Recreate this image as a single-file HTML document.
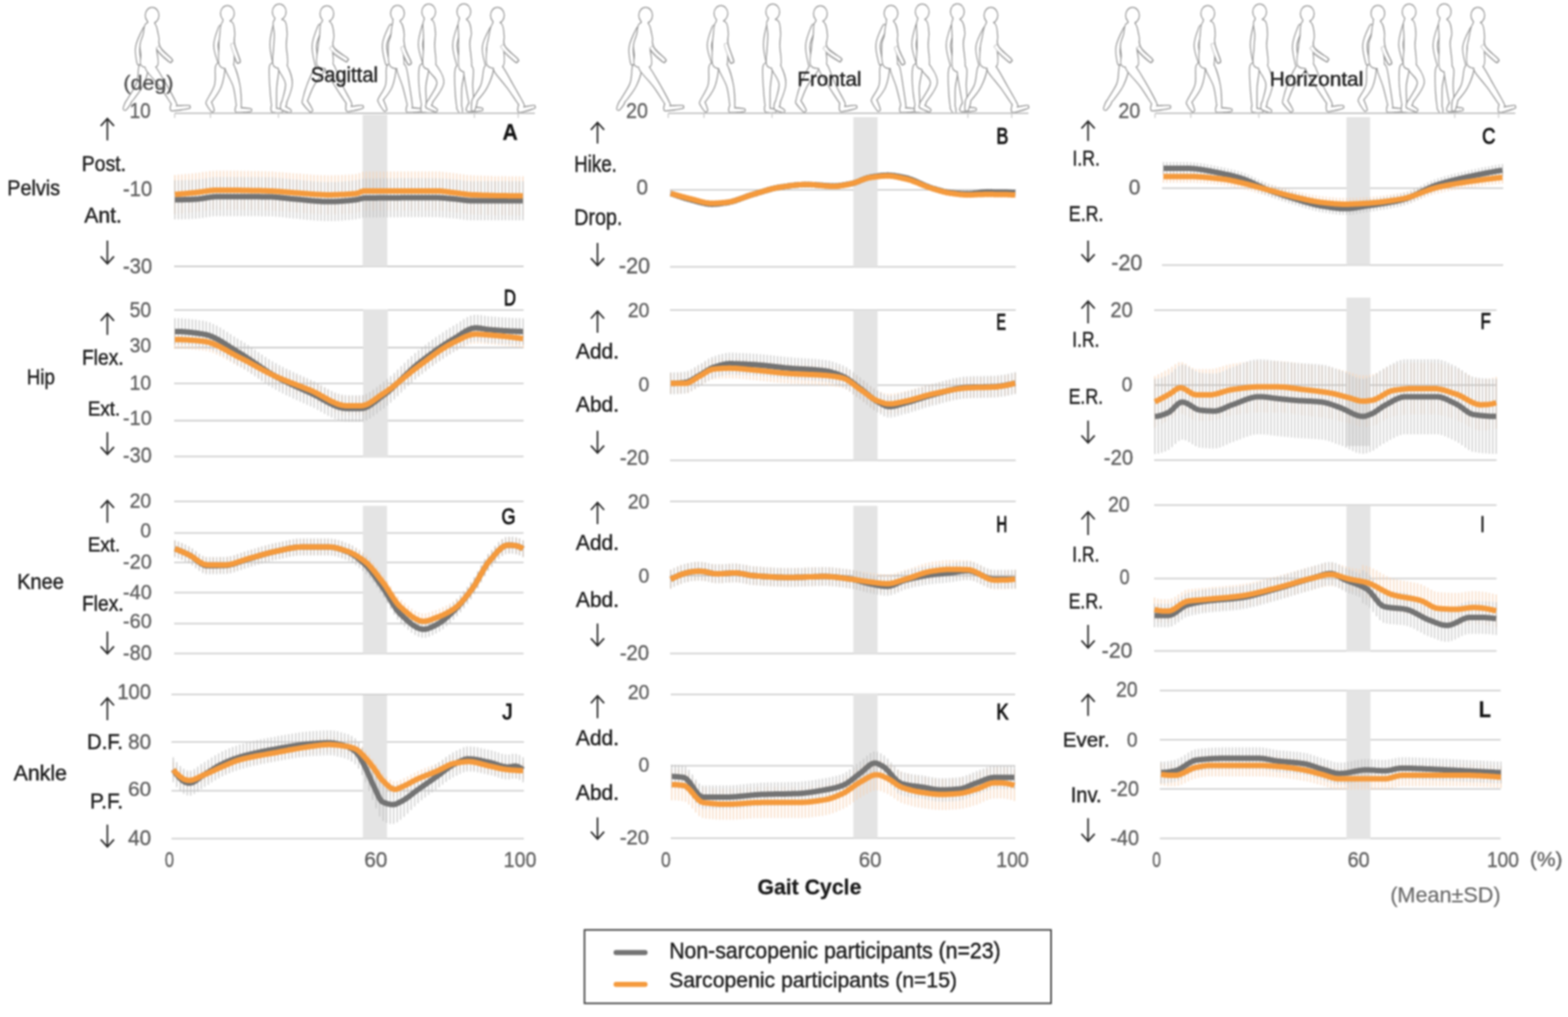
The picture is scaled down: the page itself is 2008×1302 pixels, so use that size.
<!DOCTYPE html><html><head><meta charset="utf-8"><title>Gait kinematics</title><style>html,body{margin:0;padding:0;background:#fff;}svg{display:block;filter:blur(0.8px);}</style></head><body><svg width="2008" height="1302" viewBox="0 0 2008 1302" font-family="'Liberation Sans', Arial, sans-serif"><g><rect x="0" y="0" width="2008" height="1302" fill="#fff"/>
<g transform="translate(-632,0)"><path d="M815.52 36.93 C813.42 40.91 807.60 52.43 806.33 59.64 C805.06 66.84 807.27 76.45 807.91 80.16 C808.54 83.87 809.44 81.94 810.14 81.88 C810.84 81.83 812.01 83.43 812.09 79.84 C812.18 76.26 809.27 67.16 810.67 60.36 C812.07 53.57 819.10 43.17 820.48 39.07 C821.86 34.97 819.79 36.13 818.96 35.77 C818.14 35.41 817.63 32.95 815.52 36.93Z" fill="#8c8c8c" stroke="#8c8c8c" stroke-width="2.5" stroke-linejoin="round"/><path d="M810.64 84.78 C809.04 89.01 810.10 99.22 807.49 106.54 C804.88 113.86 796.92 124.50 794.98 128.71 C793.03 132.93 795.17 131.39 795.84 131.82 C796.52 132.25 795.91 135.02 799.02 131.29 C802.14 127.56 810.78 116.81 814.51 109.46 C818.23 102.12 820.93 91.93 821.36 87.22 C821.79 82.50 818.88 81.58 817.10 81.17 C815.31 80.77 812.24 80.55 810.64 84.78Z" fill="#8c8c8c" stroke="#8c8c8c" stroke-width="2.5" stroke-linejoin="round"/><path d="M794.73 128.74 C793.25 129.88 791.01 136.18 790.43 138.13 C789.84 140.07 790.69 140.12 791.21 140.42 C791.74 140.71 792.23 141.40 793.57 139.87 C794.92 138.35 799.08 133.12 799.27 131.26 C799.47 129.41 796.20 127.59 794.73 128.74Z" fill="#8c8c8c" stroke="#8c8c8c" stroke-width="2.5" stroke-linejoin="round"/><path d="M815.52 36.93 C813.42 40.91 807.60 52.43 806.33 59.64 C805.06 66.84 807.27 76.45 807.91 80.16 C808.54 83.87 809.44 81.94 810.14 81.88 C810.84 81.83 812.01 83.43 812.09 79.84 C812.18 76.26 809.27 67.16 810.67 60.36 C812.07 53.57 819.10 43.17 820.48 39.07 C821.86 34.97 819.79 36.13 818.96 35.77 C818.14 35.41 817.63 32.95 815.52 36.93Z" fill="#fff"/><path d="M810.64 84.78 C809.04 89.01 810.10 99.22 807.49 106.54 C804.88 113.86 796.92 124.50 794.98 128.71 C793.03 132.93 795.17 131.39 795.84 131.82 C796.52 132.25 795.91 135.02 799.02 131.29 C802.14 127.56 810.78 116.81 814.51 109.46 C818.23 102.12 820.93 91.93 821.36 87.22 C821.79 82.50 818.88 81.58 817.10 81.17 C815.31 80.77 812.24 80.55 810.64 84.78Z" fill="#fff"/><path d="M794.73 128.74 C793.25 129.88 791.01 136.18 790.43 138.13 C789.84 140.07 790.69 140.12 791.21 140.42 C791.74 140.71 792.23 141.40 793.57 139.87 C794.92 138.35 799.08 133.12 799.27 131.26 C799.47 129.41 796.20 127.59 794.73 128.74Z" fill="#fff"/><path d="M819.00 31.00 C816.67 33.17 817.17 39.67 816.00 44.00 C814.83 48.33 812.50 52.67 812.00 57.00 C811.50 61.33 812.67 65.50 813.00 70.00 C813.33 74.50 810.67 81.67 814.00 84.00 C817.33 86.33 830.00 87.67 833.00 84.00 C836.00 80.33 831.67 67.33 832.00 62.00 C832.33 56.67 834.67 55.00 835.00 52.00 C835.33 49.00 834.83 47.50 834.00 44.00 C833.17 40.50 832.50 33.17 830.00 31.00 C827.50 28.83 821.33 28.83 819.00 31.00Z" fill="#8c8c8c" stroke="#8c8c8c" stroke-width="2.5" stroke-linejoin="round"/><path d="M819.55 89.23 C822.18 93.92 831.27 102.60 836.83 110.10 C842.40 117.60 849.73 130.11 852.94 134.23 C856.16 138.36 855.43 135.26 856.11 134.85 C856.80 134.44 859.22 136.59 857.06 131.77 C854.90 126.94 847.94 114.07 843.17 105.90 C838.40 97.74 832.13 86.75 828.45 82.77 C824.77 78.78 822.57 80.92 821.09 82.00 C819.61 83.08 816.93 84.55 819.55 89.23Z" fill="#8c8c8c" stroke="#8c8c8c" stroke-width="2.5" stroke-linejoin="round"/><path d="M852.53 132.18 C851.43 132.92 850.85 136.81 850.82 138.27 C850.79 139.74 851.62 140.72 852.35 140.96 C853.07 141.21 854.33 140.92 855.18 139.73 C856.04 138.54 857.91 135.08 857.47 133.82 C857.03 132.56 853.64 131.44 852.53 132.18Z" fill="#8c8c8c" stroke="#8c8c8c" stroke-width="2.5" stroke-linejoin="round"/><path d="M853.23 141.29 C856.93 141.19 869.63 139.33 873.16 138.59 C876.69 137.85 874.49 137.39 874.43 136.86 C874.38 136.33 876.45 135.43 872.84 135.41 C869.23 135.38 856.42 136.08 852.77 136.71 C849.12 137.34 850.86 138.44 850.94 139.21 C851.02 139.97 849.53 141.39 853.23 141.29Z" fill="#8c8c8c" stroke="#8c8c8c" stroke-width="2.5" stroke-linejoin="round"/><path d="M822.81 25.41 C821.64 26.68 820.81 31.98 821.81 33.38 C822.80 34.78 827.63 35.08 828.79 33.82 C829.96 32.55 829.79 27.19 828.79 25.79 C827.80 24.39 823.97 24.15 822.81 25.41Z" fill="#8c8c8c" stroke="#8c8c8c" stroke-width="2.5" stroke-linejoin="round"/><path d="M818.60 19.60 a8.2 9.5 0 1 0 16.4 0 a8.2 9.5 0 1 0 -16.4 0Z" fill="#8c8c8c" stroke="#8c8c8c" stroke-width="2.5" stroke-linejoin="round"/><path d="M827.37 40.60 C827.97 44.84 829.55 56.75 833.07 63.06 C836.60 69.38 845.47 75.94 848.52 78.48 C851.56 81.03 850.84 78.83 851.34 78.34 C851.83 77.84 853.89 78.42 851.48 75.52 C849.08 72.62 840.07 66.96 836.93 60.94 C833.78 54.92 833.88 43.29 832.63 39.40 C831.39 35.52 830.34 37.43 829.46 37.63 C828.58 37.83 826.77 36.36 827.37 40.60Z" fill="#8c8c8c" stroke="#8c8c8c" stroke-width="2.5" stroke-linejoin="round"/><path d="M819.00 31.00 C816.67 33.17 817.17 39.67 816.00 44.00 C814.83 48.33 812.50 52.67 812.00 57.00 C811.50 61.33 812.67 65.50 813.00 70.00 C813.33 74.50 810.67 81.67 814.00 84.00 C817.33 86.33 830.00 87.67 833.00 84.00 C836.00 80.33 831.67 67.33 832.00 62.00 C832.33 56.67 834.67 55.00 835.00 52.00 C835.33 49.00 834.83 47.50 834.00 44.00 C833.17 40.50 832.50 33.17 830.00 31.00 C827.50 28.83 821.33 28.83 819.00 31.00Z" fill="#fff"/><path d="M819.55 89.23 C822.18 93.92 831.27 102.60 836.83 110.10 C842.40 117.60 849.73 130.11 852.94 134.23 C856.16 138.36 855.43 135.26 856.11 134.85 C856.80 134.44 859.22 136.59 857.06 131.77 C854.90 126.94 847.94 114.07 843.17 105.90 C838.40 97.74 832.13 86.75 828.45 82.77 C824.77 78.78 822.57 80.92 821.09 82.00 C819.61 83.08 816.93 84.55 819.55 89.23Z" fill="#fff"/><path d="M852.53 132.18 C851.43 132.92 850.85 136.81 850.82 138.27 C850.79 139.74 851.62 140.72 852.35 140.96 C853.07 141.21 854.33 140.92 855.18 139.73 C856.04 138.54 857.91 135.08 857.47 133.82 C857.03 132.56 853.64 131.44 852.53 132.18Z" fill="#fff"/><path d="M853.23 141.29 C856.93 141.19 869.63 139.33 873.16 138.59 C876.69 137.85 874.49 137.39 874.43 136.86 C874.38 136.33 876.45 135.43 872.84 135.41 C869.23 135.38 856.42 136.08 852.77 136.71 C849.12 137.34 850.86 138.44 850.94 139.21 C851.02 139.97 849.53 141.39 853.23 141.29Z" fill="#fff"/><path d="M822.81 25.41 C821.64 26.68 820.81 31.98 821.81 33.38 C822.80 34.78 827.63 35.08 828.79 33.82 C829.96 32.55 829.79 27.19 828.79 25.79 C827.80 24.39 823.97 24.15 822.81 25.41Z" fill="#fff"/><path d="M818.60 19.60 a8.2 9.5 0 1 0 16.4 0 a8.2 9.5 0 1 0 -16.4 0Z" fill="#fff"/><path d="M827.37 40.60 C827.97 44.84 829.55 56.75 833.07 63.06 C836.60 69.38 845.47 75.94 848.52 78.48 C851.56 81.03 850.84 78.83 851.34 78.34 C851.83 77.84 853.89 78.42 851.48 75.52 C849.08 72.62 840.07 66.96 836.93 60.94 C833.78 54.92 833.88 43.29 832.63 39.40 C831.39 35.52 830.34 37.43 829.46 37.63 C828.58 37.83 826.77 36.36 827.37 40.60Z" fill="#fff"/><path d="M833.30 63.70 C835.80 66.70 845.47 76.08 848.48 78.52 C851.49 80.97 850.86 78.88 851.37 78.37 C851.88 77.86 853.97 78.49 851.52 75.48 C849.08 72.47 839.70 62.80 836.70 60.30 C833.69 57.80 834.04 59.91 833.47 60.47 C832.91 61.04 830.80 60.69 833.30 63.70Z" fill="none" stroke="#8c8c8c" stroke-width="1.0" stroke-opacity="0.6"/><path d="M912.41 35.23 C910.85 39.28 906.38 50.41 906.30 57.95 C906.23 65.50 910.60 76.53 911.96 80.51 C913.32 84.49 913.78 82.00 914.46 81.83 C915.14 81.66 916.66 83.46 916.04 79.49 C915.41 75.53 910.44 65.17 910.70 58.05 C910.96 50.93 916.76 40.83 917.59 36.77 C918.42 32.70 916.55 33.92 915.69 33.67 C914.83 33.41 913.98 31.19 912.41 35.23Z" fill="#8c8c8c" stroke="#8c8c8c" stroke-width="2.5" stroke-linejoin="round"/><path d="M908.54 85.32 C907.34 89.94 909.33 101.38 907.40 108.80 C905.46 116.21 898.49 125.80 896.92 129.81 C895.34 133.82 897.23 132.48 897.93 132.88 C898.62 133.27 898.30 135.80 901.08 132.19 C903.86 128.58 911.54 118.79 914.60 111.20 C917.67 103.62 919.46 91.70 919.46 86.68 C919.46 81.66 916.43 81.32 914.61 81.09 C912.79 80.86 909.75 80.70 908.54 85.32Z" fill="#8c8c8c" stroke="#8c8c8c" stroke-width="2.5" stroke-linejoin="round"/><path d="M896.67 132.16 C896.85 134.16 901.05 140.09 902.39 141.80 C903.73 143.52 904.19 142.72 904.72 142.45 C905.26 142.18 906.18 142.30 905.61 140.20 C905.04 138.09 902.81 131.18 901.33 129.84 C899.84 128.50 896.50 130.17 896.67 132.16Z" fill="#8c8c8c" stroke="#8c8c8c" stroke-width="2.5" stroke-linejoin="round"/><path d="M912.41 35.23 C910.85 39.28 906.38 50.41 906.30 57.95 C906.23 65.50 910.60 76.53 911.96 80.51 C913.32 84.49 913.78 82.00 914.46 81.83 C915.14 81.66 916.66 83.46 916.04 79.49 C915.41 75.53 910.44 65.17 910.70 58.05 C910.96 50.93 916.76 40.83 917.59 36.77 C918.42 32.70 916.55 33.92 915.69 33.67 C914.83 33.41 913.98 31.19 912.41 35.23Z" fill="#fff"/><path d="M908.54 85.32 C907.34 89.94 909.33 101.38 907.40 108.80 C905.46 116.21 898.49 125.80 896.92 129.81 C895.34 133.82 897.23 132.48 897.93 132.88 C898.62 133.27 898.30 135.80 901.08 132.19 C903.86 128.58 911.54 118.79 914.60 111.20 C917.67 103.62 919.46 91.70 919.46 86.68 C919.46 81.66 916.43 81.32 914.61 81.09 C912.79 80.86 909.75 80.70 908.54 85.32Z" fill="#fff"/><path d="M896.67 132.16 C896.85 134.16 901.05 140.09 902.39 141.80 C903.73 143.52 904.19 142.72 904.72 142.45 C905.26 142.18 906.18 142.30 905.61 140.20 C905.04 138.09 902.81 131.18 901.33 129.84 C899.84 128.50 896.50 130.17 896.67 132.16Z" fill="#fff"/><path d="M917.00 29.00 C914.50 31.83 914.67 40.83 914.00 46.00 C913.33 51.17 913.00 53.67 913.00 60.00 C913.00 66.33 911.17 80.00 914.00 84.00 C916.83 88.00 927.17 88.83 930.00 84.00 C932.83 79.17 930.67 62.00 931.00 55.00 C931.33 48.00 932.33 46.33 932.00 42.00 C931.67 37.67 931.50 31.17 929.00 29.00 C926.50 26.83 919.50 26.17 917.00 29.00Z" fill="#8c8c8c" stroke="#8c8c8c" stroke-width="2.5" stroke-linejoin="round"/><path d="M920.85 87.93 C922.02 92.85 928.85 102.83 931.31 110.89 C933.77 118.95 934.46 131.73 935.62 136.28 C936.77 140.82 937.45 138.24 938.25 138.15 C939.04 138.05 940.31 140.56 940.38 135.72 C940.46 130.89 940.23 117.72 938.69 109.11 C937.15 100.50 933.56 88.69 931.15 84.07 C928.74 79.44 925.98 80.72 924.26 81.37 C922.55 82.01 919.68 83.01 920.85 87.93Z" fill="#8c8c8c" stroke="#8c8c8c" stroke-width="2.5" stroke-linejoin="round"/><path d="M935.59 135.03 C934.49 135.56 933.92 138.83 933.86 140.15 C933.81 141.46 934.52 142.64 935.23 142.92 C935.94 143.21 937.27 142.85 938.14 141.85 C939.00 140.86 940.84 138.10 940.41 136.97 C939.99 135.83 936.68 134.50 935.59 135.03Z" fill="#8c8c8c" stroke="#8c8c8c" stroke-width="2.5" stroke-linejoin="round"/><path d="M936.00 143.30 C939.01 143.57 949.09 142.98 952.00 142.60 C954.91 142.22 953.44 141.53 953.44 141.00 C953.44 140.47 954.91 139.78 952.00 139.40 C949.09 139.02 939.01 138.43 936.00 138.70 C932.99 138.97 933.93 140.23 933.93 141.00 C933.93 141.77 932.99 143.03 936.00 143.30Z" fill="#8c8c8c" stroke="#8c8c8c" stroke-width="2.5" stroke-linejoin="round"/><path d="M919.21 23.11 C918.04 24.38 917.21 29.68 918.21 31.08 C919.20 32.48 924.03 32.78 925.19 31.52 C926.36 30.25 926.19 24.89 925.19 23.49 C924.20 22.09 920.37 21.85 919.21 23.11Z" fill="#8c8c8c" stroke="#8c8c8c" stroke-width="2.5" stroke-linejoin="round"/><path d="M915.00 17.30 a8.2 9.5 0 1 0 16.4 0 a8.2 9.5 0 1 0 -16.4 0Z" fill="#8c8c8c" stroke="#8c8c8c" stroke-width="2.5" stroke-linejoin="round"/><path d="M924.32 36.36 C924.52 40.52 926.08 51.46 927.86 58.51 C929.64 65.57 933.39 75.15 935.02 78.69 C936.65 82.24 936.96 80.02 937.62 79.78 C938.29 79.55 939.90 81.02 938.98 77.31 C938.07 73.59 933.69 64.43 932.14 57.49 C930.59 50.54 930.59 39.62 929.68 35.64 C928.76 31.65 927.56 33.47 926.67 33.59 C925.78 33.71 924.13 32.21 924.32 36.36Z" fill="#8c8c8c" stroke="#8c8c8c" stroke-width="2.5" stroke-linejoin="round"/><path d="M917.00 29.00 C914.50 31.83 914.67 40.83 914.00 46.00 C913.33 51.17 913.00 53.67 913.00 60.00 C913.00 66.33 911.17 80.00 914.00 84.00 C916.83 88.00 927.17 88.83 930.00 84.00 C932.83 79.17 930.67 62.00 931.00 55.00 C931.33 48.00 932.33 46.33 932.00 42.00 C931.67 37.67 931.50 31.17 929.00 29.00 C926.50 26.83 919.50 26.17 917.00 29.00Z" fill="#fff"/><path d="M920.85 87.93 C922.02 92.85 928.85 102.83 931.31 110.89 C933.77 118.95 934.46 131.73 935.62 136.28 C936.77 140.82 937.45 138.24 938.25 138.15 C939.04 138.05 940.31 140.56 940.38 135.72 C940.46 130.89 940.23 117.72 938.69 109.11 C937.15 100.50 933.56 88.69 931.15 84.07 C928.74 79.44 925.98 80.72 924.26 81.37 C922.55 82.01 919.68 83.01 920.85 87.93Z" fill="#fff"/><path d="M935.59 135.03 C934.49 135.56 933.92 138.83 933.86 140.15 C933.81 141.46 934.52 142.64 935.23 142.92 C935.94 143.21 937.27 142.85 938.14 141.85 C939.00 140.86 940.84 138.10 940.41 136.97 C939.99 135.83 936.68 134.50 935.59 135.03Z" fill="#fff"/><path d="M936.00 143.30 C939.01 143.57 949.09 142.98 952.00 142.60 C954.91 142.22 953.44 141.53 953.44 141.00 C953.44 140.47 954.91 139.78 952.00 139.40 C949.09 139.02 939.01 138.43 936.00 138.70 C932.99 138.97 933.93 140.23 933.93 141.00 C933.93 141.77 932.99 143.03 936.00 143.30Z" fill="#fff"/><path d="M919.21 23.11 C918.04 24.38 917.21 29.68 918.21 31.08 C919.20 32.48 924.03 32.78 925.19 31.52 C926.36 30.25 926.19 24.89 925.19 23.49 C924.20 22.09 920.37 21.85 919.21 23.11Z" fill="#fff"/><path d="M915.00 17.30 a8.2 9.5 0 1 0 16.4 0 a8.2 9.5 0 1 0 -16.4 0Z" fill="#fff"/><path d="M924.32 36.36 C924.52 40.52 926.08 51.46 927.86 58.51 C929.64 65.57 933.39 75.15 935.02 78.69 C936.65 82.24 936.96 80.02 937.62 79.78 C938.29 79.55 939.90 81.02 938.98 77.31 C938.07 73.59 933.69 64.43 932.14 57.49 C930.59 50.54 930.59 39.62 929.68 35.64 C928.76 31.65 927.56 33.47 926.67 33.59 C925.78 33.71 924.13 32.21 924.32 36.36Z" fill="#fff"/><path d="M927.73 58.79 C928.68 62.58 933.32 75.20 934.97 78.71 C936.62 82.22 936.96 80.06 937.64 79.83 C938.32 79.59 939.92 81.06 939.03 77.29 C938.13 73.52 933.89 60.76 932.27 57.21 C930.64 53.65 930.04 55.70 929.29 55.96 C928.53 56.23 926.79 55.00 927.73 58.79Z" fill="none" stroke="#8c8c8c" stroke-width="1.0" stroke-opacity="0.6"/><path d="M982.35 32.50 C981.15 36.89 978.37 48.99 978.30 56.96 C978.23 64.93 980.93 76.16 981.92 80.32 C982.92 84.47 983.59 81.97 984.28 81.87 C984.98 81.76 986.34 83.82 986.08 79.68 C985.81 75.55 982.44 64.74 982.70 57.04 C982.96 49.34 987.20 37.90 987.65 33.50 C988.11 29.09 986.33 30.78 985.45 30.61 C984.56 30.45 983.54 28.11 982.35 32.50Z" fill="#8c8c8c" stroke="#8c8c8c" stroke-width="2.5" stroke-linejoin="round"/><path d="M977.50 85.79 C976.67 90.95 977.68 103.62 978.20 112.01 C978.72 120.39 979.79 131.74 980.60 136.10 C981.42 140.46 982.29 138.19 983.09 138.16 C983.89 138.12 984.95 140.26 985.40 135.90 C985.85 131.54 985.28 120.28 985.80 111.99 C986.32 103.71 988.93 91.37 988.50 86.21 C988.06 81.05 985.02 81.12 983.19 81.05 C981.36 80.98 978.34 80.63 977.50 85.79Z" fill="#8c8c8c" stroke="#8c8c8c" stroke-width="2.5" stroke-linejoin="round"/><path d="M980.45 135.49 C979.48 136.16 979.55 139.29 979.74 140.55 C979.94 141.81 980.84 142.88 981.59 143.03 C982.35 143.18 983.60 142.54 984.26 141.45 C984.91 140.36 986.18 137.50 985.55 136.51 C984.92 135.52 981.42 134.82 980.45 135.49Z" fill="#8c8c8c" stroke="#8c8c8c" stroke-width="2.5" stroke-linejoin="round"/><path d="M981.77 143.29 C983.75 143.75 989.90 143.78 991.84 143.59 C993.78 143.40 993.38 142.67 993.43 142.14 C993.49 141.61 994.03 140.98 992.16 140.41 C990.29 139.84 984.27 138.65 982.23 138.71 C980.19 138.78 980.02 140.03 979.94 140.79 C979.86 141.56 979.79 142.82 981.77 143.29Z" fill="#8c8c8c" stroke="#8c8c8c" stroke-width="2.5" stroke-linejoin="round"/><path d="M982.35 32.50 C981.15 36.89 978.37 48.99 978.30 56.96 C978.23 64.93 980.93 76.16 981.92 80.32 C982.92 84.47 983.59 81.97 984.28 81.87 C984.98 81.76 986.34 83.82 986.08 79.68 C985.81 75.55 982.44 64.74 982.70 57.04 C982.96 49.34 987.20 37.90 987.65 33.50 C988.11 29.09 986.33 30.78 985.45 30.61 C984.56 30.45 983.54 28.11 982.35 32.50Z" fill="#fff"/><path d="M977.50 85.79 C976.67 90.95 977.68 103.62 978.20 112.01 C978.72 120.39 979.79 131.74 980.60 136.10 C981.42 140.46 982.29 138.19 983.09 138.16 C983.89 138.12 984.95 140.26 985.40 135.90 C985.85 131.54 985.28 120.28 985.80 111.99 C986.32 103.71 988.93 91.37 988.50 86.21 C988.06 81.05 985.02 81.12 983.19 81.05 C981.36 80.98 978.34 80.63 977.50 85.79Z" fill="#fff"/><path d="M980.45 135.49 C979.48 136.16 979.55 139.29 979.74 140.55 C979.94 141.81 980.84 142.88 981.59 143.03 C982.35 143.18 983.60 142.54 984.26 141.45 C984.91 140.36 986.18 137.50 985.55 136.51 C984.92 135.52 981.42 134.82 980.45 135.49Z" fill="#fff"/><path d="M981.77 143.29 C983.75 143.75 989.90 143.78 991.84 143.59 C993.78 143.40 993.38 142.67 993.43 142.14 C993.49 141.61 994.03 140.98 992.16 140.41 C990.29 139.84 984.27 138.65 982.23 138.71 C980.19 138.78 980.02 140.03 979.94 140.79 C979.86 141.56 979.79 142.82 981.77 143.29Z" fill="#fff"/><path d="M983.00 27.00 C981.00 30.00 984.00 39.17 984.00 45.00 C984.00 50.83 983.17 55.50 983.00 62.00 C982.83 68.50 980.33 80.33 983.00 84.00 C985.67 87.67 996.50 88.33 999.00 84.00 C1001.50 79.67 998.00 65.00 998.00 58.00 C998.00 51.00 999.33 47.17 999.00 42.00 C998.67 36.83 998.67 29.50 996.00 27.00 C993.33 24.50 985.00 24.00 983.00 27.00Z" fill="#8c8c8c" stroke="#8c8c8c" stroke-width="2.5" stroke-linejoin="round"/><path d="M988.86 87.96 C989.86 92.27 997.40 100.15 998.21 107.23 C999.01 114.30 994.13 126.11 993.67 130.42 C993.22 134.73 994.70 132.90 995.48 133.10 C996.25 133.29 996.61 135.97 998.33 131.58 C1000.05 127.20 1005.66 114.70 1005.79 106.77 C1005.93 98.85 1001.40 88.28 999.14 84.04 C996.88 79.81 993.95 80.72 992.24 81.37 C990.52 82.03 987.87 83.65 988.86 87.96Z" fill="#8c8c8c" stroke="#8c8c8c" stroke-width="2.5" stroke-linejoin="round"/><path d="M993.50 130.29 C992.38 131.23 991.80 135.75 991.79 137.37 C991.78 138.99 992.69 139.78 993.43 139.99 C994.17 140.20 995.37 140.01 996.21 138.63 C997.06 137.25 998.95 133.11 998.50 131.71 C998.05 130.32 994.62 129.34 993.50 130.29Z" fill="#8c8c8c" stroke="#8c8c8c" stroke-width="2.5" stroke-linejoin="round"/><path d="M993.07 140.10 C994.77 141.15 1000.48 143.05 1002.35 143.46 C1004.23 143.88 1004.10 143.07 1004.32 142.58 C1004.53 142.10 1005.21 141.65 1003.65 140.54 C1002.09 139.42 996.86 136.46 994.93 135.90 C993.01 135.34 992.42 136.46 992.11 137.16 C991.80 137.86 991.36 139.05 993.07 140.10Z" fill="#8c8c8c" stroke="#8c8c8c" stroke-width="2.5" stroke-linejoin="round"/><path d="M985.61 21.11 C984.44 22.38 983.61 27.68 984.61 29.08 C985.60 30.48 990.43 30.78 991.59 29.52 C992.76 28.25 992.59 22.89 991.59 21.49 C990.60 20.09 986.77 19.85 985.61 21.11Z" fill="#8c8c8c" stroke="#8c8c8c" stroke-width="2.5" stroke-linejoin="round"/><path d="M981.40 15.30 a8.2 9.5 0 1 0 16.4 0 a8.2 9.5 0 1 0 -16.4 0Z" fill="#8c8c8c" stroke="#8c8c8c" stroke-width="2.5" stroke-linejoin="round"/><path d="M990.30 33.00 C989.93 37.41 990.53 49.20 990.80 57.05 C991.07 64.90 991.36 75.95 991.90 80.09 C992.45 84.23 993.38 81.92 994.08 81.89 C994.78 81.86 995.91 84.06 996.10 79.91 C996.28 75.75 995.27 64.77 995.20 56.95 C995.13 49.13 996.07 37.40 995.70 33.00 C995.33 28.60 993.90 30.57 993.00 30.57 C992.10 30.57 990.67 28.59 990.30 33.00Z" fill="#8c8c8c" stroke="#8c8c8c" stroke-width="2.5" stroke-linejoin="round"/><path d="M983.00 27.00 C981.00 30.00 984.00 39.17 984.00 45.00 C984.00 50.83 983.17 55.50 983.00 62.00 C982.83 68.50 980.33 80.33 983.00 84.00 C985.67 87.67 996.50 88.33 999.00 84.00 C1001.50 79.67 998.00 65.00 998.00 58.00 C998.00 51.00 999.33 47.17 999.00 42.00 C998.67 36.83 998.67 29.50 996.00 27.00 C993.33 24.50 985.00 24.00 983.00 27.00Z" fill="#fff"/><path d="M988.86 87.96 C989.86 92.27 997.40 100.15 998.21 107.23 C999.01 114.30 994.13 126.11 993.67 130.42 C993.22 134.73 994.70 132.90 995.48 133.10 C996.25 133.29 996.61 135.97 998.33 131.58 C1000.05 127.20 1005.66 114.70 1005.79 106.77 C1005.93 98.85 1001.40 88.28 999.14 84.04 C996.88 79.81 993.95 80.72 992.24 81.37 C990.52 82.03 987.87 83.65 988.86 87.96Z" fill="#fff"/><path d="M993.50 130.29 C992.38 131.23 991.80 135.75 991.79 137.37 C991.78 138.99 992.69 139.78 993.43 139.99 C994.17 140.20 995.37 140.01 996.21 138.63 C997.06 137.25 998.95 133.11 998.50 131.71 C998.05 130.32 994.62 129.34 993.50 130.29Z" fill="#fff"/><path d="M993.07 140.10 C994.77 141.15 1000.48 143.05 1002.35 143.46 C1004.23 143.88 1004.10 143.07 1004.32 142.58 C1004.53 142.10 1005.21 141.65 1003.65 140.54 C1002.09 139.42 996.86 136.46 994.93 135.90 C993.01 135.34 992.42 136.46 992.11 137.16 C991.80 137.86 991.36 139.05 993.07 140.10Z" fill="#fff"/><path d="M985.61 21.11 C984.44 22.38 983.61 27.68 984.61 29.08 C985.60 30.48 990.43 30.78 991.59 29.52 C992.76 28.25 992.59 22.89 991.59 21.49 C990.60 20.09 986.77 19.85 985.61 21.11Z" fill="#fff"/><path d="M981.40 15.30 a8.2 9.5 0 1 0 16.4 0 a8.2 9.5 0 1 0 -16.4 0Z" fill="#fff"/><path d="M990.30 33.00 C989.93 37.41 990.53 49.20 990.80 57.05 C991.07 64.90 991.36 75.95 991.90 80.09 C992.45 84.23 993.38 81.92 994.08 81.89 C994.78 81.86 995.91 84.06 996.10 79.91 C996.28 75.75 995.27 64.77 995.20 56.95 C995.13 49.13 996.07 37.40 995.70 33.00 C995.33 28.60 993.90 30.57 993.00 30.57 C992.10 30.57 990.67 28.59 990.30 33.00Z" fill="#fff"/><path d="M1039.43 34.16 C1037.69 38.35 1032.89 49.79 1032.31 57.81 C1031.72 65.84 1034.93 77.96 1035.92 82.30 C1036.92 86.65 1037.58 83.97 1038.27 83.87 C1038.97 83.77 1040.34 85.98 1040.08 81.70 C1039.81 77.42 1035.94 65.83 1036.69 58.19 C1037.44 50.54 1043.56 40.09 1044.57 35.84 C1045.58 31.59 1043.61 32.97 1042.75 32.69 C1041.90 32.41 1041.17 29.98 1039.43 34.16Z" fill="#8c8c8c" stroke="#8c8c8c" stroke-width="2.5" stroke-linejoin="round"/><path d="M1038.26 83.20 C1035.11 87.31 1029.65 98.71 1026.56 106.38 C1023.48 114.04 1020.63 124.90 1019.74 129.18 C1018.86 133.46 1020.51 131.76 1021.26 132.03 C1022.01 132.30 1022.23 134.55 1024.26 130.82 C1026.28 127.09 1029.52 116.63 1033.44 109.62 C1037.35 102.62 1045.72 93.45 1047.74 88.80 C1049.75 84.15 1047.10 82.67 1045.52 81.74 C1043.94 80.81 1041.42 79.10 1038.26 83.20Z" fill="#8c8c8c" stroke="#8c8c8c" stroke-width="2.5" stroke-linejoin="round"/><path d="M1019.90 131.53 C1020.64 133.79 1026.70 140.26 1028.54 142.06 C1030.39 143.86 1030.47 142.66 1030.95 142.31 C1031.44 141.96 1032.60 142.25 1031.46 139.94 C1030.31 137.63 1026.03 129.87 1024.10 128.47 C1022.18 127.07 1019.16 129.26 1019.90 131.53Z" fill="#8c8c8c" stroke="#8c8c8c" stroke-width="2.5" stroke-linejoin="round"/><path d="M1039.43 34.16 C1037.69 38.35 1032.89 49.79 1032.31 57.81 C1031.72 65.84 1034.93 77.96 1035.92 82.30 C1036.92 86.65 1037.58 83.97 1038.27 83.87 C1038.97 83.77 1040.34 85.98 1040.08 81.70 C1039.81 77.42 1035.94 65.83 1036.69 58.19 C1037.44 50.54 1043.56 40.09 1044.57 35.84 C1045.58 31.59 1043.61 32.97 1042.75 32.69 C1041.90 32.41 1041.17 29.98 1039.43 34.16Z" fill="#fff"/><path d="M1038.26 83.20 C1035.11 87.31 1029.65 98.71 1026.56 106.38 C1023.48 114.04 1020.63 124.90 1019.74 129.18 C1018.86 133.46 1020.51 131.76 1021.26 132.03 C1022.01 132.30 1022.23 134.55 1024.26 130.82 C1026.28 127.09 1029.52 116.63 1033.44 109.62 C1037.35 102.62 1045.72 93.45 1047.74 88.80 C1049.75 84.15 1047.10 82.67 1045.52 81.74 C1043.94 80.81 1041.42 79.10 1038.26 83.20Z" fill="#fff"/><path d="M1019.90 131.53 C1020.64 133.79 1026.70 140.26 1028.54 142.06 C1030.39 143.86 1030.47 142.66 1030.95 142.31 C1031.44 141.96 1032.60 142.25 1031.46 139.94 C1030.31 137.63 1026.03 129.87 1024.10 128.47 C1022.18 127.07 1019.16 129.26 1019.90 131.53Z" fill="#fff"/><path d="M1044.00 29.00 C1041.83 31.83 1042.67 40.83 1042.00 46.00 C1041.33 51.17 1040.50 53.67 1040.00 60.00 C1039.50 66.33 1036.17 80.00 1039.00 84.00 C1041.83 88.00 1054.00 88.00 1057.00 84.00 C1060.00 80.00 1056.67 66.50 1057.00 60.00 C1057.33 53.50 1059.33 50.17 1059.00 45.00 C1058.67 39.83 1057.50 31.67 1055.00 29.00 C1052.50 26.33 1046.17 26.17 1044.00 29.00Z" fill="#8c8c8c" stroke="#8c8c8c" stroke-width="2.5" stroke-linejoin="round"/><path d="M1049.08 88.46 C1050.89 93.50 1058.02 104.36 1062.66 111.82 C1067.30 119.28 1074.03 129.55 1076.93 133.22 C1079.84 136.89 1079.41 134.27 1080.10 133.86 C1080.79 133.45 1082.86 135.06 1081.07 130.78 C1079.27 126.50 1073.03 116.06 1069.34 108.18 C1065.65 100.31 1061.84 87.98 1058.92 83.54 C1055.99 79.11 1053.43 80.75 1051.79 81.57 C1050.15 82.39 1047.27 83.42 1049.08 88.46Z" fill="#8c8c8c" stroke="#8c8c8c" stroke-width="2.5" stroke-linejoin="round"/><path d="M1076.42 131.68 C1075.44 132.91 1075.50 137.99 1075.72 139.71 C1075.94 141.44 1076.98 141.96 1077.74 142.05 C1078.50 142.15 1079.64 141.91 1080.28 140.29 C1080.92 138.66 1082.22 133.76 1081.58 132.32 C1080.94 130.89 1077.40 130.45 1076.42 131.68Z" fill="#8c8c8c" stroke="#8c8c8c" stroke-width="2.5" stroke-linejoin="round"/><path d="M1078.40 142.27 C1081.62 141.97 1092.27 139.49 1095.28 138.58 C1098.28 137.66 1096.51 137.27 1096.42 136.75 C1096.33 136.22 1097.86 135.26 1094.72 135.42 C1091.59 135.59 1080.73 136.91 1077.60 137.73 C1074.47 138.56 1075.83 139.60 1075.96 140.36 C1076.09 141.11 1075.18 142.56 1078.40 142.27Z" fill="#8c8c8c" stroke="#8c8c8c" stroke-width="2.5" stroke-linejoin="round"/><path d="M1046.61 23.31 C1045.44 24.58 1044.61 29.88 1045.61 31.28 C1046.60 32.68 1051.43 32.98 1052.59 31.72 C1053.76 30.45 1053.59 25.09 1052.59 23.69 C1051.60 22.29 1047.77 22.05 1046.61 23.31Z" fill="#8c8c8c" stroke="#8c8c8c" stroke-width="2.5" stroke-linejoin="round"/><path d="M1042.40 17.50 a8.2 9.5 0 1 0 16.4 0 a8.2 9.5 0 1 0 -16.4 0Z" fill="#8c8c8c" stroke="#8c8c8c" stroke-width="2.5" stroke-linejoin="round"/><path d="M1051.32 36.31 C1051.54 41.22 1051.35 56.19 1055.08 63.08 C1058.81 69.97 1070.14 75.31 1073.71 77.66 C1077.28 80.00 1076.06 77.71 1076.49 77.16 C1076.92 76.61 1079.22 77.05 1076.29 74.34 C1073.36 71.64 1062.19 67.36 1058.92 60.92 C1055.65 54.48 1057.55 40.25 1056.68 35.69 C1055.82 31.13 1054.62 33.48 1053.72 33.59 C1052.83 33.69 1051.09 31.39 1051.32 36.31Z" fill="#8c8c8c" stroke="#8c8c8c" stroke-width="2.5" stroke-linejoin="round"/><path d="M1044.00 29.00 C1041.83 31.83 1042.67 40.83 1042.00 46.00 C1041.33 51.17 1040.50 53.67 1040.00 60.00 C1039.50 66.33 1036.17 80.00 1039.00 84.00 C1041.83 88.00 1054.00 88.00 1057.00 84.00 C1060.00 80.00 1056.67 66.50 1057.00 60.00 C1057.33 53.50 1059.33 50.17 1059.00 45.00 C1058.67 39.83 1057.50 31.67 1055.00 29.00 C1052.50 26.33 1046.17 26.17 1044.00 29.00Z" fill="#fff"/><path d="M1049.08 88.46 C1050.89 93.50 1058.02 104.36 1062.66 111.82 C1067.30 119.28 1074.03 129.55 1076.93 133.22 C1079.84 136.89 1079.41 134.27 1080.10 133.86 C1080.79 133.45 1082.86 135.06 1081.07 130.78 C1079.27 126.50 1073.03 116.06 1069.34 108.18 C1065.65 100.31 1061.84 87.98 1058.92 83.54 C1055.99 79.11 1053.43 80.75 1051.79 81.57 C1050.15 82.39 1047.27 83.42 1049.08 88.46Z" fill="#fff"/><path d="M1076.42 131.68 C1075.44 132.91 1075.50 137.99 1075.72 139.71 C1075.94 141.44 1076.98 141.96 1077.74 142.05 C1078.50 142.15 1079.64 141.91 1080.28 140.29 C1080.92 138.66 1082.22 133.76 1081.58 132.32 C1080.94 130.89 1077.40 130.45 1076.42 131.68Z" fill="#fff"/><path d="M1078.40 142.27 C1081.62 141.97 1092.27 139.49 1095.28 138.58 C1098.28 137.66 1096.51 137.27 1096.42 136.75 C1096.33 136.22 1097.86 135.26 1094.72 135.42 C1091.59 135.59 1080.73 136.91 1077.60 137.73 C1074.47 138.56 1075.83 139.60 1075.96 140.36 C1076.09 141.11 1075.18 142.56 1078.40 142.27Z" fill="#fff"/><path d="M1046.61 23.31 C1045.44 24.58 1044.61 29.88 1045.61 31.28 C1046.60 32.68 1051.43 32.98 1052.59 31.72 C1053.76 30.45 1053.59 25.09 1052.59 23.69 C1051.60 22.29 1047.77 22.05 1046.61 23.31Z" fill="#fff"/><path d="M1042.40 17.50 a8.2 9.5 0 1 0 16.4 0 a8.2 9.5 0 1 0 -16.4 0Z" fill="#fff"/><path d="M1051.32 36.31 C1051.54 41.22 1051.35 56.19 1055.08 63.08 C1058.81 69.97 1070.14 75.31 1073.71 77.66 C1077.28 80.00 1076.06 77.71 1076.49 77.16 C1076.92 76.61 1079.22 77.05 1076.29 74.34 C1073.36 71.64 1062.19 67.36 1058.92 60.92 C1055.65 54.48 1057.55 40.25 1056.68 35.69 C1055.82 31.13 1054.62 33.48 1053.72 33.59 C1052.83 33.69 1051.09 31.39 1051.32 36.31Z" fill="#fff"/><path d="M1055.53 63.89 C1058.59 66.73 1070.18 75.48 1073.68 77.70 C1077.18 79.91 1076.09 77.75 1076.53 77.19 C1076.97 76.62 1079.33 77.15 1076.32 74.30 C1073.31 71.46 1061.98 62.38 1058.47 60.11 C1054.97 57.83 1055.79 60.04 1055.29 60.67 C1054.80 61.31 1052.46 61.06 1055.53 63.89Z" fill="none" stroke="#8c8c8c" stroke-width="1.0" stroke-opacity="0.6"/><path d="M1130.48 34.03 C1128.55 38.03 1123.07 49.05 1122.31 56.76 C1121.55 64.48 1124.93 76.13 1125.92 80.32 C1126.92 84.50 1127.59 81.97 1128.28 81.87 C1128.98 81.76 1130.34 83.79 1130.08 79.68 C1129.81 75.58 1125.78 64.52 1126.69 57.24 C1127.59 49.95 1134.32 40.06 1135.52 35.97 C1136.72 31.89 1134.72 33.06 1133.88 32.73 C1133.04 32.41 1132.41 30.02 1130.48 34.03Z" fill="#8c8c8c" stroke="#8c8c8c" stroke-width="2.5" stroke-linejoin="round"/><path d="M1127.55 86.29 C1126.34 90.73 1128.18 101.99 1126.42 108.74 C1124.65 115.48 1118.38 123.23 1116.95 126.75 C1115.53 130.27 1117.19 129.43 1117.87 129.84 C1118.56 130.26 1118.43 132.35 1121.05 129.25 C1123.67 126.15 1130.68 118.19 1133.58 111.26 C1136.48 104.34 1138.44 92.57 1138.45 87.71 C1138.46 82.85 1135.46 82.33 1133.64 82.09 C1131.82 81.85 1128.75 81.85 1127.55 86.29Z" fill="#8c8c8c" stroke="#8c8c8c" stroke-width="2.5" stroke-linejoin="round"/><path d="M1116.67 129.16 C1117.02 131.49 1121.88 138.76 1123.39 140.80 C1124.90 142.85 1125.19 141.72 1125.72 141.45 C1126.26 141.18 1127.34 141.63 1126.61 139.20 C1125.88 136.76 1122.98 128.51 1121.33 126.84 C1119.67 125.17 1116.33 126.83 1116.67 129.16Z" fill="#8c8c8c" stroke="#8c8c8c" stroke-width="2.5" stroke-linejoin="round"/><path d="M1130.48 34.03 C1128.55 38.03 1123.07 49.05 1122.31 56.76 C1121.55 64.48 1124.93 76.13 1125.92 80.32 C1126.92 84.50 1127.59 81.97 1128.28 81.87 C1128.98 81.76 1130.34 83.79 1130.08 79.68 C1129.81 75.58 1125.78 64.52 1126.69 57.24 C1127.59 49.95 1134.32 40.06 1135.52 35.97 C1136.72 31.89 1134.72 33.06 1133.88 32.73 C1133.04 32.41 1132.41 30.02 1130.48 34.03Z" fill="#fff"/><path d="M1127.55 86.29 C1126.34 90.73 1128.18 101.99 1126.42 108.74 C1124.65 115.48 1118.38 123.23 1116.95 126.75 C1115.53 130.27 1117.19 129.43 1117.87 129.84 C1118.56 130.26 1118.43 132.35 1121.05 129.25 C1123.67 126.15 1130.68 118.19 1133.58 111.26 C1136.48 104.34 1138.44 92.57 1138.45 87.71 C1138.46 82.85 1135.46 82.33 1133.64 82.09 C1131.82 81.85 1128.75 81.85 1127.55 86.29Z" fill="#fff"/><path d="M1116.67 129.16 C1117.02 131.49 1121.88 138.76 1123.39 140.80 C1124.90 142.85 1125.19 141.72 1125.72 141.45 C1126.26 141.18 1127.34 141.63 1126.61 139.20 C1125.88 136.76 1122.98 128.51 1121.33 126.84 C1119.67 125.17 1116.33 126.83 1116.67 129.16Z" fill="#fff"/><path d="M1136.00 29.00 C1134.00 31.83 1134.00 41.17 1133.00 46.00 C1132.00 50.83 1130.17 51.67 1130.00 58.00 C1129.83 64.33 1129.00 79.67 1132.00 84.00 C1135.00 88.33 1145.50 88.00 1148.00 84.00 C1150.50 80.00 1146.83 66.67 1147.00 60.00 C1147.17 53.33 1149.33 49.17 1149.00 44.00 C1148.67 38.83 1147.17 31.50 1145.00 29.00 C1142.83 26.50 1138.00 26.17 1136.00 29.00Z" fill="#8c8c8c" stroke="#8c8c8c" stroke-width="2.5" stroke-linejoin="round"/><path d="M1140.68 88.39 C1141.27 93.16 1145.97 103.01 1148.30 110.85 C1150.62 118.70 1153.13 131.09 1154.65 135.47 C1156.17 139.85 1156.64 137.27 1157.42 137.12 C1158.21 136.96 1159.64 139.19 1159.35 134.53 C1159.07 129.87 1157.04 117.30 1155.70 109.15 C1154.36 100.99 1153.15 90.10 1151.32 85.61 C1149.50 81.12 1146.52 81.75 1144.75 82.21 C1142.98 82.67 1140.09 83.61 1140.68 88.39Z" fill="#8c8c8c" stroke="#8c8c8c" stroke-width="2.5" stroke-linejoin="round"/><path d="M1154.53 134.18 C1153.43 134.92 1152.85 138.81 1152.82 140.27 C1152.79 141.74 1153.62 142.72 1154.35 142.96 C1155.07 143.21 1156.33 142.92 1157.18 141.73 C1158.04 140.54 1159.91 137.08 1159.47 135.82 C1159.03 134.56 1155.64 133.44 1154.53 134.18Z" fill="#8c8c8c" stroke="#8c8c8c" stroke-width="2.5" stroke-linejoin="round"/><path d="M1155.00 143.30 C1157.85 143.57 1167.26 142.98 1170.00 142.60 C1172.74 142.22 1171.44 141.53 1171.44 141.00 C1171.44 140.47 1172.74 139.78 1170.00 139.40 C1167.26 139.02 1157.85 138.43 1155.00 138.70 C1152.15 138.97 1152.93 140.23 1152.93 141.00 C1152.93 141.77 1152.15 143.03 1155.00 143.30Z" fill="#8c8c8c" stroke="#8c8c8c" stroke-width="2.5" stroke-linejoin="round"/><path d="M1137.01 22.81 C1135.84 24.08 1135.01 29.38 1136.01 30.78 C1137.00 32.18 1141.83 32.48 1142.99 31.22 C1144.16 29.95 1143.99 24.59 1142.99 23.19 C1142.00 21.79 1138.17 21.55 1137.01 22.81Z" fill="#8c8c8c" stroke="#8c8c8c" stroke-width="2.5" stroke-linejoin="round"/><path d="M1132.80 17.00 a8.2 9.5 0 1 0 16.4 0 a8.2 9.5 0 1 0 -16.4 0Z" fill="#8c8c8c" stroke="#8c8c8c" stroke-width="2.5" stroke-linejoin="round"/><path d="M1141.33 35.40 C1141.70 40.40 1143.76 55.04 1145.89 62.61 C1148.01 70.19 1152.27 77.67 1154.08 80.85 C1155.89 84.04 1156.13 82.01 1156.77 81.73 C1157.41 81.44 1159.03 82.54 1157.92 79.15 C1156.81 75.76 1151.99 68.81 1150.11 61.39 C1148.24 53.96 1147.75 39.40 1146.67 34.60 C1145.59 29.81 1144.53 32.46 1143.64 32.60 C1142.75 32.73 1140.96 30.39 1141.33 35.40Z" fill="#8c8c8c" stroke="#8c8c8c" stroke-width="2.5" stroke-linejoin="round"/><path d="M1136.00 29.00 C1134.00 31.83 1134.00 41.17 1133.00 46.00 C1132.00 50.83 1130.17 51.67 1130.00 58.00 C1129.83 64.33 1129.00 79.67 1132.00 84.00 C1135.00 88.33 1145.50 88.00 1148.00 84.00 C1150.50 80.00 1146.83 66.67 1147.00 60.00 C1147.17 53.33 1149.33 49.17 1149.00 44.00 C1148.67 38.83 1147.17 31.50 1145.00 29.00 C1142.83 26.50 1138.00 26.17 1136.00 29.00Z" fill="#fff"/><path d="M1140.68 88.39 C1141.27 93.16 1145.97 103.01 1148.30 110.85 C1150.62 118.70 1153.13 131.09 1154.65 135.47 C1156.17 139.85 1156.64 137.27 1157.42 137.12 C1158.21 136.96 1159.64 139.19 1159.35 134.53 C1159.07 129.87 1157.04 117.30 1155.70 109.15 C1154.36 100.99 1153.15 90.10 1151.32 85.61 C1149.50 81.12 1146.52 81.75 1144.75 82.21 C1142.98 82.67 1140.09 83.61 1140.68 88.39Z" fill="#fff"/><path d="M1154.53 134.18 C1153.43 134.92 1152.85 138.81 1152.82 140.27 C1152.79 141.74 1153.62 142.72 1154.35 142.96 C1155.07 143.21 1156.33 142.92 1157.18 141.73 C1158.04 140.54 1159.91 137.08 1159.47 135.82 C1159.03 134.56 1155.64 133.44 1154.53 134.18Z" fill="#fff"/><path d="M1155.00 143.30 C1157.85 143.57 1167.26 142.98 1170.00 142.60 C1172.74 142.22 1171.44 141.53 1171.44 141.00 C1171.44 140.47 1172.74 139.78 1170.00 139.40 C1167.26 139.02 1157.85 138.43 1155.00 138.70 C1152.15 138.97 1152.93 140.23 1152.93 141.00 C1152.93 141.77 1152.15 143.03 1155.00 143.30Z" fill="#fff"/><path d="M1137.01 22.81 C1135.84 24.08 1135.01 29.38 1136.01 30.78 C1137.00 32.18 1141.83 32.48 1142.99 31.22 C1144.16 29.95 1143.99 24.59 1142.99 23.19 C1142.00 21.79 1138.17 21.55 1137.01 22.81Z" fill="#fff"/><path d="M1132.80 17.00 a8.2 9.5 0 1 0 16.4 0 a8.2 9.5 0 1 0 -16.4 0Z" fill="#fff"/><path d="M1141.33 35.40 C1141.70 40.40 1143.76 55.04 1145.89 62.61 C1148.01 70.19 1152.27 77.67 1154.08 80.85 C1155.89 84.04 1156.13 82.01 1156.77 81.73 C1157.41 81.44 1159.03 82.54 1157.92 79.15 C1156.81 75.76 1151.99 68.81 1150.11 61.39 C1148.24 53.96 1147.75 39.40 1146.67 34.60 C1145.59 29.81 1144.53 32.46 1143.64 32.60 C1142.75 32.73 1140.96 30.39 1141.33 35.40Z" fill="#fff"/><path d="M1145.81 62.97 C1146.96 66.45 1152.21 77.74 1154.04 80.87 C1155.87 84.01 1156.13 82.06 1156.79 81.77 C1157.44 81.48 1159.06 82.58 1157.96 79.13 C1156.87 75.67 1152.00 64.21 1150.19 61.03 C1148.39 57.84 1147.85 59.70 1147.12 60.03 C1146.39 60.35 1144.65 59.50 1145.81 62.97Z" fill="none" stroke="#8c8c8c" stroke-width="1.0" stroke-opacity="0.6"/><path d="M1173.37 32.40 C1171.99 36.79 1168.20 49.00 1168.30 57.01 C1168.40 65.03 1172.60 76.35 1173.96 80.49 C1175.31 84.63 1175.76 82.00 1176.44 81.84 C1177.12 81.68 1178.67 83.65 1178.04 79.51 C1177.42 75.37 1172.60 64.64 1172.70 56.99 C1172.80 49.34 1177.99 38.00 1178.63 33.60 C1179.27 29.21 1177.42 30.83 1176.54 30.63 C1175.67 30.43 1174.74 28.00 1173.37 32.40Z" fill="#8c8c8c" stroke="#8c8c8c" stroke-width="2.5" stroke-linejoin="round"/><path d="M1169.52 86.52 C1168.48 91.18 1168.69 101.88 1169.20 109.99 C1169.71 118.10 1171.61 130.66 1172.61 135.19 C1173.60 139.72 1174.37 137.22 1175.17 137.15 C1175.97 137.09 1177.12 139.33 1177.39 134.81 C1177.66 130.29 1176.29 117.90 1176.80 110.01 C1177.31 102.12 1180.71 92.13 1180.48 87.48 C1180.25 82.82 1177.26 82.23 1175.43 82.07 C1173.60 81.91 1170.56 81.87 1169.52 86.52Z" fill="#8c8c8c" stroke="#8c8c8c" stroke-width="2.5" stroke-linejoin="round"/><path d="M1172.44 134.57 C1171.46 135.44 1171.53 139.21 1171.73 140.62 C1171.94 142.03 1172.90 142.92 1173.66 143.04 C1174.42 143.17 1175.62 142.65 1176.27 141.38 C1176.92 140.11 1178.20 136.56 1177.56 135.43 C1176.93 134.29 1173.41 133.71 1172.44 134.57Z" fill="#8c8c8c" stroke="#8c8c8c" stroke-width="2.5" stroke-linejoin="round"/><path d="M1173.84 143.29 C1176.49 143.75 1185.29 143.79 1187.89 143.60 C1190.49 143.40 1189.40 142.63 1189.44 142.10 C1189.47 141.57 1190.66 140.97 1188.11 140.40 C1185.57 139.84 1176.86 138.63 1174.16 138.71 C1171.47 138.78 1171.99 140.09 1171.94 140.85 C1171.88 141.62 1171.18 142.84 1173.84 143.29Z" fill="#8c8c8c" stroke="#8c8c8c" stroke-width="2.5" stroke-linejoin="round"/><path d="M1173.37 32.40 C1171.99 36.79 1168.20 49.00 1168.30 57.01 C1168.40 65.03 1172.60 76.35 1173.96 80.49 C1175.31 84.63 1175.76 82.00 1176.44 81.84 C1177.12 81.68 1178.67 83.65 1178.04 79.51 C1177.42 75.37 1172.60 64.64 1172.70 56.99 C1172.80 49.34 1177.99 38.00 1178.63 33.60 C1179.27 29.21 1177.42 30.83 1176.54 30.63 C1175.67 30.43 1174.74 28.00 1173.37 32.40Z" fill="#fff"/><path d="M1169.52 86.52 C1168.48 91.18 1168.69 101.88 1169.20 109.99 C1169.71 118.10 1171.61 130.66 1172.61 135.19 C1173.60 139.72 1174.37 137.22 1175.17 137.15 C1175.97 137.09 1177.12 139.33 1177.39 134.81 C1177.66 130.29 1176.29 117.90 1176.80 110.01 C1177.31 102.12 1180.71 92.13 1180.48 87.48 C1180.25 82.82 1177.26 82.23 1175.43 82.07 C1173.60 81.91 1170.56 81.87 1169.52 86.52Z" fill="#fff"/><path d="M1172.44 134.57 C1171.46 135.44 1171.53 139.21 1171.73 140.62 C1171.94 142.03 1172.90 142.92 1173.66 143.04 C1174.42 143.17 1175.62 142.65 1176.27 141.38 C1176.92 140.11 1178.20 136.56 1177.56 135.43 C1176.93 134.29 1173.41 133.71 1172.44 134.57Z" fill="#fff"/><path d="M1173.84 143.29 C1176.49 143.75 1185.29 143.79 1187.89 143.60 C1190.49 143.40 1189.40 142.63 1189.44 142.10 C1189.47 141.57 1190.66 140.97 1188.11 140.40 C1185.57 139.84 1176.86 138.63 1174.16 138.71 C1171.47 138.78 1171.99 140.09 1171.94 140.85 C1171.88 141.62 1171.18 142.84 1173.84 143.29Z" fill="#fff"/><path d="M1175.00 27.00 C1173.17 30.17 1175.00 40.17 1175.00 46.00 C1175.00 51.83 1175.00 55.50 1175.00 62.00 C1175.00 68.50 1172.67 81.17 1175.00 85.00 C1177.33 88.83 1186.83 89.50 1189.00 85.00 C1191.17 80.50 1188.00 65.17 1188.00 58.00 C1188.00 50.83 1189.33 47.17 1189.00 42.00 C1188.67 36.83 1188.33 29.50 1186.00 27.00 C1183.67 24.50 1176.83 23.83 1175.00 27.00Z" fill="#8c8c8c" stroke="#8c8c8c" stroke-width="2.5" stroke-linejoin="round"/><path d="M1181.13 89.56 C1182.55 93.45 1192.24 99.43 1192.20 105.98 C1192.16 112.53 1182.59 124.54 1180.89 128.86 C1179.18 133.18 1181.27 131.52 1181.97 131.90 C1182.67 132.28 1182.14 135.46 1185.11 131.14 C1188.08 126.83 1198.84 113.81 1199.80 106.02 C1200.76 98.24 1193.55 88.34 1190.87 84.44 C1188.18 80.54 1185.32 81.77 1183.69 82.62 C1182.07 83.47 1179.72 85.67 1181.13 89.56Z" fill="#8c8c8c" stroke="#8c8c8c" stroke-width="2.5" stroke-linejoin="round"/><path d="M1180.67 128.84 C1179.44 129.47 1178.21 133.47 1177.94 134.97 C1177.68 136.47 1178.39 137.51 1179.07 137.85 C1179.76 138.19 1181.02 138.14 1182.06 137.03 C1183.10 135.91 1185.56 132.53 1185.33 131.16 C1185.10 129.80 1181.90 128.20 1180.67 128.84Z" fill="#8c8c8c" stroke="#8c8c8c" stroke-width="2.5" stroke-linejoin="round"/><path d="M1178.97 138.06 C1180.83 139.28 1187.23 141.83 1189.28 142.43 C1191.34 143.03 1191.05 142.12 1191.29 141.64 C1191.53 141.17 1192.43 140.85 1190.72 139.57 C1189.01 138.29 1183.12 134.69 1181.03 133.94 C1178.93 133.19 1178.49 134.39 1178.15 135.07 C1177.81 135.76 1177.12 136.83 1178.97 138.06Z" fill="#8c8c8c" stroke="#8c8c8c" stroke-width="2.5" stroke-linejoin="round"/><path d="M1177.01 21.11 C1175.84 22.38 1175.01 27.68 1176.01 29.08 C1177.00 30.48 1181.83 30.78 1182.99 29.52 C1184.16 28.25 1183.99 22.89 1182.99 21.49 C1182.00 20.09 1178.17 19.85 1177.01 21.11Z" fill="#8c8c8c" stroke="#8c8c8c" stroke-width="2.5" stroke-linejoin="round"/><path d="M1172.80 15.30 a8.2 9.5 0 1 0 16.4 0 a8.2 9.5 0 1 0 -16.4 0Z" fill="#8c8c8c" stroke="#8c8c8c" stroke-width="2.5" stroke-linejoin="round"/><path d="M1181.30 32.89 C1180.75 37.47 1180.53 49.83 1180.80 58.05 C1181.07 66.26 1182.18 77.87 1182.91 82.17 C1183.63 86.48 1184.46 83.94 1185.16 83.88 C1185.85 83.83 1187.09 86.15 1187.09 81.83 C1187.10 77.50 1185.27 66.07 1185.20 57.95 C1185.13 49.83 1186.88 37.67 1186.70 33.11 C1186.51 28.54 1185.00 30.61 1184.10 30.57 C1183.20 30.54 1181.85 28.31 1181.30 32.89Z" fill="#8c8c8c" stroke="#8c8c8c" stroke-width="2.5" stroke-linejoin="round"/><path d="M1175.00 27.00 C1173.17 30.17 1175.00 40.17 1175.00 46.00 C1175.00 51.83 1175.00 55.50 1175.00 62.00 C1175.00 68.50 1172.67 81.17 1175.00 85.00 C1177.33 88.83 1186.83 89.50 1189.00 85.00 C1191.17 80.50 1188.00 65.17 1188.00 58.00 C1188.00 50.83 1189.33 47.17 1189.00 42.00 C1188.67 36.83 1188.33 29.50 1186.00 27.00 C1183.67 24.50 1176.83 23.83 1175.00 27.00Z" fill="#fff"/><path d="M1181.13 89.56 C1182.55 93.45 1192.24 99.43 1192.20 105.98 C1192.16 112.53 1182.59 124.54 1180.89 128.86 C1179.18 133.18 1181.27 131.52 1181.97 131.90 C1182.67 132.28 1182.14 135.46 1185.11 131.14 C1188.08 126.83 1198.84 113.81 1199.80 106.02 C1200.76 98.24 1193.55 88.34 1190.87 84.44 C1188.18 80.54 1185.32 81.77 1183.69 82.62 C1182.07 83.47 1179.72 85.67 1181.13 89.56Z" fill="#fff"/><path d="M1180.67 128.84 C1179.44 129.47 1178.21 133.47 1177.94 134.97 C1177.68 136.47 1178.39 137.51 1179.07 137.85 C1179.76 138.19 1181.02 138.14 1182.06 137.03 C1183.10 135.91 1185.56 132.53 1185.33 131.16 C1185.10 129.80 1181.90 128.20 1180.67 128.84Z" fill="#fff"/><path d="M1178.97 138.06 C1180.83 139.28 1187.23 141.83 1189.28 142.43 C1191.34 143.03 1191.05 142.12 1191.29 141.64 C1191.53 141.17 1192.43 140.85 1190.72 139.57 C1189.01 138.29 1183.12 134.69 1181.03 133.94 C1178.93 133.19 1178.49 134.39 1178.15 135.07 C1177.81 135.76 1177.12 136.83 1178.97 138.06Z" fill="#fff"/><path d="M1177.01 21.11 C1175.84 22.38 1175.01 27.68 1176.01 29.08 C1177.00 30.48 1181.83 30.78 1182.99 29.52 C1184.16 28.25 1183.99 22.89 1182.99 21.49 C1182.00 20.09 1178.17 19.85 1177.01 21.11Z" fill="#fff"/><path d="M1172.80 15.30 a8.2 9.5 0 1 0 16.4 0 a8.2 9.5 0 1 0 -16.4 0Z" fill="#fff"/><path d="M1181.30 32.89 C1180.75 37.47 1180.53 49.83 1180.80 58.05 C1181.07 66.26 1182.18 77.87 1182.91 82.17 C1183.63 86.48 1184.46 83.94 1185.16 83.88 C1185.85 83.83 1187.09 86.15 1187.09 81.83 C1187.10 77.50 1185.27 66.07 1185.20 57.95 C1185.13 49.83 1186.88 37.67 1186.70 33.11 C1186.51 28.54 1185.00 30.61 1184.10 30.57 C1183.20 30.54 1181.85 28.31 1181.30 32.89Z" fill="#fff"/><path d="M1218.39 33.29 C1216.84 37.67 1212.38 49.41 1212.30 57.94 C1212.23 66.46 1216.60 79.78 1217.95 84.43 C1219.29 89.09 1219.71 85.99 1220.39 85.85 C1221.08 85.70 1222.67 88.20 1222.05 83.57 C1221.44 78.93 1216.44 66.20 1216.70 58.06 C1216.96 49.92 1222.78 39.11 1223.61 34.71 C1224.43 30.30 1222.50 31.89 1221.64 31.65 C1220.77 31.42 1219.95 28.91 1218.39 33.29Z" fill="#8c8c8c" stroke="#8c8c8c" stroke-width="2.5" stroke-linejoin="round"/><path d="M1215.52 88.52 C1214.48 93.16 1214.85 103.82 1215.20 111.91 C1215.55 120.01 1216.79 132.55 1217.60 137.10 C1218.42 141.64 1219.29 139.19 1220.09 139.16 C1220.89 139.13 1221.95 141.42 1222.40 136.90 C1222.85 132.39 1222.12 119.99 1222.80 112.09 C1223.48 104.18 1226.71 94.15 1226.48 89.48 C1226.25 84.81 1223.26 84.23 1221.43 84.07 C1219.60 83.91 1216.56 83.88 1215.52 88.52Z" fill="#8c8c8c" stroke="#8c8c8c" stroke-width="2.5" stroke-linejoin="round"/><path d="M1217.53 137.82 C1217.17 139.05 1219.46 142.45 1220.29 143.57 C1221.12 144.69 1221.94 144.73 1222.51 144.54 C1223.08 144.35 1223.72 143.82 1223.71 142.43 C1223.70 141.04 1223.50 136.95 1222.47 136.18 C1221.44 135.41 1217.90 136.59 1217.53 137.82Z" fill="#8c8c8c" stroke="#8c8c8c" stroke-width="2.5" stroke-linejoin="round"/><path d="M1218.39 33.29 C1216.84 37.67 1212.38 49.41 1212.30 57.94 C1212.23 66.46 1216.60 79.78 1217.95 84.43 C1219.29 89.09 1219.71 85.99 1220.39 85.85 C1221.08 85.70 1222.67 88.20 1222.05 83.57 C1221.44 78.93 1216.44 66.20 1216.70 58.06 C1216.96 49.92 1222.78 39.11 1223.61 34.71 C1224.43 30.30 1222.50 31.89 1221.64 31.65 C1220.77 31.42 1219.95 28.91 1218.39 33.29Z" fill="#fff"/><path d="M1215.52 88.52 C1214.48 93.16 1214.85 103.82 1215.20 111.91 C1215.55 120.01 1216.79 132.55 1217.60 137.10 C1218.42 141.64 1219.29 139.19 1220.09 139.16 C1220.89 139.13 1221.95 141.42 1222.40 136.90 C1222.85 132.39 1222.12 119.99 1222.80 112.09 C1223.48 104.18 1226.71 94.15 1226.48 89.48 C1226.25 84.81 1223.26 84.23 1221.43 84.07 C1219.60 83.91 1216.56 83.88 1215.52 88.52Z" fill="#fff"/><path d="M1217.53 137.82 C1217.17 139.05 1219.46 142.45 1220.29 143.57 C1221.12 144.69 1221.94 144.73 1222.51 144.54 C1223.08 144.35 1223.72 143.82 1223.71 142.43 C1223.70 141.04 1223.50 136.95 1222.47 136.18 C1221.44 135.41 1217.90 136.59 1217.53 137.82Z" fill="#fff"/><path d="M1220.00 27.00 C1218.17 30.17 1220.00 40.17 1220.00 46.00 C1220.00 51.83 1219.83 55.00 1220.00 62.00 C1220.17 69.00 1218.50 83.67 1221.00 88.00 C1223.50 92.33 1233.00 93.33 1235.00 88.00 C1237.00 82.67 1233.00 63.67 1233.00 56.00 C1233.00 48.33 1235.33 46.83 1235.00 42.00 C1234.67 37.17 1233.50 29.50 1231.00 27.00 C1228.50 24.50 1221.83 23.83 1220.00 27.00Z" fill="#8c8c8c" stroke="#8c8c8c" stroke-width="2.5" stroke-linejoin="round"/><path d="M1226.51 89.26 C1226.08 93.64 1228.03 102.99 1229.21 110.34 C1230.40 117.68 1232.44 129.18 1233.62 133.31 C1234.80 137.44 1235.49 135.25 1236.28 135.14 C1237.07 135.04 1238.30 136.94 1238.38 132.69 C1238.46 128.44 1236.93 116.99 1236.79 109.66 C1236.64 102.34 1238.33 93.01 1237.49 88.74 C1236.66 84.47 1233.60 83.97 1231.76 84.06 C1229.93 84.14 1226.93 84.88 1226.51 89.26Z" fill="#8c8c8c" stroke="#8c8c8c" stroke-width="2.5" stroke-linejoin="round"/><path d="M1233.74 131.71 C1232.37 132.47 1230.46 137.18 1230.00 138.86 C1229.54 140.54 1230.31 141.42 1230.97 141.80 C1231.64 142.18 1232.78 142.39 1234.00 141.14 C1235.21 139.89 1238.30 135.86 1238.26 134.29 C1238.22 132.72 1235.12 130.95 1233.74 131.71Z" fill="#8c8c8c" stroke="#8c8c8c" stroke-width="2.5" stroke-linejoin="round"/><path d="M1232.00 142.30 C1235.01 142.57 1245.09 141.98 1248.00 141.60 C1250.91 141.22 1249.44 140.53 1249.44 140.00 C1249.44 139.47 1250.91 138.78 1248.00 138.40 C1245.09 138.02 1235.01 137.43 1232.00 137.70 C1228.99 137.97 1229.93 139.23 1229.93 140.00 C1229.93 140.77 1228.99 142.03 1232.00 142.30Z" fill="#8c8c8c" stroke="#8c8c8c" stroke-width="2.5" stroke-linejoin="round"/><path d="M1222.01 20.81 C1220.84 22.08 1220.01 27.38 1221.01 28.78 C1222.00 30.18 1226.83 30.48 1227.99 29.22 C1229.16 27.95 1228.99 22.59 1227.99 21.19 C1227.00 19.79 1223.17 19.55 1222.01 20.81Z" fill="#8c8c8c" stroke="#8c8c8c" stroke-width="2.5" stroke-linejoin="round"/><path d="M1217.80 15.00 a8.2 9.5 0 1 0 16.4 0 a8.2 9.5 0 1 0 -16.4 0Z" fill="#8c8c8c" stroke="#8c8c8c" stroke-width="2.5" stroke-linejoin="round"/><path d="M1227.30 33.89 C1226.75 38.25 1227.71 49.46 1226.81 57.75 C1225.92 66.03 1222.47 78.92 1221.94 83.60 C1221.41 88.29 1222.96 85.72 1223.64 85.86 C1224.33 85.99 1224.81 89.00 1226.06 84.40 C1227.32 79.80 1230.08 66.63 1231.19 58.25 C1232.29 49.87 1232.88 38.56 1232.70 34.11 C1232.52 29.67 1231.00 31.61 1230.10 31.57 C1229.20 31.53 1227.85 29.53 1227.30 33.89Z" fill="#8c8c8c" stroke="#8c8c8c" stroke-width="2.5" stroke-linejoin="round"/><path d="M1220.00 27.00 C1218.17 30.17 1220.00 40.17 1220.00 46.00 C1220.00 51.83 1219.83 55.00 1220.00 62.00 C1220.17 69.00 1218.50 83.67 1221.00 88.00 C1223.50 92.33 1233.00 93.33 1235.00 88.00 C1237.00 82.67 1233.00 63.67 1233.00 56.00 C1233.00 48.33 1235.33 46.83 1235.00 42.00 C1234.67 37.17 1233.50 29.50 1231.00 27.00 C1228.50 24.50 1221.83 23.83 1220.00 27.00Z" fill="#fff"/><path d="M1226.51 89.26 C1226.08 93.64 1228.03 102.99 1229.21 110.34 C1230.40 117.68 1232.44 129.18 1233.62 133.31 C1234.80 137.44 1235.49 135.25 1236.28 135.14 C1237.07 135.04 1238.30 136.94 1238.38 132.69 C1238.46 128.44 1236.93 116.99 1236.79 109.66 C1236.64 102.34 1238.33 93.01 1237.49 88.74 C1236.66 84.47 1233.60 83.97 1231.76 84.06 C1229.93 84.14 1226.93 84.88 1226.51 89.26Z" fill="#fff"/><path d="M1233.74 131.71 C1232.37 132.47 1230.46 137.18 1230.00 138.86 C1229.54 140.54 1230.31 141.42 1230.97 141.80 C1231.64 142.18 1232.78 142.39 1234.00 141.14 C1235.21 139.89 1238.30 135.86 1238.26 134.29 C1238.22 132.72 1235.12 130.95 1233.74 131.71Z" fill="#fff"/><path d="M1232.00 142.30 C1235.01 142.57 1245.09 141.98 1248.00 141.60 C1250.91 141.22 1249.44 140.53 1249.44 140.00 C1249.44 139.47 1250.91 138.78 1248.00 138.40 C1245.09 138.02 1235.01 137.43 1232.00 137.70 C1228.99 137.97 1229.93 139.23 1229.93 140.00 C1229.93 140.77 1228.99 142.03 1232.00 142.30Z" fill="#fff"/><path d="M1222.01 20.81 C1220.84 22.08 1220.01 27.38 1221.01 28.78 C1222.00 30.18 1226.83 30.48 1227.99 29.22 C1229.16 27.95 1228.99 22.59 1227.99 21.19 C1227.00 19.79 1223.17 19.55 1222.01 20.81Z" fill="#fff"/><path d="M1217.80 15.00 a8.2 9.5 0 1 0 16.4 0 a8.2 9.5 0 1 0 -16.4 0Z" fill="#fff"/><path d="M1227.30 33.89 C1226.75 38.25 1227.71 49.46 1226.81 57.75 C1225.92 66.03 1222.47 78.92 1221.94 83.60 C1221.41 88.29 1222.96 85.72 1223.64 85.86 C1224.33 85.99 1224.81 89.00 1226.06 84.40 C1227.32 79.80 1230.08 66.63 1231.19 58.25 C1232.29 49.87 1232.88 38.56 1232.70 34.11 C1232.52 29.67 1231.00 31.61 1230.10 31.57 C1229.20 31.53 1227.85 29.53 1227.30 33.89Z" fill="#fff"/><path d="M1259.52 36.93 C1257.41 40.92 1251.25 52.16 1250.32 59.73 C1249.38 67.29 1252.93 78.31 1253.93 82.33 C1254.92 86.35 1255.61 83.98 1256.30 83.87 C1256.99 83.76 1258.34 85.60 1258.07 81.67 C1257.80 77.74 1253.62 67.37 1254.68 60.27 C1255.75 53.17 1263.10 43.15 1264.48 39.07 C1265.86 34.99 1263.79 36.13 1262.96 35.77 C1262.14 35.41 1261.63 32.94 1259.52 36.93Z" fill="#8c8c8c" stroke="#8c8c8c" stroke-width="2.5" stroke-linejoin="round"/><path d="M1252.69 86.55 C1250.90 90.75 1250.99 101.74 1248.54 108.43 C1246.09 115.11 1239.63 123.11 1238.00 126.67 C1236.38 130.23 1238.14 129.35 1238.80 129.80 C1239.47 130.24 1239.22 132.37 1242.00 129.33 C1244.77 126.29 1251.91 118.22 1255.46 111.57 C1259.01 104.93 1262.67 94.17 1263.31 89.45 C1263.95 84.72 1261.07 83.71 1259.30 83.22 C1257.53 82.74 1254.49 82.35 1252.69 86.55Z" fill="#8c8c8c" stroke="#8c8c8c" stroke-width="2.5" stroke-linejoin="round"/><path d="M1237.44 127.57 C1236.38 129.45 1236.17 137.37 1236.22 139.70 C1236.27 142.04 1237.14 141.50 1237.73 141.60 C1238.33 141.70 1238.97 142.49 1239.78 140.30 C1240.58 138.10 1242.95 130.55 1242.56 128.43 C1242.17 126.31 1238.49 125.69 1237.44 127.57Z" fill="#8c8c8c" stroke="#8c8c8c" stroke-width="2.5" stroke-linejoin="round"/><path d="M1259.52 36.93 C1257.41 40.92 1251.25 52.16 1250.32 59.73 C1249.38 67.29 1252.93 78.31 1253.93 82.33 C1254.92 86.35 1255.61 83.98 1256.30 83.87 C1256.99 83.76 1258.34 85.60 1258.07 81.67 C1257.80 77.74 1253.62 67.37 1254.68 60.27 C1255.75 53.17 1263.10 43.15 1264.48 39.07 C1265.86 34.99 1263.79 36.13 1262.96 35.77 C1262.14 35.41 1261.63 32.94 1259.52 36.93Z" fill="#fff"/><path d="M1252.69 86.55 C1250.90 90.75 1250.99 101.74 1248.54 108.43 C1246.09 115.11 1239.63 123.11 1238.00 126.67 C1236.38 130.23 1238.14 129.35 1238.80 129.80 C1239.47 130.24 1239.22 132.37 1242.00 129.33 C1244.77 126.29 1251.91 118.22 1255.46 111.57 C1259.01 104.93 1262.67 94.17 1263.31 89.45 C1263.95 84.72 1261.07 83.71 1259.30 83.22 C1257.53 82.74 1254.49 82.35 1252.69 86.55Z" fill="#fff"/><path d="M1237.44 127.57 C1236.38 129.45 1236.17 137.37 1236.22 139.70 C1236.27 142.04 1237.14 141.50 1237.73 141.60 C1238.33 141.70 1238.97 142.49 1239.78 140.30 C1240.58 138.10 1242.95 130.55 1242.56 128.43 C1242.17 126.31 1238.49 125.69 1237.44 127.57Z" fill="#fff"/><path d="M1263.00 31.00 C1260.33 34.17 1259.17 44.83 1258.00 50.00 C1256.83 55.17 1256.17 56.33 1256.00 62.00 C1255.83 67.67 1253.67 80.33 1257.00 84.00 C1260.33 87.67 1272.83 88.33 1276.00 84.00 C1279.17 79.67 1275.83 64.33 1276.00 58.00 C1276.17 51.67 1277.33 50.50 1277.00 46.00 C1276.67 41.50 1276.33 33.50 1274.00 31.00 C1271.67 28.50 1265.67 27.83 1263.00 31.00Z" fill="#8c8c8c" stroke="#8c8c8c" stroke-width="2.5" stroke-linejoin="round"/><path d="M1265.46 91.10 C1267.89 95.79 1276.40 104.72 1281.82 112.08 C1287.24 119.44 1294.74 131.31 1297.96 135.27 C1301.19 139.23 1300.47 136.26 1301.14 135.83 C1301.82 135.41 1304.20 137.38 1302.04 132.73 C1299.87 128.08 1292.76 115.89 1288.18 107.92 C1283.60 99.95 1278.04 88.90 1274.54 84.90 C1271.05 80.90 1268.73 82.88 1267.21 83.91 C1265.70 84.94 1263.02 86.40 1265.46 91.10Z" fill="#8c8c8c" stroke="#8c8c8c" stroke-width="2.5" stroke-linejoin="round"/><path d="M1297.50 133.29 C1296.38 134.23 1295.80 138.75 1295.79 140.37 C1295.78 141.99 1296.69 142.78 1297.43 142.99 C1298.17 143.20 1299.37 143.01 1300.21 141.63 C1301.06 140.25 1302.95 136.11 1302.50 134.71 C1302.05 133.32 1298.62 132.34 1297.50 133.29Z" fill="#8c8c8c" stroke="#8c8c8c" stroke-width="2.5" stroke-linejoin="round"/><path d="M1298.53 143.24 C1301.76 142.75 1312.39 139.65 1315.37 138.56 C1318.35 137.46 1316.52 137.19 1316.40 136.67 C1316.28 136.15 1317.79 135.09 1314.63 135.44 C1311.48 135.79 1300.58 137.76 1297.47 138.76 C1294.37 139.77 1295.81 140.73 1295.99 141.47 C1296.16 142.22 1295.30 143.72 1298.53 143.24Z" fill="#8c8c8c" stroke="#8c8c8c" stroke-width="2.5" stroke-linejoin="round"/><path d="M1265.01 25.41 C1263.84 26.68 1263.01 31.98 1264.01 33.38 C1265.00 34.78 1269.83 35.08 1270.99 33.82 C1272.16 32.55 1271.99 27.19 1270.99 25.79 C1270.00 24.39 1266.17 24.15 1265.01 25.41Z" fill="#8c8c8c" stroke="#8c8c8c" stroke-width="2.5" stroke-linejoin="round"/><path d="M1260.80 19.60 a8.2 9.5 0 1 0 16.4 0 a8.2 9.5 0 1 0 -16.4 0Z" fill="#8c8c8c" stroke="#8c8c8c" stroke-width="2.5" stroke-linejoin="round"/><path d="M1270.32 38.36 C1270.55 42.60 1270.50 54.29 1274.03 60.98 C1277.56 67.66 1288.13 75.59 1291.52 78.48 C1294.90 81.38 1293.84 78.83 1294.34 78.34 C1294.83 77.84 1297.21 78.73 1294.48 75.52 C1291.76 72.30 1281.11 65.34 1277.97 59.02 C1274.84 52.71 1276.56 41.54 1275.68 37.64 C1274.79 33.73 1273.56 35.47 1272.67 35.59 C1271.78 35.71 1270.10 34.13 1270.32 38.36Z" fill="#8c8c8c" stroke="#8c8c8c" stroke-width="2.5" stroke-linejoin="round"/><path d="M1263.00 31.00 C1260.33 34.17 1259.17 44.83 1258.00 50.00 C1256.83 55.17 1256.17 56.33 1256.00 62.00 C1255.83 67.67 1253.67 80.33 1257.00 84.00 C1260.33 87.67 1272.83 88.33 1276.00 84.00 C1279.17 79.67 1275.83 64.33 1276.00 58.00 C1276.17 51.67 1277.33 50.50 1277.00 46.00 C1276.67 41.50 1276.33 33.50 1274.00 31.00 C1271.67 28.50 1265.67 27.83 1263.00 31.00Z" fill="#fff"/><path d="M1265.46 91.10 C1267.89 95.79 1276.40 104.72 1281.82 112.08 C1287.24 119.44 1294.74 131.31 1297.96 135.27 C1301.19 139.23 1300.47 136.26 1301.14 135.83 C1301.82 135.41 1304.20 137.38 1302.04 132.73 C1299.87 128.08 1292.76 115.89 1288.18 107.92 C1283.60 99.95 1278.04 88.90 1274.54 84.90 C1271.05 80.90 1268.73 82.88 1267.21 83.91 C1265.70 84.94 1263.02 86.40 1265.46 91.10Z" fill="#fff"/><path d="M1297.50 133.29 C1296.38 134.23 1295.80 138.75 1295.79 140.37 C1295.78 141.99 1296.69 142.78 1297.43 142.99 C1298.17 143.20 1299.37 143.01 1300.21 141.63 C1301.06 140.25 1302.95 136.11 1302.50 134.71 C1302.05 133.32 1298.62 132.34 1297.50 133.29Z" fill="#fff"/><path d="M1298.53 143.24 C1301.76 142.75 1312.39 139.65 1315.37 138.56 C1318.35 137.46 1316.52 137.19 1316.40 136.67 C1316.28 136.15 1317.79 135.09 1314.63 135.44 C1311.48 135.79 1300.58 137.76 1297.47 138.76 C1294.37 139.77 1295.81 140.73 1295.99 141.47 C1296.16 142.22 1295.30 143.72 1298.53 143.24Z" fill="#fff"/><path d="M1265.01 25.41 C1263.84 26.68 1263.01 31.98 1264.01 33.38 C1265.00 34.78 1269.83 35.08 1270.99 33.82 C1272.16 32.55 1271.99 27.19 1270.99 25.79 C1270.00 24.39 1266.17 24.15 1265.01 25.41Z" fill="#fff"/><path d="M1260.80 19.60 a8.2 9.5 0 1 0 16.4 0 a8.2 9.5 0 1 0 -16.4 0Z" fill="#fff"/><path d="M1270.32 38.36 C1270.55 42.60 1270.50 54.29 1274.03 60.98 C1277.56 67.66 1288.13 75.59 1291.52 78.48 C1294.90 81.38 1293.84 78.83 1294.34 78.34 C1294.83 77.84 1297.21 78.73 1294.48 75.52 C1291.76 72.30 1281.11 65.34 1277.97 59.02 C1274.84 52.71 1276.56 41.54 1275.68 37.64 C1274.79 33.73 1273.56 35.47 1272.67 35.59 C1271.78 35.71 1270.10 34.13 1270.32 38.36Z" fill="#fff"/><path d="M1274.30 61.70 C1277.14 65.04 1288.14 75.74 1291.48 78.52 C1294.82 81.30 1293.86 78.88 1294.37 78.37 C1294.88 77.86 1297.30 78.82 1294.52 75.48 C1291.74 72.14 1281.04 61.14 1277.70 58.30 C1274.36 55.47 1275.04 57.91 1274.47 58.47 C1273.91 59.04 1271.47 58.36 1274.30 61.70Z" fill="none" stroke="#8c8c8c" stroke-width="1.0" stroke-opacity="0.6"/></g>
<line x1="224" y1="145" x2="685" y2="145" stroke="#c4c4c4" stroke-width="1.8"/>
<line x1="223.70000000000005" y1="145" x2="223.70000000000005" y2="151" stroke="#c4c4c4" stroke-width="1.3"/>
<line x1="269.5" y1="145" x2="269.5" y2="151" stroke="#c4c4c4" stroke-width="1.3"/>
<line x1="356.6" y1="145" x2="356.6" y2="151" stroke="#c4c4c4" stroke-width="1.3"/>
<line x1="607.5" y1="145" x2="607.5" y2="151" stroke="#c4c4c4" stroke-width="1.3"/>
<line x1="663.5999999999999" y1="145" x2="663.5999999999999" y2="151" stroke="#c4c4c4" stroke-width="1.3"/>
<g transform="translate(0,0)"><path d="M815.52 36.93 C813.42 40.91 807.60 52.43 806.33 59.64 C805.06 66.84 807.27 76.45 807.91 80.16 C808.54 83.87 809.44 81.94 810.14 81.88 C810.84 81.83 812.01 83.43 812.09 79.84 C812.18 76.26 809.27 67.16 810.67 60.36 C812.07 53.57 819.10 43.17 820.48 39.07 C821.86 34.97 819.79 36.13 818.96 35.77 C818.14 35.41 817.63 32.95 815.52 36.93Z" fill="#8c8c8c" stroke="#8c8c8c" stroke-width="2.5" stroke-linejoin="round"/><path d="M810.64 84.78 C809.04 89.01 810.10 99.22 807.49 106.54 C804.88 113.86 796.92 124.50 794.98 128.71 C793.03 132.93 795.17 131.39 795.84 131.82 C796.52 132.25 795.91 135.02 799.02 131.29 C802.14 127.56 810.78 116.81 814.51 109.46 C818.23 102.12 820.93 91.93 821.36 87.22 C821.79 82.50 818.88 81.58 817.10 81.17 C815.31 80.77 812.24 80.55 810.64 84.78Z" fill="#8c8c8c" stroke="#8c8c8c" stroke-width="2.5" stroke-linejoin="round"/><path d="M794.73 128.74 C793.25 129.88 791.01 136.18 790.43 138.13 C789.84 140.07 790.69 140.12 791.21 140.42 C791.74 140.71 792.23 141.40 793.57 139.87 C794.92 138.35 799.08 133.12 799.27 131.26 C799.47 129.41 796.20 127.59 794.73 128.74Z" fill="#8c8c8c" stroke="#8c8c8c" stroke-width="2.5" stroke-linejoin="round"/><path d="M815.52 36.93 C813.42 40.91 807.60 52.43 806.33 59.64 C805.06 66.84 807.27 76.45 807.91 80.16 C808.54 83.87 809.44 81.94 810.14 81.88 C810.84 81.83 812.01 83.43 812.09 79.84 C812.18 76.26 809.27 67.16 810.67 60.36 C812.07 53.57 819.10 43.17 820.48 39.07 C821.86 34.97 819.79 36.13 818.96 35.77 C818.14 35.41 817.63 32.95 815.52 36.93Z" fill="#fff"/><path d="M810.64 84.78 C809.04 89.01 810.10 99.22 807.49 106.54 C804.88 113.86 796.92 124.50 794.98 128.71 C793.03 132.93 795.17 131.39 795.84 131.82 C796.52 132.25 795.91 135.02 799.02 131.29 C802.14 127.56 810.78 116.81 814.51 109.46 C818.23 102.12 820.93 91.93 821.36 87.22 C821.79 82.50 818.88 81.58 817.10 81.17 C815.31 80.77 812.24 80.55 810.64 84.78Z" fill="#fff"/><path d="M794.73 128.74 C793.25 129.88 791.01 136.18 790.43 138.13 C789.84 140.07 790.69 140.12 791.21 140.42 C791.74 140.71 792.23 141.40 793.57 139.87 C794.92 138.35 799.08 133.12 799.27 131.26 C799.47 129.41 796.20 127.59 794.73 128.74Z" fill="#fff"/><path d="M819.00 31.00 C816.67 33.17 817.17 39.67 816.00 44.00 C814.83 48.33 812.50 52.67 812.00 57.00 C811.50 61.33 812.67 65.50 813.00 70.00 C813.33 74.50 810.67 81.67 814.00 84.00 C817.33 86.33 830.00 87.67 833.00 84.00 C836.00 80.33 831.67 67.33 832.00 62.00 C832.33 56.67 834.67 55.00 835.00 52.00 C835.33 49.00 834.83 47.50 834.00 44.00 C833.17 40.50 832.50 33.17 830.00 31.00 C827.50 28.83 821.33 28.83 819.00 31.00Z" fill="#8c8c8c" stroke="#8c8c8c" stroke-width="2.5" stroke-linejoin="round"/><path d="M819.55 89.23 C822.18 93.92 831.27 102.60 836.83 110.10 C842.40 117.60 849.73 130.11 852.94 134.23 C856.16 138.36 855.43 135.26 856.11 134.85 C856.80 134.44 859.22 136.59 857.06 131.77 C854.90 126.94 847.94 114.07 843.17 105.90 C838.40 97.74 832.13 86.75 828.45 82.77 C824.77 78.78 822.57 80.92 821.09 82.00 C819.61 83.08 816.93 84.55 819.55 89.23Z" fill="#8c8c8c" stroke="#8c8c8c" stroke-width="2.5" stroke-linejoin="round"/><path d="M852.53 132.18 C851.43 132.92 850.85 136.81 850.82 138.27 C850.79 139.74 851.62 140.72 852.35 140.96 C853.07 141.21 854.33 140.92 855.18 139.73 C856.04 138.54 857.91 135.08 857.47 133.82 C857.03 132.56 853.64 131.44 852.53 132.18Z" fill="#8c8c8c" stroke="#8c8c8c" stroke-width="2.5" stroke-linejoin="round"/><path d="M853.23 141.29 C856.93 141.19 869.63 139.33 873.16 138.59 C876.69 137.85 874.49 137.39 874.43 136.86 C874.38 136.33 876.45 135.43 872.84 135.41 C869.23 135.38 856.42 136.08 852.77 136.71 C849.12 137.34 850.86 138.44 850.94 139.21 C851.02 139.97 849.53 141.39 853.23 141.29Z" fill="#8c8c8c" stroke="#8c8c8c" stroke-width="2.5" stroke-linejoin="round"/><path d="M822.81 25.41 C821.64 26.68 820.81 31.98 821.81 33.38 C822.80 34.78 827.63 35.08 828.79 33.82 C829.96 32.55 829.79 27.19 828.79 25.79 C827.80 24.39 823.97 24.15 822.81 25.41Z" fill="#8c8c8c" stroke="#8c8c8c" stroke-width="2.5" stroke-linejoin="round"/><path d="M818.60 19.60 a8.2 9.5 0 1 0 16.4 0 a8.2 9.5 0 1 0 -16.4 0Z" fill="#8c8c8c" stroke="#8c8c8c" stroke-width="2.5" stroke-linejoin="round"/><path d="M827.37 40.60 C827.97 44.84 829.55 56.75 833.07 63.06 C836.60 69.38 845.47 75.94 848.52 78.48 C851.56 81.03 850.84 78.83 851.34 78.34 C851.83 77.84 853.89 78.42 851.48 75.52 C849.08 72.62 840.07 66.96 836.93 60.94 C833.78 54.92 833.88 43.29 832.63 39.40 C831.39 35.52 830.34 37.43 829.46 37.63 C828.58 37.83 826.77 36.36 827.37 40.60Z" fill="#8c8c8c" stroke="#8c8c8c" stroke-width="2.5" stroke-linejoin="round"/><path d="M819.00 31.00 C816.67 33.17 817.17 39.67 816.00 44.00 C814.83 48.33 812.50 52.67 812.00 57.00 C811.50 61.33 812.67 65.50 813.00 70.00 C813.33 74.50 810.67 81.67 814.00 84.00 C817.33 86.33 830.00 87.67 833.00 84.00 C836.00 80.33 831.67 67.33 832.00 62.00 C832.33 56.67 834.67 55.00 835.00 52.00 C835.33 49.00 834.83 47.50 834.00 44.00 C833.17 40.50 832.50 33.17 830.00 31.00 C827.50 28.83 821.33 28.83 819.00 31.00Z" fill="#fff"/><path d="M819.55 89.23 C822.18 93.92 831.27 102.60 836.83 110.10 C842.40 117.60 849.73 130.11 852.94 134.23 C856.16 138.36 855.43 135.26 856.11 134.85 C856.80 134.44 859.22 136.59 857.06 131.77 C854.90 126.94 847.94 114.07 843.17 105.90 C838.40 97.74 832.13 86.75 828.45 82.77 C824.77 78.78 822.57 80.92 821.09 82.00 C819.61 83.08 816.93 84.55 819.55 89.23Z" fill="#fff"/><path d="M852.53 132.18 C851.43 132.92 850.85 136.81 850.82 138.27 C850.79 139.74 851.62 140.72 852.35 140.96 C853.07 141.21 854.33 140.92 855.18 139.73 C856.04 138.54 857.91 135.08 857.47 133.82 C857.03 132.56 853.64 131.44 852.53 132.18Z" fill="#fff"/><path d="M853.23 141.29 C856.93 141.19 869.63 139.33 873.16 138.59 C876.69 137.85 874.49 137.39 874.43 136.86 C874.38 136.33 876.45 135.43 872.84 135.41 C869.23 135.38 856.42 136.08 852.77 136.71 C849.12 137.34 850.86 138.44 850.94 139.21 C851.02 139.97 849.53 141.39 853.23 141.29Z" fill="#fff"/><path d="M822.81 25.41 C821.64 26.68 820.81 31.98 821.81 33.38 C822.80 34.78 827.63 35.08 828.79 33.82 C829.96 32.55 829.79 27.19 828.79 25.79 C827.80 24.39 823.97 24.15 822.81 25.41Z" fill="#fff"/><path d="M818.60 19.60 a8.2 9.5 0 1 0 16.4 0 a8.2 9.5 0 1 0 -16.4 0Z" fill="#fff"/><path d="M827.37 40.60 C827.97 44.84 829.55 56.75 833.07 63.06 C836.60 69.38 845.47 75.94 848.52 78.48 C851.56 81.03 850.84 78.83 851.34 78.34 C851.83 77.84 853.89 78.42 851.48 75.52 C849.08 72.62 840.07 66.96 836.93 60.94 C833.78 54.92 833.88 43.29 832.63 39.40 C831.39 35.52 830.34 37.43 829.46 37.63 C828.58 37.83 826.77 36.36 827.37 40.60Z" fill="#fff"/><path d="M833.30 63.70 C835.80 66.70 845.47 76.08 848.48 78.52 C851.49 80.97 850.86 78.88 851.37 78.37 C851.88 77.86 853.97 78.49 851.52 75.48 C849.08 72.47 839.70 62.80 836.70 60.30 C833.69 57.80 834.04 59.91 833.47 60.47 C832.91 61.04 830.80 60.69 833.30 63.70Z" fill="none" stroke="#8c8c8c" stroke-width="1.0" stroke-opacity="0.6"/><path d="M912.41 35.23 C910.85 39.28 906.38 50.41 906.30 57.95 C906.23 65.50 910.60 76.53 911.96 80.51 C913.32 84.49 913.78 82.00 914.46 81.83 C915.14 81.66 916.66 83.46 916.04 79.49 C915.41 75.53 910.44 65.17 910.70 58.05 C910.96 50.93 916.76 40.83 917.59 36.77 C918.42 32.70 916.55 33.92 915.69 33.67 C914.83 33.41 913.98 31.19 912.41 35.23Z" fill="#8c8c8c" stroke="#8c8c8c" stroke-width="2.5" stroke-linejoin="round"/><path d="M908.54 85.32 C907.34 89.94 909.33 101.38 907.40 108.80 C905.46 116.21 898.49 125.80 896.92 129.81 C895.34 133.82 897.23 132.48 897.93 132.88 C898.62 133.27 898.30 135.80 901.08 132.19 C903.86 128.58 911.54 118.79 914.60 111.20 C917.67 103.62 919.46 91.70 919.46 86.68 C919.46 81.66 916.43 81.32 914.61 81.09 C912.79 80.86 909.75 80.70 908.54 85.32Z" fill="#8c8c8c" stroke="#8c8c8c" stroke-width="2.5" stroke-linejoin="round"/><path d="M896.67 132.16 C896.85 134.16 901.05 140.09 902.39 141.80 C903.73 143.52 904.19 142.72 904.72 142.45 C905.26 142.18 906.18 142.30 905.61 140.20 C905.04 138.09 902.81 131.18 901.33 129.84 C899.84 128.50 896.50 130.17 896.67 132.16Z" fill="#8c8c8c" stroke="#8c8c8c" stroke-width="2.5" stroke-linejoin="round"/><path d="M912.41 35.23 C910.85 39.28 906.38 50.41 906.30 57.95 C906.23 65.50 910.60 76.53 911.96 80.51 C913.32 84.49 913.78 82.00 914.46 81.83 C915.14 81.66 916.66 83.46 916.04 79.49 C915.41 75.53 910.44 65.17 910.70 58.05 C910.96 50.93 916.76 40.83 917.59 36.77 C918.42 32.70 916.55 33.92 915.69 33.67 C914.83 33.41 913.98 31.19 912.41 35.23Z" fill="#fff"/><path d="M908.54 85.32 C907.34 89.94 909.33 101.38 907.40 108.80 C905.46 116.21 898.49 125.80 896.92 129.81 C895.34 133.82 897.23 132.48 897.93 132.88 C898.62 133.27 898.30 135.80 901.08 132.19 C903.86 128.58 911.54 118.79 914.60 111.20 C917.67 103.62 919.46 91.70 919.46 86.68 C919.46 81.66 916.43 81.32 914.61 81.09 C912.79 80.86 909.75 80.70 908.54 85.32Z" fill="#fff"/><path d="M896.67 132.16 C896.85 134.16 901.05 140.09 902.39 141.80 C903.73 143.52 904.19 142.72 904.72 142.45 C905.26 142.18 906.18 142.30 905.61 140.20 C905.04 138.09 902.81 131.18 901.33 129.84 C899.84 128.50 896.50 130.17 896.67 132.16Z" fill="#fff"/><path d="M917.00 29.00 C914.50 31.83 914.67 40.83 914.00 46.00 C913.33 51.17 913.00 53.67 913.00 60.00 C913.00 66.33 911.17 80.00 914.00 84.00 C916.83 88.00 927.17 88.83 930.00 84.00 C932.83 79.17 930.67 62.00 931.00 55.00 C931.33 48.00 932.33 46.33 932.00 42.00 C931.67 37.67 931.50 31.17 929.00 29.00 C926.50 26.83 919.50 26.17 917.00 29.00Z" fill="#8c8c8c" stroke="#8c8c8c" stroke-width="2.5" stroke-linejoin="round"/><path d="M920.85 87.93 C922.02 92.85 928.85 102.83 931.31 110.89 C933.77 118.95 934.46 131.73 935.62 136.28 C936.77 140.82 937.45 138.24 938.25 138.15 C939.04 138.05 940.31 140.56 940.38 135.72 C940.46 130.89 940.23 117.72 938.69 109.11 C937.15 100.50 933.56 88.69 931.15 84.07 C928.74 79.44 925.98 80.72 924.26 81.37 C922.55 82.01 919.68 83.01 920.85 87.93Z" fill="#8c8c8c" stroke="#8c8c8c" stroke-width="2.5" stroke-linejoin="round"/><path d="M935.59 135.03 C934.49 135.56 933.92 138.83 933.86 140.15 C933.81 141.46 934.52 142.64 935.23 142.92 C935.94 143.21 937.27 142.85 938.14 141.85 C939.00 140.86 940.84 138.10 940.41 136.97 C939.99 135.83 936.68 134.50 935.59 135.03Z" fill="#8c8c8c" stroke="#8c8c8c" stroke-width="2.5" stroke-linejoin="round"/><path d="M936.00 143.30 C939.01 143.57 949.09 142.98 952.00 142.60 C954.91 142.22 953.44 141.53 953.44 141.00 C953.44 140.47 954.91 139.78 952.00 139.40 C949.09 139.02 939.01 138.43 936.00 138.70 C932.99 138.97 933.93 140.23 933.93 141.00 C933.93 141.77 932.99 143.03 936.00 143.30Z" fill="#8c8c8c" stroke="#8c8c8c" stroke-width="2.5" stroke-linejoin="round"/><path d="M919.21 23.11 C918.04 24.38 917.21 29.68 918.21 31.08 C919.20 32.48 924.03 32.78 925.19 31.52 C926.36 30.25 926.19 24.89 925.19 23.49 C924.20 22.09 920.37 21.85 919.21 23.11Z" fill="#8c8c8c" stroke="#8c8c8c" stroke-width="2.5" stroke-linejoin="round"/><path d="M915.00 17.30 a8.2 9.5 0 1 0 16.4 0 a8.2 9.5 0 1 0 -16.4 0Z" fill="#8c8c8c" stroke="#8c8c8c" stroke-width="2.5" stroke-linejoin="round"/><path d="M924.32 36.36 C924.52 40.52 926.08 51.46 927.86 58.51 C929.64 65.57 933.39 75.15 935.02 78.69 C936.65 82.24 936.96 80.02 937.62 79.78 C938.29 79.55 939.90 81.02 938.98 77.31 C938.07 73.59 933.69 64.43 932.14 57.49 C930.59 50.54 930.59 39.62 929.68 35.64 C928.76 31.65 927.56 33.47 926.67 33.59 C925.78 33.71 924.13 32.21 924.32 36.36Z" fill="#8c8c8c" stroke="#8c8c8c" stroke-width="2.5" stroke-linejoin="round"/><path d="M917.00 29.00 C914.50 31.83 914.67 40.83 914.00 46.00 C913.33 51.17 913.00 53.67 913.00 60.00 C913.00 66.33 911.17 80.00 914.00 84.00 C916.83 88.00 927.17 88.83 930.00 84.00 C932.83 79.17 930.67 62.00 931.00 55.00 C931.33 48.00 932.33 46.33 932.00 42.00 C931.67 37.67 931.50 31.17 929.00 29.00 C926.50 26.83 919.50 26.17 917.00 29.00Z" fill="#fff"/><path d="M920.85 87.93 C922.02 92.85 928.85 102.83 931.31 110.89 C933.77 118.95 934.46 131.73 935.62 136.28 C936.77 140.82 937.45 138.24 938.25 138.15 C939.04 138.05 940.31 140.56 940.38 135.72 C940.46 130.89 940.23 117.72 938.69 109.11 C937.15 100.50 933.56 88.69 931.15 84.07 C928.74 79.44 925.98 80.72 924.26 81.37 C922.55 82.01 919.68 83.01 920.85 87.93Z" fill="#fff"/><path d="M935.59 135.03 C934.49 135.56 933.92 138.83 933.86 140.15 C933.81 141.46 934.52 142.64 935.23 142.92 C935.94 143.21 937.27 142.85 938.14 141.85 C939.00 140.86 940.84 138.10 940.41 136.97 C939.99 135.83 936.68 134.50 935.59 135.03Z" fill="#fff"/><path d="M936.00 143.30 C939.01 143.57 949.09 142.98 952.00 142.60 C954.91 142.22 953.44 141.53 953.44 141.00 C953.44 140.47 954.91 139.78 952.00 139.40 C949.09 139.02 939.01 138.43 936.00 138.70 C932.99 138.97 933.93 140.23 933.93 141.00 C933.93 141.77 932.99 143.03 936.00 143.30Z" fill="#fff"/><path d="M919.21 23.11 C918.04 24.38 917.21 29.68 918.21 31.08 C919.20 32.48 924.03 32.78 925.19 31.52 C926.36 30.25 926.19 24.89 925.19 23.49 C924.20 22.09 920.37 21.85 919.21 23.11Z" fill="#fff"/><path d="M915.00 17.30 a8.2 9.5 0 1 0 16.4 0 a8.2 9.5 0 1 0 -16.4 0Z" fill="#fff"/><path d="M924.32 36.36 C924.52 40.52 926.08 51.46 927.86 58.51 C929.64 65.57 933.39 75.15 935.02 78.69 C936.65 82.24 936.96 80.02 937.62 79.78 C938.29 79.55 939.90 81.02 938.98 77.31 C938.07 73.59 933.69 64.43 932.14 57.49 C930.59 50.54 930.59 39.62 929.68 35.64 C928.76 31.65 927.56 33.47 926.67 33.59 C925.78 33.71 924.13 32.21 924.32 36.36Z" fill="#fff"/><path d="M927.73 58.79 C928.68 62.58 933.32 75.20 934.97 78.71 C936.62 82.22 936.96 80.06 937.64 79.83 C938.32 79.59 939.92 81.06 939.03 77.29 C938.13 73.52 933.89 60.76 932.27 57.21 C930.64 53.65 930.04 55.70 929.29 55.96 C928.53 56.23 926.79 55.00 927.73 58.79Z" fill="none" stroke="#8c8c8c" stroke-width="1.0" stroke-opacity="0.6"/><path d="M982.35 32.50 C981.15 36.89 978.37 48.99 978.30 56.96 C978.23 64.93 980.93 76.16 981.92 80.32 C982.92 84.47 983.59 81.97 984.28 81.87 C984.98 81.76 986.34 83.82 986.08 79.68 C985.81 75.55 982.44 64.74 982.70 57.04 C982.96 49.34 987.20 37.90 987.65 33.50 C988.11 29.09 986.33 30.78 985.45 30.61 C984.56 30.45 983.54 28.11 982.35 32.50Z" fill="#8c8c8c" stroke="#8c8c8c" stroke-width="2.5" stroke-linejoin="round"/><path d="M977.50 85.79 C976.67 90.95 977.68 103.62 978.20 112.01 C978.72 120.39 979.79 131.74 980.60 136.10 C981.42 140.46 982.29 138.19 983.09 138.16 C983.89 138.12 984.95 140.26 985.40 135.90 C985.85 131.54 985.28 120.28 985.80 111.99 C986.32 103.71 988.93 91.37 988.50 86.21 C988.06 81.05 985.02 81.12 983.19 81.05 C981.36 80.98 978.34 80.63 977.50 85.79Z" fill="#8c8c8c" stroke="#8c8c8c" stroke-width="2.5" stroke-linejoin="round"/><path d="M980.45 135.49 C979.48 136.16 979.55 139.29 979.74 140.55 C979.94 141.81 980.84 142.88 981.59 143.03 C982.35 143.18 983.60 142.54 984.26 141.45 C984.91 140.36 986.18 137.50 985.55 136.51 C984.92 135.52 981.42 134.82 980.45 135.49Z" fill="#8c8c8c" stroke="#8c8c8c" stroke-width="2.5" stroke-linejoin="round"/><path d="M981.77 143.29 C983.75 143.75 989.90 143.78 991.84 143.59 C993.78 143.40 993.38 142.67 993.43 142.14 C993.49 141.61 994.03 140.98 992.16 140.41 C990.29 139.84 984.27 138.65 982.23 138.71 C980.19 138.78 980.02 140.03 979.94 140.79 C979.86 141.56 979.79 142.82 981.77 143.29Z" fill="#8c8c8c" stroke="#8c8c8c" stroke-width="2.5" stroke-linejoin="round"/><path d="M982.35 32.50 C981.15 36.89 978.37 48.99 978.30 56.96 C978.23 64.93 980.93 76.16 981.92 80.32 C982.92 84.47 983.59 81.97 984.28 81.87 C984.98 81.76 986.34 83.82 986.08 79.68 C985.81 75.55 982.44 64.74 982.70 57.04 C982.96 49.34 987.20 37.90 987.65 33.50 C988.11 29.09 986.33 30.78 985.45 30.61 C984.56 30.45 983.54 28.11 982.35 32.50Z" fill="#fff"/><path d="M977.50 85.79 C976.67 90.95 977.68 103.62 978.20 112.01 C978.72 120.39 979.79 131.74 980.60 136.10 C981.42 140.46 982.29 138.19 983.09 138.16 C983.89 138.12 984.95 140.26 985.40 135.90 C985.85 131.54 985.28 120.28 985.80 111.99 C986.32 103.71 988.93 91.37 988.50 86.21 C988.06 81.05 985.02 81.12 983.19 81.05 C981.36 80.98 978.34 80.63 977.50 85.79Z" fill="#fff"/><path d="M980.45 135.49 C979.48 136.16 979.55 139.29 979.74 140.55 C979.94 141.81 980.84 142.88 981.59 143.03 C982.35 143.18 983.60 142.54 984.26 141.45 C984.91 140.36 986.18 137.50 985.55 136.51 C984.92 135.52 981.42 134.82 980.45 135.49Z" fill="#fff"/><path d="M981.77 143.29 C983.75 143.75 989.90 143.78 991.84 143.59 C993.78 143.40 993.38 142.67 993.43 142.14 C993.49 141.61 994.03 140.98 992.16 140.41 C990.29 139.84 984.27 138.65 982.23 138.71 C980.19 138.78 980.02 140.03 979.94 140.79 C979.86 141.56 979.79 142.82 981.77 143.29Z" fill="#fff"/><path d="M983.00 27.00 C981.00 30.00 984.00 39.17 984.00 45.00 C984.00 50.83 983.17 55.50 983.00 62.00 C982.83 68.50 980.33 80.33 983.00 84.00 C985.67 87.67 996.50 88.33 999.00 84.00 C1001.50 79.67 998.00 65.00 998.00 58.00 C998.00 51.00 999.33 47.17 999.00 42.00 C998.67 36.83 998.67 29.50 996.00 27.00 C993.33 24.50 985.00 24.00 983.00 27.00Z" fill="#8c8c8c" stroke="#8c8c8c" stroke-width="2.5" stroke-linejoin="round"/><path d="M988.86 87.96 C989.86 92.27 997.40 100.15 998.21 107.23 C999.01 114.30 994.13 126.11 993.67 130.42 C993.22 134.73 994.70 132.90 995.48 133.10 C996.25 133.29 996.61 135.97 998.33 131.58 C1000.05 127.20 1005.66 114.70 1005.79 106.77 C1005.93 98.85 1001.40 88.28 999.14 84.04 C996.88 79.81 993.95 80.72 992.24 81.37 C990.52 82.03 987.87 83.65 988.86 87.96Z" fill="#8c8c8c" stroke="#8c8c8c" stroke-width="2.5" stroke-linejoin="round"/><path d="M993.50 130.29 C992.38 131.23 991.80 135.75 991.79 137.37 C991.78 138.99 992.69 139.78 993.43 139.99 C994.17 140.20 995.37 140.01 996.21 138.63 C997.06 137.25 998.95 133.11 998.50 131.71 C998.05 130.32 994.62 129.34 993.50 130.29Z" fill="#8c8c8c" stroke="#8c8c8c" stroke-width="2.5" stroke-linejoin="round"/><path d="M993.07 140.10 C994.77 141.15 1000.48 143.05 1002.35 143.46 C1004.23 143.88 1004.10 143.07 1004.32 142.58 C1004.53 142.10 1005.21 141.65 1003.65 140.54 C1002.09 139.42 996.86 136.46 994.93 135.90 C993.01 135.34 992.42 136.46 992.11 137.16 C991.80 137.86 991.36 139.05 993.07 140.10Z" fill="#8c8c8c" stroke="#8c8c8c" stroke-width="2.5" stroke-linejoin="round"/><path d="M985.61 21.11 C984.44 22.38 983.61 27.68 984.61 29.08 C985.60 30.48 990.43 30.78 991.59 29.52 C992.76 28.25 992.59 22.89 991.59 21.49 C990.60 20.09 986.77 19.85 985.61 21.11Z" fill="#8c8c8c" stroke="#8c8c8c" stroke-width="2.5" stroke-linejoin="round"/><path d="M981.40 15.30 a8.2 9.5 0 1 0 16.4 0 a8.2 9.5 0 1 0 -16.4 0Z" fill="#8c8c8c" stroke="#8c8c8c" stroke-width="2.5" stroke-linejoin="round"/><path d="M990.30 33.00 C989.93 37.41 990.53 49.20 990.80 57.05 C991.07 64.90 991.36 75.95 991.90 80.09 C992.45 84.23 993.38 81.92 994.08 81.89 C994.78 81.86 995.91 84.06 996.10 79.91 C996.28 75.75 995.27 64.77 995.20 56.95 C995.13 49.13 996.07 37.40 995.70 33.00 C995.33 28.60 993.90 30.57 993.00 30.57 C992.10 30.57 990.67 28.59 990.30 33.00Z" fill="#8c8c8c" stroke="#8c8c8c" stroke-width="2.5" stroke-linejoin="round"/><path d="M983.00 27.00 C981.00 30.00 984.00 39.17 984.00 45.00 C984.00 50.83 983.17 55.50 983.00 62.00 C982.83 68.50 980.33 80.33 983.00 84.00 C985.67 87.67 996.50 88.33 999.00 84.00 C1001.50 79.67 998.00 65.00 998.00 58.00 C998.00 51.00 999.33 47.17 999.00 42.00 C998.67 36.83 998.67 29.50 996.00 27.00 C993.33 24.50 985.00 24.00 983.00 27.00Z" fill="#fff"/><path d="M988.86 87.96 C989.86 92.27 997.40 100.15 998.21 107.23 C999.01 114.30 994.13 126.11 993.67 130.42 C993.22 134.73 994.70 132.90 995.48 133.10 C996.25 133.29 996.61 135.97 998.33 131.58 C1000.05 127.20 1005.66 114.70 1005.79 106.77 C1005.93 98.85 1001.40 88.28 999.14 84.04 C996.88 79.81 993.95 80.72 992.24 81.37 C990.52 82.03 987.87 83.65 988.86 87.96Z" fill="#fff"/><path d="M993.50 130.29 C992.38 131.23 991.80 135.75 991.79 137.37 C991.78 138.99 992.69 139.78 993.43 139.99 C994.17 140.20 995.37 140.01 996.21 138.63 C997.06 137.25 998.95 133.11 998.50 131.71 C998.05 130.32 994.62 129.34 993.50 130.29Z" fill="#fff"/><path d="M993.07 140.10 C994.77 141.15 1000.48 143.05 1002.35 143.46 C1004.23 143.88 1004.10 143.07 1004.32 142.58 C1004.53 142.10 1005.21 141.65 1003.65 140.54 C1002.09 139.42 996.86 136.46 994.93 135.90 C993.01 135.34 992.42 136.46 992.11 137.16 C991.80 137.86 991.36 139.05 993.07 140.10Z" fill="#fff"/><path d="M985.61 21.11 C984.44 22.38 983.61 27.68 984.61 29.08 C985.60 30.48 990.43 30.78 991.59 29.52 C992.76 28.25 992.59 22.89 991.59 21.49 C990.60 20.09 986.77 19.85 985.61 21.11Z" fill="#fff"/><path d="M981.40 15.30 a8.2 9.5 0 1 0 16.4 0 a8.2 9.5 0 1 0 -16.4 0Z" fill="#fff"/><path d="M990.30 33.00 C989.93 37.41 990.53 49.20 990.80 57.05 C991.07 64.90 991.36 75.95 991.90 80.09 C992.45 84.23 993.38 81.92 994.08 81.89 C994.78 81.86 995.91 84.06 996.10 79.91 C996.28 75.75 995.27 64.77 995.20 56.95 C995.13 49.13 996.07 37.40 995.70 33.00 C995.33 28.60 993.90 30.57 993.00 30.57 C992.10 30.57 990.67 28.59 990.30 33.00Z" fill="#fff"/><path d="M1039.43 34.16 C1037.69 38.35 1032.89 49.79 1032.31 57.81 C1031.72 65.84 1034.93 77.96 1035.92 82.30 C1036.92 86.65 1037.58 83.97 1038.27 83.87 C1038.97 83.77 1040.34 85.98 1040.08 81.70 C1039.81 77.42 1035.94 65.83 1036.69 58.19 C1037.44 50.54 1043.56 40.09 1044.57 35.84 C1045.58 31.59 1043.61 32.97 1042.75 32.69 C1041.90 32.41 1041.17 29.98 1039.43 34.16Z" fill="#8c8c8c" stroke="#8c8c8c" stroke-width="2.5" stroke-linejoin="round"/><path d="M1038.26 83.20 C1035.11 87.31 1029.65 98.71 1026.56 106.38 C1023.48 114.04 1020.63 124.90 1019.74 129.18 C1018.86 133.46 1020.51 131.76 1021.26 132.03 C1022.01 132.30 1022.23 134.55 1024.26 130.82 C1026.28 127.09 1029.52 116.63 1033.44 109.62 C1037.35 102.62 1045.72 93.45 1047.74 88.80 C1049.75 84.15 1047.10 82.67 1045.52 81.74 C1043.94 80.81 1041.42 79.10 1038.26 83.20Z" fill="#8c8c8c" stroke="#8c8c8c" stroke-width="2.5" stroke-linejoin="round"/><path d="M1019.90 131.53 C1020.64 133.79 1026.70 140.26 1028.54 142.06 C1030.39 143.86 1030.47 142.66 1030.95 142.31 C1031.44 141.96 1032.60 142.25 1031.46 139.94 C1030.31 137.63 1026.03 129.87 1024.10 128.47 C1022.18 127.07 1019.16 129.26 1019.90 131.53Z" fill="#8c8c8c" stroke="#8c8c8c" stroke-width="2.5" stroke-linejoin="round"/><path d="M1039.43 34.16 C1037.69 38.35 1032.89 49.79 1032.31 57.81 C1031.72 65.84 1034.93 77.96 1035.92 82.30 C1036.92 86.65 1037.58 83.97 1038.27 83.87 C1038.97 83.77 1040.34 85.98 1040.08 81.70 C1039.81 77.42 1035.94 65.83 1036.69 58.19 C1037.44 50.54 1043.56 40.09 1044.57 35.84 C1045.58 31.59 1043.61 32.97 1042.75 32.69 C1041.90 32.41 1041.17 29.98 1039.43 34.16Z" fill="#fff"/><path d="M1038.26 83.20 C1035.11 87.31 1029.65 98.71 1026.56 106.38 C1023.48 114.04 1020.63 124.90 1019.74 129.18 C1018.86 133.46 1020.51 131.76 1021.26 132.03 C1022.01 132.30 1022.23 134.55 1024.26 130.82 C1026.28 127.09 1029.52 116.63 1033.44 109.62 C1037.35 102.62 1045.72 93.45 1047.74 88.80 C1049.75 84.15 1047.10 82.67 1045.52 81.74 C1043.94 80.81 1041.42 79.10 1038.26 83.20Z" fill="#fff"/><path d="M1019.90 131.53 C1020.64 133.79 1026.70 140.26 1028.54 142.06 C1030.39 143.86 1030.47 142.66 1030.95 142.31 C1031.44 141.96 1032.60 142.25 1031.46 139.94 C1030.31 137.63 1026.03 129.87 1024.10 128.47 C1022.18 127.07 1019.16 129.26 1019.90 131.53Z" fill="#fff"/><path d="M1044.00 29.00 C1041.83 31.83 1042.67 40.83 1042.00 46.00 C1041.33 51.17 1040.50 53.67 1040.00 60.00 C1039.50 66.33 1036.17 80.00 1039.00 84.00 C1041.83 88.00 1054.00 88.00 1057.00 84.00 C1060.00 80.00 1056.67 66.50 1057.00 60.00 C1057.33 53.50 1059.33 50.17 1059.00 45.00 C1058.67 39.83 1057.50 31.67 1055.00 29.00 C1052.50 26.33 1046.17 26.17 1044.00 29.00Z" fill="#8c8c8c" stroke="#8c8c8c" stroke-width="2.5" stroke-linejoin="round"/><path d="M1049.08 88.46 C1050.89 93.50 1058.02 104.36 1062.66 111.82 C1067.30 119.28 1074.03 129.55 1076.93 133.22 C1079.84 136.89 1079.41 134.27 1080.10 133.86 C1080.79 133.45 1082.86 135.06 1081.07 130.78 C1079.27 126.50 1073.03 116.06 1069.34 108.18 C1065.65 100.31 1061.84 87.98 1058.92 83.54 C1055.99 79.11 1053.43 80.75 1051.79 81.57 C1050.15 82.39 1047.27 83.42 1049.08 88.46Z" fill="#8c8c8c" stroke="#8c8c8c" stroke-width="2.5" stroke-linejoin="round"/><path d="M1076.42 131.68 C1075.44 132.91 1075.50 137.99 1075.72 139.71 C1075.94 141.44 1076.98 141.96 1077.74 142.05 C1078.50 142.15 1079.64 141.91 1080.28 140.29 C1080.92 138.66 1082.22 133.76 1081.58 132.32 C1080.94 130.89 1077.40 130.45 1076.42 131.68Z" fill="#8c8c8c" stroke="#8c8c8c" stroke-width="2.5" stroke-linejoin="round"/><path d="M1078.40 142.27 C1081.62 141.97 1092.27 139.49 1095.28 138.58 C1098.28 137.66 1096.51 137.27 1096.42 136.75 C1096.33 136.22 1097.86 135.26 1094.72 135.42 C1091.59 135.59 1080.73 136.91 1077.60 137.73 C1074.47 138.56 1075.83 139.60 1075.96 140.36 C1076.09 141.11 1075.18 142.56 1078.40 142.27Z" fill="#8c8c8c" stroke="#8c8c8c" stroke-width="2.5" stroke-linejoin="round"/><path d="M1046.61 23.31 C1045.44 24.58 1044.61 29.88 1045.61 31.28 C1046.60 32.68 1051.43 32.98 1052.59 31.72 C1053.76 30.45 1053.59 25.09 1052.59 23.69 C1051.60 22.29 1047.77 22.05 1046.61 23.31Z" fill="#8c8c8c" stroke="#8c8c8c" stroke-width="2.5" stroke-linejoin="round"/><path d="M1042.40 17.50 a8.2 9.5 0 1 0 16.4 0 a8.2 9.5 0 1 0 -16.4 0Z" fill="#8c8c8c" stroke="#8c8c8c" stroke-width="2.5" stroke-linejoin="round"/><path d="M1051.32 36.31 C1051.54 41.22 1051.35 56.19 1055.08 63.08 C1058.81 69.97 1070.14 75.31 1073.71 77.66 C1077.28 80.00 1076.06 77.71 1076.49 77.16 C1076.92 76.61 1079.22 77.05 1076.29 74.34 C1073.36 71.64 1062.19 67.36 1058.92 60.92 C1055.65 54.48 1057.55 40.25 1056.68 35.69 C1055.82 31.13 1054.62 33.48 1053.72 33.59 C1052.83 33.69 1051.09 31.39 1051.32 36.31Z" fill="#8c8c8c" stroke="#8c8c8c" stroke-width="2.5" stroke-linejoin="round"/><path d="M1044.00 29.00 C1041.83 31.83 1042.67 40.83 1042.00 46.00 C1041.33 51.17 1040.50 53.67 1040.00 60.00 C1039.50 66.33 1036.17 80.00 1039.00 84.00 C1041.83 88.00 1054.00 88.00 1057.00 84.00 C1060.00 80.00 1056.67 66.50 1057.00 60.00 C1057.33 53.50 1059.33 50.17 1059.00 45.00 C1058.67 39.83 1057.50 31.67 1055.00 29.00 C1052.50 26.33 1046.17 26.17 1044.00 29.00Z" fill="#fff"/><path d="M1049.08 88.46 C1050.89 93.50 1058.02 104.36 1062.66 111.82 C1067.30 119.28 1074.03 129.55 1076.93 133.22 C1079.84 136.89 1079.41 134.27 1080.10 133.86 C1080.79 133.45 1082.86 135.06 1081.07 130.78 C1079.27 126.50 1073.03 116.06 1069.34 108.18 C1065.65 100.31 1061.84 87.98 1058.92 83.54 C1055.99 79.11 1053.43 80.75 1051.79 81.57 C1050.15 82.39 1047.27 83.42 1049.08 88.46Z" fill="#fff"/><path d="M1076.42 131.68 C1075.44 132.91 1075.50 137.99 1075.72 139.71 C1075.94 141.44 1076.98 141.96 1077.74 142.05 C1078.50 142.15 1079.64 141.91 1080.28 140.29 C1080.92 138.66 1082.22 133.76 1081.58 132.32 C1080.94 130.89 1077.40 130.45 1076.42 131.68Z" fill="#fff"/><path d="M1078.40 142.27 C1081.62 141.97 1092.27 139.49 1095.28 138.58 C1098.28 137.66 1096.51 137.27 1096.42 136.75 C1096.33 136.22 1097.86 135.26 1094.72 135.42 C1091.59 135.59 1080.73 136.91 1077.60 137.73 C1074.47 138.56 1075.83 139.60 1075.96 140.36 C1076.09 141.11 1075.18 142.56 1078.40 142.27Z" fill="#fff"/><path d="M1046.61 23.31 C1045.44 24.58 1044.61 29.88 1045.61 31.28 C1046.60 32.68 1051.43 32.98 1052.59 31.72 C1053.76 30.45 1053.59 25.09 1052.59 23.69 C1051.60 22.29 1047.77 22.05 1046.61 23.31Z" fill="#fff"/><path d="M1042.40 17.50 a8.2 9.5 0 1 0 16.4 0 a8.2 9.5 0 1 0 -16.4 0Z" fill="#fff"/><path d="M1051.32 36.31 C1051.54 41.22 1051.35 56.19 1055.08 63.08 C1058.81 69.97 1070.14 75.31 1073.71 77.66 C1077.28 80.00 1076.06 77.71 1076.49 77.16 C1076.92 76.61 1079.22 77.05 1076.29 74.34 C1073.36 71.64 1062.19 67.36 1058.92 60.92 C1055.65 54.48 1057.55 40.25 1056.68 35.69 C1055.82 31.13 1054.62 33.48 1053.72 33.59 C1052.83 33.69 1051.09 31.39 1051.32 36.31Z" fill="#fff"/><path d="M1055.53 63.89 C1058.59 66.73 1070.18 75.48 1073.68 77.70 C1077.18 79.91 1076.09 77.75 1076.53 77.19 C1076.97 76.62 1079.33 77.15 1076.32 74.30 C1073.31 71.46 1061.98 62.38 1058.47 60.11 C1054.97 57.83 1055.79 60.04 1055.29 60.67 C1054.80 61.31 1052.46 61.06 1055.53 63.89Z" fill="none" stroke="#8c8c8c" stroke-width="1.0" stroke-opacity="0.6"/><path d="M1130.48 34.03 C1128.55 38.03 1123.07 49.05 1122.31 56.76 C1121.55 64.48 1124.93 76.13 1125.92 80.32 C1126.92 84.50 1127.59 81.97 1128.28 81.87 C1128.98 81.76 1130.34 83.79 1130.08 79.68 C1129.81 75.58 1125.78 64.52 1126.69 57.24 C1127.59 49.95 1134.32 40.06 1135.52 35.97 C1136.72 31.89 1134.72 33.06 1133.88 32.73 C1133.04 32.41 1132.41 30.02 1130.48 34.03Z" fill="#8c8c8c" stroke="#8c8c8c" stroke-width="2.5" stroke-linejoin="round"/><path d="M1127.55 86.29 C1126.34 90.73 1128.18 101.99 1126.42 108.74 C1124.65 115.48 1118.38 123.23 1116.95 126.75 C1115.53 130.27 1117.19 129.43 1117.87 129.84 C1118.56 130.26 1118.43 132.35 1121.05 129.25 C1123.67 126.15 1130.68 118.19 1133.58 111.26 C1136.48 104.34 1138.44 92.57 1138.45 87.71 C1138.46 82.85 1135.46 82.33 1133.64 82.09 C1131.82 81.85 1128.75 81.85 1127.55 86.29Z" fill="#8c8c8c" stroke="#8c8c8c" stroke-width="2.5" stroke-linejoin="round"/><path d="M1116.67 129.16 C1117.02 131.49 1121.88 138.76 1123.39 140.80 C1124.90 142.85 1125.19 141.72 1125.72 141.45 C1126.26 141.18 1127.34 141.63 1126.61 139.20 C1125.88 136.76 1122.98 128.51 1121.33 126.84 C1119.67 125.17 1116.33 126.83 1116.67 129.16Z" fill="#8c8c8c" stroke="#8c8c8c" stroke-width="2.5" stroke-linejoin="round"/><path d="M1130.48 34.03 C1128.55 38.03 1123.07 49.05 1122.31 56.76 C1121.55 64.48 1124.93 76.13 1125.92 80.32 C1126.92 84.50 1127.59 81.97 1128.28 81.87 C1128.98 81.76 1130.34 83.79 1130.08 79.68 C1129.81 75.58 1125.78 64.52 1126.69 57.24 C1127.59 49.95 1134.32 40.06 1135.52 35.97 C1136.72 31.89 1134.72 33.06 1133.88 32.73 C1133.04 32.41 1132.41 30.02 1130.48 34.03Z" fill="#fff"/><path d="M1127.55 86.29 C1126.34 90.73 1128.18 101.99 1126.42 108.74 C1124.65 115.48 1118.38 123.23 1116.95 126.75 C1115.53 130.27 1117.19 129.43 1117.87 129.84 C1118.56 130.26 1118.43 132.35 1121.05 129.25 C1123.67 126.15 1130.68 118.19 1133.58 111.26 C1136.48 104.34 1138.44 92.57 1138.45 87.71 C1138.46 82.85 1135.46 82.33 1133.64 82.09 C1131.82 81.85 1128.75 81.85 1127.55 86.29Z" fill="#fff"/><path d="M1116.67 129.16 C1117.02 131.49 1121.88 138.76 1123.39 140.80 C1124.90 142.85 1125.19 141.72 1125.72 141.45 C1126.26 141.18 1127.34 141.63 1126.61 139.20 C1125.88 136.76 1122.98 128.51 1121.33 126.84 C1119.67 125.17 1116.33 126.83 1116.67 129.16Z" fill="#fff"/><path d="M1136.00 29.00 C1134.00 31.83 1134.00 41.17 1133.00 46.00 C1132.00 50.83 1130.17 51.67 1130.00 58.00 C1129.83 64.33 1129.00 79.67 1132.00 84.00 C1135.00 88.33 1145.50 88.00 1148.00 84.00 C1150.50 80.00 1146.83 66.67 1147.00 60.00 C1147.17 53.33 1149.33 49.17 1149.00 44.00 C1148.67 38.83 1147.17 31.50 1145.00 29.00 C1142.83 26.50 1138.00 26.17 1136.00 29.00Z" fill="#8c8c8c" stroke="#8c8c8c" stroke-width="2.5" stroke-linejoin="round"/><path d="M1140.68 88.39 C1141.27 93.16 1145.97 103.01 1148.30 110.85 C1150.62 118.70 1153.13 131.09 1154.65 135.47 C1156.17 139.85 1156.64 137.27 1157.42 137.12 C1158.21 136.96 1159.64 139.19 1159.35 134.53 C1159.07 129.87 1157.04 117.30 1155.70 109.15 C1154.36 100.99 1153.15 90.10 1151.32 85.61 C1149.50 81.12 1146.52 81.75 1144.75 82.21 C1142.98 82.67 1140.09 83.61 1140.68 88.39Z" fill="#8c8c8c" stroke="#8c8c8c" stroke-width="2.5" stroke-linejoin="round"/><path d="M1154.53 134.18 C1153.43 134.92 1152.85 138.81 1152.82 140.27 C1152.79 141.74 1153.62 142.72 1154.35 142.96 C1155.07 143.21 1156.33 142.92 1157.18 141.73 C1158.04 140.54 1159.91 137.08 1159.47 135.82 C1159.03 134.56 1155.64 133.44 1154.53 134.18Z" fill="#8c8c8c" stroke="#8c8c8c" stroke-width="2.5" stroke-linejoin="round"/><path d="M1155.00 143.30 C1157.85 143.57 1167.26 142.98 1170.00 142.60 C1172.74 142.22 1171.44 141.53 1171.44 141.00 C1171.44 140.47 1172.74 139.78 1170.00 139.40 C1167.26 139.02 1157.85 138.43 1155.00 138.70 C1152.15 138.97 1152.93 140.23 1152.93 141.00 C1152.93 141.77 1152.15 143.03 1155.00 143.30Z" fill="#8c8c8c" stroke="#8c8c8c" stroke-width="2.5" stroke-linejoin="round"/><path d="M1137.01 22.81 C1135.84 24.08 1135.01 29.38 1136.01 30.78 C1137.00 32.18 1141.83 32.48 1142.99 31.22 C1144.16 29.95 1143.99 24.59 1142.99 23.19 C1142.00 21.79 1138.17 21.55 1137.01 22.81Z" fill="#8c8c8c" stroke="#8c8c8c" stroke-width="2.5" stroke-linejoin="round"/><path d="M1132.80 17.00 a8.2 9.5 0 1 0 16.4 0 a8.2 9.5 0 1 0 -16.4 0Z" fill="#8c8c8c" stroke="#8c8c8c" stroke-width="2.5" stroke-linejoin="round"/><path d="M1141.33 35.40 C1141.70 40.40 1143.76 55.04 1145.89 62.61 C1148.01 70.19 1152.27 77.67 1154.08 80.85 C1155.89 84.04 1156.13 82.01 1156.77 81.73 C1157.41 81.44 1159.03 82.54 1157.92 79.15 C1156.81 75.76 1151.99 68.81 1150.11 61.39 C1148.24 53.96 1147.75 39.40 1146.67 34.60 C1145.59 29.81 1144.53 32.46 1143.64 32.60 C1142.75 32.73 1140.96 30.39 1141.33 35.40Z" fill="#8c8c8c" stroke="#8c8c8c" stroke-width="2.5" stroke-linejoin="round"/><path d="M1136.00 29.00 C1134.00 31.83 1134.00 41.17 1133.00 46.00 C1132.00 50.83 1130.17 51.67 1130.00 58.00 C1129.83 64.33 1129.00 79.67 1132.00 84.00 C1135.00 88.33 1145.50 88.00 1148.00 84.00 C1150.50 80.00 1146.83 66.67 1147.00 60.00 C1147.17 53.33 1149.33 49.17 1149.00 44.00 C1148.67 38.83 1147.17 31.50 1145.00 29.00 C1142.83 26.50 1138.00 26.17 1136.00 29.00Z" fill="#fff"/><path d="M1140.68 88.39 C1141.27 93.16 1145.97 103.01 1148.30 110.85 C1150.62 118.70 1153.13 131.09 1154.65 135.47 C1156.17 139.85 1156.64 137.27 1157.42 137.12 C1158.21 136.96 1159.64 139.19 1159.35 134.53 C1159.07 129.87 1157.04 117.30 1155.70 109.15 C1154.36 100.99 1153.15 90.10 1151.32 85.61 C1149.50 81.12 1146.52 81.75 1144.75 82.21 C1142.98 82.67 1140.09 83.61 1140.68 88.39Z" fill="#fff"/><path d="M1154.53 134.18 C1153.43 134.92 1152.85 138.81 1152.82 140.27 C1152.79 141.74 1153.62 142.72 1154.35 142.96 C1155.07 143.21 1156.33 142.92 1157.18 141.73 C1158.04 140.54 1159.91 137.08 1159.47 135.82 C1159.03 134.56 1155.64 133.44 1154.53 134.18Z" fill="#fff"/><path d="M1155.00 143.30 C1157.85 143.57 1167.26 142.98 1170.00 142.60 C1172.74 142.22 1171.44 141.53 1171.44 141.00 C1171.44 140.47 1172.74 139.78 1170.00 139.40 C1167.26 139.02 1157.85 138.43 1155.00 138.70 C1152.15 138.97 1152.93 140.23 1152.93 141.00 C1152.93 141.77 1152.15 143.03 1155.00 143.30Z" fill="#fff"/><path d="M1137.01 22.81 C1135.84 24.08 1135.01 29.38 1136.01 30.78 C1137.00 32.18 1141.83 32.48 1142.99 31.22 C1144.16 29.95 1143.99 24.59 1142.99 23.19 C1142.00 21.79 1138.17 21.55 1137.01 22.81Z" fill="#fff"/><path d="M1132.80 17.00 a8.2 9.5 0 1 0 16.4 0 a8.2 9.5 0 1 0 -16.4 0Z" fill="#fff"/><path d="M1141.33 35.40 C1141.70 40.40 1143.76 55.04 1145.89 62.61 C1148.01 70.19 1152.27 77.67 1154.08 80.85 C1155.89 84.04 1156.13 82.01 1156.77 81.73 C1157.41 81.44 1159.03 82.54 1157.92 79.15 C1156.81 75.76 1151.99 68.81 1150.11 61.39 C1148.24 53.96 1147.75 39.40 1146.67 34.60 C1145.59 29.81 1144.53 32.46 1143.64 32.60 C1142.75 32.73 1140.96 30.39 1141.33 35.40Z" fill="#fff"/><path d="M1145.81 62.97 C1146.96 66.45 1152.21 77.74 1154.04 80.87 C1155.87 84.01 1156.13 82.06 1156.79 81.77 C1157.44 81.48 1159.06 82.58 1157.96 79.13 C1156.87 75.67 1152.00 64.21 1150.19 61.03 C1148.39 57.84 1147.85 59.70 1147.12 60.03 C1146.39 60.35 1144.65 59.50 1145.81 62.97Z" fill="none" stroke="#8c8c8c" stroke-width="1.0" stroke-opacity="0.6"/><path d="M1173.37 32.40 C1171.99 36.79 1168.20 49.00 1168.30 57.01 C1168.40 65.03 1172.60 76.35 1173.96 80.49 C1175.31 84.63 1175.76 82.00 1176.44 81.84 C1177.12 81.68 1178.67 83.65 1178.04 79.51 C1177.42 75.37 1172.60 64.64 1172.70 56.99 C1172.80 49.34 1177.99 38.00 1178.63 33.60 C1179.27 29.21 1177.42 30.83 1176.54 30.63 C1175.67 30.43 1174.74 28.00 1173.37 32.40Z" fill="#8c8c8c" stroke="#8c8c8c" stroke-width="2.5" stroke-linejoin="round"/><path d="M1169.52 86.52 C1168.48 91.18 1168.69 101.88 1169.20 109.99 C1169.71 118.10 1171.61 130.66 1172.61 135.19 C1173.60 139.72 1174.37 137.22 1175.17 137.15 C1175.97 137.09 1177.12 139.33 1177.39 134.81 C1177.66 130.29 1176.29 117.90 1176.80 110.01 C1177.31 102.12 1180.71 92.13 1180.48 87.48 C1180.25 82.82 1177.26 82.23 1175.43 82.07 C1173.60 81.91 1170.56 81.87 1169.52 86.52Z" fill="#8c8c8c" stroke="#8c8c8c" stroke-width="2.5" stroke-linejoin="round"/><path d="M1172.44 134.57 C1171.46 135.44 1171.53 139.21 1171.73 140.62 C1171.94 142.03 1172.90 142.92 1173.66 143.04 C1174.42 143.17 1175.62 142.65 1176.27 141.38 C1176.92 140.11 1178.20 136.56 1177.56 135.43 C1176.93 134.29 1173.41 133.71 1172.44 134.57Z" fill="#8c8c8c" stroke="#8c8c8c" stroke-width="2.5" stroke-linejoin="round"/><path d="M1173.84 143.29 C1176.49 143.75 1185.29 143.79 1187.89 143.60 C1190.49 143.40 1189.40 142.63 1189.44 142.10 C1189.47 141.57 1190.66 140.97 1188.11 140.40 C1185.57 139.84 1176.86 138.63 1174.16 138.71 C1171.47 138.78 1171.99 140.09 1171.94 140.85 C1171.88 141.62 1171.18 142.84 1173.84 143.29Z" fill="#8c8c8c" stroke="#8c8c8c" stroke-width="2.5" stroke-linejoin="round"/><path d="M1173.37 32.40 C1171.99 36.79 1168.20 49.00 1168.30 57.01 C1168.40 65.03 1172.60 76.35 1173.96 80.49 C1175.31 84.63 1175.76 82.00 1176.44 81.84 C1177.12 81.68 1178.67 83.65 1178.04 79.51 C1177.42 75.37 1172.60 64.64 1172.70 56.99 C1172.80 49.34 1177.99 38.00 1178.63 33.60 C1179.27 29.21 1177.42 30.83 1176.54 30.63 C1175.67 30.43 1174.74 28.00 1173.37 32.40Z" fill="#fff"/><path d="M1169.52 86.52 C1168.48 91.18 1168.69 101.88 1169.20 109.99 C1169.71 118.10 1171.61 130.66 1172.61 135.19 C1173.60 139.72 1174.37 137.22 1175.17 137.15 C1175.97 137.09 1177.12 139.33 1177.39 134.81 C1177.66 130.29 1176.29 117.90 1176.80 110.01 C1177.31 102.12 1180.71 92.13 1180.48 87.48 C1180.25 82.82 1177.26 82.23 1175.43 82.07 C1173.60 81.91 1170.56 81.87 1169.52 86.52Z" fill="#fff"/><path d="M1172.44 134.57 C1171.46 135.44 1171.53 139.21 1171.73 140.62 C1171.94 142.03 1172.90 142.92 1173.66 143.04 C1174.42 143.17 1175.62 142.65 1176.27 141.38 C1176.92 140.11 1178.20 136.56 1177.56 135.43 C1176.93 134.29 1173.41 133.71 1172.44 134.57Z" fill="#fff"/><path d="M1173.84 143.29 C1176.49 143.75 1185.29 143.79 1187.89 143.60 C1190.49 143.40 1189.40 142.63 1189.44 142.10 C1189.47 141.57 1190.66 140.97 1188.11 140.40 C1185.57 139.84 1176.86 138.63 1174.16 138.71 C1171.47 138.78 1171.99 140.09 1171.94 140.85 C1171.88 141.62 1171.18 142.84 1173.84 143.29Z" fill="#fff"/><path d="M1175.00 27.00 C1173.17 30.17 1175.00 40.17 1175.00 46.00 C1175.00 51.83 1175.00 55.50 1175.00 62.00 C1175.00 68.50 1172.67 81.17 1175.00 85.00 C1177.33 88.83 1186.83 89.50 1189.00 85.00 C1191.17 80.50 1188.00 65.17 1188.00 58.00 C1188.00 50.83 1189.33 47.17 1189.00 42.00 C1188.67 36.83 1188.33 29.50 1186.00 27.00 C1183.67 24.50 1176.83 23.83 1175.00 27.00Z" fill="#8c8c8c" stroke="#8c8c8c" stroke-width="2.5" stroke-linejoin="round"/><path d="M1181.13 89.56 C1182.55 93.45 1192.24 99.43 1192.20 105.98 C1192.16 112.53 1182.59 124.54 1180.89 128.86 C1179.18 133.18 1181.27 131.52 1181.97 131.90 C1182.67 132.28 1182.14 135.46 1185.11 131.14 C1188.08 126.83 1198.84 113.81 1199.80 106.02 C1200.76 98.24 1193.55 88.34 1190.87 84.44 C1188.18 80.54 1185.32 81.77 1183.69 82.62 C1182.07 83.47 1179.72 85.67 1181.13 89.56Z" fill="#8c8c8c" stroke="#8c8c8c" stroke-width="2.5" stroke-linejoin="round"/><path d="M1180.67 128.84 C1179.44 129.47 1178.21 133.47 1177.94 134.97 C1177.68 136.47 1178.39 137.51 1179.07 137.85 C1179.76 138.19 1181.02 138.14 1182.06 137.03 C1183.10 135.91 1185.56 132.53 1185.33 131.16 C1185.10 129.80 1181.90 128.20 1180.67 128.84Z" fill="#8c8c8c" stroke="#8c8c8c" stroke-width="2.5" stroke-linejoin="round"/><path d="M1178.97 138.06 C1180.83 139.28 1187.23 141.83 1189.28 142.43 C1191.34 143.03 1191.05 142.12 1191.29 141.64 C1191.53 141.17 1192.43 140.85 1190.72 139.57 C1189.01 138.29 1183.12 134.69 1181.03 133.94 C1178.93 133.19 1178.49 134.39 1178.15 135.07 C1177.81 135.76 1177.12 136.83 1178.97 138.06Z" fill="#8c8c8c" stroke="#8c8c8c" stroke-width="2.5" stroke-linejoin="round"/><path d="M1177.01 21.11 C1175.84 22.38 1175.01 27.68 1176.01 29.08 C1177.00 30.48 1181.83 30.78 1182.99 29.52 C1184.16 28.25 1183.99 22.89 1182.99 21.49 C1182.00 20.09 1178.17 19.85 1177.01 21.11Z" fill="#8c8c8c" stroke="#8c8c8c" stroke-width="2.5" stroke-linejoin="round"/><path d="M1172.80 15.30 a8.2 9.5 0 1 0 16.4 0 a8.2 9.5 0 1 0 -16.4 0Z" fill="#8c8c8c" stroke="#8c8c8c" stroke-width="2.5" stroke-linejoin="round"/><path d="M1181.30 32.89 C1180.75 37.47 1180.53 49.83 1180.80 58.05 C1181.07 66.26 1182.18 77.87 1182.91 82.17 C1183.63 86.48 1184.46 83.94 1185.16 83.88 C1185.85 83.83 1187.09 86.15 1187.09 81.83 C1187.10 77.50 1185.27 66.07 1185.20 57.95 C1185.13 49.83 1186.88 37.67 1186.70 33.11 C1186.51 28.54 1185.00 30.61 1184.10 30.57 C1183.20 30.54 1181.85 28.31 1181.30 32.89Z" fill="#8c8c8c" stroke="#8c8c8c" stroke-width="2.5" stroke-linejoin="round"/><path d="M1175.00 27.00 C1173.17 30.17 1175.00 40.17 1175.00 46.00 C1175.00 51.83 1175.00 55.50 1175.00 62.00 C1175.00 68.50 1172.67 81.17 1175.00 85.00 C1177.33 88.83 1186.83 89.50 1189.00 85.00 C1191.17 80.50 1188.00 65.17 1188.00 58.00 C1188.00 50.83 1189.33 47.17 1189.00 42.00 C1188.67 36.83 1188.33 29.50 1186.00 27.00 C1183.67 24.50 1176.83 23.83 1175.00 27.00Z" fill="#fff"/><path d="M1181.13 89.56 C1182.55 93.45 1192.24 99.43 1192.20 105.98 C1192.16 112.53 1182.59 124.54 1180.89 128.86 C1179.18 133.18 1181.27 131.52 1181.97 131.90 C1182.67 132.28 1182.14 135.46 1185.11 131.14 C1188.08 126.83 1198.84 113.81 1199.80 106.02 C1200.76 98.24 1193.55 88.34 1190.87 84.44 C1188.18 80.54 1185.32 81.77 1183.69 82.62 C1182.07 83.47 1179.72 85.67 1181.13 89.56Z" fill="#fff"/><path d="M1180.67 128.84 C1179.44 129.47 1178.21 133.47 1177.94 134.97 C1177.68 136.47 1178.39 137.51 1179.07 137.85 C1179.76 138.19 1181.02 138.14 1182.06 137.03 C1183.10 135.91 1185.56 132.53 1185.33 131.16 C1185.10 129.80 1181.90 128.20 1180.67 128.84Z" fill="#fff"/><path d="M1178.97 138.06 C1180.83 139.28 1187.23 141.83 1189.28 142.43 C1191.34 143.03 1191.05 142.12 1191.29 141.64 C1191.53 141.17 1192.43 140.85 1190.72 139.57 C1189.01 138.29 1183.12 134.69 1181.03 133.94 C1178.93 133.19 1178.49 134.39 1178.15 135.07 C1177.81 135.76 1177.12 136.83 1178.97 138.06Z" fill="#fff"/><path d="M1177.01 21.11 C1175.84 22.38 1175.01 27.68 1176.01 29.08 C1177.00 30.48 1181.83 30.78 1182.99 29.52 C1184.16 28.25 1183.99 22.89 1182.99 21.49 C1182.00 20.09 1178.17 19.85 1177.01 21.11Z" fill="#fff"/><path d="M1172.80 15.30 a8.2 9.5 0 1 0 16.4 0 a8.2 9.5 0 1 0 -16.4 0Z" fill="#fff"/><path d="M1181.30 32.89 C1180.75 37.47 1180.53 49.83 1180.80 58.05 C1181.07 66.26 1182.18 77.87 1182.91 82.17 C1183.63 86.48 1184.46 83.94 1185.16 83.88 C1185.85 83.83 1187.09 86.15 1187.09 81.83 C1187.10 77.50 1185.27 66.07 1185.20 57.95 C1185.13 49.83 1186.88 37.67 1186.70 33.11 C1186.51 28.54 1185.00 30.61 1184.10 30.57 C1183.20 30.54 1181.85 28.31 1181.30 32.89Z" fill="#fff"/><path d="M1218.39 33.29 C1216.84 37.67 1212.38 49.41 1212.30 57.94 C1212.23 66.46 1216.60 79.78 1217.95 84.43 C1219.29 89.09 1219.71 85.99 1220.39 85.85 C1221.08 85.70 1222.67 88.20 1222.05 83.57 C1221.44 78.93 1216.44 66.20 1216.70 58.06 C1216.96 49.92 1222.78 39.11 1223.61 34.71 C1224.43 30.30 1222.50 31.89 1221.64 31.65 C1220.77 31.42 1219.95 28.91 1218.39 33.29Z" fill="#8c8c8c" stroke="#8c8c8c" stroke-width="2.5" stroke-linejoin="round"/><path d="M1215.52 88.52 C1214.48 93.16 1214.85 103.82 1215.20 111.91 C1215.55 120.01 1216.79 132.55 1217.60 137.10 C1218.42 141.64 1219.29 139.19 1220.09 139.16 C1220.89 139.13 1221.95 141.42 1222.40 136.90 C1222.85 132.39 1222.12 119.99 1222.80 112.09 C1223.48 104.18 1226.71 94.15 1226.48 89.48 C1226.25 84.81 1223.26 84.23 1221.43 84.07 C1219.60 83.91 1216.56 83.88 1215.52 88.52Z" fill="#8c8c8c" stroke="#8c8c8c" stroke-width="2.5" stroke-linejoin="round"/><path d="M1217.53 137.82 C1217.17 139.05 1219.46 142.45 1220.29 143.57 C1221.12 144.69 1221.94 144.73 1222.51 144.54 C1223.08 144.35 1223.72 143.82 1223.71 142.43 C1223.70 141.04 1223.50 136.95 1222.47 136.18 C1221.44 135.41 1217.90 136.59 1217.53 137.82Z" fill="#8c8c8c" stroke="#8c8c8c" stroke-width="2.5" stroke-linejoin="round"/><path d="M1218.39 33.29 C1216.84 37.67 1212.38 49.41 1212.30 57.94 C1212.23 66.46 1216.60 79.78 1217.95 84.43 C1219.29 89.09 1219.71 85.99 1220.39 85.85 C1221.08 85.70 1222.67 88.20 1222.05 83.57 C1221.44 78.93 1216.44 66.20 1216.70 58.06 C1216.96 49.92 1222.78 39.11 1223.61 34.71 C1224.43 30.30 1222.50 31.89 1221.64 31.65 C1220.77 31.42 1219.95 28.91 1218.39 33.29Z" fill="#fff"/><path d="M1215.52 88.52 C1214.48 93.16 1214.85 103.82 1215.20 111.91 C1215.55 120.01 1216.79 132.55 1217.60 137.10 C1218.42 141.64 1219.29 139.19 1220.09 139.16 C1220.89 139.13 1221.95 141.42 1222.40 136.90 C1222.85 132.39 1222.12 119.99 1222.80 112.09 C1223.48 104.18 1226.71 94.15 1226.48 89.48 C1226.25 84.81 1223.26 84.23 1221.43 84.07 C1219.60 83.91 1216.56 83.88 1215.52 88.52Z" fill="#fff"/><path d="M1217.53 137.82 C1217.17 139.05 1219.46 142.45 1220.29 143.57 C1221.12 144.69 1221.94 144.73 1222.51 144.54 C1223.08 144.35 1223.72 143.82 1223.71 142.43 C1223.70 141.04 1223.50 136.95 1222.47 136.18 C1221.44 135.41 1217.90 136.59 1217.53 137.82Z" fill="#fff"/><path d="M1220.00 27.00 C1218.17 30.17 1220.00 40.17 1220.00 46.00 C1220.00 51.83 1219.83 55.00 1220.00 62.00 C1220.17 69.00 1218.50 83.67 1221.00 88.00 C1223.50 92.33 1233.00 93.33 1235.00 88.00 C1237.00 82.67 1233.00 63.67 1233.00 56.00 C1233.00 48.33 1235.33 46.83 1235.00 42.00 C1234.67 37.17 1233.50 29.50 1231.00 27.00 C1228.50 24.50 1221.83 23.83 1220.00 27.00Z" fill="#8c8c8c" stroke="#8c8c8c" stroke-width="2.5" stroke-linejoin="round"/><path d="M1226.51 89.26 C1226.08 93.64 1228.03 102.99 1229.21 110.34 C1230.40 117.68 1232.44 129.18 1233.62 133.31 C1234.80 137.44 1235.49 135.25 1236.28 135.14 C1237.07 135.04 1238.30 136.94 1238.38 132.69 C1238.46 128.44 1236.93 116.99 1236.79 109.66 C1236.64 102.34 1238.33 93.01 1237.49 88.74 C1236.66 84.47 1233.60 83.97 1231.76 84.06 C1229.93 84.14 1226.93 84.88 1226.51 89.26Z" fill="#8c8c8c" stroke="#8c8c8c" stroke-width="2.5" stroke-linejoin="round"/><path d="M1233.74 131.71 C1232.37 132.47 1230.46 137.18 1230.00 138.86 C1229.54 140.54 1230.31 141.42 1230.97 141.80 C1231.64 142.18 1232.78 142.39 1234.00 141.14 C1235.21 139.89 1238.30 135.86 1238.26 134.29 C1238.22 132.72 1235.12 130.95 1233.74 131.71Z" fill="#8c8c8c" stroke="#8c8c8c" stroke-width="2.5" stroke-linejoin="round"/><path d="M1232.00 142.30 C1235.01 142.57 1245.09 141.98 1248.00 141.60 C1250.91 141.22 1249.44 140.53 1249.44 140.00 C1249.44 139.47 1250.91 138.78 1248.00 138.40 C1245.09 138.02 1235.01 137.43 1232.00 137.70 C1228.99 137.97 1229.93 139.23 1229.93 140.00 C1229.93 140.77 1228.99 142.03 1232.00 142.30Z" fill="#8c8c8c" stroke="#8c8c8c" stroke-width="2.5" stroke-linejoin="round"/><path d="M1222.01 20.81 C1220.84 22.08 1220.01 27.38 1221.01 28.78 C1222.00 30.18 1226.83 30.48 1227.99 29.22 C1229.16 27.95 1228.99 22.59 1227.99 21.19 C1227.00 19.79 1223.17 19.55 1222.01 20.81Z" fill="#8c8c8c" stroke="#8c8c8c" stroke-width="2.5" stroke-linejoin="round"/><path d="M1217.80 15.00 a8.2 9.5 0 1 0 16.4 0 a8.2 9.5 0 1 0 -16.4 0Z" fill="#8c8c8c" stroke="#8c8c8c" stroke-width="2.5" stroke-linejoin="round"/><path d="M1227.30 33.89 C1226.75 38.25 1227.71 49.46 1226.81 57.75 C1225.92 66.03 1222.47 78.92 1221.94 83.60 C1221.41 88.29 1222.96 85.72 1223.64 85.86 C1224.33 85.99 1224.81 89.00 1226.06 84.40 C1227.32 79.80 1230.08 66.63 1231.19 58.25 C1232.29 49.87 1232.88 38.56 1232.70 34.11 C1232.52 29.67 1231.00 31.61 1230.10 31.57 C1229.20 31.53 1227.85 29.53 1227.30 33.89Z" fill="#8c8c8c" stroke="#8c8c8c" stroke-width="2.5" stroke-linejoin="round"/><path d="M1220.00 27.00 C1218.17 30.17 1220.00 40.17 1220.00 46.00 C1220.00 51.83 1219.83 55.00 1220.00 62.00 C1220.17 69.00 1218.50 83.67 1221.00 88.00 C1223.50 92.33 1233.00 93.33 1235.00 88.00 C1237.00 82.67 1233.00 63.67 1233.00 56.00 C1233.00 48.33 1235.33 46.83 1235.00 42.00 C1234.67 37.17 1233.50 29.50 1231.00 27.00 C1228.50 24.50 1221.83 23.83 1220.00 27.00Z" fill="#fff"/><path d="M1226.51 89.26 C1226.08 93.64 1228.03 102.99 1229.21 110.34 C1230.40 117.68 1232.44 129.18 1233.62 133.31 C1234.80 137.44 1235.49 135.25 1236.28 135.14 C1237.07 135.04 1238.30 136.94 1238.38 132.69 C1238.46 128.44 1236.93 116.99 1236.79 109.66 C1236.64 102.34 1238.33 93.01 1237.49 88.74 C1236.66 84.47 1233.60 83.97 1231.76 84.06 C1229.93 84.14 1226.93 84.88 1226.51 89.26Z" fill="#fff"/><path d="M1233.74 131.71 C1232.37 132.47 1230.46 137.18 1230.00 138.86 C1229.54 140.54 1230.31 141.42 1230.97 141.80 C1231.64 142.18 1232.78 142.39 1234.00 141.14 C1235.21 139.89 1238.30 135.86 1238.26 134.29 C1238.22 132.72 1235.12 130.95 1233.74 131.71Z" fill="#fff"/><path d="M1232.00 142.30 C1235.01 142.57 1245.09 141.98 1248.00 141.60 C1250.91 141.22 1249.44 140.53 1249.44 140.00 C1249.44 139.47 1250.91 138.78 1248.00 138.40 C1245.09 138.02 1235.01 137.43 1232.00 137.70 C1228.99 137.97 1229.93 139.23 1229.93 140.00 C1229.93 140.77 1228.99 142.03 1232.00 142.30Z" fill="#fff"/><path d="M1222.01 20.81 C1220.84 22.08 1220.01 27.38 1221.01 28.78 C1222.00 30.18 1226.83 30.48 1227.99 29.22 C1229.16 27.95 1228.99 22.59 1227.99 21.19 C1227.00 19.79 1223.17 19.55 1222.01 20.81Z" fill="#fff"/><path d="M1217.80 15.00 a8.2 9.5 0 1 0 16.4 0 a8.2 9.5 0 1 0 -16.4 0Z" fill="#fff"/><path d="M1227.30 33.89 C1226.75 38.25 1227.71 49.46 1226.81 57.75 C1225.92 66.03 1222.47 78.92 1221.94 83.60 C1221.41 88.29 1222.96 85.72 1223.64 85.86 C1224.33 85.99 1224.81 89.00 1226.06 84.40 C1227.32 79.80 1230.08 66.63 1231.19 58.25 C1232.29 49.87 1232.88 38.56 1232.70 34.11 C1232.52 29.67 1231.00 31.61 1230.10 31.57 C1229.20 31.53 1227.85 29.53 1227.30 33.89Z" fill="#fff"/><path d="M1259.52 36.93 C1257.41 40.92 1251.25 52.16 1250.32 59.73 C1249.38 67.29 1252.93 78.31 1253.93 82.33 C1254.92 86.35 1255.61 83.98 1256.30 83.87 C1256.99 83.76 1258.34 85.60 1258.07 81.67 C1257.80 77.74 1253.62 67.37 1254.68 60.27 C1255.75 53.17 1263.10 43.15 1264.48 39.07 C1265.86 34.99 1263.79 36.13 1262.96 35.77 C1262.14 35.41 1261.63 32.94 1259.52 36.93Z" fill="#8c8c8c" stroke="#8c8c8c" stroke-width="2.5" stroke-linejoin="round"/><path d="M1252.69 86.55 C1250.90 90.75 1250.99 101.74 1248.54 108.43 C1246.09 115.11 1239.63 123.11 1238.00 126.67 C1236.38 130.23 1238.14 129.35 1238.80 129.80 C1239.47 130.24 1239.22 132.37 1242.00 129.33 C1244.77 126.29 1251.91 118.22 1255.46 111.57 C1259.01 104.93 1262.67 94.17 1263.31 89.45 C1263.95 84.72 1261.07 83.71 1259.30 83.22 C1257.53 82.74 1254.49 82.35 1252.69 86.55Z" fill="#8c8c8c" stroke="#8c8c8c" stroke-width="2.5" stroke-linejoin="round"/><path d="M1237.44 127.57 C1236.38 129.45 1236.17 137.37 1236.22 139.70 C1236.27 142.04 1237.14 141.50 1237.73 141.60 C1238.33 141.70 1238.97 142.49 1239.78 140.30 C1240.58 138.10 1242.95 130.55 1242.56 128.43 C1242.17 126.31 1238.49 125.69 1237.44 127.57Z" fill="#8c8c8c" stroke="#8c8c8c" stroke-width="2.5" stroke-linejoin="round"/><path d="M1259.52 36.93 C1257.41 40.92 1251.25 52.16 1250.32 59.73 C1249.38 67.29 1252.93 78.31 1253.93 82.33 C1254.92 86.35 1255.61 83.98 1256.30 83.87 C1256.99 83.76 1258.34 85.60 1258.07 81.67 C1257.80 77.74 1253.62 67.37 1254.68 60.27 C1255.75 53.17 1263.10 43.15 1264.48 39.07 C1265.86 34.99 1263.79 36.13 1262.96 35.77 C1262.14 35.41 1261.63 32.94 1259.52 36.93Z" fill="#fff"/><path d="M1252.69 86.55 C1250.90 90.75 1250.99 101.74 1248.54 108.43 C1246.09 115.11 1239.63 123.11 1238.00 126.67 C1236.38 130.23 1238.14 129.35 1238.80 129.80 C1239.47 130.24 1239.22 132.37 1242.00 129.33 C1244.77 126.29 1251.91 118.22 1255.46 111.57 C1259.01 104.93 1262.67 94.17 1263.31 89.45 C1263.95 84.72 1261.07 83.71 1259.30 83.22 C1257.53 82.74 1254.49 82.35 1252.69 86.55Z" fill="#fff"/><path d="M1237.44 127.57 C1236.38 129.45 1236.17 137.37 1236.22 139.70 C1236.27 142.04 1237.14 141.50 1237.73 141.60 C1238.33 141.70 1238.97 142.49 1239.78 140.30 C1240.58 138.10 1242.95 130.55 1242.56 128.43 C1242.17 126.31 1238.49 125.69 1237.44 127.57Z" fill="#fff"/><path d="M1263.00 31.00 C1260.33 34.17 1259.17 44.83 1258.00 50.00 C1256.83 55.17 1256.17 56.33 1256.00 62.00 C1255.83 67.67 1253.67 80.33 1257.00 84.00 C1260.33 87.67 1272.83 88.33 1276.00 84.00 C1279.17 79.67 1275.83 64.33 1276.00 58.00 C1276.17 51.67 1277.33 50.50 1277.00 46.00 C1276.67 41.50 1276.33 33.50 1274.00 31.00 C1271.67 28.50 1265.67 27.83 1263.00 31.00Z" fill="#8c8c8c" stroke="#8c8c8c" stroke-width="2.5" stroke-linejoin="round"/><path d="M1265.46 91.10 C1267.89 95.79 1276.40 104.72 1281.82 112.08 C1287.24 119.44 1294.74 131.31 1297.96 135.27 C1301.19 139.23 1300.47 136.26 1301.14 135.83 C1301.82 135.41 1304.20 137.38 1302.04 132.73 C1299.87 128.08 1292.76 115.89 1288.18 107.92 C1283.60 99.95 1278.04 88.90 1274.54 84.90 C1271.05 80.90 1268.73 82.88 1267.21 83.91 C1265.70 84.94 1263.02 86.40 1265.46 91.10Z" fill="#8c8c8c" stroke="#8c8c8c" stroke-width="2.5" stroke-linejoin="round"/><path d="M1297.50 133.29 C1296.38 134.23 1295.80 138.75 1295.79 140.37 C1295.78 141.99 1296.69 142.78 1297.43 142.99 C1298.17 143.20 1299.37 143.01 1300.21 141.63 C1301.06 140.25 1302.95 136.11 1302.50 134.71 C1302.05 133.32 1298.62 132.34 1297.50 133.29Z" fill="#8c8c8c" stroke="#8c8c8c" stroke-width="2.5" stroke-linejoin="round"/><path d="M1298.53 143.24 C1301.76 142.75 1312.39 139.65 1315.37 138.56 C1318.35 137.46 1316.52 137.19 1316.40 136.67 C1316.28 136.15 1317.79 135.09 1314.63 135.44 C1311.48 135.79 1300.58 137.76 1297.47 138.76 C1294.37 139.77 1295.81 140.73 1295.99 141.47 C1296.16 142.22 1295.30 143.72 1298.53 143.24Z" fill="#8c8c8c" stroke="#8c8c8c" stroke-width="2.5" stroke-linejoin="round"/><path d="M1265.01 25.41 C1263.84 26.68 1263.01 31.98 1264.01 33.38 C1265.00 34.78 1269.83 35.08 1270.99 33.82 C1272.16 32.55 1271.99 27.19 1270.99 25.79 C1270.00 24.39 1266.17 24.15 1265.01 25.41Z" fill="#8c8c8c" stroke="#8c8c8c" stroke-width="2.5" stroke-linejoin="round"/><path d="M1260.80 19.60 a8.2 9.5 0 1 0 16.4 0 a8.2 9.5 0 1 0 -16.4 0Z" fill="#8c8c8c" stroke="#8c8c8c" stroke-width="2.5" stroke-linejoin="round"/><path d="M1270.32 38.36 C1270.55 42.60 1270.50 54.29 1274.03 60.98 C1277.56 67.66 1288.13 75.59 1291.52 78.48 C1294.90 81.38 1293.84 78.83 1294.34 78.34 C1294.83 77.84 1297.21 78.73 1294.48 75.52 C1291.76 72.30 1281.11 65.34 1277.97 59.02 C1274.84 52.71 1276.56 41.54 1275.68 37.64 C1274.79 33.73 1273.56 35.47 1272.67 35.59 C1271.78 35.71 1270.10 34.13 1270.32 38.36Z" fill="#8c8c8c" stroke="#8c8c8c" stroke-width="2.5" stroke-linejoin="round"/><path d="M1263.00 31.00 C1260.33 34.17 1259.17 44.83 1258.00 50.00 C1256.83 55.17 1256.17 56.33 1256.00 62.00 C1255.83 67.67 1253.67 80.33 1257.00 84.00 C1260.33 87.67 1272.83 88.33 1276.00 84.00 C1279.17 79.67 1275.83 64.33 1276.00 58.00 C1276.17 51.67 1277.33 50.50 1277.00 46.00 C1276.67 41.50 1276.33 33.50 1274.00 31.00 C1271.67 28.50 1265.67 27.83 1263.00 31.00Z" fill="#fff"/><path d="M1265.46 91.10 C1267.89 95.79 1276.40 104.72 1281.82 112.08 C1287.24 119.44 1294.74 131.31 1297.96 135.27 C1301.19 139.23 1300.47 136.26 1301.14 135.83 C1301.82 135.41 1304.20 137.38 1302.04 132.73 C1299.87 128.08 1292.76 115.89 1288.18 107.92 C1283.60 99.95 1278.04 88.90 1274.54 84.90 C1271.05 80.90 1268.73 82.88 1267.21 83.91 C1265.70 84.94 1263.02 86.40 1265.46 91.10Z" fill="#fff"/><path d="M1297.50 133.29 C1296.38 134.23 1295.80 138.75 1295.79 140.37 C1295.78 141.99 1296.69 142.78 1297.43 142.99 C1298.17 143.20 1299.37 143.01 1300.21 141.63 C1301.06 140.25 1302.95 136.11 1302.50 134.71 C1302.05 133.32 1298.62 132.34 1297.50 133.29Z" fill="#fff"/><path d="M1298.53 143.24 C1301.76 142.75 1312.39 139.65 1315.37 138.56 C1318.35 137.46 1316.52 137.19 1316.40 136.67 C1316.28 136.15 1317.79 135.09 1314.63 135.44 C1311.48 135.79 1300.58 137.76 1297.47 138.76 C1294.37 139.77 1295.81 140.73 1295.99 141.47 C1296.16 142.22 1295.30 143.72 1298.53 143.24Z" fill="#fff"/><path d="M1265.01 25.41 C1263.84 26.68 1263.01 31.98 1264.01 33.38 C1265.00 34.78 1269.83 35.08 1270.99 33.82 C1272.16 32.55 1271.99 27.19 1270.99 25.79 C1270.00 24.39 1266.17 24.15 1265.01 25.41Z" fill="#fff"/><path d="M1260.80 19.60 a8.2 9.5 0 1 0 16.4 0 a8.2 9.5 0 1 0 -16.4 0Z" fill="#fff"/><path d="M1270.32 38.36 C1270.55 42.60 1270.50 54.29 1274.03 60.98 C1277.56 67.66 1288.13 75.59 1291.52 78.48 C1294.90 81.38 1293.84 78.83 1294.34 78.34 C1294.83 77.84 1297.21 78.73 1294.48 75.52 C1291.76 72.30 1281.11 65.34 1277.97 59.02 C1274.84 52.71 1276.56 41.54 1275.68 37.64 C1274.79 33.73 1273.56 35.47 1272.67 35.59 C1271.78 35.71 1270.10 34.13 1270.32 38.36Z" fill="#fff"/><path d="M1274.30 61.70 C1277.14 65.04 1288.14 75.74 1291.48 78.52 C1294.82 81.30 1293.86 78.88 1294.37 78.37 C1294.88 77.86 1297.30 78.82 1294.52 75.48 C1291.74 72.14 1281.04 61.14 1277.70 58.30 C1274.36 55.47 1275.04 57.91 1274.47 58.47 C1273.91 59.04 1271.47 58.36 1274.30 61.70Z" fill="none" stroke="#8c8c8c" stroke-width="1.0" stroke-opacity="0.6"/></g>
<line x1="856" y1="145" x2="1317" y2="145" stroke="#c4c4c4" stroke-width="1.8"/>
<line x1="855.7" y1="145" x2="855.7" y2="151" stroke="#c4c4c4" stroke-width="1.3"/>
<line x1="901.5" y1="145" x2="901.5" y2="151" stroke="#c4c4c4" stroke-width="1.3"/>
<line x1="988.6" y1="145" x2="988.6" y2="151" stroke="#c4c4c4" stroke-width="1.3"/>
<line x1="1239.5" y1="145" x2="1239.5" y2="151" stroke="#c4c4c4" stroke-width="1.3"/>
<line x1="1295.6" y1="145" x2="1295.6" y2="151" stroke="#c4c4c4" stroke-width="1.3"/>
<g transform="translate(623.5,0)"><path d="M815.52 36.93 C813.42 40.91 807.60 52.43 806.33 59.64 C805.06 66.84 807.27 76.45 807.91 80.16 C808.54 83.87 809.44 81.94 810.14 81.88 C810.84 81.83 812.01 83.43 812.09 79.84 C812.18 76.26 809.27 67.16 810.67 60.36 C812.07 53.57 819.10 43.17 820.48 39.07 C821.86 34.97 819.79 36.13 818.96 35.77 C818.14 35.41 817.63 32.95 815.52 36.93Z" fill="#8c8c8c" stroke="#8c8c8c" stroke-width="2.5" stroke-linejoin="round"/><path d="M810.64 84.78 C809.04 89.01 810.10 99.22 807.49 106.54 C804.88 113.86 796.92 124.50 794.98 128.71 C793.03 132.93 795.17 131.39 795.84 131.82 C796.52 132.25 795.91 135.02 799.02 131.29 C802.14 127.56 810.78 116.81 814.51 109.46 C818.23 102.12 820.93 91.93 821.36 87.22 C821.79 82.50 818.88 81.58 817.10 81.17 C815.31 80.77 812.24 80.55 810.64 84.78Z" fill="#8c8c8c" stroke="#8c8c8c" stroke-width="2.5" stroke-linejoin="round"/><path d="M794.73 128.74 C793.25 129.88 791.01 136.18 790.43 138.13 C789.84 140.07 790.69 140.12 791.21 140.42 C791.74 140.71 792.23 141.40 793.57 139.87 C794.92 138.35 799.08 133.12 799.27 131.26 C799.47 129.41 796.20 127.59 794.73 128.74Z" fill="#8c8c8c" stroke="#8c8c8c" stroke-width="2.5" stroke-linejoin="round"/><path d="M815.52 36.93 C813.42 40.91 807.60 52.43 806.33 59.64 C805.06 66.84 807.27 76.45 807.91 80.16 C808.54 83.87 809.44 81.94 810.14 81.88 C810.84 81.83 812.01 83.43 812.09 79.84 C812.18 76.26 809.27 67.16 810.67 60.36 C812.07 53.57 819.10 43.17 820.48 39.07 C821.86 34.97 819.79 36.13 818.96 35.77 C818.14 35.41 817.63 32.95 815.52 36.93Z" fill="#fff"/><path d="M810.64 84.78 C809.04 89.01 810.10 99.22 807.49 106.54 C804.88 113.86 796.92 124.50 794.98 128.71 C793.03 132.93 795.17 131.39 795.84 131.82 C796.52 132.25 795.91 135.02 799.02 131.29 C802.14 127.56 810.78 116.81 814.51 109.46 C818.23 102.12 820.93 91.93 821.36 87.22 C821.79 82.50 818.88 81.58 817.10 81.17 C815.31 80.77 812.24 80.55 810.64 84.78Z" fill="#fff"/><path d="M794.73 128.74 C793.25 129.88 791.01 136.18 790.43 138.13 C789.84 140.07 790.69 140.12 791.21 140.42 C791.74 140.71 792.23 141.40 793.57 139.87 C794.92 138.35 799.08 133.12 799.27 131.26 C799.47 129.41 796.20 127.59 794.73 128.74Z" fill="#fff"/><path d="M819.00 31.00 C816.67 33.17 817.17 39.67 816.00 44.00 C814.83 48.33 812.50 52.67 812.00 57.00 C811.50 61.33 812.67 65.50 813.00 70.00 C813.33 74.50 810.67 81.67 814.00 84.00 C817.33 86.33 830.00 87.67 833.00 84.00 C836.00 80.33 831.67 67.33 832.00 62.00 C832.33 56.67 834.67 55.00 835.00 52.00 C835.33 49.00 834.83 47.50 834.00 44.00 C833.17 40.50 832.50 33.17 830.00 31.00 C827.50 28.83 821.33 28.83 819.00 31.00Z" fill="#8c8c8c" stroke="#8c8c8c" stroke-width="2.5" stroke-linejoin="round"/><path d="M819.55 89.23 C822.18 93.92 831.27 102.60 836.83 110.10 C842.40 117.60 849.73 130.11 852.94 134.23 C856.16 138.36 855.43 135.26 856.11 134.85 C856.80 134.44 859.22 136.59 857.06 131.77 C854.90 126.94 847.94 114.07 843.17 105.90 C838.40 97.74 832.13 86.75 828.45 82.77 C824.77 78.78 822.57 80.92 821.09 82.00 C819.61 83.08 816.93 84.55 819.55 89.23Z" fill="#8c8c8c" stroke="#8c8c8c" stroke-width="2.5" stroke-linejoin="round"/><path d="M852.53 132.18 C851.43 132.92 850.85 136.81 850.82 138.27 C850.79 139.74 851.62 140.72 852.35 140.96 C853.07 141.21 854.33 140.92 855.18 139.73 C856.04 138.54 857.91 135.08 857.47 133.82 C857.03 132.56 853.64 131.44 852.53 132.18Z" fill="#8c8c8c" stroke="#8c8c8c" stroke-width="2.5" stroke-linejoin="round"/><path d="M853.23 141.29 C856.93 141.19 869.63 139.33 873.16 138.59 C876.69 137.85 874.49 137.39 874.43 136.86 C874.38 136.33 876.45 135.43 872.84 135.41 C869.23 135.38 856.42 136.08 852.77 136.71 C849.12 137.34 850.86 138.44 850.94 139.21 C851.02 139.97 849.53 141.39 853.23 141.29Z" fill="#8c8c8c" stroke="#8c8c8c" stroke-width="2.5" stroke-linejoin="round"/><path d="M822.81 25.41 C821.64 26.68 820.81 31.98 821.81 33.38 C822.80 34.78 827.63 35.08 828.79 33.82 C829.96 32.55 829.79 27.19 828.79 25.79 C827.80 24.39 823.97 24.15 822.81 25.41Z" fill="#8c8c8c" stroke="#8c8c8c" stroke-width="2.5" stroke-linejoin="round"/><path d="M818.60 19.60 a8.2 9.5 0 1 0 16.4 0 a8.2 9.5 0 1 0 -16.4 0Z" fill="#8c8c8c" stroke="#8c8c8c" stroke-width="2.5" stroke-linejoin="round"/><path d="M827.37 40.60 C827.97 44.84 829.55 56.75 833.07 63.06 C836.60 69.38 845.47 75.94 848.52 78.48 C851.56 81.03 850.84 78.83 851.34 78.34 C851.83 77.84 853.89 78.42 851.48 75.52 C849.08 72.62 840.07 66.96 836.93 60.94 C833.78 54.92 833.88 43.29 832.63 39.40 C831.39 35.52 830.34 37.43 829.46 37.63 C828.58 37.83 826.77 36.36 827.37 40.60Z" fill="#8c8c8c" stroke="#8c8c8c" stroke-width="2.5" stroke-linejoin="round"/><path d="M819.00 31.00 C816.67 33.17 817.17 39.67 816.00 44.00 C814.83 48.33 812.50 52.67 812.00 57.00 C811.50 61.33 812.67 65.50 813.00 70.00 C813.33 74.50 810.67 81.67 814.00 84.00 C817.33 86.33 830.00 87.67 833.00 84.00 C836.00 80.33 831.67 67.33 832.00 62.00 C832.33 56.67 834.67 55.00 835.00 52.00 C835.33 49.00 834.83 47.50 834.00 44.00 C833.17 40.50 832.50 33.17 830.00 31.00 C827.50 28.83 821.33 28.83 819.00 31.00Z" fill="#fff"/><path d="M819.55 89.23 C822.18 93.92 831.27 102.60 836.83 110.10 C842.40 117.60 849.73 130.11 852.94 134.23 C856.16 138.36 855.43 135.26 856.11 134.85 C856.80 134.44 859.22 136.59 857.06 131.77 C854.90 126.94 847.94 114.07 843.17 105.90 C838.40 97.74 832.13 86.75 828.45 82.77 C824.77 78.78 822.57 80.92 821.09 82.00 C819.61 83.08 816.93 84.55 819.55 89.23Z" fill="#fff"/><path d="M852.53 132.18 C851.43 132.92 850.85 136.81 850.82 138.27 C850.79 139.74 851.62 140.72 852.35 140.96 C853.07 141.21 854.33 140.92 855.18 139.73 C856.04 138.54 857.91 135.08 857.47 133.82 C857.03 132.56 853.64 131.44 852.53 132.18Z" fill="#fff"/><path d="M853.23 141.29 C856.93 141.19 869.63 139.33 873.16 138.59 C876.69 137.85 874.49 137.39 874.43 136.86 C874.38 136.33 876.45 135.43 872.84 135.41 C869.23 135.38 856.42 136.08 852.77 136.71 C849.12 137.34 850.86 138.44 850.94 139.21 C851.02 139.97 849.53 141.39 853.23 141.29Z" fill="#fff"/><path d="M822.81 25.41 C821.64 26.68 820.81 31.98 821.81 33.38 C822.80 34.78 827.63 35.08 828.79 33.82 C829.96 32.55 829.79 27.19 828.79 25.79 C827.80 24.39 823.97 24.15 822.81 25.41Z" fill="#fff"/><path d="M818.60 19.60 a8.2 9.5 0 1 0 16.4 0 a8.2 9.5 0 1 0 -16.4 0Z" fill="#fff"/><path d="M827.37 40.60 C827.97 44.84 829.55 56.75 833.07 63.06 C836.60 69.38 845.47 75.94 848.52 78.48 C851.56 81.03 850.84 78.83 851.34 78.34 C851.83 77.84 853.89 78.42 851.48 75.52 C849.08 72.62 840.07 66.96 836.93 60.94 C833.78 54.92 833.88 43.29 832.63 39.40 C831.39 35.52 830.34 37.43 829.46 37.63 C828.58 37.83 826.77 36.36 827.37 40.60Z" fill="#fff"/><path d="M833.30 63.70 C835.80 66.70 845.47 76.08 848.48 78.52 C851.49 80.97 850.86 78.88 851.37 78.37 C851.88 77.86 853.97 78.49 851.52 75.48 C849.08 72.47 839.70 62.80 836.70 60.30 C833.69 57.80 834.04 59.91 833.47 60.47 C832.91 61.04 830.80 60.69 833.30 63.70Z" fill="none" stroke="#8c8c8c" stroke-width="1.0" stroke-opacity="0.6"/><path d="M912.41 35.23 C910.85 39.28 906.38 50.41 906.30 57.95 C906.23 65.50 910.60 76.53 911.96 80.51 C913.32 84.49 913.78 82.00 914.46 81.83 C915.14 81.66 916.66 83.46 916.04 79.49 C915.41 75.53 910.44 65.17 910.70 58.05 C910.96 50.93 916.76 40.83 917.59 36.77 C918.42 32.70 916.55 33.92 915.69 33.67 C914.83 33.41 913.98 31.19 912.41 35.23Z" fill="#8c8c8c" stroke="#8c8c8c" stroke-width="2.5" stroke-linejoin="round"/><path d="M908.54 85.32 C907.34 89.94 909.33 101.38 907.40 108.80 C905.46 116.21 898.49 125.80 896.92 129.81 C895.34 133.82 897.23 132.48 897.93 132.88 C898.62 133.27 898.30 135.80 901.08 132.19 C903.86 128.58 911.54 118.79 914.60 111.20 C917.67 103.62 919.46 91.70 919.46 86.68 C919.46 81.66 916.43 81.32 914.61 81.09 C912.79 80.86 909.75 80.70 908.54 85.32Z" fill="#8c8c8c" stroke="#8c8c8c" stroke-width="2.5" stroke-linejoin="round"/><path d="M896.67 132.16 C896.85 134.16 901.05 140.09 902.39 141.80 C903.73 143.52 904.19 142.72 904.72 142.45 C905.26 142.18 906.18 142.30 905.61 140.20 C905.04 138.09 902.81 131.18 901.33 129.84 C899.84 128.50 896.50 130.17 896.67 132.16Z" fill="#8c8c8c" stroke="#8c8c8c" stroke-width="2.5" stroke-linejoin="round"/><path d="M912.41 35.23 C910.85 39.28 906.38 50.41 906.30 57.95 C906.23 65.50 910.60 76.53 911.96 80.51 C913.32 84.49 913.78 82.00 914.46 81.83 C915.14 81.66 916.66 83.46 916.04 79.49 C915.41 75.53 910.44 65.17 910.70 58.05 C910.96 50.93 916.76 40.83 917.59 36.77 C918.42 32.70 916.55 33.92 915.69 33.67 C914.83 33.41 913.98 31.19 912.41 35.23Z" fill="#fff"/><path d="M908.54 85.32 C907.34 89.94 909.33 101.38 907.40 108.80 C905.46 116.21 898.49 125.80 896.92 129.81 C895.34 133.82 897.23 132.48 897.93 132.88 C898.62 133.27 898.30 135.80 901.08 132.19 C903.86 128.58 911.54 118.79 914.60 111.20 C917.67 103.62 919.46 91.70 919.46 86.68 C919.46 81.66 916.43 81.32 914.61 81.09 C912.79 80.86 909.75 80.70 908.54 85.32Z" fill="#fff"/><path d="M896.67 132.16 C896.85 134.16 901.05 140.09 902.39 141.80 C903.73 143.52 904.19 142.72 904.72 142.45 C905.26 142.18 906.18 142.30 905.61 140.20 C905.04 138.09 902.81 131.18 901.33 129.84 C899.84 128.50 896.50 130.17 896.67 132.16Z" fill="#fff"/><path d="M917.00 29.00 C914.50 31.83 914.67 40.83 914.00 46.00 C913.33 51.17 913.00 53.67 913.00 60.00 C913.00 66.33 911.17 80.00 914.00 84.00 C916.83 88.00 927.17 88.83 930.00 84.00 C932.83 79.17 930.67 62.00 931.00 55.00 C931.33 48.00 932.33 46.33 932.00 42.00 C931.67 37.67 931.50 31.17 929.00 29.00 C926.50 26.83 919.50 26.17 917.00 29.00Z" fill="#8c8c8c" stroke="#8c8c8c" stroke-width="2.5" stroke-linejoin="round"/><path d="M920.85 87.93 C922.02 92.85 928.85 102.83 931.31 110.89 C933.77 118.95 934.46 131.73 935.62 136.28 C936.77 140.82 937.45 138.24 938.25 138.15 C939.04 138.05 940.31 140.56 940.38 135.72 C940.46 130.89 940.23 117.72 938.69 109.11 C937.15 100.50 933.56 88.69 931.15 84.07 C928.74 79.44 925.98 80.72 924.26 81.37 C922.55 82.01 919.68 83.01 920.85 87.93Z" fill="#8c8c8c" stroke="#8c8c8c" stroke-width="2.5" stroke-linejoin="round"/><path d="M935.59 135.03 C934.49 135.56 933.92 138.83 933.86 140.15 C933.81 141.46 934.52 142.64 935.23 142.92 C935.94 143.21 937.27 142.85 938.14 141.85 C939.00 140.86 940.84 138.10 940.41 136.97 C939.99 135.83 936.68 134.50 935.59 135.03Z" fill="#8c8c8c" stroke="#8c8c8c" stroke-width="2.5" stroke-linejoin="round"/><path d="M936.00 143.30 C939.01 143.57 949.09 142.98 952.00 142.60 C954.91 142.22 953.44 141.53 953.44 141.00 C953.44 140.47 954.91 139.78 952.00 139.40 C949.09 139.02 939.01 138.43 936.00 138.70 C932.99 138.97 933.93 140.23 933.93 141.00 C933.93 141.77 932.99 143.03 936.00 143.30Z" fill="#8c8c8c" stroke="#8c8c8c" stroke-width="2.5" stroke-linejoin="round"/><path d="M919.21 23.11 C918.04 24.38 917.21 29.68 918.21 31.08 C919.20 32.48 924.03 32.78 925.19 31.52 C926.36 30.25 926.19 24.89 925.19 23.49 C924.20 22.09 920.37 21.85 919.21 23.11Z" fill="#8c8c8c" stroke="#8c8c8c" stroke-width="2.5" stroke-linejoin="round"/><path d="M915.00 17.30 a8.2 9.5 0 1 0 16.4 0 a8.2 9.5 0 1 0 -16.4 0Z" fill="#8c8c8c" stroke="#8c8c8c" stroke-width="2.5" stroke-linejoin="round"/><path d="M924.32 36.36 C924.52 40.52 926.08 51.46 927.86 58.51 C929.64 65.57 933.39 75.15 935.02 78.69 C936.65 82.24 936.96 80.02 937.62 79.78 C938.29 79.55 939.90 81.02 938.98 77.31 C938.07 73.59 933.69 64.43 932.14 57.49 C930.59 50.54 930.59 39.62 929.68 35.64 C928.76 31.65 927.56 33.47 926.67 33.59 C925.78 33.71 924.13 32.21 924.32 36.36Z" fill="#8c8c8c" stroke="#8c8c8c" stroke-width="2.5" stroke-linejoin="round"/><path d="M917.00 29.00 C914.50 31.83 914.67 40.83 914.00 46.00 C913.33 51.17 913.00 53.67 913.00 60.00 C913.00 66.33 911.17 80.00 914.00 84.00 C916.83 88.00 927.17 88.83 930.00 84.00 C932.83 79.17 930.67 62.00 931.00 55.00 C931.33 48.00 932.33 46.33 932.00 42.00 C931.67 37.67 931.50 31.17 929.00 29.00 C926.50 26.83 919.50 26.17 917.00 29.00Z" fill="#fff"/><path d="M920.85 87.93 C922.02 92.85 928.85 102.83 931.31 110.89 C933.77 118.95 934.46 131.73 935.62 136.28 C936.77 140.82 937.45 138.24 938.25 138.15 C939.04 138.05 940.31 140.56 940.38 135.72 C940.46 130.89 940.23 117.72 938.69 109.11 C937.15 100.50 933.56 88.69 931.15 84.07 C928.74 79.44 925.98 80.72 924.26 81.37 C922.55 82.01 919.68 83.01 920.85 87.93Z" fill="#fff"/><path d="M935.59 135.03 C934.49 135.56 933.92 138.83 933.86 140.15 C933.81 141.46 934.52 142.64 935.23 142.92 C935.94 143.21 937.27 142.85 938.14 141.85 C939.00 140.86 940.84 138.10 940.41 136.97 C939.99 135.83 936.68 134.50 935.59 135.03Z" fill="#fff"/><path d="M936.00 143.30 C939.01 143.57 949.09 142.98 952.00 142.60 C954.91 142.22 953.44 141.53 953.44 141.00 C953.44 140.47 954.91 139.78 952.00 139.40 C949.09 139.02 939.01 138.43 936.00 138.70 C932.99 138.97 933.93 140.23 933.93 141.00 C933.93 141.77 932.99 143.03 936.00 143.30Z" fill="#fff"/><path d="M919.21 23.11 C918.04 24.38 917.21 29.68 918.21 31.08 C919.20 32.48 924.03 32.78 925.19 31.52 C926.36 30.25 926.19 24.89 925.19 23.49 C924.20 22.09 920.37 21.85 919.21 23.11Z" fill="#fff"/><path d="M915.00 17.30 a8.2 9.5 0 1 0 16.4 0 a8.2 9.5 0 1 0 -16.4 0Z" fill="#fff"/><path d="M924.32 36.36 C924.52 40.52 926.08 51.46 927.86 58.51 C929.64 65.57 933.39 75.15 935.02 78.69 C936.65 82.24 936.96 80.02 937.62 79.78 C938.29 79.55 939.90 81.02 938.98 77.31 C938.07 73.59 933.69 64.43 932.14 57.49 C930.59 50.54 930.59 39.62 929.68 35.64 C928.76 31.65 927.56 33.47 926.67 33.59 C925.78 33.71 924.13 32.21 924.32 36.36Z" fill="#fff"/><path d="M927.73 58.79 C928.68 62.58 933.32 75.20 934.97 78.71 C936.62 82.22 936.96 80.06 937.64 79.83 C938.32 79.59 939.92 81.06 939.03 77.29 C938.13 73.52 933.89 60.76 932.27 57.21 C930.64 53.65 930.04 55.70 929.29 55.96 C928.53 56.23 926.79 55.00 927.73 58.79Z" fill="none" stroke="#8c8c8c" stroke-width="1.0" stroke-opacity="0.6"/><path d="M982.35 32.50 C981.15 36.89 978.37 48.99 978.30 56.96 C978.23 64.93 980.93 76.16 981.92 80.32 C982.92 84.47 983.59 81.97 984.28 81.87 C984.98 81.76 986.34 83.82 986.08 79.68 C985.81 75.55 982.44 64.74 982.70 57.04 C982.96 49.34 987.20 37.90 987.65 33.50 C988.11 29.09 986.33 30.78 985.45 30.61 C984.56 30.45 983.54 28.11 982.35 32.50Z" fill="#8c8c8c" stroke="#8c8c8c" stroke-width="2.5" stroke-linejoin="round"/><path d="M977.50 85.79 C976.67 90.95 977.68 103.62 978.20 112.01 C978.72 120.39 979.79 131.74 980.60 136.10 C981.42 140.46 982.29 138.19 983.09 138.16 C983.89 138.12 984.95 140.26 985.40 135.90 C985.85 131.54 985.28 120.28 985.80 111.99 C986.32 103.71 988.93 91.37 988.50 86.21 C988.06 81.05 985.02 81.12 983.19 81.05 C981.36 80.98 978.34 80.63 977.50 85.79Z" fill="#8c8c8c" stroke="#8c8c8c" stroke-width="2.5" stroke-linejoin="round"/><path d="M980.45 135.49 C979.48 136.16 979.55 139.29 979.74 140.55 C979.94 141.81 980.84 142.88 981.59 143.03 C982.35 143.18 983.60 142.54 984.26 141.45 C984.91 140.36 986.18 137.50 985.55 136.51 C984.92 135.52 981.42 134.82 980.45 135.49Z" fill="#8c8c8c" stroke="#8c8c8c" stroke-width="2.5" stroke-linejoin="round"/><path d="M981.77 143.29 C983.75 143.75 989.90 143.78 991.84 143.59 C993.78 143.40 993.38 142.67 993.43 142.14 C993.49 141.61 994.03 140.98 992.16 140.41 C990.29 139.84 984.27 138.65 982.23 138.71 C980.19 138.78 980.02 140.03 979.94 140.79 C979.86 141.56 979.79 142.82 981.77 143.29Z" fill="#8c8c8c" stroke="#8c8c8c" stroke-width="2.5" stroke-linejoin="round"/><path d="M982.35 32.50 C981.15 36.89 978.37 48.99 978.30 56.96 C978.23 64.93 980.93 76.16 981.92 80.32 C982.92 84.47 983.59 81.97 984.28 81.87 C984.98 81.76 986.34 83.82 986.08 79.68 C985.81 75.55 982.44 64.74 982.70 57.04 C982.96 49.34 987.20 37.90 987.65 33.50 C988.11 29.09 986.33 30.78 985.45 30.61 C984.56 30.45 983.54 28.11 982.35 32.50Z" fill="#fff"/><path d="M977.50 85.79 C976.67 90.95 977.68 103.62 978.20 112.01 C978.72 120.39 979.79 131.74 980.60 136.10 C981.42 140.46 982.29 138.19 983.09 138.16 C983.89 138.12 984.95 140.26 985.40 135.90 C985.85 131.54 985.28 120.28 985.80 111.99 C986.32 103.71 988.93 91.37 988.50 86.21 C988.06 81.05 985.02 81.12 983.19 81.05 C981.36 80.98 978.34 80.63 977.50 85.79Z" fill="#fff"/><path d="M980.45 135.49 C979.48 136.16 979.55 139.29 979.74 140.55 C979.94 141.81 980.84 142.88 981.59 143.03 C982.35 143.18 983.60 142.54 984.26 141.45 C984.91 140.36 986.18 137.50 985.55 136.51 C984.92 135.52 981.42 134.82 980.45 135.49Z" fill="#fff"/><path d="M981.77 143.29 C983.75 143.75 989.90 143.78 991.84 143.59 C993.78 143.40 993.38 142.67 993.43 142.14 C993.49 141.61 994.03 140.98 992.16 140.41 C990.29 139.84 984.27 138.65 982.23 138.71 C980.19 138.78 980.02 140.03 979.94 140.79 C979.86 141.56 979.79 142.82 981.77 143.29Z" fill="#fff"/><path d="M983.00 27.00 C981.00 30.00 984.00 39.17 984.00 45.00 C984.00 50.83 983.17 55.50 983.00 62.00 C982.83 68.50 980.33 80.33 983.00 84.00 C985.67 87.67 996.50 88.33 999.00 84.00 C1001.50 79.67 998.00 65.00 998.00 58.00 C998.00 51.00 999.33 47.17 999.00 42.00 C998.67 36.83 998.67 29.50 996.00 27.00 C993.33 24.50 985.00 24.00 983.00 27.00Z" fill="#8c8c8c" stroke="#8c8c8c" stroke-width="2.5" stroke-linejoin="round"/><path d="M988.86 87.96 C989.86 92.27 997.40 100.15 998.21 107.23 C999.01 114.30 994.13 126.11 993.67 130.42 C993.22 134.73 994.70 132.90 995.48 133.10 C996.25 133.29 996.61 135.97 998.33 131.58 C1000.05 127.20 1005.66 114.70 1005.79 106.77 C1005.93 98.85 1001.40 88.28 999.14 84.04 C996.88 79.81 993.95 80.72 992.24 81.37 C990.52 82.03 987.87 83.65 988.86 87.96Z" fill="#8c8c8c" stroke="#8c8c8c" stroke-width="2.5" stroke-linejoin="round"/><path d="M993.50 130.29 C992.38 131.23 991.80 135.75 991.79 137.37 C991.78 138.99 992.69 139.78 993.43 139.99 C994.17 140.20 995.37 140.01 996.21 138.63 C997.06 137.25 998.95 133.11 998.50 131.71 C998.05 130.32 994.62 129.34 993.50 130.29Z" fill="#8c8c8c" stroke="#8c8c8c" stroke-width="2.5" stroke-linejoin="round"/><path d="M993.07 140.10 C994.77 141.15 1000.48 143.05 1002.35 143.46 C1004.23 143.88 1004.10 143.07 1004.32 142.58 C1004.53 142.10 1005.21 141.65 1003.65 140.54 C1002.09 139.42 996.86 136.46 994.93 135.90 C993.01 135.34 992.42 136.46 992.11 137.16 C991.80 137.86 991.36 139.05 993.07 140.10Z" fill="#8c8c8c" stroke="#8c8c8c" stroke-width="2.5" stroke-linejoin="round"/><path d="M985.61 21.11 C984.44 22.38 983.61 27.68 984.61 29.08 C985.60 30.48 990.43 30.78 991.59 29.52 C992.76 28.25 992.59 22.89 991.59 21.49 C990.60 20.09 986.77 19.85 985.61 21.11Z" fill="#8c8c8c" stroke="#8c8c8c" stroke-width="2.5" stroke-linejoin="round"/><path d="M981.40 15.30 a8.2 9.5 0 1 0 16.4 0 a8.2 9.5 0 1 0 -16.4 0Z" fill="#8c8c8c" stroke="#8c8c8c" stroke-width="2.5" stroke-linejoin="round"/><path d="M990.30 33.00 C989.93 37.41 990.53 49.20 990.80 57.05 C991.07 64.90 991.36 75.95 991.90 80.09 C992.45 84.23 993.38 81.92 994.08 81.89 C994.78 81.86 995.91 84.06 996.10 79.91 C996.28 75.75 995.27 64.77 995.20 56.95 C995.13 49.13 996.07 37.40 995.70 33.00 C995.33 28.60 993.90 30.57 993.00 30.57 C992.10 30.57 990.67 28.59 990.30 33.00Z" fill="#8c8c8c" stroke="#8c8c8c" stroke-width="2.5" stroke-linejoin="round"/><path d="M983.00 27.00 C981.00 30.00 984.00 39.17 984.00 45.00 C984.00 50.83 983.17 55.50 983.00 62.00 C982.83 68.50 980.33 80.33 983.00 84.00 C985.67 87.67 996.50 88.33 999.00 84.00 C1001.50 79.67 998.00 65.00 998.00 58.00 C998.00 51.00 999.33 47.17 999.00 42.00 C998.67 36.83 998.67 29.50 996.00 27.00 C993.33 24.50 985.00 24.00 983.00 27.00Z" fill="#fff"/><path d="M988.86 87.96 C989.86 92.27 997.40 100.15 998.21 107.23 C999.01 114.30 994.13 126.11 993.67 130.42 C993.22 134.73 994.70 132.90 995.48 133.10 C996.25 133.29 996.61 135.97 998.33 131.58 C1000.05 127.20 1005.66 114.70 1005.79 106.77 C1005.93 98.85 1001.40 88.28 999.14 84.04 C996.88 79.81 993.95 80.72 992.24 81.37 C990.52 82.03 987.87 83.65 988.86 87.96Z" fill="#fff"/><path d="M993.50 130.29 C992.38 131.23 991.80 135.75 991.79 137.37 C991.78 138.99 992.69 139.78 993.43 139.99 C994.17 140.20 995.37 140.01 996.21 138.63 C997.06 137.25 998.95 133.11 998.50 131.71 C998.05 130.32 994.62 129.34 993.50 130.29Z" fill="#fff"/><path d="M993.07 140.10 C994.77 141.15 1000.48 143.05 1002.35 143.46 C1004.23 143.88 1004.10 143.07 1004.32 142.58 C1004.53 142.10 1005.21 141.65 1003.65 140.54 C1002.09 139.42 996.86 136.46 994.93 135.90 C993.01 135.34 992.42 136.46 992.11 137.16 C991.80 137.86 991.36 139.05 993.07 140.10Z" fill="#fff"/><path d="M985.61 21.11 C984.44 22.38 983.61 27.68 984.61 29.08 C985.60 30.48 990.43 30.78 991.59 29.52 C992.76 28.25 992.59 22.89 991.59 21.49 C990.60 20.09 986.77 19.85 985.61 21.11Z" fill="#fff"/><path d="M981.40 15.30 a8.2 9.5 0 1 0 16.4 0 a8.2 9.5 0 1 0 -16.4 0Z" fill="#fff"/><path d="M990.30 33.00 C989.93 37.41 990.53 49.20 990.80 57.05 C991.07 64.90 991.36 75.95 991.90 80.09 C992.45 84.23 993.38 81.92 994.08 81.89 C994.78 81.86 995.91 84.06 996.10 79.91 C996.28 75.75 995.27 64.77 995.20 56.95 C995.13 49.13 996.07 37.40 995.70 33.00 C995.33 28.60 993.90 30.57 993.00 30.57 C992.10 30.57 990.67 28.59 990.30 33.00Z" fill="#fff"/><path d="M1039.43 34.16 C1037.69 38.35 1032.89 49.79 1032.31 57.81 C1031.72 65.84 1034.93 77.96 1035.92 82.30 C1036.92 86.65 1037.58 83.97 1038.27 83.87 C1038.97 83.77 1040.34 85.98 1040.08 81.70 C1039.81 77.42 1035.94 65.83 1036.69 58.19 C1037.44 50.54 1043.56 40.09 1044.57 35.84 C1045.58 31.59 1043.61 32.97 1042.75 32.69 C1041.90 32.41 1041.17 29.98 1039.43 34.16Z" fill="#8c8c8c" stroke="#8c8c8c" stroke-width="2.5" stroke-linejoin="round"/><path d="M1038.26 83.20 C1035.11 87.31 1029.65 98.71 1026.56 106.38 C1023.48 114.04 1020.63 124.90 1019.74 129.18 C1018.86 133.46 1020.51 131.76 1021.26 132.03 C1022.01 132.30 1022.23 134.55 1024.26 130.82 C1026.28 127.09 1029.52 116.63 1033.44 109.62 C1037.35 102.62 1045.72 93.45 1047.74 88.80 C1049.75 84.15 1047.10 82.67 1045.52 81.74 C1043.94 80.81 1041.42 79.10 1038.26 83.20Z" fill="#8c8c8c" stroke="#8c8c8c" stroke-width="2.5" stroke-linejoin="round"/><path d="M1019.90 131.53 C1020.64 133.79 1026.70 140.26 1028.54 142.06 C1030.39 143.86 1030.47 142.66 1030.95 142.31 C1031.44 141.96 1032.60 142.25 1031.46 139.94 C1030.31 137.63 1026.03 129.87 1024.10 128.47 C1022.18 127.07 1019.16 129.26 1019.90 131.53Z" fill="#8c8c8c" stroke="#8c8c8c" stroke-width="2.5" stroke-linejoin="round"/><path d="M1039.43 34.16 C1037.69 38.35 1032.89 49.79 1032.31 57.81 C1031.72 65.84 1034.93 77.96 1035.92 82.30 C1036.92 86.65 1037.58 83.97 1038.27 83.87 C1038.97 83.77 1040.34 85.98 1040.08 81.70 C1039.81 77.42 1035.94 65.83 1036.69 58.19 C1037.44 50.54 1043.56 40.09 1044.57 35.84 C1045.58 31.59 1043.61 32.97 1042.75 32.69 C1041.90 32.41 1041.17 29.98 1039.43 34.16Z" fill="#fff"/><path d="M1038.26 83.20 C1035.11 87.31 1029.65 98.71 1026.56 106.38 C1023.48 114.04 1020.63 124.90 1019.74 129.18 C1018.86 133.46 1020.51 131.76 1021.26 132.03 C1022.01 132.30 1022.23 134.55 1024.26 130.82 C1026.28 127.09 1029.52 116.63 1033.44 109.62 C1037.35 102.62 1045.72 93.45 1047.74 88.80 C1049.75 84.15 1047.10 82.67 1045.52 81.74 C1043.94 80.81 1041.42 79.10 1038.26 83.20Z" fill="#fff"/><path d="M1019.90 131.53 C1020.64 133.79 1026.70 140.26 1028.54 142.06 C1030.39 143.86 1030.47 142.66 1030.95 142.31 C1031.44 141.96 1032.60 142.25 1031.46 139.94 C1030.31 137.63 1026.03 129.87 1024.10 128.47 C1022.18 127.07 1019.16 129.26 1019.90 131.53Z" fill="#fff"/><path d="M1044.00 29.00 C1041.83 31.83 1042.67 40.83 1042.00 46.00 C1041.33 51.17 1040.50 53.67 1040.00 60.00 C1039.50 66.33 1036.17 80.00 1039.00 84.00 C1041.83 88.00 1054.00 88.00 1057.00 84.00 C1060.00 80.00 1056.67 66.50 1057.00 60.00 C1057.33 53.50 1059.33 50.17 1059.00 45.00 C1058.67 39.83 1057.50 31.67 1055.00 29.00 C1052.50 26.33 1046.17 26.17 1044.00 29.00Z" fill="#8c8c8c" stroke="#8c8c8c" stroke-width="2.5" stroke-linejoin="round"/><path d="M1049.08 88.46 C1050.89 93.50 1058.02 104.36 1062.66 111.82 C1067.30 119.28 1074.03 129.55 1076.93 133.22 C1079.84 136.89 1079.41 134.27 1080.10 133.86 C1080.79 133.45 1082.86 135.06 1081.07 130.78 C1079.27 126.50 1073.03 116.06 1069.34 108.18 C1065.65 100.31 1061.84 87.98 1058.92 83.54 C1055.99 79.11 1053.43 80.75 1051.79 81.57 C1050.15 82.39 1047.27 83.42 1049.08 88.46Z" fill="#8c8c8c" stroke="#8c8c8c" stroke-width="2.5" stroke-linejoin="round"/><path d="M1076.42 131.68 C1075.44 132.91 1075.50 137.99 1075.72 139.71 C1075.94 141.44 1076.98 141.96 1077.74 142.05 C1078.50 142.15 1079.64 141.91 1080.28 140.29 C1080.92 138.66 1082.22 133.76 1081.58 132.32 C1080.94 130.89 1077.40 130.45 1076.42 131.68Z" fill="#8c8c8c" stroke="#8c8c8c" stroke-width="2.5" stroke-linejoin="round"/><path d="M1078.40 142.27 C1081.62 141.97 1092.27 139.49 1095.28 138.58 C1098.28 137.66 1096.51 137.27 1096.42 136.75 C1096.33 136.22 1097.86 135.26 1094.72 135.42 C1091.59 135.59 1080.73 136.91 1077.60 137.73 C1074.47 138.56 1075.83 139.60 1075.96 140.36 C1076.09 141.11 1075.18 142.56 1078.40 142.27Z" fill="#8c8c8c" stroke="#8c8c8c" stroke-width="2.5" stroke-linejoin="round"/><path d="M1046.61 23.31 C1045.44 24.58 1044.61 29.88 1045.61 31.28 C1046.60 32.68 1051.43 32.98 1052.59 31.72 C1053.76 30.45 1053.59 25.09 1052.59 23.69 C1051.60 22.29 1047.77 22.05 1046.61 23.31Z" fill="#8c8c8c" stroke="#8c8c8c" stroke-width="2.5" stroke-linejoin="round"/><path d="M1042.40 17.50 a8.2 9.5 0 1 0 16.4 0 a8.2 9.5 0 1 0 -16.4 0Z" fill="#8c8c8c" stroke="#8c8c8c" stroke-width="2.5" stroke-linejoin="round"/><path d="M1051.32 36.31 C1051.54 41.22 1051.35 56.19 1055.08 63.08 C1058.81 69.97 1070.14 75.31 1073.71 77.66 C1077.28 80.00 1076.06 77.71 1076.49 77.16 C1076.92 76.61 1079.22 77.05 1076.29 74.34 C1073.36 71.64 1062.19 67.36 1058.92 60.92 C1055.65 54.48 1057.55 40.25 1056.68 35.69 C1055.82 31.13 1054.62 33.48 1053.72 33.59 C1052.83 33.69 1051.09 31.39 1051.32 36.31Z" fill="#8c8c8c" stroke="#8c8c8c" stroke-width="2.5" stroke-linejoin="round"/><path d="M1044.00 29.00 C1041.83 31.83 1042.67 40.83 1042.00 46.00 C1041.33 51.17 1040.50 53.67 1040.00 60.00 C1039.50 66.33 1036.17 80.00 1039.00 84.00 C1041.83 88.00 1054.00 88.00 1057.00 84.00 C1060.00 80.00 1056.67 66.50 1057.00 60.00 C1057.33 53.50 1059.33 50.17 1059.00 45.00 C1058.67 39.83 1057.50 31.67 1055.00 29.00 C1052.50 26.33 1046.17 26.17 1044.00 29.00Z" fill="#fff"/><path d="M1049.08 88.46 C1050.89 93.50 1058.02 104.36 1062.66 111.82 C1067.30 119.28 1074.03 129.55 1076.93 133.22 C1079.84 136.89 1079.41 134.27 1080.10 133.86 C1080.79 133.45 1082.86 135.06 1081.07 130.78 C1079.27 126.50 1073.03 116.06 1069.34 108.18 C1065.65 100.31 1061.84 87.98 1058.92 83.54 C1055.99 79.11 1053.43 80.75 1051.79 81.57 C1050.15 82.39 1047.27 83.42 1049.08 88.46Z" fill="#fff"/><path d="M1076.42 131.68 C1075.44 132.91 1075.50 137.99 1075.72 139.71 C1075.94 141.44 1076.98 141.96 1077.74 142.05 C1078.50 142.15 1079.64 141.91 1080.28 140.29 C1080.92 138.66 1082.22 133.76 1081.58 132.32 C1080.94 130.89 1077.40 130.45 1076.42 131.68Z" fill="#fff"/><path d="M1078.40 142.27 C1081.62 141.97 1092.27 139.49 1095.28 138.58 C1098.28 137.66 1096.51 137.27 1096.42 136.75 C1096.33 136.22 1097.86 135.26 1094.72 135.42 C1091.59 135.59 1080.73 136.91 1077.60 137.73 C1074.47 138.56 1075.83 139.60 1075.96 140.36 C1076.09 141.11 1075.18 142.56 1078.40 142.27Z" fill="#fff"/><path d="M1046.61 23.31 C1045.44 24.58 1044.61 29.88 1045.61 31.28 C1046.60 32.68 1051.43 32.98 1052.59 31.72 C1053.76 30.45 1053.59 25.09 1052.59 23.69 C1051.60 22.29 1047.77 22.05 1046.61 23.31Z" fill="#fff"/><path d="M1042.40 17.50 a8.2 9.5 0 1 0 16.4 0 a8.2 9.5 0 1 0 -16.4 0Z" fill="#fff"/><path d="M1051.32 36.31 C1051.54 41.22 1051.35 56.19 1055.08 63.08 C1058.81 69.97 1070.14 75.31 1073.71 77.66 C1077.28 80.00 1076.06 77.71 1076.49 77.16 C1076.92 76.61 1079.22 77.05 1076.29 74.34 C1073.36 71.64 1062.19 67.36 1058.92 60.92 C1055.65 54.48 1057.55 40.25 1056.68 35.69 C1055.82 31.13 1054.62 33.48 1053.72 33.59 C1052.83 33.69 1051.09 31.39 1051.32 36.31Z" fill="#fff"/><path d="M1055.53 63.89 C1058.59 66.73 1070.18 75.48 1073.68 77.70 C1077.18 79.91 1076.09 77.75 1076.53 77.19 C1076.97 76.62 1079.33 77.15 1076.32 74.30 C1073.31 71.46 1061.98 62.38 1058.47 60.11 C1054.97 57.83 1055.79 60.04 1055.29 60.67 C1054.80 61.31 1052.46 61.06 1055.53 63.89Z" fill="none" stroke="#8c8c8c" stroke-width="1.0" stroke-opacity="0.6"/><path d="M1130.48 34.03 C1128.55 38.03 1123.07 49.05 1122.31 56.76 C1121.55 64.48 1124.93 76.13 1125.92 80.32 C1126.92 84.50 1127.59 81.97 1128.28 81.87 C1128.98 81.76 1130.34 83.79 1130.08 79.68 C1129.81 75.58 1125.78 64.52 1126.69 57.24 C1127.59 49.95 1134.32 40.06 1135.52 35.97 C1136.72 31.89 1134.72 33.06 1133.88 32.73 C1133.04 32.41 1132.41 30.02 1130.48 34.03Z" fill="#8c8c8c" stroke="#8c8c8c" stroke-width="2.5" stroke-linejoin="round"/><path d="M1127.55 86.29 C1126.34 90.73 1128.18 101.99 1126.42 108.74 C1124.65 115.48 1118.38 123.23 1116.95 126.75 C1115.53 130.27 1117.19 129.43 1117.87 129.84 C1118.56 130.26 1118.43 132.35 1121.05 129.25 C1123.67 126.15 1130.68 118.19 1133.58 111.26 C1136.48 104.34 1138.44 92.57 1138.45 87.71 C1138.46 82.85 1135.46 82.33 1133.64 82.09 C1131.82 81.85 1128.75 81.85 1127.55 86.29Z" fill="#8c8c8c" stroke="#8c8c8c" stroke-width="2.5" stroke-linejoin="round"/><path d="M1116.67 129.16 C1117.02 131.49 1121.88 138.76 1123.39 140.80 C1124.90 142.85 1125.19 141.72 1125.72 141.45 C1126.26 141.18 1127.34 141.63 1126.61 139.20 C1125.88 136.76 1122.98 128.51 1121.33 126.84 C1119.67 125.17 1116.33 126.83 1116.67 129.16Z" fill="#8c8c8c" stroke="#8c8c8c" stroke-width="2.5" stroke-linejoin="round"/><path d="M1130.48 34.03 C1128.55 38.03 1123.07 49.05 1122.31 56.76 C1121.55 64.48 1124.93 76.13 1125.92 80.32 C1126.92 84.50 1127.59 81.97 1128.28 81.87 C1128.98 81.76 1130.34 83.79 1130.08 79.68 C1129.81 75.58 1125.78 64.52 1126.69 57.24 C1127.59 49.95 1134.32 40.06 1135.52 35.97 C1136.72 31.89 1134.72 33.06 1133.88 32.73 C1133.04 32.41 1132.41 30.02 1130.48 34.03Z" fill="#fff"/><path d="M1127.55 86.29 C1126.34 90.73 1128.18 101.99 1126.42 108.74 C1124.65 115.48 1118.38 123.23 1116.95 126.75 C1115.53 130.27 1117.19 129.43 1117.87 129.84 C1118.56 130.26 1118.43 132.35 1121.05 129.25 C1123.67 126.15 1130.68 118.19 1133.58 111.26 C1136.48 104.34 1138.44 92.57 1138.45 87.71 C1138.46 82.85 1135.46 82.33 1133.64 82.09 C1131.82 81.85 1128.75 81.85 1127.55 86.29Z" fill="#fff"/><path d="M1116.67 129.16 C1117.02 131.49 1121.88 138.76 1123.39 140.80 C1124.90 142.85 1125.19 141.72 1125.72 141.45 C1126.26 141.18 1127.34 141.63 1126.61 139.20 C1125.88 136.76 1122.98 128.51 1121.33 126.84 C1119.67 125.17 1116.33 126.83 1116.67 129.16Z" fill="#fff"/><path d="M1136.00 29.00 C1134.00 31.83 1134.00 41.17 1133.00 46.00 C1132.00 50.83 1130.17 51.67 1130.00 58.00 C1129.83 64.33 1129.00 79.67 1132.00 84.00 C1135.00 88.33 1145.50 88.00 1148.00 84.00 C1150.50 80.00 1146.83 66.67 1147.00 60.00 C1147.17 53.33 1149.33 49.17 1149.00 44.00 C1148.67 38.83 1147.17 31.50 1145.00 29.00 C1142.83 26.50 1138.00 26.17 1136.00 29.00Z" fill="#8c8c8c" stroke="#8c8c8c" stroke-width="2.5" stroke-linejoin="round"/><path d="M1140.68 88.39 C1141.27 93.16 1145.97 103.01 1148.30 110.85 C1150.62 118.70 1153.13 131.09 1154.65 135.47 C1156.17 139.85 1156.64 137.27 1157.42 137.12 C1158.21 136.96 1159.64 139.19 1159.35 134.53 C1159.07 129.87 1157.04 117.30 1155.70 109.15 C1154.36 100.99 1153.15 90.10 1151.32 85.61 C1149.50 81.12 1146.52 81.75 1144.75 82.21 C1142.98 82.67 1140.09 83.61 1140.68 88.39Z" fill="#8c8c8c" stroke="#8c8c8c" stroke-width="2.5" stroke-linejoin="round"/><path d="M1154.53 134.18 C1153.43 134.92 1152.85 138.81 1152.82 140.27 C1152.79 141.74 1153.62 142.72 1154.35 142.96 C1155.07 143.21 1156.33 142.92 1157.18 141.73 C1158.04 140.54 1159.91 137.08 1159.47 135.82 C1159.03 134.56 1155.64 133.44 1154.53 134.18Z" fill="#8c8c8c" stroke="#8c8c8c" stroke-width="2.5" stroke-linejoin="round"/><path d="M1155.00 143.30 C1157.85 143.57 1167.26 142.98 1170.00 142.60 C1172.74 142.22 1171.44 141.53 1171.44 141.00 C1171.44 140.47 1172.74 139.78 1170.00 139.40 C1167.26 139.02 1157.85 138.43 1155.00 138.70 C1152.15 138.97 1152.93 140.23 1152.93 141.00 C1152.93 141.77 1152.15 143.03 1155.00 143.30Z" fill="#8c8c8c" stroke="#8c8c8c" stroke-width="2.5" stroke-linejoin="round"/><path d="M1137.01 22.81 C1135.84 24.08 1135.01 29.38 1136.01 30.78 C1137.00 32.18 1141.83 32.48 1142.99 31.22 C1144.16 29.95 1143.99 24.59 1142.99 23.19 C1142.00 21.79 1138.17 21.55 1137.01 22.81Z" fill="#8c8c8c" stroke="#8c8c8c" stroke-width="2.5" stroke-linejoin="round"/><path d="M1132.80 17.00 a8.2 9.5 0 1 0 16.4 0 a8.2 9.5 0 1 0 -16.4 0Z" fill="#8c8c8c" stroke="#8c8c8c" stroke-width="2.5" stroke-linejoin="round"/><path d="M1141.33 35.40 C1141.70 40.40 1143.76 55.04 1145.89 62.61 C1148.01 70.19 1152.27 77.67 1154.08 80.85 C1155.89 84.04 1156.13 82.01 1156.77 81.73 C1157.41 81.44 1159.03 82.54 1157.92 79.15 C1156.81 75.76 1151.99 68.81 1150.11 61.39 C1148.24 53.96 1147.75 39.40 1146.67 34.60 C1145.59 29.81 1144.53 32.46 1143.64 32.60 C1142.75 32.73 1140.96 30.39 1141.33 35.40Z" fill="#8c8c8c" stroke="#8c8c8c" stroke-width="2.5" stroke-linejoin="round"/><path d="M1136.00 29.00 C1134.00 31.83 1134.00 41.17 1133.00 46.00 C1132.00 50.83 1130.17 51.67 1130.00 58.00 C1129.83 64.33 1129.00 79.67 1132.00 84.00 C1135.00 88.33 1145.50 88.00 1148.00 84.00 C1150.50 80.00 1146.83 66.67 1147.00 60.00 C1147.17 53.33 1149.33 49.17 1149.00 44.00 C1148.67 38.83 1147.17 31.50 1145.00 29.00 C1142.83 26.50 1138.00 26.17 1136.00 29.00Z" fill="#fff"/><path d="M1140.68 88.39 C1141.27 93.16 1145.97 103.01 1148.30 110.85 C1150.62 118.70 1153.13 131.09 1154.65 135.47 C1156.17 139.85 1156.64 137.27 1157.42 137.12 C1158.21 136.96 1159.64 139.19 1159.35 134.53 C1159.07 129.87 1157.04 117.30 1155.70 109.15 C1154.36 100.99 1153.15 90.10 1151.32 85.61 C1149.50 81.12 1146.52 81.75 1144.75 82.21 C1142.98 82.67 1140.09 83.61 1140.68 88.39Z" fill="#fff"/><path d="M1154.53 134.18 C1153.43 134.92 1152.85 138.81 1152.82 140.27 C1152.79 141.74 1153.62 142.72 1154.35 142.96 C1155.07 143.21 1156.33 142.92 1157.18 141.73 C1158.04 140.54 1159.91 137.08 1159.47 135.82 C1159.03 134.56 1155.64 133.44 1154.53 134.18Z" fill="#fff"/><path d="M1155.00 143.30 C1157.85 143.57 1167.26 142.98 1170.00 142.60 C1172.74 142.22 1171.44 141.53 1171.44 141.00 C1171.44 140.47 1172.74 139.78 1170.00 139.40 C1167.26 139.02 1157.85 138.43 1155.00 138.70 C1152.15 138.97 1152.93 140.23 1152.93 141.00 C1152.93 141.77 1152.15 143.03 1155.00 143.30Z" fill="#fff"/><path d="M1137.01 22.81 C1135.84 24.08 1135.01 29.38 1136.01 30.78 C1137.00 32.18 1141.83 32.48 1142.99 31.22 C1144.16 29.95 1143.99 24.59 1142.99 23.19 C1142.00 21.79 1138.17 21.55 1137.01 22.81Z" fill="#fff"/><path d="M1132.80 17.00 a8.2 9.5 0 1 0 16.4 0 a8.2 9.5 0 1 0 -16.4 0Z" fill="#fff"/><path d="M1141.33 35.40 C1141.70 40.40 1143.76 55.04 1145.89 62.61 C1148.01 70.19 1152.27 77.67 1154.08 80.85 C1155.89 84.04 1156.13 82.01 1156.77 81.73 C1157.41 81.44 1159.03 82.54 1157.92 79.15 C1156.81 75.76 1151.99 68.81 1150.11 61.39 C1148.24 53.96 1147.75 39.40 1146.67 34.60 C1145.59 29.81 1144.53 32.46 1143.64 32.60 C1142.75 32.73 1140.96 30.39 1141.33 35.40Z" fill="#fff"/><path d="M1145.81 62.97 C1146.96 66.45 1152.21 77.74 1154.04 80.87 C1155.87 84.01 1156.13 82.06 1156.79 81.77 C1157.44 81.48 1159.06 82.58 1157.96 79.13 C1156.87 75.67 1152.00 64.21 1150.19 61.03 C1148.39 57.84 1147.85 59.70 1147.12 60.03 C1146.39 60.35 1144.65 59.50 1145.81 62.97Z" fill="none" stroke="#8c8c8c" stroke-width="1.0" stroke-opacity="0.6"/><path d="M1173.37 32.40 C1171.99 36.79 1168.20 49.00 1168.30 57.01 C1168.40 65.03 1172.60 76.35 1173.96 80.49 C1175.31 84.63 1175.76 82.00 1176.44 81.84 C1177.12 81.68 1178.67 83.65 1178.04 79.51 C1177.42 75.37 1172.60 64.64 1172.70 56.99 C1172.80 49.34 1177.99 38.00 1178.63 33.60 C1179.27 29.21 1177.42 30.83 1176.54 30.63 C1175.67 30.43 1174.74 28.00 1173.37 32.40Z" fill="#8c8c8c" stroke="#8c8c8c" stroke-width="2.5" stroke-linejoin="round"/><path d="M1169.52 86.52 C1168.48 91.18 1168.69 101.88 1169.20 109.99 C1169.71 118.10 1171.61 130.66 1172.61 135.19 C1173.60 139.72 1174.37 137.22 1175.17 137.15 C1175.97 137.09 1177.12 139.33 1177.39 134.81 C1177.66 130.29 1176.29 117.90 1176.80 110.01 C1177.31 102.12 1180.71 92.13 1180.48 87.48 C1180.25 82.82 1177.26 82.23 1175.43 82.07 C1173.60 81.91 1170.56 81.87 1169.52 86.52Z" fill="#8c8c8c" stroke="#8c8c8c" stroke-width="2.5" stroke-linejoin="round"/><path d="M1172.44 134.57 C1171.46 135.44 1171.53 139.21 1171.73 140.62 C1171.94 142.03 1172.90 142.92 1173.66 143.04 C1174.42 143.17 1175.62 142.65 1176.27 141.38 C1176.92 140.11 1178.20 136.56 1177.56 135.43 C1176.93 134.29 1173.41 133.71 1172.44 134.57Z" fill="#8c8c8c" stroke="#8c8c8c" stroke-width="2.5" stroke-linejoin="round"/><path d="M1173.84 143.29 C1176.49 143.75 1185.29 143.79 1187.89 143.60 C1190.49 143.40 1189.40 142.63 1189.44 142.10 C1189.47 141.57 1190.66 140.97 1188.11 140.40 C1185.57 139.84 1176.86 138.63 1174.16 138.71 C1171.47 138.78 1171.99 140.09 1171.94 140.85 C1171.88 141.62 1171.18 142.84 1173.84 143.29Z" fill="#8c8c8c" stroke="#8c8c8c" stroke-width="2.5" stroke-linejoin="round"/><path d="M1173.37 32.40 C1171.99 36.79 1168.20 49.00 1168.30 57.01 C1168.40 65.03 1172.60 76.35 1173.96 80.49 C1175.31 84.63 1175.76 82.00 1176.44 81.84 C1177.12 81.68 1178.67 83.65 1178.04 79.51 C1177.42 75.37 1172.60 64.64 1172.70 56.99 C1172.80 49.34 1177.99 38.00 1178.63 33.60 C1179.27 29.21 1177.42 30.83 1176.54 30.63 C1175.67 30.43 1174.74 28.00 1173.37 32.40Z" fill="#fff"/><path d="M1169.52 86.52 C1168.48 91.18 1168.69 101.88 1169.20 109.99 C1169.71 118.10 1171.61 130.66 1172.61 135.19 C1173.60 139.72 1174.37 137.22 1175.17 137.15 C1175.97 137.09 1177.12 139.33 1177.39 134.81 C1177.66 130.29 1176.29 117.90 1176.80 110.01 C1177.31 102.12 1180.71 92.13 1180.48 87.48 C1180.25 82.82 1177.26 82.23 1175.43 82.07 C1173.60 81.91 1170.56 81.87 1169.52 86.52Z" fill="#fff"/><path d="M1172.44 134.57 C1171.46 135.44 1171.53 139.21 1171.73 140.62 C1171.94 142.03 1172.90 142.92 1173.66 143.04 C1174.42 143.17 1175.62 142.65 1176.27 141.38 C1176.92 140.11 1178.20 136.56 1177.56 135.43 C1176.93 134.29 1173.41 133.71 1172.44 134.57Z" fill="#fff"/><path d="M1173.84 143.29 C1176.49 143.75 1185.29 143.79 1187.89 143.60 C1190.49 143.40 1189.40 142.63 1189.44 142.10 C1189.47 141.57 1190.66 140.97 1188.11 140.40 C1185.57 139.84 1176.86 138.63 1174.16 138.71 C1171.47 138.78 1171.99 140.09 1171.94 140.85 C1171.88 141.62 1171.18 142.84 1173.84 143.29Z" fill="#fff"/><path d="M1175.00 27.00 C1173.17 30.17 1175.00 40.17 1175.00 46.00 C1175.00 51.83 1175.00 55.50 1175.00 62.00 C1175.00 68.50 1172.67 81.17 1175.00 85.00 C1177.33 88.83 1186.83 89.50 1189.00 85.00 C1191.17 80.50 1188.00 65.17 1188.00 58.00 C1188.00 50.83 1189.33 47.17 1189.00 42.00 C1188.67 36.83 1188.33 29.50 1186.00 27.00 C1183.67 24.50 1176.83 23.83 1175.00 27.00Z" fill="#8c8c8c" stroke="#8c8c8c" stroke-width="2.5" stroke-linejoin="round"/><path d="M1181.13 89.56 C1182.55 93.45 1192.24 99.43 1192.20 105.98 C1192.16 112.53 1182.59 124.54 1180.89 128.86 C1179.18 133.18 1181.27 131.52 1181.97 131.90 C1182.67 132.28 1182.14 135.46 1185.11 131.14 C1188.08 126.83 1198.84 113.81 1199.80 106.02 C1200.76 98.24 1193.55 88.34 1190.87 84.44 C1188.18 80.54 1185.32 81.77 1183.69 82.62 C1182.07 83.47 1179.72 85.67 1181.13 89.56Z" fill="#8c8c8c" stroke="#8c8c8c" stroke-width="2.5" stroke-linejoin="round"/><path d="M1180.67 128.84 C1179.44 129.47 1178.21 133.47 1177.94 134.97 C1177.68 136.47 1178.39 137.51 1179.07 137.85 C1179.76 138.19 1181.02 138.14 1182.06 137.03 C1183.10 135.91 1185.56 132.53 1185.33 131.16 C1185.10 129.80 1181.90 128.20 1180.67 128.84Z" fill="#8c8c8c" stroke="#8c8c8c" stroke-width="2.5" stroke-linejoin="round"/><path d="M1178.97 138.06 C1180.83 139.28 1187.23 141.83 1189.28 142.43 C1191.34 143.03 1191.05 142.12 1191.29 141.64 C1191.53 141.17 1192.43 140.85 1190.72 139.57 C1189.01 138.29 1183.12 134.69 1181.03 133.94 C1178.93 133.19 1178.49 134.39 1178.15 135.07 C1177.81 135.76 1177.12 136.83 1178.97 138.06Z" fill="#8c8c8c" stroke="#8c8c8c" stroke-width="2.5" stroke-linejoin="round"/><path d="M1177.01 21.11 C1175.84 22.38 1175.01 27.68 1176.01 29.08 C1177.00 30.48 1181.83 30.78 1182.99 29.52 C1184.16 28.25 1183.99 22.89 1182.99 21.49 C1182.00 20.09 1178.17 19.85 1177.01 21.11Z" fill="#8c8c8c" stroke="#8c8c8c" stroke-width="2.5" stroke-linejoin="round"/><path d="M1172.80 15.30 a8.2 9.5 0 1 0 16.4 0 a8.2 9.5 0 1 0 -16.4 0Z" fill="#8c8c8c" stroke="#8c8c8c" stroke-width="2.5" stroke-linejoin="round"/><path d="M1181.30 32.89 C1180.75 37.47 1180.53 49.83 1180.80 58.05 C1181.07 66.26 1182.18 77.87 1182.91 82.17 C1183.63 86.48 1184.46 83.94 1185.16 83.88 C1185.85 83.83 1187.09 86.15 1187.09 81.83 C1187.10 77.50 1185.27 66.07 1185.20 57.95 C1185.13 49.83 1186.88 37.67 1186.70 33.11 C1186.51 28.54 1185.00 30.61 1184.10 30.57 C1183.20 30.54 1181.85 28.31 1181.30 32.89Z" fill="#8c8c8c" stroke="#8c8c8c" stroke-width="2.5" stroke-linejoin="round"/><path d="M1175.00 27.00 C1173.17 30.17 1175.00 40.17 1175.00 46.00 C1175.00 51.83 1175.00 55.50 1175.00 62.00 C1175.00 68.50 1172.67 81.17 1175.00 85.00 C1177.33 88.83 1186.83 89.50 1189.00 85.00 C1191.17 80.50 1188.00 65.17 1188.00 58.00 C1188.00 50.83 1189.33 47.17 1189.00 42.00 C1188.67 36.83 1188.33 29.50 1186.00 27.00 C1183.67 24.50 1176.83 23.83 1175.00 27.00Z" fill="#fff"/><path d="M1181.13 89.56 C1182.55 93.45 1192.24 99.43 1192.20 105.98 C1192.16 112.53 1182.59 124.54 1180.89 128.86 C1179.18 133.18 1181.27 131.52 1181.97 131.90 C1182.67 132.28 1182.14 135.46 1185.11 131.14 C1188.08 126.83 1198.84 113.81 1199.80 106.02 C1200.76 98.24 1193.55 88.34 1190.87 84.44 C1188.18 80.54 1185.32 81.77 1183.69 82.62 C1182.07 83.47 1179.72 85.67 1181.13 89.56Z" fill="#fff"/><path d="M1180.67 128.84 C1179.44 129.47 1178.21 133.47 1177.94 134.97 C1177.68 136.47 1178.39 137.51 1179.07 137.85 C1179.76 138.19 1181.02 138.14 1182.06 137.03 C1183.10 135.91 1185.56 132.53 1185.33 131.16 C1185.10 129.80 1181.90 128.20 1180.67 128.84Z" fill="#fff"/><path d="M1178.97 138.06 C1180.83 139.28 1187.23 141.83 1189.28 142.43 C1191.34 143.03 1191.05 142.12 1191.29 141.64 C1191.53 141.17 1192.43 140.85 1190.72 139.57 C1189.01 138.29 1183.12 134.69 1181.03 133.94 C1178.93 133.19 1178.49 134.39 1178.15 135.07 C1177.81 135.76 1177.12 136.83 1178.97 138.06Z" fill="#fff"/><path d="M1177.01 21.11 C1175.84 22.38 1175.01 27.68 1176.01 29.08 C1177.00 30.48 1181.83 30.78 1182.99 29.52 C1184.16 28.25 1183.99 22.89 1182.99 21.49 C1182.00 20.09 1178.17 19.85 1177.01 21.11Z" fill="#fff"/><path d="M1172.80 15.30 a8.2 9.5 0 1 0 16.4 0 a8.2 9.5 0 1 0 -16.4 0Z" fill="#fff"/><path d="M1181.30 32.89 C1180.75 37.47 1180.53 49.83 1180.80 58.05 C1181.07 66.26 1182.18 77.87 1182.91 82.17 C1183.63 86.48 1184.46 83.94 1185.16 83.88 C1185.85 83.83 1187.09 86.15 1187.09 81.83 C1187.10 77.50 1185.27 66.07 1185.20 57.95 C1185.13 49.83 1186.88 37.67 1186.70 33.11 C1186.51 28.54 1185.00 30.61 1184.10 30.57 C1183.20 30.54 1181.85 28.31 1181.30 32.89Z" fill="#fff"/><path d="M1218.39 33.29 C1216.84 37.67 1212.38 49.41 1212.30 57.94 C1212.23 66.46 1216.60 79.78 1217.95 84.43 C1219.29 89.09 1219.71 85.99 1220.39 85.85 C1221.08 85.70 1222.67 88.20 1222.05 83.57 C1221.44 78.93 1216.44 66.20 1216.70 58.06 C1216.96 49.92 1222.78 39.11 1223.61 34.71 C1224.43 30.30 1222.50 31.89 1221.64 31.65 C1220.77 31.42 1219.95 28.91 1218.39 33.29Z" fill="#8c8c8c" stroke="#8c8c8c" stroke-width="2.5" stroke-linejoin="round"/><path d="M1215.52 88.52 C1214.48 93.16 1214.85 103.82 1215.20 111.91 C1215.55 120.01 1216.79 132.55 1217.60 137.10 C1218.42 141.64 1219.29 139.19 1220.09 139.16 C1220.89 139.13 1221.95 141.42 1222.40 136.90 C1222.85 132.39 1222.12 119.99 1222.80 112.09 C1223.48 104.18 1226.71 94.15 1226.48 89.48 C1226.25 84.81 1223.26 84.23 1221.43 84.07 C1219.60 83.91 1216.56 83.88 1215.52 88.52Z" fill="#8c8c8c" stroke="#8c8c8c" stroke-width="2.5" stroke-linejoin="round"/><path d="M1217.53 137.82 C1217.17 139.05 1219.46 142.45 1220.29 143.57 C1221.12 144.69 1221.94 144.73 1222.51 144.54 C1223.08 144.35 1223.72 143.82 1223.71 142.43 C1223.70 141.04 1223.50 136.95 1222.47 136.18 C1221.44 135.41 1217.90 136.59 1217.53 137.82Z" fill="#8c8c8c" stroke="#8c8c8c" stroke-width="2.5" stroke-linejoin="round"/><path d="M1218.39 33.29 C1216.84 37.67 1212.38 49.41 1212.30 57.94 C1212.23 66.46 1216.60 79.78 1217.95 84.43 C1219.29 89.09 1219.71 85.99 1220.39 85.85 C1221.08 85.70 1222.67 88.20 1222.05 83.57 C1221.44 78.93 1216.44 66.20 1216.70 58.06 C1216.96 49.92 1222.78 39.11 1223.61 34.71 C1224.43 30.30 1222.50 31.89 1221.64 31.65 C1220.77 31.42 1219.95 28.91 1218.39 33.29Z" fill="#fff"/><path d="M1215.52 88.52 C1214.48 93.16 1214.85 103.82 1215.20 111.91 C1215.55 120.01 1216.79 132.55 1217.60 137.10 C1218.42 141.64 1219.29 139.19 1220.09 139.16 C1220.89 139.13 1221.95 141.42 1222.40 136.90 C1222.85 132.39 1222.12 119.99 1222.80 112.09 C1223.48 104.18 1226.71 94.15 1226.48 89.48 C1226.25 84.81 1223.26 84.23 1221.43 84.07 C1219.60 83.91 1216.56 83.88 1215.52 88.52Z" fill="#fff"/><path d="M1217.53 137.82 C1217.17 139.05 1219.46 142.45 1220.29 143.57 C1221.12 144.69 1221.94 144.73 1222.51 144.54 C1223.08 144.35 1223.72 143.82 1223.71 142.43 C1223.70 141.04 1223.50 136.95 1222.47 136.18 C1221.44 135.41 1217.90 136.59 1217.53 137.82Z" fill="#fff"/><path d="M1220.00 27.00 C1218.17 30.17 1220.00 40.17 1220.00 46.00 C1220.00 51.83 1219.83 55.00 1220.00 62.00 C1220.17 69.00 1218.50 83.67 1221.00 88.00 C1223.50 92.33 1233.00 93.33 1235.00 88.00 C1237.00 82.67 1233.00 63.67 1233.00 56.00 C1233.00 48.33 1235.33 46.83 1235.00 42.00 C1234.67 37.17 1233.50 29.50 1231.00 27.00 C1228.50 24.50 1221.83 23.83 1220.00 27.00Z" fill="#8c8c8c" stroke="#8c8c8c" stroke-width="2.5" stroke-linejoin="round"/><path d="M1226.51 89.26 C1226.08 93.64 1228.03 102.99 1229.21 110.34 C1230.40 117.68 1232.44 129.18 1233.62 133.31 C1234.80 137.44 1235.49 135.25 1236.28 135.14 C1237.07 135.04 1238.30 136.94 1238.38 132.69 C1238.46 128.44 1236.93 116.99 1236.79 109.66 C1236.64 102.34 1238.33 93.01 1237.49 88.74 C1236.66 84.47 1233.60 83.97 1231.76 84.06 C1229.93 84.14 1226.93 84.88 1226.51 89.26Z" fill="#8c8c8c" stroke="#8c8c8c" stroke-width="2.5" stroke-linejoin="round"/><path d="M1233.74 131.71 C1232.37 132.47 1230.46 137.18 1230.00 138.86 C1229.54 140.54 1230.31 141.42 1230.97 141.80 C1231.64 142.18 1232.78 142.39 1234.00 141.14 C1235.21 139.89 1238.30 135.86 1238.26 134.29 C1238.22 132.72 1235.12 130.95 1233.74 131.71Z" fill="#8c8c8c" stroke="#8c8c8c" stroke-width="2.5" stroke-linejoin="round"/><path d="M1232.00 142.30 C1235.01 142.57 1245.09 141.98 1248.00 141.60 C1250.91 141.22 1249.44 140.53 1249.44 140.00 C1249.44 139.47 1250.91 138.78 1248.00 138.40 C1245.09 138.02 1235.01 137.43 1232.00 137.70 C1228.99 137.97 1229.93 139.23 1229.93 140.00 C1229.93 140.77 1228.99 142.03 1232.00 142.30Z" fill="#8c8c8c" stroke="#8c8c8c" stroke-width="2.5" stroke-linejoin="round"/><path d="M1222.01 20.81 C1220.84 22.08 1220.01 27.38 1221.01 28.78 C1222.00 30.18 1226.83 30.48 1227.99 29.22 C1229.16 27.95 1228.99 22.59 1227.99 21.19 C1227.00 19.79 1223.17 19.55 1222.01 20.81Z" fill="#8c8c8c" stroke="#8c8c8c" stroke-width="2.5" stroke-linejoin="round"/><path d="M1217.80 15.00 a8.2 9.5 0 1 0 16.4 0 a8.2 9.5 0 1 0 -16.4 0Z" fill="#8c8c8c" stroke="#8c8c8c" stroke-width="2.5" stroke-linejoin="round"/><path d="M1227.30 33.89 C1226.75 38.25 1227.71 49.46 1226.81 57.75 C1225.92 66.03 1222.47 78.92 1221.94 83.60 C1221.41 88.29 1222.96 85.72 1223.64 85.86 C1224.33 85.99 1224.81 89.00 1226.06 84.40 C1227.32 79.80 1230.08 66.63 1231.19 58.25 C1232.29 49.87 1232.88 38.56 1232.70 34.11 C1232.52 29.67 1231.00 31.61 1230.10 31.57 C1229.20 31.53 1227.85 29.53 1227.30 33.89Z" fill="#8c8c8c" stroke="#8c8c8c" stroke-width="2.5" stroke-linejoin="round"/><path d="M1220.00 27.00 C1218.17 30.17 1220.00 40.17 1220.00 46.00 C1220.00 51.83 1219.83 55.00 1220.00 62.00 C1220.17 69.00 1218.50 83.67 1221.00 88.00 C1223.50 92.33 1233.00 93.33 1235.00 88.00 C1237.00 82.67 1233.00 63.67 1233.00 56.00 C1233.00 48.33 1235.33 46.83 1235.00 42.00 C1234.67 37.17 1233.50 29.50 1231.00 27.00 C1228.50 24.50 1221.83 23.83 1220.00 27.00Z" fill="#fff"/><path d="M1226.51 89.26 C1226.08 93.64 1228.03 102.99 1229.21 110.34 C1230.40 117.68 1232.44 129.18 1233.62 133.31 C1234.80 137.44 1235.49 135.25 1236.28 135.14 C1237.07 135.04 1238.30 136.94 1238.38 132.69 C1238.46 128.44 1236.93 116.99 1236.79 109.66 C1236.64 102.34 1238.33 93.01 1237.49 88.74 C1236.66 84.47 1233.60 83.97 1231.76 84.06 C1229.93 84.14 1226.93 84.88 1226.51 89.26Z" fill="#fff"/><path d="M1233.74 131.71 C1232.37 132.47 1230.46 137.18 1230.00 138.86 C1229.54 140.54 1230.31 141.42 1230.97 141.80 C1231.64 142.18 1232.78 142.39 1234.00 141.14 C1235.21 139.89 1238.30 135.86 1238.26 134.29 C1238.22 132.72 1235.12 130.95 1233.74 131.71Z" fill="#fff"/><path d="M1232.00 142.30 C1235.01 142.57 1245.09 141.98 1248.00 141.60 C1250.91 141.22 1249.44 140.53 1249.44 140.00 C1249.44 139.47 1250.91 138.78 1248.00 138.40 C1245.09 138.02 1235.01 137.43 1232.00 137.70 C1228.99 137.97 1229.93 139.23 1229.93 140.00 C1229.93 140.77 1228.99 142.03 1232.00 142.30Z" fill="#fff"/><path d="M1222.01 20.81 C1220.84 22.08 1220.01 27.38 1221.01 28.78 C1222.00 30.18 1226.83 30.48 1227.99 29.22 C1229.16 27.95 1228.99 22.59 1227.99 21.19 C1227.00 19.79 1223.17 19.55 1222.01 20.81Z" fill="#fff"/><path d="M1217.80 15.00 a8.2 9.5 0 1 0 16.4 0 a8.2 9.5 0 1 0 -16.4 0Z" fill="#fff"/><path d="M1227.30 33.89 C1226.75 38.25 1227.71 49.46 1226.81 57.75 C1225.92 66.03 1222.47 78.92 1221.94 83.60 C1221.41 88.29 1222.96 85.72 1223.64 85.86 C1224.33 85.99 1224.81 89.00 1226.06 84.40 C1227.32 79.80 1230.08 66.63 1231.19 58.25 C1232.29 49.87 1232.88 38.56 1232.70 34.11 C1232.52 29.67 1231.00 31.61 1230.10 31.57 C1229.20 31.53 1227.85 29.53 1227.30 33.89Z" fill="#fff"/><path d="M1259.52 36.93 C1257.41 40.92 1251.25 52.16 1250.32 59.73 C1249.38 67.29 1252.93 78.31 1253.93 82.33 C1254.92 86.35 1255.61 83.98 1256.30 83.87 C1256.99 83.76 1258.34 85.60 1258.07 81.67 C1257.80 77.74 1253.62 67.37 1254.68 60.27 C1255.75 53.17 1263.10 43.15 1264.48 39.07 C1265.86 34.99 1263.79 36.13 1262.96 35.77 C1262.14 35.41 1261.63 32.94 1259.52 36.93Z" fill="#8c8c8c" stroke="#8c8c8c" stroke-width="2.5" stroke-linejoin="round"/><path d="M1252.69 86.55 C1250.90 90.75 1250.99 101.74 1248.54 108.43 C1246.09 115.11 1239.63 123.11 1238.00 126.67 C1236.38 130.23 1238.14 129.35 1238.80 129.80 C1239.47 130.24 1239.22 132.37 1242.00 129.33 C1244.77 126.29 1251.91 118.22 1255.46 111.57 C1259.01 104.93 1262.67 94.17 1263.31 89.45 C1263.95 84.72 1261.07 83.71 1259.30 83.22 C1257.53 82.74 1254.49 82.35 1252.69 86.55Z" fill="#8c8c8c" stroke="#8c8c8c" stroke-width="2.5" stroke-linejoin="round"/><path d="M1237.44 127.57 C1236.38 129.45 1236.17 137.37 1236.22 139.70 C1236.27 142.04 1237.14 141.50 1237.73 141.60 C1238.33 141.70 1238.97 142.49 1239.78 140.30 C1240.58 138.10 1242.95 130.55 1242.56 128.43 C1242.17 126.31 1238.49 125.69 1237.44 127.57Z" fill="#8c8c8c" stroke="#8c8c8c" stroke-width="2.5" stroke-linejoin="round"/><path d="M1259.52 36.93 C1257.41 40.92 1251.25 52.16 1250.32 59.73 C1249.38 67.29 1252.93 78.31 1253.93 82.33 C1254.92 86.35 1255.61 83.98 1256.30 83.87 C1256.99 83.76 1258.34 85.60 1258.07 81.67 C1257.80 77.74 1253.62 67.37 1254.68 60.27 C1255.75 53.17 1263.10 43.15 1264.48 39.07 C1265.86 34.99 1263.79 36.13 1262.96 35.77 C1262.14 35.41 1261.63 32.94 1259.52 36.93Z" fill="#fff"/><path d="M1252.69 86.55 C1250.90 90.75 1250.99 101.74 1248.54 108.43 C1246.09 115.11 1239.63 123.11 1238.00 126.67 C1236.38 130.23 1238.14 129.35 1238.80 129.80 C1239.47 130.24 1239.22 132.37 1242.00 129.33 C1244.77 126.29 1251.91 118.22 1255.46 111.57 C1259.01 104.93 1262.67 94.17 1263.31 89.45 C1263.95 84.72 1261.07 83.71 1259.30 83.22 C1257.53 82.74 1254.49 82.35 1252.69 86.55Z" fill="#fff"/><path d="M1237.44 127.57 C1236.38 129.45 1236.17 137.37 1236.22 139.70 C1236.27 142.04 1237.14 141.50 1237.73 141.60 C1238.33 141.70 1238.97 142.49 1239.78 140.30 C1240.58 138.10 1242.95 130.55 1242.56 128.43 C1242.17 126.31 1238.49 125.69 1237.44 127.57Z" fill="#fff"/><path d="M1263.00 31.00 C1260.33 34.17 1259.17 44.83 1258.00 50.00 C1256.83 55.17 1256.17 56.33 1256.00 62.00 C1255.83 67.67 1253.67 80.33 1257.00 84.00 C1260.33 87.67 1272.83 88.33 1276.00 84.00 C1279.17 79.67 1275.83 64.33 1276.00 58.00 C1276.17 51.67 1277.33 50.50 1277.00 46.00 C1276.67 41.50 1276.33 33.50 1274.00 31.00 C1271.67 28.50 1265.67 27.83 1263.00 31.00Z" fill="#8c8c8c" stroke="#8c8c8c" stroke-width="2.5" stroke-linejoin="round"/><path d="M1265.46 91.10 C1267.89 95.79 1276.40 104.72 1281.82 112.08 C1287.24 119.44 1294.74 131.31 1297.96 135.27 C1301.19 139.23 1300.47 136.26 1301.14 135.83 C1301.82 135.41 1304.20 137.38 1302.04 132.73 C1299.87 128.08 1292.76 115.89 1288.18 107.92 C1283.60 99.95 1278.04 88.90 1274.54 84.90 C1271.05 80.90 1268.73 82.88 1267.21 83.91 C1265.70 84.94 1263.02 86.40 1265.46 91.10Z" fill="#8c8c8c" stroke="#8c8c8c" stroke-width="2.5" stroke-linejoin="round"/><path d="M1297.50 133.29 C1296.38 134.23 1295.80 138.75 1295.79 140.37 C1295.78 141.99 1296.69 142.78 1297.43 142.99 C1298.17 143.20 1299.37 143.01 1300.21 141.63 C1301.06 140.25 1302.95 136.11 1302.50 134.71 C1302.05 133.32 1298.62 132.34 1297.50 133.29Z" fill="#8c8c8c" stroke="#8c8c8c" stroke-width="2.5" stroke-linejoin="round"/><path d="M1298.53 143.24 C1301.76 142.75 1312.39 139.65 1315.37 138.56 C1318.35 137.46 1316.52 137.19 1316.40 136.67 C1316.28 136.15 1317.79 135.09 1314.63 135.44 C1311.48 135.79 1300.58 137.76 1297.47 138.76 C1294.37 139.77 1295.81 140.73 1295.99 141.47 C1296.16 142.22 1295.30 143.72 1298.53 143.24Z" fill="#8c8c8c" stroke="#8c8c8c" stroke-width="2.5" stroke-linejoin="round"/><path d="M1265.01 25.41 C1263.84 26.68 1263.01 31.98 1264.01 33.38 C1265.00 34.78 1269.83 35.08 1270.99 33.82 C1272.16 32.55 1271.99 27.19 1270.99 25.79 C1270.00 24.39 1266.17 24.15 1265.01 25.41Z" fill="#8c8c8c" stroke="#8c8c8c" stroke-width="2.5" stroke-linejoin="round"/><path d="M1260.80 19.60 a8.2 9.5 0 1 0 16.4 0 a8.2 9.5 0 1 0 -16.4 0Z" fill="#8c8c8c" stroke="#8c8c8c" stroke-width="2.5" stroke-linejoin="round"/><path d="M1270.32 38.36 C1270.55 42.60 1270.50 54.29 1274.03 60.98 C1277.56 67.66 1288.13 75.59 1291.52 78.48 C1294.90 81.38 1293.84 78.83 1294.34 78.34 C1294.83 77.84 1297.21 78.73 1294.48 75.52 C1291.76 72.30 1281.11 65.34 1277.97 59.02 C1274.84 52.71 1276.56 41.54 1275.68 37.64 C1274.79 33.73 1273.56 35.47 1272.67 35.59 C1271.78 35.71 1270.10 34.13 1270.32 38.36Z" fill="#8c8c8c" stroke="#8c8c8c" stroke-width="2.5" stroke-linejoin="round"/><path d="M1263.00 31.00 C1260.33 34.17 1259.17 44.83 1258.00 50.00 C1256.83 55.17 1256.17 56.33 1256.00 62.00 C1255.83 67.67 1253.67 80.33 1257.00 84.00 C1260.33 87.67 1272.83 88.33 1276.00 84.00 C1279.17 79.67 1275.83 64.33 1276.00 58.00 C1276.17 51.67 1277.33 50.50 1277.00 46.00 C1276.67 41.50 1276.33 33.50 1274.00 31.00 C1271.67 28.50 1265.67 27.83 1263.00 31.00Z" fill="#fff"/><path d="M1265.46 91.10 C1267.89 95.79 1276.40 104.72 1281.82 112.08 C1287.24 119.44 1294.74 131.31 1297.96 135.27 C1301.19 139.23 1300.47 136.26 1301.14 135.83 C1301.82 135.41 1304.20 137.38 1302.04 132.73 C1299.87 128.08 1292.76 115.89 1288.18 107.92 C1283.60 99.95 1278.04 88.90 1274.54 84.90 C1271.05 80.90 1268.73 82.88 1267.21 83.91 C1265.70 84.94 1263.02 86.40 1265.46 91.10Z" fill="#fff"/><path d="M1297.50 133.29 C1296.38 134.23 1295.80 138.75 1295.79 140.37 C1295.78 141.99 1296.69 142.78 1297.43 142.99 C1298.17 143.20 1299.37 143.01 1300.21 141.63 C1301.06 140.25 1302.95 136.11 1302.50 134.71 C1302.05 133.32 1298.62 132.34 1297.50 133.29Z" fill="#fff"/><path d="M1298.53 143.24 C1301.76 142.75 1312.39 139.65 1315.37 138.56 C1318.35 137.46 1316.52 137.19 1316.40 136.67 C1316.28 136.15 1317.79 135.09 1314.63 135.44 C1311.48 135.79 1300.58 137.76 1297.47 138.76 C1294.37 139.77 1295.81 140.73 1295.99 141.47 C1296.16 142.22 1295.30 143.72 1298.53 143.24Z" fill="#fff"/><path d="M1265.01 25.41 C1263.84 26.68 1263.01 31.98 1264.01 33.38 C1265.00 34.78 1269.83 35.08 1270.99 33.82 C1272.16 32.55 1271.99 27.19 1270.99 25.79 C1270.00 24.39 1266.17 24.15 1265.01 25.41Z" fill="#fff"/><path d="M1260.80 19.60 a8.2 9.5 0 1 0 16.4 0 a8.2 9.5 0 1 0 -16.4 0Z" fill="#fff"/><path d="M1270.32 38.36 C1270.55 42.60 1270.50 54.29 1274.03 60.98 C1277.56 67.66 1288.13 75.59 1291.52 78.48 C1294.90 81.38 1293.84 78.83 1294.34 78.34 C1294.83 77.84 1297.21 78.73 1294.48 75.52 C1291.76 72.30 1281.11 65.34 1277.97 59.02 C1274.84 52.71 1276.56 41.54 1275.68 37.64 C1274.79 33.73 1273.56 35.47 1272.67 35.59 C1271.78 35.71 1270.10 34.13 1270.32 38.36Z" fill="#fff"/><path d="M1274.30 61.70 C1277.14 65.04 1288.14 75.74 1291.48 78.52 C1294.82 81.30 1293.86 78.88 1294.37 78.37 C1294.88 77.86 1297.30 78.82 1294.52 75.48 C1291.74 72.14 1281.04 61.14 1277.70 58.30 C1274.36 55.47 1275.04 57.91 1274.47 58.47 C1273.91 59.04 1271.47 58.36 1274.30 61.70Z" fill="none" stroke="#8c8c8c" stroke-width="1.0" stroke-opacity="0.6"/></g>
<line x1="1479.5" y1="145" x2="1940.5" y2="145" stroke="#c4c4c4" stroke-width="1.8"/>
<line x1="1479.2" y1="145" x2="1479.2" y2="151" stroke="#c4c4c4" stroke-width="1.3"/>
<line x1="1525.0" y1="145" x2="1525.0" y2="151" stroke="#c4c4c4" stroke-width="1.3"/>
<line x1="1612.1" y1="145" x2="1612.1" y2="151" stroke="#c4c4c4" stroke-width="1.3"/>
<line x1="1863.0" y1="145" x2="1863.0" y2="151" stroke="#c4c4c4" stroke-width="1.3"/>
<line x1="1919.1" y1="145" x2="1919.1" y2="151" stroke="#c4c4c4" stroke-width="1.3"/>
<line x1="223" y1="341" x2="670.5" y2="341" stroke="#cbcbcb" stroke-width="1.8"/>
<rect x="464.5" y="147" width="31.5" height="194" fill="#e4e4e4"/>
<path d="M224.0 224.0V274.0M228.5 223.6V273.6M232.9 223.2V273.2M237.4 222.8V272.8M241.8 222.4V272.4M246.3 222.0V272.0M250.7 221.5V271.5M255.2 221.0V271.0M259.6 220.3V270.3M264.1 219.7V269.7M268.6 219.1V269.1M273.0 218.7V268.7M277.5 218.5V268.5M281.9 218.4V268.4M286.4 218.5V268.5M290.8 218.5V268.5M295.3 218.5V268.5M299.8 218.6V268.6M304.2 218.6V268.6M308.7 218.7V268.7M313.1 218.7V268.7M317.6 218.8V268.8M322.0 218.9V268.9M326.5 219.0V269.0M330.9 219.1V269.1M335.4 219.2V269.2M339.9 219.3V269.3M344.3 219.4V269.4M348.8 219.6V269.6M353.2 219.9V269.9M357.7 220.2V270.2M362.1 220.6V270.6M366.6 221.0V271.0M371.0 221.3V271.3M375.5 221.7V271.7M380.0 222.0V272.0M384.4 222.3V272.3M388.9 222.7V272.7M393.3 223.0V273.0M397.8 223.4V273.4M402.2 223.7V273.7M406.7 224.0V274.0M411.2 224.2V274.2M415.6 224.3V274.3M420.1 224.4V274.4M424.5 224.4V274.4M429.0 224.3V274.3M433.4 224.2V274.2M437.9 224.0V274.0M442.3 223.8V273.8M446.8 223.5V273.5M451.3 223.2V273.2M455.7 222.8V272.8M460.2 221.4V271.4M464.6 219.7V269.7M469.1 219.4V269.4M473.5 219.4V269.4M478.0 219.4V269.4M482.4 219.4V269.4M486.9 219.4V269.4M491.4 219.4V269.4M495.8 219.4V269.4M500.3 219.4V269.4M504.7 219.4V269.4M509.2 219.4V269.4M513.6 219.4V269.4M518.1 219.4V269.4M522.6 219.4V269.4M527.0 219.4V269.4M531.5 219.4V269.4M535.9 219.4V269.4M540.4 219.4V269.4M544.8 219.4V269.4M549.3 219.4V269.4M553.7 219.4V269.4M558.2 219.4V269.4M562.7 219.5V269.5M567.1 219.9V269.9M571.6 220.4V270.4M576.0 221.0V271.0M580.5 221.5V271.5M584.9 222.1V272.1M589.4 222.7V272.7M593.8 223.3V273.3M598.3 223.9V273.9M602.8 224.3V274.3M607.2 224.5V274.5M611.7 224.7V274.7M616.1 224.8V274.8M620.6 225.0V275.0M625.0 225.1V275.1M629.5 225.2V275.2M634.0 225.4V275.4M638.4 225.5V275.5M642.9 225.5V275.5M647.3 225.6V275.6M651.8 225.7V275.7M656.2 225.7V275.7M660.7 225.8V275.8M665.1 225.8V275.8M669.6 225.8V275.8" stroke="#f7d0b0" stroke-width="1.2" fill="none"/>
<path d="M224.0 230.8V280.8M228.5 230.8V280.8M232.9 230.7V280.7M237.4 230.6V280.6M241.8 230.4V280.4M246.3 230.3V280.3M250.7 230.1V280.1M255.2 229.6V279.6M259.6 229.0V279.0M264.1 228.3V278.3M268.6 227.6V277.6M273.0 227.0V277.0M277.5 226.7V276.7M281.9 226.7V276.7M286.4 226.7V276.7M290.8 226.7V276.7M295.3 226.7V276.7M299.8 226.7V276.7M304.2 226.7V276.7M308.7 226.7V276.7M313.1 226.8V276.8M317.6 226.8V276.8M322.0 226.8V276.8M326.5 226.8V276.8M330.9 226.8V276.8M335.4 226.9V276.9M339.9 226.9V276.9M344.3 226.9V276.9M348.8 227.1V277.1M353.2 227.4V277.4M357.7 227.8V277.8M362.1 228.3V278.3M366.6 228.8V278.8M371.0 229.3V279.3M375.5 229.7V279.7M380.0 230.1V280.1M384.4 230.5V280.5M388.9 230.9V280.9M393.3 231.4V281.4M397.8 231.8V281.8M402.2 232.2V282.2M406.7 232.5V282.5M411.2 232.8V282.8M415.6 233.0V283.0M420.1 233.1V283.1M424.5 233.1V283.1M429.0 233.0V283.0M433.4 232.8V282.8M437.9 232.5V282.5M442.3 232.1V282.1M446.8 231.7V281.7M451.3 231.3V281.3M455.7 230.8V280.8M460.2 229.8V279.8M464.6 228.8V278.8M469.1 228.5V278.5M473.5 228.4V278.4M478.0 228.4V278.4M482.4 228.4V278.4M486.9 228.3V278.3M491.4 228.3V278.3M495.8 228.2V278.2M500.3 228.2V278.2M504.7 228.2V278.2M509.2 228.2V278.2M513.6 228.1V278.1M518.1 228.1V278.1M522.6 228.1V278.1M527.0 228.1V278.1M531.5 228.1V278.1M535.9 228.1V278.1M540.4 228.1V278.1M544.8 228.1V278.1M549.3 228.1V278.1M553.7 228.1V278.1M558.2 228.1V278.1M562.7 228.2V278.2M567.1 228.4V278.4M571.6 228.8V278.8M576.0 229.2V279.2M580.5 229.6V279.6M584.9 230.0V280.0M589.4 230.6V280.6M593.8 231.2V281.2M598.3 231.7V281.7M602.8 231.9V281.9M607.2 232.0V282.0M611.7 232.0V282.0M616.1 232.0V282.0M620.6 232.0V282.0M625.0 232.0V282.0M629.5 232.0V282.0M634.0 232.0V282.0M638.4 232.0V282.0M642.9 232.0V282.0M647.3 232.0V282.0M651.8 232.0V282.0M656.2 232.0V282.0M660.7 232.0V282.0M665.1 232.0V282.0M669.6 232.0V282.0" stroke="#bdbdbd" stroke-width="1.2" fill="none"/>
<polyline points="224.0,255.8 225.5,255.8 227.0,255.8 228.5,255.8 229.9,255.8 231.4,255.7 232.9,255.7 234.4,255.7 235.9,255.6 237.4,255.6 238.9,255.5 240.3,255.5 241.8,255.4 243.3,255.4 244.8,255.3 246.3,255.3 247.8,255.2 249.3,255.1 250.7,255.1 252.2,254.9 253.7,254.8 255.2,254.6 256.7,254.4 258.2,254.2 259.6,254.0 261.1,253.8 262.6,253.5 264.1,253.3 265.6,253.0 267.1,252.8 268.6,252.6 270.0,252.4 271.5,252.2 273.0,252.0 274.5,251.9 276.0,251.8 277.5,251.7 279.0,251.7 280.4,251.7 281.9,251.7 283.4,251.7 284.9,251.7 286.4,251.7 287.9,251.7 289.4,251.7 290.8,251.7 292.3,251.7 293.8,251.7 295.3,251.7 296.8,251.7 298.3,251.7 299.8,251.7 301.2,251.7 302.7,251.7 304.2,251.7 305.7,251.7 307.2,251.7 308.7,251.7 310.1,251.7 311.6,251.8 313.1,251.8 314.6,251.8 316.1,251.8 317.6,251.8 319.1,251.8 320.5,251.8 322.0,251.8 323.5,251.8 325.0,251.8 326.5,251.8 328.0,251.8 329.5,251.8 330.9,251.8 332.4,251.8 333.9,251.9 335.4,251.9 336.9,251.9 338.4,251.9 339.9,251.9 341.3,251.9 342.8,251.9 344.3,251.9 345.8,252.0 347.3,252.0 348.8,252.1 350.3,252.2 351.7,252.3 353.2,252.4 354.7,252.5 356.2,252.7 357.7,252.8 359.2,253.0 360.7,253.2 362.1,253.3 363.6,253.5 365.1,253.6 366.6,253.8 368.1,254.0 369.6,254.1 371.0,254.3 372.5,254.4 374.0,254.6 375.5,254.7 377.0,254.8 378.5,254.9 380.0,255.1 381.4,255.2 382.9,255.3 384.4,255.5 385.9,255.6 387.4,255.8 388.9,255.9 390.4,256.1 391.8,256.2 393.3,256.4 394.8,256.5 396.3,256.7 397.8,256.8 399.3,256.9 400.8,257.1 402.2,257.2 403.7,257.3 405.2,257.4 406.7,257.5 408.2,257.6 409.7,257.7 411.2,257.8 412.6,257.9 414.1,258.0 415.6,258.0 417.1,258.1 418.6,258.1 420.1,258.1 421.5,258.1 423.0,258.1 424.5,258.1 426.0,258.1 427.5,258.0 429.0,258.0 430.5,257.9 431.9,257.8 433.4,257.8 434.9,257.7 436.4,257.6 437.9,257.5 439.4,257.4 440.9,257.2 442.3,257.1 443.8,257.0 445.3,256.9 446.8,256.7 448.3,256.6 449.8,256.4 451.3,256.3 452.7,256.1 454.2,256.0 455.7,255.8 457.2,255.6 458.7,255.2 460.2,254.8 461.7,254.4 463.1,254.1 464.6,253.8 466.1,253.6 467.6,253.5 469.1,253.5 470.6,253.5 472.1,253.5 473.5,253.4 475.0,253.4 476.5,253.4 478.0,253.4 479.5,253.4 481.0,253.4 482.4,253.4 483.9,253.3 485.4,253.3 486.9,253.3 488.4,253.3 489.9,253.3 491.4,253.3 492.8,253.3 494.3,253.3 495.8,253.2 497.3,253.2 498.8,253.2 500.3,253.2 501.8,253.2 503.2,253.2 504.7,253.2 506.2,253.2 507.7,253.2 509.2,253.2 510.7,253.2 512.2,253.2 513.6,253.1 515.1,253.1 516.6,253.1 518.1,253.1 519.6,253.1 521.1,253.1 522.6,253.1 524.0,253.1 525.5,253.1 527.0,253.1 528.5,253.1 530.0,253.1 531.5,253.1 532.9,253.1 534.4,253.1 535.9,253.1 537.4,253.1 538.9,253.1 540.4,253.1 541.9,253.1 543.3,253.1 544.8,253.1 546.3,253.1 547.8,253.1 549.3,253.1 550.8,253.1 552.3,253.1 553.7,253.1 555.2,253.1 556.7,253.1 558.2,253.1 559.7,253.1 561.2,253.1 562.7,253.2 564.1,253.2 565.6,253.3 567.1,253.4 568.6,253.5 570.1,253.6 571.6,253.8 573.1,253.9 574.5,254.0 576.0,254.2 577.5,254.3 579.0,254.5 580.5,254.6 582.0,254.7 583.5,254.8 584.9,255.0 586.4,255.2 587.9,255.4 589.4,255.6 590.9,255.8 592.4,256.0 593.8,256.2 595.3,256.3 596.8,256.5 598.3,256.7 599.8,256.8 601.3,256.9 602.8,256.9 604.2,257.0 605.7,257.0 607.2,257.0 608.7,257.0 610.2,257.0 611.7,257.0 613.2,257.0 614.6,257.0 616.1,257.0 617.6,257.0 619.1,257.0 620.6,257.0 622.1,257.0 623.6,257.0 625.0,257.0 626.5,257.0 628.0,257.0 629.5,257.0 631.0,257.0 632.5,257.0 634.0,257.0 635.4,257.0 636.9,257.0 638.4,257.0 639.9,257.0 641.4,257.0 642.9,257.0 644.3,257.0 645.8,257.0 647.3,257.0 648.8,257.0 650.3,257.0 651.8,257.0 653.3,257.0 654.7,257.0 656.2,257.0 657.7,257.0 659.2,257.0 660.7,257.0 662.2,257.0 663.7,257.0 665.1,257.0 666.6,257.0 668.1,257.0 669.6,257.0" fill="none" stroke="#737373" stroke-width="7" stroke-linejoin="round" stroke-linecap="butt"/>
<polyline points="224.0,249.0 225.5,248.8 227.0,248.7 228.5,248.6 229.9,248.5 231.4,248.3 232.9,248.2 234.4,248.1 235.9,247.9 237.4,247.8 238.9,247.7 240.3,247.5 241.8,247.4 243.3,247.2 244.8,247.1 246.3,247.0 247.8,246.8 249.3,246.7 250.7,246.5 252.2,246.3 253.7,246.2 255.2,246.0 256.7,245.8 258.2,245.6 259.6,245.3 261.1,245.1 262.6,244.9 264.1,244.7 265.6,244.5 267.1,244.3 268.6,244.1 270.0,244.0 271.5,243.8 273.0,243.7 274.5,243.6 276.0,243.5 277.5,243.5 279.0,243.4 280.4,243.4 281.9,243.4 283.4,243.5 284.9,243.5 286.4,243.5 287.9,243.5 289.4,243.5 290.8,243.5 292.3,243.5 293.8,243.5 295.3,243.5 296.8,243.5 298.3,243.5 299.8,243.6 301.2,243.6 302.7,243.6 304.2,243.6 305.7,243.6 307.2,243.6 308.7,243.7 310.1,243.7 311.6,243.7 313.1,243.7 314.6,243.8 316.1,243.8 317.6,243.8 319.1,243.8 320.5,243.9 322.0,243.9 323.5,243.9 325.0,243.9 326.5,244.0 328.0,244.0 329.5,244.0 330.9,244.1 332.4,244.1 333.9,244.1 335.4,244.2 336.9,244.2 338.4,244.2 339.9,244.3 341.3,244.3 342.8,244.4 344.3,244.4 345.8,244.4 347.3,244.5 348.8,244.6 350.3,244.7 351.7,244.8 353.2,244.9 354.7,245.0 356.2,245.1 357.7,245.2 359.2,245.3 360.7,245.5 362.1,245.6 363.6,245.7 365.1,245.8 366.6,246.0 368.1,246.1 369.6,246.2 371.0,246.3 372.5,246.5 374.0,246.6 375.5,246.7 377.0,246.8 378.5,246.9 380.0,247.0 381.4,247.1 382.9,247.2 384.4,247.3 385.9,247.4 387.4,247.6 388.9,247.7 390.4,247.8 391.8,247.9 393.3,248.0 394.8,248.1 396.3,248.3 397.8,248.4 399.3,248.5 400.8,248.6 402.2,248.7 403.7,248.8 405.2,248.9 406.7,249.0 408.2,249.0 409.7,249.1 411.2,249.2 412.6,249.2 414.1,249.3 415.6,249.3 417.1,249.4 418.6,249.4 420.1,249.4 421.5,249.4 423.0,249.4 424.5,249.4 426.0,249.4 427.5,249.3 429.0,249.3 430.5,249.3 431.9,249.2 433.4,249.2 434.9,249.1 436.4,249.1 437.9,249.0 439.4,248.9 440.9,248.9 442.3,248.8 443.8,248.7 445.3,248.6 446.8,248.5 448.3,248.4 449.8,248.3 451.3,248.2 452.7,248.0 454.2,247.9 455.7,247.8 457.2,247.5 458.7,247.0 460.2,246.4 461.7,245.8 463.1,245.2 464.6,244.7 466.1,244.4 467.6,244.4 469.1,244.4 470.6,244.4 472.1,244.4 473.5,244.4 475.0,244.4 476.5,244.4 478.0,244.4 479.5,244.4 481.0,244.4 482.4,244.4 483.9,244.4 485.4,244.4 486.9,244.4 488.4,244.4 489.9,244.4 491.4,244.4 492.8,244.4 494.3,244.4 495.8,244.4 497.3,244.4 498.8,244.4 500.3,244.4 501.8,244.4 503.2,244.4 504.7,244.4 506.2,244.4 507.7,244.4 509.2,244.4 510.7,244.4 512.2,244.4 513.6,244.4 515.1,244.4 516.6,244.4 518.1,244.4 519.6,244.4 521.1,244.4 522.6,244.4 524.0,244.4 525.5,244.4 527.0,244.4 528.5,244.4 530.0,244.4 531.5,244.4 532.9,244.4 534.4,244.4 535.9,244.4 537.4,244.4 538.9,244.4 540.4,244.4 541.9,244.4 543.3,244.4 544.8,244.4 546.3,244.4 547.8,244.4 549.3,244.4 550.8,244.4 552.3,244.4 553.7,244.4 555.2,244.4 556.7,244.4 558.2,244.4 559.7,244.4 561.2,244.4 562.7,244.5 564.1,244.6 565.6,244.7 567.1,244.9 568.6,245.0 570.1,245.2 571.6,245.4 573.1,245.6 574.5,245.8 576.0,246.0 577.5,246.2 579.0,246.4 580.5,246.5 582.0,246.7 583.5,246.9 584.9,247.1 586.4,247.3 587.9,247.5 589.4,247.7 590.9,247.9 592.4,248.1 593.8,248.3 595.3,248.5 596.8,248.7 598.3,248.9 599.8,249.1 601.3,249.2 602.8,249.3 604.2,249.4 605.7,249.5 607.2,249.5 608.7,249.6 610.2,249.6 611.7,249.7 613.2,249.7 614.6,249.8 616.1,249.8 617.6,249.9 619.1,249.9 620.6,250.0 622.1,250.0 623.6,250.1 625.0,250.1 626.5,250.2 628.0,250.2 629.5,250.2 631.0,250.3 632.5,250.3 634.0,250.4 635.4,250.4 636.9,250.4 638.4,250.5 639.9,250.5 641.4,250.5 642.9,250.5 644.3,250.6 645.8,250.6 647.3,250.6 648.8,250.6 650.3,250.7 651.8,250.7 653.3,250.7 654.7,250.7 656.2,250.7 657.7,250.7 659.2,250.7 660.7,250.8 662.2,250.8 663.7,250.8 665.1,250.8 666.6,250.8 668.1,250.8 669.6,250.8" fill="none" stroke="#f59a3c" stroke-width="7" stroke-linejoin="round" stroke-linecap="butt"/>
<text x="643.50" y="179.00" font-size="29.71" font-weight="bold" fill="#111" stroke="#111" stroke-width="0.3" textLength="19.56" lengthAdjust="spacingAndGlyphs">A</text>
<text x="166.00" y="150.73" font-size="26.76" font-weight="normal" fill="#5e5e5e" stroke="#5e5e5e" stroke-width="0.4" textLength="27.05" lengthAdjust="spacingAndGlyphs">10</text>
<text x="157.50" y="251.23" font-size="27.46" font-weight="normal" fill="#5e5e5e" stroke="#5e5e5e" stroke-width="0.4" textLength="37.37" lengthAdjust="spacingAndGlyphs">-10</text>
<text x="157.50" y="349.73" font-size="26.76" font-weight="normal" fill="#5e5e5e" stroke="#5e5e5e" stroke-width="0.4" textLength="37.37" lengthAdjust="spacingAndGlyphs">-30</text>
<line x1="223" y1="396.9" x2="670.5" y2="396.9" stroke="#cbcbcb" stroke-width="1.8"/>
<line x1="223" y1="445" x2="670.5" y2="445" stroke="#cbcbcb" stroke-width="1.8"/>
<line x1="223" y1="490.8" x2="670.5" y2="490.8" stroke="#cbcbcb" stroke-width="1.8"/>
<line x1="223" y1="538.5" x2="670.5" y2="538.5" stroke="#cbcbcb" stroke-width="1.8"/>
<line x1="223" y1="584.3" x2="670.5" y2="584.3" stroke="#cbcbcb" stroke-width="1.8"/>
<rect x="465" y="396" width="31.69999999999999" height="190" fill="#e4e4e4"/>
<path d="M224.0 422.7V446.7M228.5 422.7V446.7M232.9 422.8V446.8M237.4 423.0V447.0M241.8 423.3V447.3M246.3 423.6V447.6M250.7 424.0V448.0M255.2 424.4V448.4M259.7 424.8V448.8M264.1 425.5V449.5M268.6 426.6V450.6M273.0 428.1V452.1M277.5 430.0V454.0M282.0 432.2V456.2M286.4 434.6V458.6M290.9 437.0V461.0M295.3 439.5V463.5M299.8 442.0V466.0M304.2 444.4V468.4M308.7 446.6V470.6M313.2 448.9V472.9M317.6 451.2V475.2M322.1 453.7V477.7M326.5 456.1V480.1M331.0 458.6V482.6M335.4 461.0V485.0M339.9 463.4V487.4M344.4 465.7V489.7M348.8 467.9V491.9M353.3 470.0V494.0M357.7 472.0V496.0M362.2 473.8V497.8M366.7 475.6V499.6M371.1 477.4V501.4M375.6 479.1V503.1M380.0 480.8V504.8M384.5 482.5V506.5M388.9 484.2V508.2M393.4 486.0V510.0M397.9 487.8V511.8M402.3 489.8V513.8M406.8 492.1V516.1M411.2 494.5V518.5M415.7 497.0V521.0M420.2 499.5V523.5M424.6 501.8V525.8M429.1 503.9V527.9M433.5 505.6V529.6M438.0 506.8V530.8M442.4 507.4V531.4M446.9 507.4V531.4M451.4 507.4V531.4M455.8 507.4V531.4M460.3 507.4V531.4M464.7 507.3V531.3M469.2 506.0V530.0M473.6 503.7V527.7M478.1 500.8V524.8M482.6 497.7V521.7M487.0 494.5V518.5M491.5 491.5V515.5M495.9 488.5V512.5M500.4 485.2V509.2M504.9 481.8V505.8M509.3 478.2V502.2M513.8 474.5V498.5M518.2 470.9V494.9M522.7 467.2V491.2M527.1 463.6V487.6M531.6 460.1V484.1M536.1 456.8V480.8M540.5 453.5V477.5M545.0 450.2V474.2M549.4 446.9V470.9M553.9 443.6V467.6M558.3 440.3V464.3M562.8 437.2V461.2M567.3 434.2V458.2M571.7 431.4V455.4M576.2 428.9V452.9M580.6 426.5V450.5M585.1 424.4V448.4M589.6 422.1V446.1M594.0 419.9V443.9M598.5 418.0V442.0M602.9 416.6V440.6M607.4 415.9V439.9M611.8 415.8V439.8M616.3 416.1V440.1M620.8 416.4V440.4M625.2 416.8V440.8M629.7 417.1V441.1M634.1 417.5V441.5M638.6 417.9V441.9M643.1 418.3V442.3M647.5 418.8V442.8M652.0 419.3V443.3M656.4 419.8V443.8M660.9 420.3V444.3M665.3 420.9V444.9M669.8 421.5V445.5" stroke="#f7d0b0" stroke-width="1.2" fill="none"/>
<path d="M224.0 407.4V441.4M228.5 407.4V441.4M232.9 407.6V441.6M237.4 407.9V441.9M241.8 408.3V442.3M246.3 408.8V442.8M250.7 409.3V443.3M255.2 410.0V444.0M259.7 410.6V444.6M264.1 411.5V445.5M268.6 412.8V446.8M273.0 414.7V448.7M277.5 416.8V450.8M282.0 419.3V453.3M286.4 422.0V456.0M290.9 424.9V458.9M295.3 427.8V461.8M299.8 430.7V464.7M304.2 433.4V467.4M308.7 436.1V470.1M313.2 438.8V472.8M317.6 441.8V475.8M322.1 444.8V478.8M326.5 447.8V481.8M331.0 450.9V484.9M335.4 454.0V488.0M339.9 457.0V491.0M344.4 459.9V493.9M348.8 462.6V496.6M353.3 465.1V499.1M357.7 467.5V501.5M362.2 469.8V503.8M366.7 472.0V506.0M371.1 474.1V508.1M375.6 476.2V510.2M380.0 478.2V512.2M384.5 480.2V514.2M388.9 482.2V516.2M393.4 484.2V518.2M397.9 486.2V520.2M402.3 488.3V522.3M406.8 490.7V524.7M411.2 493.2V527.2M415.7 495.7V529.7M420.2 498.2V532.2M424.6 500.4V534.4M429.1 502.5V536.5M433.5 504.1V538.1M438.0 505.2V539.2M442.4 505.8V539.8M446.9 505.9V539.9M451.4 505.9V539.9M455.8 505.9V539.9M460.3 505.9V539.9M464.7 505.7V539.7M469.2 504.3V538.3M473.6 501.9V535.9M478.1 498.8V532.8M482.6 495.4V529.4M487.0 491.9V525.9M491.5 488.7V522.7M495.9 485.3V519.3M500.4 481.5V515.5M504.9 477.4V511.4M509.3 473.2V507.2M513.8 468.8V502.8M518.2 464.4V498.4M522.7 460.1V494.1M527.1 456.0V490.0M531.6 452.0V486.0M536.1 448.3V482.3M540.5 444.9V478.9M545.0 441.4V475.4M549.4 438.1V472.1M553.9 434.8V468.8M558.3 431.6V465.6M562.8 428.4V462.4M567.3 425.4V459.4M571.7 422.5V456.5M576.2 419.7V453.7M580.6 417.1V451.1M585.1 414.4V448.4M589.6 411.4V445.4M594.0 408.5V442.5M598.5 405.9V439.9M602.9 403.9V437.9M607.4 402.9V436.9M611.8 402.9V436.9M616.3 403.4V437.4M620.8 404.2V438.2M625.2 404.9V438.9M629.7 405.3V439.3M634.1 405.6V439.6M638.6 405.9V439.9M643.1 406.3V440.3M647.5 406.6V440.6M652.0 406.8V440.8M656.4 407.0V441.0M660.9 407.2V441.2M665.3 407.3V441.3M669.8 407.4V441.4" stroke="#bdbdbd" stroke-width="1.2" fill="none"/>
<polyline points="224.0,424.4 225.5,424.4 227.0,424.4 228.5,424.4 229.9,424.5 231.4,424.5 232.9,424.6 234.4,424.7 235.9,424.8 237.4,424.9 238.9,425.0 240.3,425.2 241.8,425.3 243.3,425.5 244.8,425.6 246.3,425.8 247.8,426.0 249.3,426.2 250.7,426.3 252.2,426.5 253.7,426.7 255.2,427.0 256.7,427.2 258.2,427.4 259.7,427.6 261.1,427.9 262.6,428.1 264.1,428.5 265.6,428.9 267.1,429.3 268.6,429.8 270.1,430.4 271.6,431.0 273.0,431.7 274.5,432.3 276.0,433.1 277.5,433.8 279.0,434.6 280.5,435.5 282.0,436.3 283.4,437.2 284.9,438.1 286.4,439.0 287.9,440.0 289.4,440.9 290.9,441.9 292.4,442.8 293.8,443.8 295.3,444.8 296.8,445.7 298.3,446.7 299.8,447.7 301.3,448.6 302.8,449.5 304.2,450.4 305.7,451.3 307.2,452.2 308.7,453.1 310.2,454.0 311.7,454.9 313.2,455.8 314.6,456.8 316.1,457.8 317.6,458.8 319.1,459.8 320.6,460.8 322.1,461.8 323.6,462.8 325.0,463.8 326.5,464.8 328.0,465.9 329.5,466.9 331.0,467.9 332.5,469.0 334.0,470.0 335.4,471.0 336.9,472.0 338.4,473.0 339.9,474.0 341.4,475.0 342.9,475.9 344.4,476.9 345.9,477.8 347.3,478.7 348.8,479.6 350.3,480.4 351.8,481.3 353.3,482.1 354.8,482.9 356.3,483.7 357.7,484.5 359.2,485.2 360.7,486.0 362.2,486.8 363.7,487.5 365.2,488.2 366.7,489.0 368.1,489.7 369.6,490.4 371.1,491.1 372.6,491.8 374.1,492.5 375.6,493.2 377.1,493.9 378.5,494.6 380.0,495.2 381.5,495.9 383.0,496.6 384.5,497.2 386.0,497.9 387.5,498.6 388.9,499.2 390.4,499.9 391.9,500.6 393.4,501.2 394.9,501.9 396.4,502.6 397.9,503.2 399.3,503.9 400.8,504.6 402.3,505.3 403.8,506.1 405.3,506.9 406.8,507.7 408.3,508.5 409.8,509.3 411.2,510.2 412.7,511.0 414.2,511.9 415.7,512.7 417.2,513.5 418.7,514.4 420.2,515.2 421.6,515.9 423.1,516.7 424.6,517.4 426.1,518.1 427.6,518.8 429.1,519.5 430.6,520.0 432.0,520.6 433.5,521.1 435.0,521.5 436.5,521.9 438.0,522.2 439.5,522.5 441.0,522.7 442.4,522.8 443.9,522.9 445.4,522.9 446.9,522.9 448.4,522.9 449.9,522.9 451.4,522.9 452.8,522.9 454.3,522.9 455.8,522.9 457.3,522.9 458.8,522.9 460.3,522.9 461.8,522.9 463.2,522.8 464.7,522.7 466.2,522.4 467.7,521.9 469.2,521.3 470.7,520.6 472.2,519.8 473.6,518.9 475.1,518.0 476.6,516.9 478.1,515.8 479.6,514.7 481.1,513.6 482.6,512.4 484.0,511.2 485.5,510.1 487.0,508.9 488.5,507.8 490.0,506.8 491.5,505.7 493.0,504.6 494.5,503.5 495.9,502.3 497.4,501.0 498.9,499.8 500.4,498.5 501.9,497.1 503.4,495.8 504.9,494.4 506.3,493.0 507.8,491.6 509.3,490.2 510.8,488.7 512.3,487.3 513.8,485.8 515.3,484.4 516.7,482.9 518.2,481.4 519.7,480.0 521.2,478.6 522.7,477.1 524.2,475.7 525.7,474.3 527.1,473.0 528.6,471.6 530.1,470.3 531.6,469.0 533.1,467.7 534.6,466.5 536.1,465.3 537.5,464.2 539.0,463.0 540.5,461.9 542.0,460.7 543.5,459.6 545.0,458.4 546.5,457.3 547.9,456.2 549.4,455.1 550.9,454.0 552.4,452.9 553.9,451.8 555.4,450.7 556.9,449.6 558.3,448.6 559.8,447.5 561.3,446.5 562.8,445.4 564.3,444.4 565.8,443.4 567.3,442.4 568.8,441.4 570.2,440.5 571.7,439.5 573.2,438.6 574.7,437.6 576.2,436.7 577.7,435.8 579.2,434.9 580.6,434.1 582.1,433.2 583.6,432.3 585.1,431.4 586.6,430.4 588.1,429.4 589.6,428.4 591.0,427.4 592.5,426.4 594.0,425.5 595.5,424.6 597.0,423.7 598.5,422.9 600.0,422.1 601.4,421.5 602.9,420.9 604.4,420.4 605.9,420.1 607.4,419.9 608.9,419.8 610.4,419.8 611.8,419.9 613.3,420.0 614.8,420.2 616.3,420.4 617.8,420.7 619.3,420.9 620.8,421.2 622.2,421.4 623.7,421.7 625.2,421.9 626.7,422.0 628.2,422.1 629.7,422.3 631.2,422.4 632.6,422.5 634.1,422.6 635.6,422.7 637.1,422.8 638.6,422.9 640.1,423.1 641.6,423.2 643.1,423.3 644.5,423.4 646.0,423.5 647.5,423.6 649.0,423.6 650.5,423.7 652.0,423.8 653.5,423.9 654.9,424.0 656.4,424.0 657.9,424.1 659.4,424.1 660.9,424.2 662.4,424.2 663.9,424.3 665.3,424.3 666.8,424.3 668.3,424.4 669.8,424.4" fill="none" stroke="#737373" stroke-width="7" stroke-linejoin="round" stroke-linecap="butt"/>
<polyline points="224.0,434.7 225.5,434.7 227.0,434.7 228.5,434.7 229.9,434.7 231.4,434.8 232.9,434.8 234.4,434.9 235.9,435.0 237.4,435.0 238.9,435.1 240.3,435.2 241.8,435.3 243.3,435.4 244.8,435.5 246.3,435.6 247.8,435.7 249.3,435.8 250.7,436.0 252.2,436.1 253.7,436.2 255.2,436.4 256.7,436.5 258.2,436.7 259.7,436.8 261.1,437.0 262.6,437.2 264.1,437.5 265.6,437.8 267.1,438.2 268.6,438.6 270.1,439.1 271.6,439.6 273.0,440.1 274.5,440.7 276.0,441.4 277.5,442.0 279.0,442.7 280.5,443.4 282.0,444.2 283.4,445.0 284.9,445.7 286.4,446.6 287.9,447.4 289.4,448.2 290.9,449.0 292.4,449.9 293.8,450.7 295.3,451.5 296.8,452.4 298.3,453.2 299.8,454.0 301.3,454.8 302.8,455.6 304.2,456.4 305.7,457.1 307.2,457.9 308.7,458.6 310.2,459.3 311.7,460.1 313.2,460.9 314.6,461.6 316.1,462.4 317.6,463.2 319.1,464.0 320.6,464.8 322.1,465.7 323.6,466.5 325.0,467.3 326.5,468.1 328.0,468.9 329.5,469.8 331.0,470.6 332.5,471.4 334.0,472.2 335.4,473.0 336.9,473.8 338.4,474.6 339.9,475.4 341.4,476.2 342.9,477.0 344.4,477.7 345.9,478.5 347.3,479.2 348.8,479.9 350.3,480.6 351.8,481.3 353.3,482.0 354.8,482.7 356.3,483.3 357.7,484.0 359.2,484.6 360.7,485.2 362.2,485.8 363.7,486.4 365.2,487.1 366.7,487.6 368.1,488.2 369.6,488.8 371.1,489.4 372.6,490.0 374.1,490.6 375.6,491.1 377.1,491.7 378.5,492.3 380.0,492.8 381.5,493.4 383.0,494.0 384.5,494.5 386.0,495.1 387.5,495.7 388.9,496.2 390.4,496.8 391.9,497.4 393.4,498.0 394.9,498.6 396.4,499.2 397.9,499.8 399.3,500.4 400.8,501.1 402.3,501.8 403.8,502.5 405.3,503.3 406.8,504.1 408.3,504.9 409.8,505.7 411.2,506.5 412.7,507.3 414.2,508.2 415.7,509.0 417.2,509.9 418.7,510.7 420.2,511.5 421.6,512.3 423.1,513.1 424.6,513.8 426.1,514.6 427.6,515.2 429.1,515.9 430.6,516.5 432.0,517.1 433.5,517.6 435.0,518.0 436.5,518.4 438.0,518.8 439.5,519.1 441.0,519.3 442.4,519.4 443.9,519.4 445.4,519.4 446.9,519.4 448.4,519.4 449.9,519.4 451.4,519.4 452.8,519.4 454.3,519.4 455.8,519.4 457.3,519.4 458.8,519.4 460.3,519.4 461.8,519.4 463.2,519.4 464.7,519.3 466.2,518.9 467.7,518.5 469.2,518.0 470.7,517.3 472.2,516.6 473.6,515.7 475.1,514.8 476.6,513.9 478.1,512.8 479.6,511.8 481.1,510.7 482.6,509.7 484.0,508.6 485.5,507.5 487.0,506.5 488.5,505.5 490.0,504.5 491.5,503.5 493.0,502.6 494.5,501.5 495.9,500.5 497.4,499.4 498.9,498.4 500.4,497.2 501.9,496.1 503.4,495.0 504.9,493.8 506.3,492.6 507.8,491.4 509.3,490.2 510.8,489.0 512.3,487.8 513.8,486.5 515.3,485.3 516.7,484.1 518.2,482.9 519.7,481.6 521.2,480.4 522.7,479.2 524.2,478.0 525.7,476.8 527.1,475.6 528.6,474.4 530.1,473.2 531.6,472.1 533.1,471.0 534.6,469.9 536.1,468.8 537.5,467.7 539.0,466.6 540.5,465.5 542.0,464.4 543.5,463.3 545.0,462.2 546.5,461.1 547.9,460.0 549.4,458.9 550.9,457.8 552.4,456.7 553.9,455.6 555.4,454.5 556.9,453.4 558.3,452.3 559.8,451.3 561.3,450.2 562.8,449.2 564.3,448.2 565.8,447.2 567.3,446.2 568.8,445.3 570.2,444.3 571.7,443.4 573.2,442.5 574.7,441.7 576.2,440.9 577.7,440.1 579.2,439.3 580.6,438.5 582.1,437.8 583.6,437.1 585.1,436.4 586.6,435.6 588.1,434.9 589.6,434.1 591.0,433.4 592.5,432.6 594.0,431.9 595.5,431.2 597.0,430.6 598.5,430.0 600.0,429.5 601.4,429.0 602.9,428.6 604.4,428.3 605.9,428.0 607.4,427.9 608.9,427.8 610.4,427.8 611.8,427.8 613.3,427.9 614.8,428.0 616.3,428.1 617.8,428.2 619.3,428.3 620.8,428.4 622.2,428.5 623.7,428.6 625.2,428.8 626.7,428.9 628.2,429.0 629.7,429.1 631.2,429.2 632.6,429.4 634.1,429.5 635.6,429.6 637.1,429.8 638.6,429.9 640.1,430.0 641.6,430.2 643.1,430.3 644.5,430.5 646.0,430.6 647.5,430.8 649.0,430.9 650.5,431.1 652.0,431.3 653.5,431.4 654.9,431.6 656.4,431.8 657.9,432.0 659.4,432.2 660.9,432.3 662.4,432.5 663.9,432.7 665.3,432.9 666.8,433.1 668.3,433.3 669.8,433.5" fill="none" stroke="#f59a3c" stroke-width="7" stroke-linejoin="round" stroke-linecap="butt"/>
<text x="645.20" y="390.70" font-size="28.84" font-weight="normal" fill="#111" stroke="#111" stroke-width="1.1" textLength="15.55" lengthAdjust="spacingAndGlyphs">D</text>
<text x="166.00" y="405.53" font-size="27.18" font-weight="normal" fill="#5e5e5e" stroke="#5e5e5e" stroke-width="0.4" textLength="27.55" lengthAdjust="spacingAndGlyphs">50</text>
<text x="166.00" y="450.74" font-size="26.06" font-weight="normal" fill="#5e5e5e" stroke="#5e5e5e" stroke-width="0.4" textLength="27.55" lengthAdjust="spacingAndGlyphs">30</text>
<text x="166.00" y="498.64" font-size="26.06" font-weight="normal" fill="#5e5e5e" stroke="#5e5e5e" stroke-width="0.4" textLength="27.55" lengthAdjust="spacingAndGlyphs">10</text>
<text x="157.60" y="543.74" font-size="25.92" font-weight="normal" fill="#5e5e5e" stroke="#5e5e5e" stroke-width="0.4" textLength="36.68" lengthAdjust="spacingAndGlyphs">-10</text>
<text x="157.60" y="591.73" font-size="27.32" font-weight="normal" fill="#5e5e5e" stroke="#5e5e5e" stroke-width="0.4" textLength="36.68" lengthAdjust="spacingAndGlyphs">-30</text>
<line x1="223" y1="641.9" x2="670.5" y2="641.9" stroke="#cbcbcb" stroke-width="1.8"/>
<line x1="223" y1="682.4" x2="670.5" y2="682.4" stroke="#cbcbcb" stroke-width="1.8"/>
<line x1="223" y1="720.2" x2="670.5" y2="720.2" stroke="#cbcbcb" stroke-width="1.8"/>
<line x1="223" y1="758.7" x2="670.5" y2="758.7" stroke="#cbcbcb" stroke-width="1.8"/>
<line x1="223" y1="798.3" x2="670.5" y2="798.3" stroke="#cbcbcb" stroke-width="1.8"/>
<line x1="223" y1="836.6" x2="670.5" y2="836.6" stroke="#cbcbcb" stroke-width="1.8"/>
<rect x="464.7" y="647.6" width="30.900000000000034" height="189.0" fill="#e4e4e4"/>
<path d="M224.0 692.5V712.5M228.5 694.3V714.3M232.9 696.2V716.2M237.4 698.2V718.2M241.8 700.3V720.3M246.3 702.8V722.8M250.7 706.0V726.0M255.2 709.2V729.2M259.7 711.7V731.7M264.1 713.1V733.1M268.6 713.2V733.2M273.0 713.2V733.2M277.5 713.2V733.2M282.0 713.2V733.2M286.4 713.2V733.2M290.9 713.1V733.1M295.3 712.4V732.4M299.8 711.3V731.3M304.2 709.8V729.8M308.7 708.3V728.3M313.2 706.7V726.7M317.6 705.3V725.3M322.1 704.1V724.1M326.5 702.8V722.8M331.0 701.6V721.6M335.4 700.3V720.3M339.9 699.1V719.1M344.4 697.9V717.9M348.8 696.8V716.8M353.3 695.8V715.8M357.7 694.9V714.9M362.2 693.9V713.9M366.7 692.9V712.9M371.1 692.0V712.0M375.6 691.2V711.2M380.0 690.7V710.7M384.5 690.3V710.3M388.9 690.3V710.3M393.4 690.3V710.3M397.9 690.3V710.3M402.3 690.3V710.3M406.8 690.3V710.3M411.2 690.3V710.3M415.7 690.3V710.3M420.2 690.3V710.3M424.6 690.5V710.5M429.1 691.2V711.2M433.5 692.2V712.2M438.0 693.6V713.6M442.4 695.0V715.0M446.9 696.6V716.6M451.4 698.6V718.6M455.8 701.0V721.0M460.3 703.8V723.8M464.7 706.9V726.9M469.2 710.4V730.4M473.6 714.8V734.8M478.1 719.9V739.9M482.6 725.5V745.5M487.0 731.3V751.3M491.5 737.0V757.0M495.9 743.6V763.6M500.4 750.6V770.6M504.9 757.4V777.4M509.3 763.4V783.4M513.8 767.9V787.9M518.2 771.8V791.8M522.7 775.6V795.6M527.1 779.0V799.0M531.6 781.9V801.9M536.1 784.1V804.1M540.5 785.2V805.2M545.0 785.2V805.2M549.4 784.2V804.2M553.9 782.6V802.6M558.3 780.9V800.9M562.8 779.2V799.2M567.3 777.3V797.3M571.7 775.2V795.2M576.2 772.7V792.7M580.6 769.9V789.9M585.1 766.6V786.6M589.6 762.3V782.3M594.0 757.3V777.3M598.5 751.9V771.9M602.9 746.1V766.1M607.4 739.9V759.9M611.8 732.5V752.5M616.3 724.6V744.6M620.8 716.8V736.8M625.2 710.1V730.1M629.7 704.9V724.9M634.1 699.7V719.7M638.6 694.8V714.8M643.1 690.9V710.9M647.5 688.5V708.5M652.0 688.0V708.0M656.4 688.1V708.1M660.9 688.7V708.7M665.3 690.1V710.1M669.8 692.6V712.6" stroke="#f7d0b0" stroke-width="1.2" fill="none"/>
<path d="M224.0 691.5V713.5M228.5 693.2V715.2M232.9 695.1V717.1M237.4 697.1V719.1M241.8 699.3V721.3M246.3 701.9V723.9M250.7 705.4V727.4M255.2 708.9V730.9M259.7 711.7V733.7M264.1 713.3V735.3M268.6 713.3V735.3M273.0 713.3V735.3M277.5 713.2V735.2M282.0 713.1V735.1M286.4 713.0V735.0M290.9 712.7V734.7M295.3 711.9V733.9M299.8 710.8V732.8M304.2 709.3V731.3M308.7 707.7V729.7M313.2 706.2V728.2M317.6 704.8V726.8M322.1 703.5V725.5M326.5 702.2V724.2M331.0 700.8V722.8M335.4 699.5V721.5M339.9 698.2V720.2M344.4 697.0V719.0M348.8 695.8V717.8M353.3 694.8V716.8M357.7 693.9V715.9M362.2 692.9V714.9M366.7 691.9V713.9M371.1 691.0V713.0M375.6 690.2V712.2M380.0 689.6V711.6M384.5 689.3V711.3M388.9 689.3V711.3M393.4 689.3V711.3M397.9 689.3V711.3M402.3 689.3V711.3M406.8 689.3V711.3M411.2 689.3V711.3M415.7 689.3V711.3M420.2 689.3V711.3M424.6 689.5V711.5M429.1 690.2V712.2M433.5 691.4V713.4M438.0 692.8V714.8M442.4 694.4V716.4M446.9 696.2V718.2M451.4 698.6V720.6M455.8 701.7V723.7M460.3 705.2V727.2M464.7 709.0V731.0M469.2 713.2V735.2M473.6 718.3V740.3M478.1 724.1V746.1M482.6 730.3V752.3M487.0 736.7V758.7M491.5 743.1V765.1M495.9 750.2V772.2M500.4 757.7V779.7M504.9 765.0V787.0M509.3 771.3V793.3M513.8 776.1V798.1M518.2 780.2V802.2M522.7 784.3V806.3M527.1 788.0V810.0M531.6 791.0V813.0M536.1 793.3V815.3M540.5 794.5V816.5M545.0 794.5V816.5M549.4 793.3V815.3M553.9 791.3V813.3M558.3 789.1V811.1M562.8 786.6V808.6M567.3 783.4V805.4M571.7 779.8V801.8M576.2 775.7V797.7M580.6 771.5V793.5M585.1 767.1V789.1M589.6 762.1V784.1M594.0 756.8V778.8M598.5 751.2V773.2M602.9 745.2V767.2M607.4 738.8V760.8M611.8 731.3V753.3M616.3 723.4V745.4M620.8 715.7V737.7M625.2 709.1V731.1M629.7 703.9V725.9M634.1 698.7V720.7M638.6 693.8V715.8M643.1 689.9V711.9M647.5 687.5V709.5M652.0 687.0V709.0M656.4 687.1V709.1M660.9 687.7V709.7M665.3 689.1V711.1M669.8 691.6V713.6" stroke="#bdbdbd" stroke-width="1.2" fill="none"/>
<polyline points="224.0,702.5 225.5,703.1 227.0,703.6 228.5,704.2 229.9,704.8 231.4,705.5 232.9,706.1 234.4,706.8 235.9,707.4 237.4,708.1 238.9,708.8 240.3,709.5 241.8,710.3 243.3,711.0 244.8,711.9 246.3,712.9 247.8,714.0 249.3,715.2 250.7,716.4 252.2,717.6 253.7,718.7 255.2,719.9 256.7,720.9 258.2,721.9 259.7,722.7 261.1,723.4 262.6,723.9 264.1,724.3 265.6,724.3 267.1,724.3 268.6,724.3 270.1,724.3 271.6,724.3 273.0,724.3 274.5,724.3 276.0,724.2 277.5,724.2 279.0,724.2 280.5,724.1 282.0,724.1 283.4,724.1 284.9,724.0 286.4,724.0 287.9,723.9 289.4,723.8 290.9,723.7 292.4,723.5 293.8,723.2 295.3,722.9 296.8,722.6 298.3,722.2 299.8,721.8 301.3,721.3 302.8,720.8 304.2,720.3 305.7,719.8 307.2,719.3 308.7,718.7 310.2,718.2 311.7,717.7 313.2,717.2 314.6,716.7 316.1,716.2 317.6,715.8 319.1,715.4 320.6,714.9 322.1,714.5 323.6,714.1 325.0,713.6 326.5,713.2 328.0,712.7 329.5,712.3 331.0,711.8 332.5,711.4 334.0,710.9 335.4,710.5 336.9,710.0 338.4,709.6 339.9,709.2 341.4,708.8 342.9,708.4 344.4,708.0 345.9,707.6 347.3,707.2 348.8,706.8 350.3,706.5 351.8,706.2 353.3,705.8 354.8,705.5 356.3,705.2 357.7,704.9 359.2,704.5 360.7,704.2 362.2,703.9 363.7,703.5 365.2,703.2 366.7,702.9 368.1,702.6 369.6,702.3 371.1,702.0 372.6,701.7 374.1,701.4 375.6,701.2 377.1,701.0 378.5,700.8 380.0,700.6 381.5,700.5 383.0,700.4 384.5,700.3 386.0,700.3 387.5,700.3 388.9,700.3 390.4,700.3 391.9,700.3 393.4,700.3 394.9,700.3 396.4,700.3 397.9,700.3 399.3,700.3 400.8,700.3 402.3,700.3 403.8,700.3 405.3,700.3 406.8,700.3 408.3,700.3 409.8,700.3 411.2,700.3 412.7,700.3 414.2,700.3 415.7,700.3 417.2,700.3 418.7,700.3 420.2,700.3 421.6,700.3 423.1,700.4 424.6,700.5 426.1,700.7 427.6,700.9 429.1,701.2 430.6,701.5 432.0,701.9 433.5,702.4 435.0,702.8 436.5,703.3 438.0,703.8 439.5,704.3 441.0,704.9 442.4,705.4 443.9,706.0 445.4,706.5 446.9,707.2 448.4,707.9 449.9,708.8 451.4,709.6 452.8,710.6 454.3,711.6 455.8,712.7 457.3,713.8 458.8,715.0 460.3,716.2 461.8,717.4 463.2,718.7 464.7,720.0 466.2,721.3 467.7,722.7 469.2,724.2 470.7,725.8 472.2,727.5 473.6,729.3 475.1,731.1 476.6,733.1 478.1,735.1 479.6,737.1 481.1,739.2 482.6,741.3 484.0,743.5 485.5,745.6 487.0,747.7 488.5,749.9 490.0,752.0 491.5,754.1 493.0,756.4 494.5,758.7 495.9,761.2 497.4,763.7 498.9,766.2 500.4,768.7 501.9,771.2 503.4,773.6 504.9,776.0 506.3,778.2 507.8,780.4 509.3,782.3 510.8,784.1 512.3,785.7 513.8,787.1 515.3,788.5 516.7,789.9 518.2,791.2 519.7,792.6 521.2,794.0 522.7,795.3 524.2,796.6 525.7,797.8 527.1,799.0 528.6,800.1 530.1,801.1 531.6,802.0 533.1,802.9 534.6,803.7 536.1,804.3 537.5,804.8 539.0,805.3 540.5,805.5 542.0,805.7 543.5,805.6 545.0,805.5 546.5,805.2 547.9,804.8 549.4,804.3 550.9,803.7 552.4,803.0 553.9,802.3 555.4,801.6 556.9,800.8 558.3,800.1 559.8,799.3 561.3,798.5 562.8,797.6 564.3,796.6 565.8,795.6 567.3,794.4 568.8,793.3 570.2,792.0 571.7,790.8 573.2,789.4 574.7,788.1 576.2,786.7 577.7,785.3 579.2,783.9 580.6,782.5 582.1,781.1 583.6,779.6 585.1,778.1 586.6,776.5 588.1,774.8 589.6,773.1 591.0,771.4 592.5,769.6 594.0,767.8 595.5,766.0 597.0,764.1 598.5,762.2 600.0,760.2 601.4,758.2 602.9,756.2 604.4,754.2 605.9,752.1 607.4,749.8 608.9,747.4 610.4,744.9 611.8,742.3 613.3,739.7 614.8,737.0 616.3,734.4 617.8,731.7 619.3,729.2 620.8,726.7 622.2,724.4 623.7,722.1 625.2,720.1 626.7,718.2 628.2,716.6 629.7,714.9 631.2,713.1 632.6,711.4 634.1,709.7 635.6,708.0 637.1,706.3 638.6,704.8 640.1,703.3 641.6,702.0 643.1,700.9 644.5,699.9 646.0,699.1 647.5,698.5 649.0,698.1 650.5,698.0 652.0,698.0 653.5,698.0 654.9,698.1 656.4,698.1 657.9,698.3 659.4,698.5 660.9,698.7 662.4,699.1 663.9,699.6 665.3,700.1 666.8,700.8 668.3,701.6 669.8,702.6" fill="none" stroke="#737373" stroke-width="7" stroke-linejoin="round" stroke-linecap="butt"/>
<polyline points="224.0,702.5 225.5,703.1 227.0,703.7 228.5,704.3 229.9,704.9 231.4,705.5 232.9,706.2 234.4,706.8 235.9,707.5 237.4,708.2 238.9,708.9 240.3,709.6 241.8,710.3 243.3,711.0 244.8,711.9 246.3,712.8 247.8,713.8 249.3,714.9 250.7,716.0 252.2,717.1 253.7,718.1 255.2,719.2 256.7,720.1 258.2,721.0 259.7,721.7 261.1,722.4 262.6,722.8 264.1,723.1 265.6,723.2 267.1,723.2 268.6,723.2 270.1,723.2 271.6,723.2 273.0,723.2 274.5,723.2 276.0,723.2 277.5,723.2 279.0,723.2 280.5,723.2 282.0,723.2 283.4,723.2 284.9,723.2 286.4,723.2 287.9,723.2 289.4,723.2 290.9,723.1 292.4,722.9 293.8,722.7 295.3,722.4 296.8,722.1 298.3,721.7 299.8,721.3 301.3,720.8 302.8,720.3 304.2,719.8 305.7,719.3 307.2,718.8 308.7,718.3 310.2,717.7 311.7,717.2 313.2,716.7 314.6,716.2 316.1,715.7 317.6,715.3 319.1,714.9 320.6,714.5 322.1,714.1 323.6,713.7 325.0,713.3 326.5,712.8 328.0,712.4 329.5,712.0 331.0,711.6 332.5,711.1 334.0,710.7 335.4,710.3 336.9,709.9 338.4,709.5 339.9,709.1 341.4,708.7 342.9,708.3 344.4,707.9 345.9,707.5 347.3,707.2 348.8,706.8 350.3,706.5 351.8,706.2 353.3,705.8 354.8,705.5 356.3,705.2 357.7,704.9 359.2,704.5 360.7,704.2 362.2,703.9 363.7,703.5 365.2,703.2 366.7,702.9 368.1,702.6 369.6,702.3 371.1,702.0 372.6,701.7 374.1,701.5 375.6,701.2 377.1,701.0 378.5,700.8 380.0,700.7 381.5,700.5 383.0,700.4 384.5,700.3 386.0,700.3 387.5,700.3 388.9,700.3 390.4,700.3 391.9,700.3 393.4,700.3 394.9,700.3 396.4,700.3 397.9,700.3 399.3,700.3 400.8,700.3 402.3,700.3 403.8,700.3 405.3,700.3 406.8,700.3 408.3,700.3 409.8,700.3 411.2,700.3 412.7,700.3 414.2,700.3 415.7,700.3 417.2,700.3 418.7,700.3 420.2,700.3 421.6,700.3 423.1,700.3 424.6,700.5 426.1,700.6 427.6,700.9 429.1,701.2 430.6,701.5 432.0,701.8 433.5,702.2 435.0,702.6 436.5,703.1 438.0,703.6 439.5,704.0 441.0,704.5 442.4,705.0 443.9,705.5 445.4,706.0 446.9,706.6 448.4,707.2 449.9,707.9 451.4,708.6 452.8,709.3 454.3,710.2 455.8,711.0 457.3,711.9 458.8,712.8 460.3,713.8 461.8,714.8 463.2,715.8 464.7,716.9 466.2,718.0 467.7,719.2 469.2,720.4 470.7,721.8 472.2,723.2 473.6,724.8 475.1,726.4 476.6,728.2 478.1,729.9 479.6,731.8 481.1,733.6 482.6,735.5 484.0,737.4 485.5,739.3 487.0,741.3 488.5,743.2 490.0,745.1 491.5,747.0 493.0,749.1 494.5,751.3 495.9,753.6 497.4,755.9 498.9,758.2 500.4,760.6 501.9,762.9 503.4,765.2 504.9,767.4 506.3,769.5 507.8,771.5 509.3,773.4 510.8,775.1 512.3,776.6 513.8,777.9 515.3,779.2 516.7,780.5 518.2,781.8 519.7,783.1 521.2,784.3 522.7,785.6 524.2,786.8 525.7,787.9 527.1,789.0 528.6,790.1 530.1,791.0 531.6,791.9 533.1,792.7 534.6,793.5 536.1,794.1 537.5,794.6 539.0,795.0 540.5,795.2 542.0,795.4 543.5,795.3 545.0,795.2 546.5,795.0 547.9,794.6 549.4,794.2 550.9,793.7 552.4,793.2 553.9,792.6 555.4,792.0 556.9,791.4 558.3,790.9 559.8,790.4 561.3,789.8 562.8,789.2 564.3,788.6 565.8,788.0 567.3,787.3 568.8,786.6 570.2,785.9 571.7,785.2 573.2,784.4 574.7,783.6 576.2,782.7 577.7,781.9 579.2,780.9 580.6,779.9 582.1,778.9 583.6,777.8 585.1,776.6 586.6,775.2 588.1,773.8 589.6,772.3 591.0,770.7 592.5,769.0 594.0,767.3 595.5,765.5 597.0,763.7 598.5,761.9 600.0,760.0 601.4,758.1 602.9,756.1 604.4,754.2 605.9,752.2 607.4,749.9 608.9,747.6 610.4,745.1 611.8,742.5 613.3,739.9 614.8,737.2 616.3,734.6 617.8,731.9 619.3,729.3 620.8,726.8 622.2,724.4 623.7,722.2 625.2,720.1 626.7,718.2 628.2,716.6 629.7,714.9 631.2,713.1 632.6,711.4 634.1,709.7 635.6,708.0 637.1,706.3 638.6,704.8 640.1,703.3 641.6,702.0 643.1,700.9 644.5,699.9 646.0,699.1 647.5,698.5 649.0,698.1 650.5,698.0 652.0,698.0 653.5,698.0 654.9,698.1 656.4,698.1 657.9,698.3 659.4,698.5 660.9,698.7 662.4,699.1 663.9,699.6 665.3,700.1 666.8,700.8 668.3,701.6 669.8,702.6" fill="none" stroke="#f59a3c" stroke-width="7" stroke-linejoin="round" stroke-linecap="butt"/>
<text x="642.30" y="670.81" font-size="29.15" font-weight="normal" fill="#111" stroke="#111" stroke-width="1.1" textLength="17.95" lengthAdjust="spacingAndGlyphs">G</text>
<text x="166.00" y="649.64" font-size="25.92" font-weight="normal" fill="#5e5e5e" stroke="#5e5e5e" stroke-width="0.4" textLength="27.55" lengthAdjust="spacingAndGlyphs">20</text>
<text x="179.70" y="688.34" font-size="25.92" font-weight="normal" fill="#5e5e5e" stroke="#5e5e5e" stroke-width="0.4" textLength="13.70" lengthAdjust="spacingAndGlyphs">0</text>
<text x="157.60" y="727.94" font-size="25.92" font-weight="normal" fill="#5e5e5e" stroke="#5e5e5e" stroke-width="0.4" textLength="36.68" lengthAdjust="spacingAndGlyphs">-20</text>
<text x="157.60" y="766.74" font-size="26.06" font-weight="normal" fill="#5e5e5e" stroke="#5e5e5e" stroke-width="0.4" textLength="36.68" lengthAdjust="spacingAndGlyphs">-40</text>
<text x="157.60" y="804.44" font-size="25.92" font-weight="normal" fill="#5e5e5e" stroke="#5e5e5e" stroke-width="0.4" textLength="36.68" lengthAdjust="spacingAndGlyphs">-60</text>
<text x="157.60" y="844.93" font-size="27.18" font-weight="normal" fill="#5e5e5e" stroke="#5e5e5e" stroke-width="0.4" textLength="36.68" lengthAdjust="spacingAndGlyphs">-80</text>
<line x1="219.6" y1="889.2" x2="670.9" y2="889.2" stroke="#cbcbcb" stroke-width="1.8"/>
<line x1="219.6" y1="949.9" x2="670.9" y2="949.9" stroke="#cbcbcb" stroke-width="1.8"/>
<line x1="219.6" y1="1012.4" x2="670.9" y2="1012.4" stroke="#cbcbcb" stroke-width="1.8"/>
<line x1="219.6" y1="1073.6" x2="670.9" y2="1073.6" stroke="#cbcbcb" stroke-width="1.8"/>
<rect x="464.7" y="890" width="30.900000000000034" height="183.5999999999999" fill="#e4e4e4"/>
<path d="M221.9 975.4V995.4M226.4 980.4V1000.4M230.9 984.4V1004.4M235.3 987.3V1007.3M239.8 988.9V1008.9M244.3 989.0V1009.0M248.8 987.8V1007.8M253.3 985.9V1005.9M257.7 983.6V1003.6M262.2 981.7V1001.7M266.7 979.7V999.7M271.2 977.7V997.7M275.6 975.6V995.6M280.1 973.5V993.5M284.6 971.6V991.6M289.1 969.6V989.6M293.6 967.6V987.6M298.0 965.8V985.8M302.5 964.1V984.1M307.0 962.7V982.7M311.5 961.5V981.5M316.0 960.4V980.4M320.4 959.5V979.5M324.9 958.6V978.6M329.4 957.7V977.7M333.9 956.9V976.9M338.4 956.1V976.1M342.8 955.3V975.3M347.3 954.6V974.6M351.8 953.7V973.7M356.3 952.9V972.9M360.7 952.0V972.0M365.2 951.2V971.2M369.7 950.3V970.3M374.2 949.5V969.5M378.7 948.6V968.6M383.1 947.9V967.9M387.6 947.1V967.1M392.1 946.4V966.4M396.6 945.8V965.8M401.1 945.2V965.2M405.5 944.6V964.6M410.0 944.1V964.1M414.5 943.6V963.6M419.0 943.3V963.3M423.5 943.3V963.3M427.9 943.6V963.6M432.4 944.0V964.0M436.9 944.5V964.5M441.4 945.2V965.2M445.9 945.9V965.9M450.3 947.1V967.1M454.8 948.7V968.7M459.3 951.5V971.5M463.8 955.9V975.9M468.2 960.7V980.7M472.7 965.8V985.8M477.2 971.5V991.5M481.7 977.7V997.7M486.2 984.5V1004.5M490.6 989.8V1009.8M495.1 994.3V1014.3M499.6 998.1V1018.1M504.1 1000.3V1020.3M508.6 1000.1V1020.1M513.0 998.2V1018.2M517.5 996.2V1016.2M522.0 994.0V1014.0M526.5 991.5V1011.5M531.0 989.2V1009.2M535.4 987.0V1007.0M539.9 985.1V1005.1M544.4 983.3V1003.3M548.9 981.6V1001.6M553.3 979.8V999.8M557.8 978.0V998.0M562.3 976.0V996.0M566.8 973.6V993.6M571.3 971.3V991.3M575.7 969.2V989.2M580.2 967.7V987.7M584.7 966.8V986.8M589.2 966.0V986.0M593.7 965.4V985.4M598.1 965.1V985.1M602.6 965.2V985.2M607.1 965.8V985.8M611.6 966.7V986.7M616.1 967.9V987.9M620.5 969.1V989.1M625.0 970.3V990.3M629.5 971.3V991.3M634.0 972.3V992.3M638.4 973.3V993.3M642.9 974.3V994.3M647.4 975.1V995.1M651.9 975.5V995.5M656.4 975.9V995.9M660.8 976.2V996.2M665.3 976.4V996.4M669.8 976.5V996.5" stroke="#f7d0b0" stroke-width="1.2" fill="none"/>
<path d="M221.9 969.4V1001.4M226.4 975.8V1007.8M230.9 980.8V1012.8M235.3 984.3V1016.3M239.8 986.2V1018.2M244.3 986.4V1018.4M248.8 984.6V1016.6M253.3 981.6V1013.6M257.7 978.3V1010.3M262.2 975.4V1007.4M266.7 972.7V1004.7M271.2 969.8V1001.8M275.6 967.0V999.0M280.1 964.4V996.4M284.6 962.1V994.1M289.1 960.0V992.0M293.6 958.1V990.1M298.0 956.3V988.3M302.5 954.7V986.7M307.0 953.2V985.2M311.5 952.0V984.0M316.0 950.8V982.8M320.4 949.6V981.6M324.9 948.6V980.6M329.4 947.6V979.6M333.9 946.6V978.6M338.4 945.7V977.7M342.8 944.8V976.8M347.3 944.0V976.0M351.8 943.2V975.2M356.3 942.3V974.3M360.7 941.5V973.5M365.2 940.7V972.7M369.7 939.9V971.9M374.2 939.2V971.2M378.7 938.5V970.5M383.1 937.8V969.8M387.6 937.2V969.2M392.1 936.7V968.7M396.6 936.3V968.3M401.1 936.0V968.0M405.5 935.7V967.7M410.0 935.4V967.4M414.5 935.2V967.2M419.0 935.0V967.0M423.5 935.1V967.1M427.9 935.5V967.5M432.4 936.3V968.4M436.9 937.4V969.5M441.4 938.7V970.8M445.9 940.1V972.4M450.3 942.2V974.9M454.8 945.3V978.4M459.3 950.1V984.0M463.8 957.2V992.2M468.2 964.9V1001.5M472.7 973.9V1012.5M477.2 982.9V1023.9M481.7 991.2V1034.8M486.2 999.3V1045.3M490.6 1002.9V1051.0M495.1 1003.9V1053.4M499.6 1004.7V1054.7M504.1 1005.3V1054.8M508.6 1004.7V1052.8M513.0 1003.5V1049.5M517.5 1002.3V1045.8M522.0 1000.5V1041.5M526.5 998.3V1036.9M531.0 995.8V1032.4M535.4 993.3V1028.3M539.9 990.7V1024.6M544.4 988.0V1021.1M548.9 985.1V1017.7M553.3 982.1V1014.4M557.8 979.0V1011.2M562.3 975.8V1007.9M566.8 972.4V1004.5M571.3 969.0V1001.0M575.7 965.9V997.9M580.2 963.2V995.2M584.7 960.9V992.9M589.2 958.7V990.7M593.7 956.8V988.8M598.1 955.7V987.7M602.6 955.7V987.7M607.1 956.1V988.1M611.6 956.8V988.8M616.1 957.7V989.7M620.5 958.7V990.7M625.0 959.7V991.7M629.5 960.7V992.7M634.0 962.0V994.0M638.4 963.5V995.5M642.9 964.9V996.9M647.4 965.8V997.8M651.9 965.9V997.9M656.4 965.1V997.1M660.8 964.9V996.9M665.3 966.5V998.5M669.8 969.4V1001.4" stroke="#bdbdbd" stroke-width="1.2" fill="none"/>
<polyline points="221.9,985.4 223.4,987.7 224.9,989.8 226.4,991.8 227.9,993.6 229.4,995.3 230.9,996.8 232.4,998.2 233.8,999.3 235.3,1000.3 236.8,1001.2 238.3,1001.8 239.8,1002.2 241.3,1002.5 242.8,1002.6 244.3,1002.4 245.8,1002.0 247.3,1001.4 248.8,1000.6 250.3,999.7 251.8,998.7 253.3,997.6 254.7,996.5 256.2,995.4 257.7,994.3 259.2,993.2 260.7,992.3 262.2,991.4 263.7,990.5 265.2,989.6 266.7,988.7 268.2,987.7 269.7,986.8 271.2,985.8 272.7,984.9 274.2,983.9 275.6,983.0 277.1,982.1 278.6,981.2 280.1,980.4 281.6,979.6 283.1,978.8 284.6,978.1 286.1,977.4 287.6,976.7 289.1,976.0 290.6,975.4 292.1,974.7 293.6,974.1 295.1,973.5 296.6,972.9 298.0,972.3 299.5,971.7 301.0,971.2 302.5,970.7 304.0,970.2 305.5,969.7 307.0,969.2 308.5,968.8 310.0,968.4 311.5,968.0 313.0,967.5 314.5,967.1 316.0,966.8 317.5,966.4 318.9,966.0 320.4,965.6 321.9,965.3 323.4,964.9 324.9,964.6 326.4,964.2 327.9,963.9 329.4,963.6 330.9,963.2 332.4,962.9 333.9,962.6 335.4,962.3 336.9,962.0 338.4,961.7 339.8,961.4 341.3,961.1 342.8,960.8 344.3,960.5 345.8,960.3 347.3,960.0 348.8,959.7 350.3,959.4 351.8,959.2 353.3,958.9 354.8,958.6 356.3,958.3 357.8,958.1 359.3,957.8 360.7,957.5 362.2,957.3 363.7,957.0 365.2,956.7 366.7,956.5 368.2,956.2 369.7,955.9 371.2,955.7 372.7,955.4 374.2,955.2 375.7,954.9 377.2,954.7 378.7,954.5 380.2,954.2 381.7,954.0 383.1,953.8 384.6,953.6 386.1,953.4 387.6,953.2 389.1,953.0 390.6,952.9 392.1,952.7 393.6,952.6 395.1,952.4 396.6,952.3 398.1,952.2 399.6,952.1 401.1,952.0 402.6,951.9 404.0,951.8 405.5,951.7 407.0,951.6 408.5,951.5 410.0,951.4 411.5,951.3 413.0,951.2 414.5,951.2 416.0,951.1 417.5,951.1 419.0,951.0 420.5,951.0 422.0,951.0 423.5,951.1 424.9,951.2 426.4,951.3 427.9,951.5 429.4,951.8 430.9,952.0 432.4,952.4 433.9,952.7 435.4,953.1 436.9,953.5 438.4,953.9 439.9,954.3 441.4,954.8 442.9,955.2 444.4,955.7 445.9,956.2 447.3,956.9 448.8,957.7 450.3,958.6 451.8,959.5 453.3,960.6 454.8,961.8 456.3,963.2 457.8,964.9 459.3,967.0 460.8,969.4 462.3,972.0 463.8,974.7 465.3,977.5 466.8,980.3 468.2,983.2 469.7,986.4 471.2,989.7 472.7,993.2 474.2,996.7 475.7,1000.1 477.2,1003.4 478.7,1006.5 480.2,1009.6 481.7,1013.0 483.2,1016.3 484.7,1019.5 486.2,1022.3 487.7,1024.6 489.1,1026.2 490.6,1026.9 492.1,1027.6 493.6,1028.1 495.1,1028.6 496.6,1029.1 498.1,1029.4 499.6,1029.7 501.1,1029.9 502.6,1030.0 504.1,1030.0 505.6,1029.8 507.1,1029.4 508.6,1028.7 510.0,1028.0 511.5,1027.2 513.0,1026.5 514.5,1025.8 516.0,1024.9 517.5,1024.0 519.0,1023.1 520.5,1022.0 522.0,1021.0 523.5,1019.9 525.0,1018.7 526.5,1017.6 528.0,1016.4 529.5,1015.3 531.0,1014.1 532.4,1013.0 533.9,1011.9 535.4,1010.8 536.9,1009.8 538.4,1008.7 539.9,1007.7 541.4,1006.6 542.9,1005.6 544.4,1004.5 545.9,1003.5 547.4,1002.4 548.9,1001.4 550.4,1000.3 551.9,999.3 553.3,998.3 554.8,997.2 556.3,996.2 557.8,995.1 559.3,994.1 560.8,993.0 562.3,991.9 563.8,990.7 565.3,989.6 566.8,988.4 568.3,987.3 569.8,986.2 571.3,985.0 572.8,983.9 574.2,982.9 575.7,981.9 577.2,980.9 578.7,980.0 580.2,979.2 581.7,978.4 583.2,977.7 584.7,976.9 586.2,976.2 587.7,975.4 589.2,974.7 590.7,974.0 592.2,973.4 593.7,972.8 595.1,972.3 596.6,972.0 598.1,971.7 599.6,971.6 601.1,971.7 602.6,971.7 604.1,971.8 605.6,972.0 607.1,972.1 608.6,972.3 610.1,972.6 611.6,972.8 613.1,973.1 614.6,973.4 616.1,973.7 617.5,974.1 619.0,974.4 620.5,974.7 622.0,975.1 623.5,975.4 625.0,975.7 626.5,976.0 628.0,976.4 629.5,976.7 631.0,977.1 632.5,977.6 634.0,978.0 635.5,978.5 637.0,979.0 638.4,979.5 639.9,980.0 641.4,980.5 642.9,980.9 644.4,981.2 645.9,981.5 647.4,981.8 648.9,981.9 650.4,981.9 651.9,981.9 653.4,981.6 654.9,981.4 656.4,981.1 657.9,980.9 659.3,980.8 660.8,980.9 662.3,981.2 663.8,981.8 665.3,982.5 666.8,983.4 668.3,984.3 669.8,985.4" fill="none" stroke="#737373" stroke-width="7" stroke-linejoin="round" stroke-linecap="butt"/>
<polyline points="221.9,985.4 223.4,987.2 224.9,988.9 226.4,990.4 227.9,991.9 229.4,993.2 230.9,994.4 232.4,995.5 233.8,996.5 235.3,997.3 236.8,998.0 238.3,998.5 239.8,998.9 241.3,999.1 242.8,999.1 244.3,999.0 245.8,998.7 247.3,998.3 248.8,997.8 250.3,997.2 251.8,996.6 253.3,995.9 254.7,995.1 256.2,994.4 257.7,993.6 259.2,992.9 260.7,992.3 262.2,991.7 263.7,991.0 265.2,990.4 266.7,989.7 268.2,989.0 269.7,988.4 271.2,987.7 272.7,987.0 274.2,986.3 275.6,985.6 277.1,984.9 278.6,984.2 280.1,983.5 281.6,982.9 283.1,982.2 284.6,981.6 286.1,980.9 287.6,980.3 289.1,979.6 290.6,979.0 292.1,978.3 293.6,977.6 295.1,977.0 296.6,976.4 298.0,975.8 299.5,975.2 301.0,974.6 302.5,974.1 304.0,973.6 305.5,973.1 307.0,972.7 308.5,972.3 310.0,971.9 311.5,971.5 313.0,971.1 314.5,970.8 316.0,970.4 317.5,970.1 318.9,969.8 320.4,969.5 321.9,969.2 323.4,968.9 324.9,968.6 326.4,968.3 327.9,968.0 329.4,967.7 330.9,967.4 332.4,967.2 333.9,966.9 335.4,966.6 336.9,966.4 338.4,966.1 339.8,965.9 341.3,965.6 342.8,965.3 344.3,965.1 345.8,964.8 347.3,964.6 348.8,964.3 350.3,964.0 351.8,963.7 353.3,963.5 354.8,963.2 356.3,962.9 357.8,962.6 359.3,962.3 360.7,962.0 362.2,961.8 363.7,961.5 365.2,961.2 366.7,960.9 368.2,960.6 369.7,960.3 371.2,960.0 372.7,959.7 374.2,959.5 375.7,959.2 377.2,958.9 378.7,958.6 380.2,958.4 381.7,958.1 383.1,957.9 384.6,957.6 386.1,957.4 387.6,957.1 389.1,956.9 390.6,956.7 392.1,956.4 393.6,956.2 395.1,956.0 396.6,955.8 398.1,955.6 399.6,955.4 401.1,955.2 402.6,955.0 404.0,954.8 405.5,954.6 407.0,954.4 408.5,954.2 410.0,954.1 411.5,953.9 413.0,953.7 414.5,953.6 416.0,953.5 417.5,953.4 419.0,953.3 420.5,953.3 422.0,953.3 423.5,953.3 424.9,953.4 426.4,953.5 427.9,953.6 429.4,953.7 430.9,953.8 432.4,954.0 433.9,954.1 435.4,954.3 436.9,954.5 438.4,954.7 439.9,955.0 441.4,955.2 442.9,955.4 444.4,955.6 445.9,955.9 447.3,956.2 448.8,956.6 450.3,957.1 451.8,957.5 453.3,958.1 454.8,958.7 456.3,959.4 457.8,960.4 459.3,961.5 460.8,962.9 462.3,964.4 463.8,965.9 465.3,967.5 466.8,969.1 468.2,970.7 469.7,972.3 471.2,974.0 472.7,975.8 474.2,977.7 475.7,979.6 477.2,981.5 478.7,983.4 480.2,985.5 481.7,987.7 483.2,990.0 484.7,992.3 486.2,994.5 487.7,996.6 489.1,998.3 490.6,999.8 492.1,1001.3 493.6,1002.8 495.1,1004.3 496.6,1005.6 498.1,1006.9 499.6,1008.1 501.1,1009.1 502.6,1009.8 504.1,1010.3 505.6,1010.6 507.1,1010.5 508.6,1010.1 510.0,1009.5 511.5,1008.8 513.0,1008.2 514.5,1007.6 516.0,1006.9 517.5,1006.2 519.0,1005.5 520.5,1004.7 522.0,1004.0 523.5,1003.2 525.0,1002.4 526.5,1001.5 528.0,1000.7 529.5,999.9 531.0,999.2 532.4,998.4 533.9,997.7 535.4,997.0 536.9,996.3 538.4,995.7 539.9,995.1 541.4,994.5 542.9,993.9 544.4,993.3 545.9,992.7 547.4,992.1 548.9,991.6 550.4,991.0 551.9,990.4 553.3,989.8 554.8,989.2 556.3,988.6 557.8,988.0 559.3,987.4 560.8,986.7 562.3,986.0 563.8,985.2 565.3,984.4 566.8,983.6 568.3,982.8 569.8,982.0 571.3,981.3 572.8,980.5 574.2,979.8 575.7,979.2 577.2,978.6 578.7,978.1 580.2,977.7 581.7,977.3 583.2,977.1 584.7,976.8 586.2,976.5 587.7,976.2 589.2,976.0 590.7,975.8 592.2,975.6 593.7,975.4 595.1,975.3 596.6,975.2 598.1,975.1 599.6,975.1 601.1,975.1 602.6,975.2 604.1,975.3 605.6,975.5 607.1,975.8 608.6,976.0 610.1,976.4 611.6,976.7 613.1,977.1 614.6,977.5 616.1,977.9 617.5,978.3 619.0,978.7 620.5,979.1 622.0,979.5 623.5,979.9 625.0,980.3 626.5,980.6 628.0,980.9 629.5,981.3 631.0,981.6 632.5,981.9 634.0,982.3 635.5,982.6 637.0,983.0 638.4,983.3 639.9,983.7 641.4,984.0 642.9,984.3 644.4,984.6 645.9,984.8 647.4,985.1 648.9,985.2 650.4,985.4 651.9,985.5 653.4,985.7 654.9,985.8 656.4,985.9 657.9,986.0 659.3,986.1 660.8,986.2 662.3,986.3 663.8,986.4 665.3,986.4 666.8,986.5 668.3,986.5 669.8,986.5" fill="none" stroke="#f59a3c" stroke-width="7" stroke-linejoin="round" stroke-linecap="butt"/>
<text x="643.20" y="920.81" font-size="29.29" font-weight="normal" fill="#111" stroke="#111" stroke-width="1.1" textLength="13.30" lengthAdjust="spacingAndGlyphs">J</text>
<text x="150.20" y="895.13" font-size="27.32" font-weight="normal" fill="#5e5e5e" stroke="#5e5e5e" stroke-width="0.4" textLength="43.26" lengthAdjust="spacingAndGlyphs">100</text>
<text x="164.00" y="958.73" font-size="27.32" font-weight="normal" fill="#5e5e5e" stroke="#5e5e5e" stroke-width="0.4" textLength="29.56" lengthAdjust="spacingAndGlyphs">80</text>
<text x="164.00" y="1018.64" font-size="25.92" font-weight="normal" fill="#5e5e5e" stroke="#5e5e5e" stroke-width="0.4" textLength="29.56" lengthAdjust="spacingAndGlyphs">60</text>
<text x="164.00" y="1082.23" font-size="27.46" font-weight="normal" fill="#5e5e5e" stroke="#5e5e5e" stroke-width="0.4" textLength="29.56" lengthAdjust="spacingAndGlyphs">40</text>
<line x1="858" y1="243.1" x2="1300.8" y2="243.1" stroke="#cbcbcb" stroke-width="1.8"/>
<line x1="858" y1="341.6" x2="1300.8" y2="341.6" stroke="#cbcbcb" stroke-width="1.8"/>
<rect x="1092.8" y="150" width="31.0" height="191.60000000000002" fill="#e4e4e4"/>
<path d="M859.0 243.6V251.6M863.4 244.9V252.9M867.8 246.2V254.2M872.2 247.4V255.4M876.6 248.6V256.6M881.0 249.7V257.7M885.5 250.8V258.8M889.9 252.0V260.0M894.3 253.2V261.2M898.7 254.4V262.4M903.1 255.4V263.4M907.5 256.0V264.0M911.9 256.3V264.3M916.3 256.2V264.2M920.7 255.9V263.9M925.1 255.6V263.6M929.6 255.2V263.2M934.0 254.6V262.6M938.4 253.6V261.6M942.8 252.3V260.3M947.2 250.8V258.8M951.6 249.2V257.2M956.0 247.6V255.6M960.4 246.1V254.1M964.8 244.7V252.7M969.2 243.4V251.4M973.7 242.1V250.1M978.1 240.7V248.7M982.5 239.4V247.4M986.9 238.2V246.2M991.3 237.1V245.1M995.7 236.2V244.2M1000.1 235.5V243.5M1004.5 234.8V242.8M1008.9 234.2V242.2M1013.4 233.6V241.6M1017.8 233.1V241.1M1022.2 232.7V240.7M1026.6 232.4V240.4M1031.0 232.2V240.2M1035.4 232.2V240.2M1039.8 232.4V240.4M1044.2 232.8V240.8M1048.6 233.2V241.2M1053.0 233.6V241.6M1057.5 234.0V242.0M1061.9 234.3V242.3M1066.3 234.5V242.5M1070.7 234.4V242.4M1075.1 234.0V242.0M1079.5 233.3V241.3M1083.9 232.5V240.5M1088.3 231.5V239.5M1092.7 230.5V238.5M1097.1 229.1V237.1M1101.5 227.3V235.3M1106.0 225.6V233.6M1110.4 224.2V232.2M1114.8 223.3V231.3M1119.2 222.7V230.7M1123.6 222.1V230.1M1128.0 221.6V229.6M1132.4 221.3V229.3M1136.8 221.2V229.2M1141.2 221.5V229.5M1145.7 222.1V230.1M1150.1 222.9V230.9M1154.5 223.8V231.8M1158.9 224.8V232.8M1163.3 225.9V233.9M1167.7 227.3V235.3M1172.1 229.0V237.0M1176.5 230.7V238.7M1180.9 232.6V240.6M1185.3 234.3V242.3M1189.8 236.0V244.0M1194.2 237.4V245.4M1198.6 238.8V246.8M1203.0 240.1V248.1M1207.4 241.3V249.3M1211.8 242.4V250.4M1216.2 243.2V251.2M1220.6 243.8V251.8M1225.0 244.4V252.4M1229.4 244.9V252.9M1233.8 245.3V253.3M1238.3 245.5V253.5M1242.7 245.5V253.5M1247.1 245.3V253.3M1251.5 245.1V253.1M1255.9 245.0V253.0M1260.3 244.8V252.8M1264.7 244.8V252.8M1269.1 244.8V252.8M1273.5 244.9V252.9M1278.0 244.9V252.9M1282.4 245.0V253.0M1286.8 245.1V253.1M1291.2 245.2V253.2M1295.6 245.4V253.4M1300.0 245.6V253.6" stroke="#f7d0b0" stroke-width="1.2" fill="none"/>
<path d="M859.0 243.6V251.6M863.4 245.2V253.2M867.8 246.8V254.8M872.2 248.2V256.2M876.6 249.6V257.6M881.0 250.8V258.8M885.5 252.0V260.0M889.9 253.2V261.2M894.3 254.4V262.4M898.7 255.6V263.6M903.1 256.5V264.5M907.5 257.2V265.2M911.9 257.4V265.4M916.3 257.3V265.3M920.7 256.9V264.9M925.1 256.3V264.3M929.6 255.7V263.7M934.0 254.9V262.9M938.4 253.8V261.8M942.8 252.4V260.4M947.2 250.9V258.9M951.6 249.3V257.3M956.0 247.6V255.6M960.4 246.1V254.1M964.8 244.7V252.7M969.2 243.4V251.4M973.7 242.1V250.1M978.1 240.7V248.7M982.5 239.4V247.4M986.9 238.2V246.2M991.3 237.1V245.1M995.7 236.2V244.2M1000.1 235.5V243.5M1004.5 234.8V242.8M1008.9 234.2V242.2M1013.4 233.6V241.6M1017.8 233.1V241.1M1022.2 232.7V240.7M1026.6 232.4V240.4M1031.0 232.2V240.2M1035.4 232.2V240.2M1039.8 232.4V240.4M1044.2 232.7V240.7M1048.6 233.0V241.0M1053.0 233.3V241.3M1057.5 233.7V241.7M1061.9 233.9V241.9M1066.3 234.0V242.0M1070.7 234.0V242.0M1075.1 233.6V241.6M1079.5 233.0V241.0M1083.9 232.3V240.3M1088.3 231.5V239.5M1092.7 230.6V238.6M1097.1 229.1V237.1M1101.5 227.2V235.2M1106.0 225.4V233.4M1110.4 223.8V231.8M1114.8 222.8V230.8M1119.2 222.1V230.1M1123.6 221.4V229.4M1128.0 220.8V228.8M1132.4 220.4V228.4M1136.8 220.3V228.3M1141.2 220.5V228.5M1145.7 221.0V229.0M1150.1 221.7V229.7M1154.5 222.6V230.6M1158.9 223.4V231.4M1163.3 224.5V232.5M1167.7 226.0V234.0M1172.1 227.8V235.8M1176.5 229.8V237.8M1180.9 231.8V239.8M1185.3 233.7V241.7M1189.8 235.5V243.5M1194.2 237.0V245.0M1198.6 238.3V246.3M1203.0 239.6V247.6M1207.4 240.8V248.8M1211.8 241.8V249.8M1216.2 242.5V250.5M1220.6 243.0V251.0M1225.0 243.4V251.4M1229.4 243.8V251.8M1233.8 244.0V252.0M1238.3 244.1V252.1M1242.7 244.0V252.0M1247.1 243.5V251.5M1251.5 242.9V250.9M1255.9 242.3V250.3M1260.3 241.9V249.9M1264.7 241.8V249.8M1269.1 241.8V249.8M1273.5 241.9V249.9M1278.0 241.9V249.9M1282.4 242.0V250.0M1286.8 242.0V250.0M1291.2 242.2V250.2M1295.6 242.4V250.4M1300.0 242.6V250.6" stroke="#bdbdbd" stroke-width="1.2" fill="none"/>
<polyline points="859.0,247.6 860.5,248.2 861.9,248.7 863.4,249.2 864.9,249.7 866.4,250.3 867.8,250.8 869.3,251.2 870.8,251.7 872.2,252.2 873.7,252.7 875.2,253.1 876.6,253.6 878.1,254.0 879.6,254.4 881.0,254.8 882.5,255.2 884.0,255.6 885.5,256.0 886.9,256.4 888.4,256.8 889.9,257.2 891.3,257.6 892.8,258.0 894.3,258.4 895.8,258.8 897.2,259.2 898.7,259.6 900.2,259.9 901.6,260.2 903.1,260.5 904.6,260.8 906.0,261.0 907.5,261.2 909.0,261.3 910.5,261.4 911.9,261.4 913.4,261.4 914.9,261.3 916.3,261.3 917.8,261.2 919.3,261.0 920.7,260.9 922.2,260.7 923.7,260.5 925.1,260.3 926.6,260.1 928.1,259.9 929.6,259.7 931.0,259.5 932.5,259.2 934.0,258.9 935.4,258.6 936.9,258.2 938.4,257.8 939.9,257.4 941.3,256.9 942.8,256.4 944.3,255.9 945.7,255.4 947.2,254.9 948.7,254.3 950.1,253.8 951.6,253.3 953.1,252.7 954.5,252.2 956.0,251.6 957.5,251.1 959.0,250.6 960.4,250.1 961.9,249.6 963.4,249.2 964.8,248.7 966.3,248.3 967.8,247.9 969.2,247.4 970.7,247.0 972.2,246.5 973.7,246.1 975.1,245.6 976.6,245.2 978.1,244.7 979.5,244.3 981.0,243.8 982.5,243.4 984.0,243.0 985.4,242.6 986.9,242.2 988.4,241.8 989.8,241.4 991.3,241.1 992.8,240.8 994.2,240.5 995.7,240.2 997.2,239.9 998.6,239.7 1000.1,239.5 1001.6,239.3 1003.1,239.1 1004.5,238.8 1006.0,238.6 1007.5,238.4 1008.9,238.2 1010.4,238.0 1011.9,237.8 1013.4,237.6 1014.8,237.5 1016.3,237.3 1017.8,237.1 1019.2,237.0 1020.7,236.8 1022.2,236.7 1023.6,236.6 1025.1,236.5 1026.6,236.4 1028.0,236.3 1029.5,236.3 1031.0,236.2 1032.5,236.2 1033.9,236.2 1035.4,236.2 1036.9,236.3 1038.3,236.3 1039.8,236.4 1041.3,236.5 1042.8,236.6 1044.2,236.7 1045.7,236.8 1047.2,236.9 1048.6,237.0 1050.1,237.1 1051.6,237.2 1053.0,237.3 1054.5,237.5 1056.0,237.6 1057.5,237.7 1058.9,237.8 1060.4,237.8 1061.9,237.9 1063.3,238.0 1064.8,238.0 1066.3,238.0 1067.7,238.1 1069.2,238.0 1070.7,238.0 1072.2,237.9 1073.6,237.8 1075.1,237.6 1076.6,237.5 1078.0,237.3 1079.5,237.0 1081.0,236.8 1082.4,236.6 1083.9,236.3 1085.4,236.0 1086.8,235.8 1088.3,235.5 1089.8,235.2 1091.3,234.9 1092.7,234.6 1094.2,234.1 1095.7,233.6 1097.1,233.1 1098.6,232.5 1100.1,231.9 1101.5,231.2 1103.0,230.6 1104.5,230.0 1106.0,229.4 1107.4,228.8 1108.9,228.3 1110.4,227.8 1111.8,227.4 1113.3,227.1 1114.8,226.8 1116.2,226.6 1117.7,226.3 1119.2,226.1 1120.7,225.8 1122.1,225.6 1123.6,225.4 1125.1,225.1 1126.5,225.0 1128.0,224.8 1129.5,224.6 1131.0,224.5 1132.4,224.4 1133.9,224.4 1135.4,224.3 1136.8,224.3 1138.3,224.3 1139.8,224.4 1141.2,224.5 1142.7,224.7 1144.2,224.8 1145.7,225.0 1147.1,225.2 1148.6,225.5 1150.1,225.7 1151.5,226.0 1153.0,226.3 1154.5,226.6 1155.9,226.8 1157.4,227.1 1158.9,227.4 1160.3,227.7 1161.8,228.1 1163.3,228.5 1164.8,229.0 1166.2,229.5 1167.7,230.0 1169.2,230.6 1170.6,231.2 1172.1,231.8 1173.6,232.4 1175.0,233.1 1176.5,233.8 1178.0,234.4 1179.5,235.1 1180.9,235.8 1182.4,236.4 1183.9,237.1 1185.3,237.7 1186.8,238.3 1188.3,238.9 1189.8,239.5 1191.2,240.0 1192.7,240.5 1194.2,241.0 1195.6,241.4 1197.1,241.9 1198.6,242.3 1200.0,242.7 1201.5,243.2 1203.0,243.6 1204.5,244.0 1205.9,244.4 1207.4,244.8 1208.9,245.2 1210.3,245.5 1211.8,245.8 1213.3,246.1 1214.7,246.3 1216.2,246.5 1217.7,246.7 1219.2,246.8 1220.6,247.0 1222.1,247.1 1223.6,247.3 1225.0,247.4 1226.5,247.5 1228.0,247.6 1229.4,247.8 1230.9,247.8 1232.4,247.9 1233.8,248.0 1235.3,248.1 1236.8,248.1 1238.3,248.1 1239.7,248.1 1241.2,248.1 1242.7,248.0 1244.1,247.9 1245.6,247.7 1247.1,247.5 1248.5,247.3 1250.0,247.1 1251.5,246.9 1253.0,246.7 1254.4,246.5 1255.9,246.3 1257.4,246.1 1258.8,246.0 1260.3,245.9 1261.8,245.8 1263.2,245.8 1264.7,245.8 1266.2,245.8 1267.7,245.8 1269.1,245.8 1270.6,245.8 1272.1,245.9 1273.5,245.9 1275.0,245.9 1276.5,245.9 1278.0,245.9 1279.4,245.9 1280.9,245.9 1282.4,246.0 1283.8,246.0 1285.3,246.0 1286.8,246.0 1288.2,246.1 1289.7,246.1 1291.2,246.2 1292.7,246.2 1294.1,246.3 1295.6,246.4 1297.1,246.4 1298.5,246.5 1300.0,246.6" fill="none" stroke="#737373" stroke-width="7" stroke-linejoin="round" stroke-linecap="butt"/>
<polyline points="859.0,247.6 860.5,248.1 861.9,248.5 863.4,248.9 864.9,249.4 866.4,249.8 867.8,250.2 869.3,250.6 870.8,251.0 872.2,251.4 873.7,251.8 875.2,252.2 876.6,252.6 878.1,253.0 879.6,253.4 881.0,253.7 882.5,254.1 884.0,254.5 885.5,254.8 886.9,255.2 888.4,255.6 889.9,256.0 891.3,256.4 892.8,256.8 894.3,257.2 895.8,257.6 897.2,258.0 898.7,258.4 900.2,258.7 901.6,259.1 903.1,259.4 904.6,259.6 906.0,259.8 907.5,260.0 909.0,260.2 910.5,260.2 911.9,260.3 913.4,260.3 914.9,260.2 916.3,260.2 917.8,260.1 919.3,260.0 920.7,259.9 922.2,259.8 923.7,259.7 925.1,259.6 926.6,259.5 928.1,259.3 929.6,259.2 931.0,259.0 932.5,258.8 934.0,258.6 935.4,258.3 936.9,258.0 938.4,257.6 939.9,257.2 941.3,256.8 942.8,256.3 944.3,255.8 945.7,255.3 947.2,254.8 948.7,254.3 950.1,253.8 951.6,253.2 953.1,252.7 954.5,252.1 956.0,251.6 957.5,251.1 959.0,250.6 960.4,250.1 961.9,249.6 963.4,249.2 964.8,248.7 966.3,248.3 967.8,247.9 969.2,247.4 970.7,247.0 972.2,246.5 973.7,246.1 975.1,245.6 976.6,245.2 978.1,244.7 979.5,244.3 981.0,243.9 982.5,243.4 984.0,243.0 985.4,242.6 986.9,242.2 988.4,241.8 989.8,241.5 991.3,241.1 992.8,240.8 994.2,240.5 995.7,240.2 997.2,239.9 998.6,239.7 1000.1,239.5 1001.6,239.3 1003.1,239.1 1004.5,238.8 1006.0,238.6 1007.5,238.4 1008.9,238.2 1010.4,238.0 1011.9,237.8 1013.4,237.6 1014.8,237.5 1016.3,237.3 1017.8,237.1 1019.2,237.0 1020.7,236.8 1022.2,236.7 1023.6,236.6 1025.1,236.5 1026.6,236.4 1028.0,236.3 1029.5,236.3 1031.0,236.2 1032.5,236.2 1033.9,236.2 1035.4,236.2 1036.9,236.3 1038.3,236.4 1039.8,236.4 1041.3,236.5 1042.8,236.6 1044.2,236.8 1045.7,236.9 1047.2,237.0 1048.6,237.2 1050.1,237.3 1051.6,237.5 1053.0,237.6 1054.5,237.8 1056.0,237.9 1057.5,238.0 1058.9,238.1 1060.4,238.2 1061.9,238.3 1063.3,238.4 1064.8,238.5 1066.3,238.5 1067.7,238.5 1069.2,238.5 1070.7,238.4 1072.2,238.3 1073.6,238.2 1075.1,238.0 1076.6,237.8 1078.0,237.6 1079.5,237.3 1081.0,237.0 1082.4,236.8 1083.9,236.5 1085.4,236.2 1086.8,235.9 1088.3,235.5 1089.8,235.2 1091.3,234.9 1092.7,234.5 1094.2,234.1 1095.7,233.6 1097.1,233.1 1098.6,232.5 1100.1,231.9 1101.5,231.3 1103.0,230.7 1104.5,230.2 1106.0,229.6 1107.4,229.1 1108.9,228.6 1110.4,228.2 1111.8,227.8 1113.3,227.5 1114.8,227.3 1116.2,227.1 1117.7,226.9 1119.2,226.7 1120.7,226.5 1122.1,226.3 1123.6,226.1 1125.1,225.9 1126.5,225.8 1128.0,225.6 1129.5,225.5 1131.0,225.4 1132.4,225.3 1133.9,225.3 1135.4,225.2 1136.8,225.2 1138.3,225.3 1139.8,225.3 1141.2,225.5 1142.7,225.6 1144.2,225.8 1145.7,226.1 1147.1,226.3 1148.6,226.6 1150.1,226.9 1151.5,227.2 1153.0,227.5 1154.5,227.8 1155.9,228.2 1157.4,228.5 1158.9,228.8 1160.3,229.1 1161.8,229.5 1163.3,229.9 1164.8,230.3 1166.2,230.8 1167.7,231.3 1169.2,231.9 1170.6,232.4 1172.1,233.0 1173.6,233.5 1175.0,234.1 1176.5,234.7 1178.0,235.4 1179.5,236.0 1180.9,236.6 1182.4,237.2 1183.9,237.8 1185.3,238.3 1186.8,238.9 1188.3,239.5 1189.8,240.0 1191.2,240.5 1192.7,241.0 1194.2,241.4 1195.6,241.9 1197.1,242.3 1198.6,242.8 1200.0,243.2 1201.5,243.6 1203.0,244.1 1204.5,244.5 1205.9,244.9 1207.4,245.3 1208.9,245.7 1210.3,246.0 1211.8,246.4 1213.3,246.7 1214.7,246.9 1216.2,247.2 1217.7,247.4 1219.2,247.6 1220.6,247.8 1222.1,248.0 1223.6,248.2 1225.0,248.4 1226.5,248.6 1228.0,248.8 1229.4,248.9 1230.9,249.1 1232.4,249.2 1233.8,249.3 1235.3,249.4 1236.8,249.5 1238.3,249.5 1239.7,249.5 1241.2,249.5 1242.7,249.5 1244.1,249.4 1245.6,249.4 1247.1,249.3 1248.5,249.3 1250.0,249.2 1251.5,249.1 1253.0,249.1 1254.4,249.0 1255.9,249.0 1257.4,248.9 1258.8,248.9 1260.3,248.8 1261.8,248.8 1263.2,248.8 1264.7,248.8 1266.2,248.8 1267.7,248.8 1269.1,248.8 1270.6,248.8 1272.1,248.8 1273.5,248.9 1275.0,248.9 1276.5,248.9 1278.0,248.9 1279.4,248.9 1280.9,248.9 1282.4,249.0 1283.8,249.0 1285.3,249.0 1286.8,249.1 1288.2,249.1 1289.7,249.1 1291.2,249.2 1292.7,249.2 1294.1,249.3 1295.6,249.4 1297.1,249.4 1298.5,249.5 1300.0,249.6" fill="none" stroke="#f59a3c" stroke-width="7" stroke-linejoin="round" stroke-linecap="butt"/>
<text x="1276.10" y="183.80" font-size="28.99" font-weight="normal" fill="#111" stroke="#111" stroke-width="1.1" textLength="15.33" lengthAdjust="spacingAndGlyphs">B</text>
<text x="801.70" y="150.82" font-size="28.03" font-weight="normal" fill="#5e5e5e" stroke="#5e5e5e" stroke-width="0.4" textLength="27.95" lengthAdjust="spacingAndGlyphs">20</text>
<text x="815.00" y="249.32" font-size="28.03" font-weight="normal" fill="#5e5e5e" stroke="#5e5e5e" stroke-width="0.4" textLength="14.90" lengthAdjust="spacingAndGlyphs">0</text>
<text x="792.40" y="350.31" font-size="28.73" font-weight="normal" fill="#5e5e5e" stroke="#5e5e5e" stroke-width="0.4" textLength="40.17" lengthAdjust="spacingAndGlyphs">-20</text>
<line x1="858" y1="396.9" x2="1300.8" y2="396.9" stroke="#cbcbcb" stroke-width="1.8"/>
<line x1="858" y1="493.1" x2="1300.8" y2="493.1" stroke="#cbcbcb" stroke-width="1.8"/>
<line x1="858" y1="589.3" x2="1300.8" y2="589.3" stroke="#cbcbcb" stroke-width="1.8"/>
<rect x="1092.8" y="397" width="31.0" height="192.29999999999995" fill="#e4e4e4"/>
<path d="M859.0 477.8V503.8M863.4 477.8V503.8M867.8 477.8V503.8M872.2 477.8V503.8M876.6 477.8V503.8M881.0 477.2V503.2M885.5 475.1V501.1M889.9 472.3V498.3M894.3 469.5V495.5M898.7 467.1V493.1M903.1 464.3V490.3M907.5 461.7V487.7M911.9 459.9V485.9M916.3 459.3V485.3M920.7 458.9V484.9M925.1 458.6V484.6M929.6 458.4V484.4M934.0 458.3V484.3M938.4 458.4V484.4M942.8 458.6V484.6M947.2 458.9V484.9M951.6 459.3V485.3M956.0 459.8V485.8M960.4 460.2V486.2M964.8 460.6V486.6M969.2 461.1V487.1M973.7 461.5V487.5M978.1 462.0V488.0M982.5 462.5V488.5M986.9 463.0V489.0M991.3 463.4V489.4M995.7 463.9V489.9M1000.1 464.4V490.4M1004.5 464.8V490.8M1008.9 465.1V491.1M1013.4 465.4V491.4M1017.8 465.6V491.6M1022.2 465.8V491.8M1026.6 466.0V492.0M1031.0 466.2V492.2M1035.4 466.4V492.4M1039.8 466.5V492.5M1044.2 466.7V492.7M1048.6 467.0V493.0M1053.0 467.3V493.3M1057.5 467.6V493.6M1061.9 468.0V494.0M1066.3 468.5V494.5M1070.7 469.2V495.2M1075.1 470.0V496.0M1079.5 471.0V497.0M1083.9 472.8V498.8M1088.3 475.6V501.6M1092.7 478.9V504.9M1097.1 482.3V508.3M1101.5 485.5V511.5M1106.0 488.6V514.6M1110.4 491.8V517.8M1114.8 495.1V521.1M1119.2 498.0V524.0M1123.6 500.2V526.2M1128.0 501.8V527.8M1132.4 503.2V529.2M1136.8 504.1V530.1M1141.2 504.1V530.1M1145.7 503.5V529.5M1150.1 502.7V528.7M1154.5 501.8V527.8M1158.9 500.8V526.8M1163.3 499.8V525.8M1167.7 498.7V524.7M1172.1 497.5V523.5M1176.5 496.2V522.2M1180.9 494.9V520.9M1185.3 493.6V519.6M1189.8 492.4V518.4M1194.2 491.4V517.4M1198.6 490.5V516.5M1203.0 489.5V515.5M1207.4 488.5V514.5M1211.8 487.6V513.6M1216.2 486.7V512.7M1220.6 485.9V511.9M1225.0 485.1V511.1M1229.4 484.5V510.5M1233.8 484.0V510.0M1238.3 483.6V509.6M1242.7 483.4V509.4M1247.1 483.2V509.2M1251.5 483.1V509.1M1255.9 483.0V509.0M1260.3 482.9V508.9M1264.7 482.8V508.8M1269.1 482.6V508.6M1273.5 482.4V508.4M1278.0 482.0V508.0M1282.4 481.4V507.4M1286.8 480.6V506.6M1291.2 479.7V505.7M1295.6 478.6V504.6M1300.0 477.6V503.6" stroke="#f7d0b0" stroke-width="1.2" fill="none"/>
<path d="M859.0 476.8V504.8M863.4 476.7V504.7M867.8 476.5V504.5M872.2 476.2V504.2M876.6 475.7V503.7M881.0 474.8V502.8M885.5 472.7V500.7M889.9 470.1V498.1M894.3 467.3V495.3M898.7 464.9V492.9M903.1 462.1V490.1M907.5 459.3V487.3M911.9 457.0V485.0M916.3 455.5V483.5M920.7 454.1V482.1M925.1 452.9V480.9M929.6 452.0V480.0M934.0 451.6V479.6M938.4 451.6V479.6M942.8 451.7V479.7M947.2 451.9V479.9M951.6 452.1V480.1M956.0 452.3V480.3M960.4 452.5V480.5M964.8 452.8V480.8M969.2 453.0V481.0M973.7 453.4V481.4M978.1 453.8V481.8M982.5 454.3V482.3M986.9 454.8V482.8M991.3 455.3V483.3M995.7 455.8V483.8M1000.1 456.3V484.3M1004.5 456.8V484.8M1008.9 457.2V485.2M1013.4 457.6V485.6M1017.8 457.9V485.9M1022.2 458.2V486.2M1026.6 458.4V486.4M1031.0 458.7V486.7M1035.4 458.9V486.9M1039.8 459.2V487.2M1044.2 459.5V487.5M1048.6 459.9V487.9M1053.0 460.4V488.4M1057.5 460.9V488.9M1061.9 461.8V489.8M1066.3 463.0V491.0M1070.7 464.4V492.4M1075.1 466.0V494.0M1079.5 467.8V495.8M1083.9 470.1V498.1M1088.3 473.1V501.1M1092.7 476.5V504.5M1097.1 480.0V508.0M1101.5 483.3V511.3M1106.0 486.7V514.7M1110.4 490.3V518.3M1114.8 493.9V521.9M1119.2 497.3V525.3M1123.6 500.1V528.1M1128.0 502.6V530.6M1132.4 504.9V532.9M1136.8 506.4V534.4M1141.2 506.5V534.5M1145.7 505.8V533.8M1150.1 504.6V532.6M1154.5 503.3V531.3M1158.9 502.1V530.1M1163.3 500.9V528.9M1167.7 499.6V527.6M1172.1 498.3V526.3M1176.5 496.8V524.8M1180.9 495.4V523.4M1185.3 494.0V522.0M1189.8 492.7V520.7M1194.2 491.6V519.6M1198.6 490.4V518.4M1203.0 489.2V517.2M1207.4 488.0V516.0M1211.8 486.8V514.8M1216.2 485.7V513.7M1220.6 484.6V512.6M1225.0 483.7V511.7M1229.4 482.9V510.9M1233.8 482.3V510.3M1238.3 481.9V509.9M1242.7 481.7V509.7M1247.1 481.6V509.6M1251.5 481.5V509.5M1255.9 481.4V509.4M1260.3 481.3V509.3M1264.7 481.2V509.2M1269.1 481.1V509.1M1273.5 480.9V508.9M1278.0 480.6V508.6M1282.4 480.1V508.1M1286.8 479.4V507.4M1291.2 478.5V506.5M1295.6 477.6V505.6M1300.0 476.6V504.6" stroke="#bdbdbd" stroke-width="1.2" fill="none"/>
<polyline points="859.0,490.8 860.5,490.8 861.9,490.8 863.4,490.7 864.9,490.7 866.4,490.6 867.8,490.5 869.3,490.4 870.8,490.3 872.2,490.2 873.7,490.0 875.2,489.9 876.6,489.7 878.1,489.6 879.6,489.3 881.0,488.8 882.5,488.2 884.0,487.5 885.5,486.7 886.9,485.9 888.4,485.0 889.9,484.1 891.3,483.1 892.8,482.2 894.3,481.3 895.8,480.5 897.2,479.7 898.7,478.9 900.2,477.9 901.6,477.0 903.1,476.1 904.6,475.1 906.0,474.2 907.5,473.3 909.0,472.5 910.5,471.7 911.9,471.0 913.4,470.4 914.9,470.0 916.3,469.5 917.8,469.0 919.3,468.5 920.7,468.1 922.2,467.7 923.7,467.3 925.1,466.9 926.6,466.6 928.1,466.3 929.6,466.0 931.0,465.8 932.5,465.7 934.0,465.6 935.4,465.6 936.9,465.6 938.4,465.6 939.9,465.7 941.3,465.7 942.8,465.7 944.3,465.8 945.7,465.8 947.2,465.9 948.7,465.9 950.1,466.0 951.6,466.1 953.1,466.1 954.5,466.2 956.0,466.3 957.5,466.4 959.0,466.4 960.4,466.5 961.9,466.6 963.4,466.7 964.8,466.8 966.3,466.8 967.8,466.9 969.2,467.0 970.7,467.2 972.2,467.3 973.7,467.4 975.1,467.5 976.6,467.7 978.1,467.8 979.5,468.0 981.0,468.1 982.5,468.3 984.0,468.5 985.4,468.6 986.9,468.8 988.4,469.0 989.8,469.1 991.3,469.3 992.8,469.5 994.2,469.6 995.7,469.8 997.2,470.0 998.6,470.1 1000.1,470.3 1001.6,470.5 1003.1,470.6 1004.5,470.8 1006.0,470.9 1007.5,471.1 1008.9,471.2 1010.4,471.3 1011.9,471.5 1013.4,471.6 1014.8,471.7 1016.3,471.8 1017.8,471.9 1019.2,472.0 1020.7,472.1 1022.2,472.2 1023.6,472.2 1025.1,472.3 1026.6,472.4 1028.0,472.5 1029.5,472.6 1031.0,472.7 1032.5,472.8 1033.9,472.8 1035.4,472.9 1036.9,473.0 1038.3,473.1 1039.8,473.2 1041.3,473.3 1042.8,473.4 1044.2,473.5 1045.7,473.7 1047.2,473.8 1048.6,473.9 1050.1,474.1 1051.6,474.2 1053.0,474.4 1054.5,474.6 1056.0,474.7 1057.5,474.9 1058.9,475.2 1060.4,475.5 1061.9,475.8 1063.3,476.1 1064.8,476.5 1066.3,477.0 1067.7,477.4 1069.2,477.9 1070.7,478.4 1072.2,478.9 1073.6,479.4 1075.1,480.0 1076.6,480.6 1078.0,481.2 1079.5,481.8 1081.0,482.5 1082.4,483.3 1083.9,484.1 1085.4,485.1 1086.8,486.1 1088.3,487.1 1089.8,488.2 1091.3,489.3 1092.7,490.5 1094.2,491.6 1095.7,492.8 1097.1,494.0 1098.6,495.1 1100.1,496.2 1101.5,497.3 1103.0,498.4 1104.5,499.5 1106.0,500.7 1107.4,501.9 1108.9,503.1 1110.4,504.3 1111.8,505.5 1113.3,506.7 1114.8,507.9 1116.2,509.1 1117.7,510.2 1119.2,511.3 1120.7,512.3 1122.1,513.2 1123.6,514.1 1125.1,514.9 1126.5,515.7 1128.0,516.6 1129.5,517.4 1131.0,518.2 1132.4,518.9 1133.9,519.6 1135.4,520.1 1136.8,520.4 1138.3,520.6 1139.8,520.6 1141.2,520.5 1142.7,520.3 1144.2,520.0 1145.7,519.8 1147.1,519.4 1148.6,519.0 1150.1,518.6 1151.5,518.2 1153.0,517.8 1154.5,517.3 1155.9,516.9 1157.4,516.5 1158.9,516.1 1160.3,515.7 1161.8,515.3 1163.3,514.9 1164.8,514.5 1166.2,514.1 1167.7,513.6 1169.2,513.2 1170.6,512.7 1172.1,512.3 1173.6,511.8 1175.0,511.3 1176.5,510.8 1178.0,510.4 1179.5,509.9 1180.9,509.4 1182.4,508.9 1183.9,508.5 1185.3,508.0 1186.8,507.6 1188.3,507.2 1189.8,506.7 1191.2,506.3 1192.7,505.9 1194.2,505.6 1195.6,505.2 1197.1,504.8 1198.6,504.4 1200.0,504.0 1201.5,503.6 1203.0,503.2 1204.5,502.8 1205.9,502.4 1207.4,502.0 1208.9,501.6 1210.3,501.2 1211.8,500.8 1213.3,500.4 1214.7,500.0 1216.2,499.7 1217.7,499.3 1219.2,499.0 1220.6,498.6 1222.1,498.3 1223.6,498.0 1225.0,497.7 1226.5,497.4 1228.0,497.1 1229.4,496.9 1230.9,496.7 1232.4,496.5 1233.8,496.3 1235.3,496.1 1236.8,496.0 1238.3,495.9 1239.7,495.8 1241.2,495.8 1242.7,495.7 1244.1,495.7 1245.6,495.6 1247.1,495.6 1248.5,495.5 1250.0,495.5 1251.5,495.5 1253.0,495.5 1254.4,495.4 1255.9,495.4 1257.4,495.4 1258.8,495.4 1260.3,495.3 1261.8,495.3 1263.2,495.3 1264.7,495.2 1266.2,495.2 1267.7,495.2 1269.1,495.1 1270.6,495.1 1272.1,495.0 1273.5,494.9 1275.0,494.9 1276.5,494.8 1278.0,494.6 1279.4,494.5 1280.9,494.3 1282.4,494.1 1283.8,493.8 1285.3,493.6 1286.8,493.4 1288.2,493.1 1289.7,492.8 1291.2,492.5 1292.7,492.2 1294.1,491.9 1295.6,491.6 1297.1,491.2 1298.5,490.9 1300.0,490.6" fill="none" stroke="#737373" stroke-width="7" stroke-linejoin="round" stroke-linecap="butt"/>
<polyline points="859.0,490.8 860.5,490.8 861.9,490.8 863.4,490.8 864.9,490.8 866.4,490.8 867.8,490.8 869.3,490.8 870.8,490.8 872.2,490.8 873.7,490.8 875.2,490.8 876.6,490.8 878.1,490.8 879.6,490.6 881.0,490.2 882.5,489.6 884.0,488.9 885.5,488.1 886.9,487.2 888.4,486.2 889.9,485.3 891.3,484.3 892.8,483.3 894.3,482.5 895.8,481.7 897.2,480.9 898.7,480.1 900.2,479.2 901.6,478.2 903.1,477.3 904.6,476.4 906.0,475.5 907.5,474.7 909.0,474.0 910.5,473.4 911.9,472.9 913.4,472.6 914.9,472.4 916.3,472.3 917.8,472.1 919.3,472.0 920.7,471.9 922.2,471.8 923.7,471.7 925.1,471.6 926.6,471.5 928.1,471.5 929.6,471.4 931.0,471.4 932.5,471.3 934.0,471.3 935.4,471.3 936.9,471.4 938.4,471.4 939.9,471.4 941.3,471.5 942.8,471.6 944.3,471.7 945.7,471.8 947.2,471.9 948.7,472.1 950.1,472.2 951.6,472.3 953.1,472.5 954.5,472.6 956.0,472.8 957.5,472.9 959.0,473.1 960.4,473.2 961.9,473.4 963.4,473.5 964.8,473.6 966.3,473.8 967.8,473.9 969.2,474.1 970.7,474.2 972.2,474.3 973.7,474.5 975.1,474.7 976.6,474.8 978.1,475.0 979.5,475.1 981.0,475.3 982.5,475.5 984.0,475.6 985.4,475.8 986.9,476.0 988.4,476.1 989.8,476.3 991.3,476.4 992.8,476.6 994.2,476.8 995.7,476.9 997.2,477.1 998.6,477.2 1000.1,477.4 1001.6,477.5 1003.1,477.6 1004.5,477.8 1006.0,477.9 1007.5,478.0 1008.9,478.1 1010.4,478.2 1011.9,478.3 1013.4,478.4 1014.8,478.5 1016.3,478.6 1017.8,478.6 1019.2,478.7 1020.7,478.8 1022.2,478.8 1023.6,478.9 1025.1,479.0 1026.6,479.0 1028.0,479.1 1029.5,479.1 1031.0,479.2 1032.5,479.2 1033.9,479.3 1035.4,479.4 1036.9,479.4 1038.3,479.5 1039.8,479.5 1041.3,479.6 1042.8,479.7 1044.2,479.7 1045.7,479.8 1047.2,479.9 1048.6,480.0 1050.1,480.1 1051.6,480.2 1053.0,480.3 1054.5,480.4 1056.0,480.5 1057.5,480.6 1058.9,480.7 1060.4,480.9 1061.9,481.0 1063.3,481.2 1064.8,481.4 1066.3,481.5 1067.7,481.8 1069.2,482.0 1070.7,482.2 1072.2,482.5 1073.6,482.7 1075.1,483.0 1076.6,483.3 1078.0,483.7 1079.5,484.0 1081.0,484.5 1082.4,485.1 1083.9,485.8 1085.4,486.7 1086.8,487.6 1088.3,488.6 1089.8,489.6 1091.3,490.7 1092.7,491.9 1094.2,493.0 1095.7,494.2 1097.1,495.3 1098.6,496.4 1100.1,497.5 1101.5,498.5 1103.0,499.5 1104.5,500.5 1106.0,501.6 1107.4,502.6 1108.9,503.7 1110.4,504.8 1111.8,505.9 1113.3,507.0 1114.8,508.1 1116.2,509.1 1117.7,510.1 1119.2,511.0 1120.7,511.8 1122.1,512.6 1123.6,513.2 1125.1,513.8 1126.5,514.3 1128.0,514.8 1129.5,515.3 1131.0,515.8 1132.4,516.2 1133.9,516.6 1135.4,516.9 1136.8,517.1 1138.3,517.1 1139.8,517.1 1141.2,517.1 1142.7,516.9 1144.2,516.8 1145.7,516.5 1147.1,516.3 1148.6,516.0 1150.1,515.7 1151.5,515.4 1153.0,515.1 1154.5,514.8 1155.9,514.4 1157.4,514.1 1158.9,513.8 1160.3,513.5 1161.8,513.2 1163.3,512.8 1164.8,512.5 1166.2,512.1 1167.7,511.7 1169.2,511.3 1170.6,510.9 1172.1,510.5 1173.6,510.0 1175.0,509.6 1176.5,509.2 1178.0,508.7 1179.5,508.3 1180.9,507.9 1182.4,507.4 1183.9,507.0 1185.3,506.6 1186.8,506.2 1188.3,505.8 1189.8,505.4 1191.2,505.1 1192.7,504.8 1194.2,504.4 1195.6,504.1 1197.1,503.8 1198.6,503.5 1200.0,503.2 1201.5,502.8 1203.0,502.5 1204.5,502.2 1205.9,501.9 1207.4,501.5 1208.9,501.2 1210.3,500.9 1211.8,500.6 1213.3,500.3 1214.7,500.0 1216.2,499.7 1217.7,499.4 1219.2,499.1 1220.6,498.9 1222.1,498.6 1223.6,498.4 1225.0,498.1 1226.5,497.9 1228.0,497.7 1229.4,497.5 1230.9,497.3 1232.4,497.1 1233.8,497.0 1235.3,496.8 1236.8,496.7 1238.3,496.6 1239.7,496.5 1241.2,496.4 1242.7,496.4 1244.1,496.3 1245.6,496.3 1247.1,496.2 1248.5,496.2 1250.0,496.1 1251.5,496.1 1253.0,496.1 1254.4,496.0 1255.9,496.0 1257.4,496.0 1258.8,495.9 1260.3,495.9 1261.8,495.9 1263.2,495.8 1264.7,495.8 1266.2,495.7 1267.7,495.7 1269.1,495.6 1270.6,495.6 1272.1,495.5 1273.5,495.4 1275.0,495.3 1276.5,495.2 1278.0,495.0 1279.4,494.8 1280.9,494.6 1282.4,494.4 1283.8,494.2 1285.3,493.9 1286.8,493.6 1288.2,493.3 1289.7,493.0 1291.2,492.7 1292.7,492.3 1294.1,492.0 1295.6,491.6 1297.1,491.3 1298.5,490.9 1300.0,490.6" fill="none" stroke="#f59a3c" stroke-width="7" stroke-linejoin="round" stroke-linecap="butt"/>
<text x="1276.10" y="421.50" font-size="29.57" font-weight="normal" fill="#111" stroke="#111" stroke-width="1.1" textLength="12.25" lengthAdjust="spacingAndGlyphs">E</text>
<text x="803.90" y="405.54" font-size="25.92" font-weight="normal" fill="#5e5e5e" stroke="#5e5e5e" stroke-width="0.4" textLength="27.65" lengthAdjust="spacingAndGlyphs">20</text>
<text x="817.70" y="501.44" font-size="26.06" font-weight="normal" fill="#5e5e5e" stroke="#5e5e5e" stroke-width="0.4" textLength="13.70" lengthAdjust="spacingAndGlyphs">0</text>
<text x="793.70" y="595.43" font-size="27.32" font-weight="normal" fill="#5e5e5e" stroke="#5e5e5e" stroke-width="0.4" textLength="37.67" lengthAdjust="spacingAndGlyphs">-20</text>
<line x1="858" y1="641.9" x2="1300.8" y2="641.9" stroke="#cbcbcb" stroke-width="1.8"/>
<line x1="858" y1="737" x2="1300.8" y2="737" stroke="#cbcbcb" stroke-width="1.8"/>
<line x1="858" y1="836.6" x2="1300.8" y2="836.6" stroke="#cbcbcb" stroke-width="1.8"/>
<rect x="1092.8" y="647.6" width="31.0" height="189.0" fill="#e4e4e4"/>
<path d="M859.0 729.6V753.6M863.4 727.3V751.3M867.8 725.3V749.3M872.2 723.6V747.6M876.6 722.1V746.1M881.0 720.9V744.9M885.5 720.1V744.1M889.9 719.5V743.5M894.3 719.2V743.2M898.7 719.4V743.4M903.1 720.0V744.0M907.5 721.0V745.0M911.9 721.9V745.9M916.3 722.6V746.6M920.7 722.6V746.6M925.1 722.4V746.4M929.6 722.1V746.1M934.0 721.8V745.8M938.4 721.6V745.6M942.8 721.5V745.5M947.2 721.9V745.9M951.6 722.7V746.7M956.0 723.6V747.6M960.4 724.4V748.4M964.8 725.0V749.0M969.2 725.3V749.3M973.7 725.6V749.6M978.1 726.0V750.0M982.5 726.3V750.3M986.9 726.5V750.5M991.3 726.7V750.7M995.7 726.9V750.9M1000.1 727.1V751.1M1004.5 727.2V751.2M1008.9 727.2V751.2M1013.4 727.2V751.2M1017.8 727.2V751.2M1022.2 727.0V751.0M1026.6 726.9V750.9M1031.0 726.8V750.8M1035.4 726.6V750.6M1039.8 726.4V750.4M1044.2 726.3V750.3M1048.6 726.2V750.2M1053.0 726.1V750.1M1057.5 726.1V750.1M1061.9 726.2V750.2M1066.3 726.6V750.6M1070.7 727.0V751.0M1075.1 727.5V751.5M1079.5 728.1V752.1M1083.9 728.7V752.7M1088.3 729.3V753.3M1092.7 729.8V753.8M1097.1 730.5V754.5M1101.5 731.2V755.2M1106.0 731.9V755.9M1110.4 732.6V756.6M1114.8 733.1V757.1M1119.2 733.7V757.7M1123.6 734.3V758.3M1128.0 734.8V758.8M1132.4 735.1V759.1M1136.8 735.3V759.3M1141.2 734.8V758.8M1145.7 733.8V757.8M1150.1 732.5V756.5M1154.5 731.0V755.0M1158.9 729.6V753.6M1163.3 728.4V752.4M1167.7 726.9V750.9M1172.1 725.4V749.4M1176.5 723.8V747.8M1180.9 722.3V746.3M1185.3 721.0V745.0M1189.8 719.9V743.9M1194.2 719.1V743.1M1198.6 718.5V742.5M1203.0 717.9V741.9M1207.4 717.4V741.4M1211.8 717.1V741.1M1216.2 716.9V740.9M1220.6 716.9V740.9M1225.0 717.0V741.0M1229.4 717.1V741.1M1233.8 717.2V741.2M1238.3 717.3V741.3M1242.7 717.8V741.8M1247.1 719.2V743.2M1251.5 721.3V745.3M1255.9 723.8V747.8M1260.3 726.2V750.2M1264.7 728.4V752.4M1269.1 730.0V754.0M1273.5 730.7V754.7M1278.0 730.7V754.7M1282.4 730.6V754.6M1286.8 730.5V754.5M1291.2 730.3V754.3M1295.6 729.9V753.9M1300.0 729.4V753.4" stroke="#f7d0b0" stroke-width="1.2" fill="none"/>
<path d="M859.0 729.6V753.6M863.4 727.3V751.3M867.8 725.3V749.3M872.2 723.6V747.6M876.6 722.1V746.1M881.0 720.9V744.9M885.5 720.1V744.1M889.9 719.5V743.5M894.3 719.2V743.2M898.7 719.4V743.4M903.1 720.0V744.0M907.5 721.0V745.0M911.9 721.9V745.9M916.3 722.6V746.6M920.7 722.6V746.6M925.1 722.4V746.4M929.6 722.1V746.1M934.0 721.8V745.8M938.4 721.6V745.6M942.8 721.5V745.5M947.2 721.9V745.9M951.6 722.7V746.7M956.0 723.6V747.6M960.4 724.4V748.4M964.8 725.0V749.0M969.2 725.3V749.3M973.7 725.6V749.6M978.1 726.0V750.0M982.5 726.3V750.3M986.9 726.5V750.5M991.3 726.7V750.7M995.7 726.9V750.9M1000.1 727.1V751.1M1004.5 727.2V751.2M1008.9 727.2V751.2M1013.4 727.2V751.2M1017.8 727.2V751.2M1022.2 727.0V751.0M1026.6 726.9V750.9M1031.0 726.8V750.8M1035.4 726.6V750.6M1039.8 726.4V750.4M1044.2 726.3V750.3M1048.6 726.2V750.2M1053.0 726.1V750.1M1057.5 726.1V750.1M1061.9 726.2V750.2M1066.3 726.5V750.5M1070.7 726.9V750.9M1075.1 727.4V751.4M1079.5 727.9V751.9M1083.9 728.6V752.6M1088.3 729.2V753.2M1092.7 729.9V753.9M1097.1 730.9V754.9M1101.5 732.1V756.1M1106.0 733.4V757.4M1110.4 734.6V758.6M1114.8 735.5V759.5M1119.2 736.4V760.4M1123.6 737.3V761.3M1128.0 738.0V762.0M1132.4 738.5V762.5M1136.8 738.7V762.7M1141.2 738.0V762.0M1145.7 736.4V760.4M1150.1 734.4V758.4M1154.5 732.4V756.4M1158.9 730.8V754.8M1163.3 729.7V753.7M1167.7 728.6V752.6M1172.1 727.6V751.6M1176.5 726.7V750.7M1180.9 725.8V749.8M1185.3 725.0V749.0M1189.8 724.3V748.3M1194.2 723.7V747.7M1198.6 723.2V747.2M1203.0 722.8V746.8M1207.4 722.4V746.4M1211.8 722.0V746.0M1216.2 721.5V745.5M1220.6 721.0V745.0M1225.0 720.3V744.3M1229.4 719.6V743.6M1233.8 719.1V743.1M1238.3 718.8V742.8M1242.7 719.0V743.0M1247.1 720.1V744.1M1251.5 721.8V745.8M1255.9 723.8V747.8M1260.3 725.8V749.8M1264.7 727.7V751.7M1269.1 729.0V753.0M1273.5 729.5V753.5M1278.0 729.5V753.5M1282.4 729.5V753.5M1286.8 729.5V753.5M1291.2 729.5V753.5M1295.6 729.5V753.5M1300.0 729.5V753.5" stroke="#bdbdbd" stroke-width="1.2" fill="none"/>
<polyline points="859.0,741.6 860.5,740.8 861.9,740.1 863.4,739.3 864.9,738.6 866.4,738.0 867.8,737.3 869.3,736.7 870.8,736.1 872.2,735.6 873.7,735.1 875.2,734.6 876.6,734.1 878.1,733.7 879.6,733.3 881.0,732.9 882.5,732.6 884.0,732.3 885.5,732.1 886.9,731.9 888.4,731.7 889.9,731.5 891.3,731.4 892.8,731.3 894.3,731.2 895.8,731.2 897.2,731.3 898.7,731.4 900.2,731.5 901.6,731.8 903.1,732.0 904.6,732.3 906.0,732.7 907.5,733.0 909.0,733.3 910.5,733.6 911.9,733.9 913.4,734.2 914.9,734.4 916.3,734.6 917.8,734.6 919.3,734.7 920.7,734.6 922.2,734.6 923.7,734.5 925.1,734.4 926.6,734.3 928.1,734.2 929.6,734.1 931.0,734.0 932.5,733.9 934.0,733.8 935.4,733.7 936.9,733.6 938.4,733.6 939.9,733.5 941.3,733.5 942.8,733.5 944.3,733.6 945.7,733.8 947.2,733.9 948.7,734.2 950.1,734.4 951.6,734.7 953.1,735.0 954.5,735.3 956.0,735.6 957.5,735.9 959.0,736.2 960.4,736.4 961.9,736.7 963.4,736.8 964.8,737.0 966.3,737.1 967.8,737.2 969.2,737.3 970.7,737.4 972.2,737.5 973.7,737.6 975.1,737.8 976.6,737.9 978.1,738.0 979.5,738.1 981.0,738.2 982.5,738.3 984.0,738.3 985.4,738.4 986.9,738.5 988.4,738.6 989.8,738.7 991.3,738.7 992.8,738.8 994.2,738.9 995.7,738.9 997.2,739.0 998.6,739.0 1000.1,739.1 1001.6,739.1 1003.1,739.2 1004.5,739.2 1006.0,739.2 1007.5,739.2 1008.9,739.2 1010.4,739.2 1011.9,739.2 1013.4,739.2 1014.8,739.2 1016.3,739.2 1017.8,739.2 1019.2,739.1 1020.7,739.1 1022.2,739.0 1023.6,739.0 1025.1,739.0 1026.6,738.9 1028.0,738.9 1029.5,738.8 1031.0,738.8 1032.5,738.7 1033.9,738.6 1035.4,738.6 1036.9,738.5 1038.3,738.5 1039.8,738.4 1041.3,738.4 1042.8,738.3 1044.2,738.3 1045.7,738.2 1047.2,738.2 1048.6,738.2 1050.1,738.1 1051.6,738.1 1053.0,738.1 1054.5,738.1 1056.0,738.1 1057.5,738.1 1058.9,738.1 1060.4,738.2 1061.9,738.2 1063.3,738.3 1064.8,738.4 1066.3,738.5 1067.7,738.6 1069.2,738.7 1070.7,738.9 1072.2,739.0 1073.6,739.2 1075.1,739.4 1076.6,739.6 1078.0,739.7 1079.5,739.9 1081.0,740.1 1082.4,740.3 1083.9,740.6 1085.4,740.8 1086.8,741.0 1088.3,741.2 1089.8,741.4 1091.3,741.6 1092.7,741.9 1094.2,742.2 1095.7,742.5 1097.1,742.9 1098.6,743.3 1100.1,743.7 1101.5,744.1 1103.0,744.6 1104.5,745.0 1106.0,745.4 1107.4,745.8 1108.9,746.2 1110.4,746.6 1111.8,746.9 1113.3,747.2 1114.8,747.5 1116.2,747.8 1117.7,748.1 1119.2,748.4 1120.7,748.7 1122.1,749.0 1123.6,749.3 1125.1,749.5 1126.5,749.8 1128.0,750.0 1129.5,750.2 1131.0,750.4 1132.4,750.5 1133.9,750.6 1135.4,750.7 1136.8,750.7 1138.3,750.6 1139.8,750.3 1141.2,750.0 1142.7,749.5 1144.2,749.0 1145.7,748.4 1147.1,747.7 1148.6,747.1 1150.1,746.4 1151.5,745.7 1153.0,745.0 1154.5,744.4 1155.9,743.8 1157.4,743.2 1158.9,742.8 1160.3,742.4 1161.8,742.0 1163.3,741.7 1164.8,741.3 1166.2,740.9 1167.7,740.6 1169.2,740.3 1170.6,739.9 1172.1,739.6 1173.6,739.3 1175.0,739.0 1176.5,738.7 1178.0,738.4 1179.5,738.1 1180.9,737.8 1182.4,737.5 1183.9,737.3 1185.3,737.0 1186.8,736.8 1188.3,736.6 1189.8,736.3 1191.2,736.1 1192.7,735.9 1194.2,735.7 1195.6,735.6 1197.1,735.4 1198.6,735.2 1200.0,735.1 1201.5,734.9 1203.0,734.8 1204.5,734.7 1205.9,734.5 1207.4,734.4 1208.9,734.3 1210.3,734.1 1211.8,734.0 1213.3,733.8 1214.7,733.7 1216.2,733.5 1217.7,733.4 1219.2,733.2 1220.6,733.0 1222.1,732.8 1223.6,732.5 1225.0,732.3 1226.5,732.1 1228.0,731.8 1229.4,731.6 1230.9,731.4 1232.4,731.2 1233.8,731.1 1235.3,730.9 1236.8,730.8 1238.3,730.8 1239.7,730.8 1241.2,730.8 1242.7,731.0 1244.1,731.3 1245.6,731.7 1247.1,732.1 1248.5,732.6 1250.0,733.2 1251.5,733.8 1253.0,734.4 1254.4,735.1 1255.9,735.8 1257.4,736.5 1258.8,737.2 1260.3,737.8 1261.8,738.5 1263.2,739.1 1264.7,739.7 1266.2,740.2 1267.7,740.6 1269.1,741.0 1270.6,741.3 1272.1,741.4 1273.5,741.5 1275.0,741.5 1276.5,741.5 1278.0,741.5 1279.4,741.5 1280.9,741.5 1282.4,741.5 1283.8,741.5 1285.3,741.5 1286.8,741.5 1288.2,741.5 1289.7,741.5 1291.2,741.5 1292.7,741.5 1294.1,741.5 1295.6,741.5 1297.1,741.5 1298.5,741.5 1300.0,741.5" fill="none" stroke="#737373" stroke-width="7" stroke-linejoin="round" stroke-linecap="butt"/>
<polyline points="859.0,741.6 860.5,740.8 861.9,740.1 863.4,739.3 864.9,738.6 866.4,738.0 867.8,737.3 869.3,736.7 870.8,736.1 872.2,735.6 873.7,735.1 875.2,734.6 876.6,734.1 878.1,733.7 879.6,733.3 881.0,732.9 882.5,732.6 884.0,732.3 885.5,732.1 886.9,731.9 888.4,731.7 889.9,731.5 891.3,731.4 892.8,731.3 894.3,731.2 895.8,731.2 897.2,731.3 898.7,731.4 900.2,731.5 901.6,731.8 903.1,732.0 904.6,732.3 906.0,732.7 907.5,733.0 909.0,733.3 910.5,733.6 911.9,733.9 913.4,734.2 914.9,734.4 916.3,734.6 917.8,734.6 919.3,734.7 920.7,734.6 922.2,734.6 923.7,734.5 925.1,734.4 926.6,734.3 928.1,734.2 929.6,734.1 931.0,734.0 932.5,733.9 934.0,733.8 935.4,733.7 936.9,733.6 938.4,733.6 939.9,733.5 941.3,733.5 942.8,733.5 944.3,733.6 945.7,733.8 947.2,733.9 948.7,734.2 950.1,734.4 951.6,734.7 953.1,735.0 954.5,735.3 956.0,735.6 957.5,735.9 959.0,736.2 960.4,736.4 961.9,736.7 963.4,736.8 964.8,737.0 966.3,737.1 967.8,737.2 969.2,737.3 970.7,737.4 972.2,737.5 973.7,737.6 975.1,737.8 976.6,737.9 978.1,738.0 979.5,738.1 981.0,738.2 982.5,738.3 984.0,738.3 985.4,738.4 986.9,738.5 988.4,738.6 989.8,738.7 991.3,738.7 992.8,738.8 994.2,738.9 995.7,738.9 997.2,739.0 998.6,739.0 1000.1,739.1 1001.6,739.1 1003.1,739.2 1004.5,739.2 1006.0,739.2 1007.5,739.2 1008.9,739.2 1010.4,739.2 1011.9,739.2 1013.4,739.2 1014.8,739.2 1016.3,739.2 1017.8,739.2 1019.2,739.1 1020.7,739.1 1022.2,739.0 1023.6,739.0 1025.1,739.0 1026.6,738.9 1028.0,738.9 1029.5,738.8 1031.0,738.8 1032.5,738.7 1033.9,738.6 1035.4,738.6 1036.9,738.5 1038.3,738.5 1039.8,738.4 1041.3,738.4 1042.8,738.3 1044.2,738.3 1045.7,738.2 1047.2,738.2 1048.6,738.2 1050.1,738.1 1051.6,738.1 1053.0,738.1 1054.5,738.1 1056.0,738.1 1057.5,738.1 1058.9,738.1 1060.4,738.2 1061.9,738.2 1063.3,738.3 1064.8,738.4 1066.3,738.6 1067.7,738.7 1069.2,738.8 1070.7,739.0 1072.2,739.1 1073.6,739.3 1075.1,739.5 1076.6,739.7 1078.0,739.9 1079.5,740.1 1081.0,740.3 1082.4,740.5 1083.9,740.7 1085.4,740.9 1086.8,741.1 1088.3,741.3 1089.8,741.4 1091.3,741.6 1092.7,741.8 1094.2,742.0 1095.7,742.2 1097.1,742.5 1098.6,742.7 1100.1,742.9 1101.5,743.2 1103.0,743.4 1104.5,743.7 1106.0,743.9 1107.4,744.1 1108.9,744.3 1110.4,744.6 1111.8,744.8 1113.3,744.9 1114.8,745.1 1116.2,745.3 1117.7,745.5 1119.2,745.7 1120.7,745.9 1122.1,746.1 1123.6,746.3 1125.1,746.5 1126.5,746.6 1128.0,746.8 1129.5,746.9 1131.0,747.1 1132.4,747.1 1133.9,747.2 1135.4,747.2 1136.8,747.3 1138.3,747.2 1139.8,747.0 1141.2,746.8 1142.7,746.5 1144.2,746.2 1145.7,745.8 1147.1,745.4 1148.6,744.9 1150.1,744.5 1151.5,744.0 1153.0,743.5 1154.5,743.0 1155.9,742.5 1157.4,742.1 1158.9,741.6 1160.3,741.2 1161.8,740.8 1163.3,740.4 1164.8,739.9 1166.2,739.4 1167.7,738.9 1169.2,738.4 1170.6,737.9 1172.1,737.4 1173.6,736.8 1175.0,736.3 1176.5,735.8 1178.0,735.3 1179.5,734.8 1180.9,734.3 1182.4,733.9 1183.9,733.4 1185.3,733.0 1186.8,732.6 1188.3,732.3 1189.8,731.9 1191.2,731.6 1192.7,731.4 1194.2,731.1 1195.6,730.9 1197.1,730.7 1198.6,730.5 1200.0,730.3 1201.5,730.1 1203.0,729.9 1204.5,729.7 1205.9,729.6 1207.4,729.4 1208.9,729.3 1210.3,729.2 1211.8,729.1 1213.3,729.0 1214.7,729.0 1216.2,728.9 1217.7,728.9 1219.2,728.9 1220.6,728.9 1222.1,729.0 1223.6,729.0 1225.0,729.0 1226.5,729.0 1228.0,729.1 1229.4,729.1 1230.9,729.1 1232.4,729.2 1233.8,729.2 1235.3,729.2 1236.8,729.3 1238.3,729.3 1239.7,729.4 1241.2,729.5 1242.7,729.8 1244.1,730.2 1245.6,730.7 1247.1,731.2 1248.5,731.9 1250.0,732.6 1251.5,733.3 1253.0,734.1 1254.4,734.9 1255.9,735.8 1257.4,736.6 1258.8,737.4 1260.3,738.2 1261.8,739.0 1263.2,739.8 1264.7,740.4 1266.2,741.0 1267.7,741.6 1269.1,742.0 1270.6,742.4 1272.1,742.6 1273.5,742.7 1275.0,742.7 1276.5,742.7 1278.0,742.7 1279.4,742.7 1280.9,742.6 1282.4,742.6 1283.8,742.6 1285.3,742.6 1286.8,742.5 1288.2,742.5 1289.7,742.4 1291.2,742.3 1292.7,742.2 1294.1,742.1 1295.6,741.9 1297.1,741.8 1298.5,741.6 1300.0,741.4" fill="none" stroke="#f59a3c" stroke-width="7" stroke-linejoin="round" stroke-linecap="butt"/>
<text x="1276.10" y="680.90" font-size="28.99" font-weight="normal" fill="#111" stroke="#111" stroke-width="1.1" textLength="13.74" lengthAdjust="spacingAndGlyphs">H</text>
<text x="803.90" y="650.54" font-size="25.92" font-weight="normal" fill="#5e5e5e" stroke="#5e5e5e" stroke-width="0.4" textLength="27.65" lengthAdjust="spacingAndGlyphs">20</text>
<text x="817.70" y="746.44" font-size="26.06" font-weight="normal" fill="#5e5e5e" stroke="#5e5e5e" stroke-width="0.4" textLength="13.70" lengthAdjust="spacingAndGlyphs">0</text>
<text x="793.70" y="845.03" font-size="27.18" font-weight="normal" fill="#5e5e5e" stroke="#5e5e5e" stroke-width="0.4" textLength="37.67" lengthAdjust="spacingAndGlyphs">-20</text>
<line x1="859" y1="889.2" x2="1300" y2="889.2" stroke="#cbcbcb" stroke-width="1.8"/>
<line x1="859" y1="980.4" x2="1300" y2="980.4" stroke="#cbcbcb" stroke-width="1.8"/>
<line x1="859" y1="1073.2" x2="1300" y2="1073.2" stroke="#cbcbcb" stroke-width="1.8"/>
<rect x="1092.8" y="887.6" width="31.0" height="185.60000000000002" fill="#e4e4e4"/>
<path d="M860.3 984.4V1024.4M864.7 984.6V1024.6M869.1 984.9V1024.9M873.5 985.4V1025.4M877.8 986.5V1026.5M882.2 990.0V1030.0M886.6 995.0V1035.0M891.0 1000.3V1040.3M895.4 1004.8V1044.8M899.8 1007.2V1047.2M904.2 1007.9V1047.9M908.6 1008.4V1048.4M912.9 1008.8V1048.8M917.3 1009.2V1049.2M921.7 1009.4V1049.4M926.1 1009.6V1049.6M930.5 1009.6V1049.6M934.9 1009.6V1049.6M939.3 1009.4V1049.4M943.7 1009.2V1049.2M948.0 1008.9V1048.9M952.4 1008.5V1048.5M956.8 1008.2V1048.2M961.2 1007.9V1047.9M965.6 1007.6V1047.6M970.0 1007.5V1047.5M974.4 1007.4V1047.4M978.7 1007.3V1047.3M983.1 1007.3V1047.3M987.5 1007.3V1047.3M991.9 1007.3V1047.3M996.3 1007.3V1047.3M1000.7 1007.3V1047.3M1005.1 1007.3V1047.3M1009.5 1007.3V1047.3M1013.8 1007.3V1047.3M1018.2 1007.3V1047.3M1022.6 1007.3V1047.3M1027.0 1007.2V1047.2M1031.4 1007.0V1047.0M1035.8 1006.7V1046.7M1040.2 1006.2V1046.2M1044.6 1005.6V1045.6M1048.9 1005.0V1045.0M1053.3 1004.4V1044.4M1057.7 1003.6V1043.6M1062.1 1002.6V1042.6M1066.5 1001.2V1041.2M1070.9 999.5V1039.5M1075.3 997.6V1037.6M1079.7 995.6V1035.6M1084.0 993.2V1033.2M1088.4 990.2V1030.2M1092.8 987.0V1027.0M1097.2 983.9V1023.9M1101.6 981.2V1021.2M1106.0 978.8V1018.8M1110.4 976.2V1016.2M1114.7 973.9V1013.9M1119.1 972.3V1012.3M1123.5 971.9V1011.9M1127.9 972.8V1012.8M1132.3 974.6V1014.6M1136.7 976.6V1016.6M1141.1 979.1V1019.1M1145.5 982.2V1022.2M1149.8 985.3V1025.3M1154.2 987.7V1027.7M1158.6 989.2V1029.2M1163.0 990.6V1030.6M1167.4 991.8V1031.8M1171.8 992.9V1032.9M1176.2 993.8V1033.8M1180.6 994.5V1034.5M1184.9 995.1V1035.1M1189.3 995.8V1035.8M1193.7 996.3V1036.3M1198.1 996.7V1036.7M1202.5 997.0V1037.0M1206.9 997.0V1037.0M1211.3 996.9V1036.9M1215.6 996.8V1036.8M1220.0 996.5V1036.5M1224.4 996.2V1036.2M1228.8 995.8V1035.8M1233.2 995.2V1035.2M1237.6 994.1V1034.1M1242.0 992.9V1032.9M1246.4 991.5V1031.5M1250.7 990.2V1030.2M1255.1 988.6V1028.6M1259.5 986.6V1026.6M1263.9 984.6V1024.6M1268.3 983.0V1023.0M1272.7 982.2V1022.2M1277.1 982.2V1022.2M1281.5 982.3V1022.3M1285.8 982.6V1022.6M1290.2 983.2V1023.2M1294.6 984.1V1024.1M1299.0 985.6V1025.6" stroke="#f7d0b0" stroke-width="1.2" fill="none"/>
<path d="M860.3 979.1V1009.1M864.7 979.2V1009.2M869.1 979.6V1009.6M873.5 980.1V1010.1M877.8 981.3V1011.3M882.2 985.6V1015.6M886.6 991.6V1021.6M891.0 997.9V1027.9M895.4 1003.0V1033.0M899.8 1005.4V1035.4M904.2 1005.5V1035.5M908.6 1005.5V1035.5M912.9 1005.5V1035.5M917.3 1005.5V1035.5M921.7 1005.5V1035.5M926.1 1005.5V1035.5M930.5 1005.5V1035.5M934.9 1005.4V1035.4M939.3 1005.2V1035.2M943.7 1004.9V1034.9M948.0 1004.5V1034.5M952.4 1004.0V1034.0M956.8 1003.6V1033.6M961.2 1003.1V1033.1M965.6 1002.7V1032.7M970.0 1002.4V1032.4M974.4 1002.1V1032.1M978.7 1001.9V1031.9M983.1 1001.8V1031.8M987.5 1001.7V1031.7M991.9 1001.6V1031.6M996.3 1001.5V1031.5M1000.7 1001.5V1031.5M1005.1 1001.4V1031.4M1009.5 1001.3V1031.3M1013.8 1001.2V1031.2M1018.2 1001.0V1031.0M1022.6 1000.9V1030.9M1027.0 1000.6V1030.6M1031.4 1000.1V1030.1M1035.8 999.6V1029.6M1040.2 999.0V1029.0M1044.6 998.3V1028.3M1048.9 997.6V1027.6M1053.3 996.8V1026.8M1057.7 996.0V1026.0M1062.1 995.2V1025.2M1066.5 994.3V1024.3M1070.9 993.2V1023.2M1075.3 991.9V1021.9M1079.7 990.4V1020.4M1084.0 988.1V1018.1M1088.4 985.1V1015.1M1092.8 981.7V1011.7M1097.2 978.2V1008.2M1101.6 974.8V1004.8M1106.0 971.3V1001.3M1110.4 967.4V997.4M1114.7 963.9V993.9M1119.1 962.1V992.1M1123.5 962.5V992.5M1127.9 964.6V994.6M1132.3 967.2V997.2M1136.7 971.3V1001.3M1141.1 976.3V1006.3M1145.5 981.3V1011.3M1149.8 985.5V1015.5M1154.2 988.1V1018.1M1158.6 989.3V1019.3M1163.0 990.2V1020.2M1167.4 990.9V1020.9M1171.8 991.5V1021.5M1176.2 992.0V1022.0M1180.6 992.6V1022.6M1184.9 993.3V1023.3M1189.3 994.2V1024.2M1193.7 995.1V1025.1M1198.1 995.8V1025.8M1202.5 996.2V1026.2M1206.9 996.3V1026.3M1211.3 996.2V1026.2M1215.6 996.0V1026.0M1220.0 995.8V1025.8M1224.4 995.5V1025.5M1228.8 995.1V1025.1M1233.2 994.1V1024.1M1237.6 992.6V1022.6M1242.0 990.7V1020.7M1246.4 988.9V1018.9M1250.7 987.2V1017.2M1255.1 985.6V1015.6M1259.5 983.9V1013.9M1263.9 982.2V1012.2M1268.3 981.0V1011.0M1272.7 980.3V1010.3M1277.1 980.3V1010.3M1281.5 980.3V1010.3M1285.8 980.3V1010.3M1290.2 980.3V1010.3M1294.6 980.3V1010.3M1299.0 980.3V1010.3" stroke="#bdbdbd" stroke-width="1.2" fill="none"/>
<polyline points="860.3,994.1 861.8,994.1 863.2,994.2 864.7,994.2 866.1,994.3 867.6,994.4 869.1,994.6 870.5,994.7 872.0,994.9 873.5,995.1 874.9,995.2 876.4,995.6 877.8,996.3 879.3,997.5 880.8,998.9 882.2,1000.6 883.7,1002.4 885.2,1004.5 886.6,1006.6 888.1,1008.7 889.5,1010.8 891.0,1012.9 892.5,1014.8 893.9,1016.5 895.4,1018.0 896.9,1019.2 898.3,1020.0 899.8,1020.4 901.2,1020.5 902.7,1020.5 904.2,1020.5 905.6,1020.5 907.1,1020.5 908.6,1020.5 910.0,1020.5 911.5,1020.5 912.9,1020.5 914.4,1020.5 915.9,1020.5 917.3,1020.5 918.8,1020.5 920.3,1020.5 921.7,1020.5 923.2,1020.5 924.6,1020.5 926.1,1020.5 927.6,1020.5 929.0,1020.5 930.5,1020.5 932.0,1020.5 933.4,1020.4 934.9,1020.4 936.3,1020.3 937.8,1020.3 939.3,1020.2 940.7,1020.1 942.2,1020.0 943.7,1019.9 945.1,1019.7 946.6,1019.6 948.0,1019.5 949.5,1019.3 951.0,1019.2 952.4,1019.0 953.9,1018.9 955.4,1018.7 956.8,1018.6 958.3,1018.4 959.7,1018.3 961.2,1018.1 962.7,1018.0 964.1,1017.9 965.6,1017.7 967.1,1017.6 968.5,1017.5 970.0,1017.4 971.4,1017.3 972.9,1017.2 974.4,1017.1 975.8,1017.0 977.3,1017.0 978.7,1016.9 980.2,1016.9 981.7,1016.9 983.1,1016.8 984.6,1016.8 986.1,1016.7 987.5,1016.7 989.0,1016.7 990.4,1016.7 991.9,1016.6 993.4,1016.6 994.8,1016.6 996.3,1016.5 997.8,1016.5 999.2,1016.5 1000.7,1016.5 1002.1,1016.4 1003.6,1016.4 1005.1,1016.4 1006.5,1016.4 1008.0,1016.3 1009.5,1016.3 1010.9,1016.3 1012.4,1016.2 1013.8,1016.2 1015.3,1016.1 1016.8,1016.1 1018.2,1016.0 1019.7,1016.0 1021.2,1015.9 1022.6,1015.9 1024.1,1015.8 1025.5,1015.7 1027.0,1015.6 1028.5,1015.4 1029.9,1015.3 1031.4,1015.1 1032.9,1015.0 1034.3,1014.8 1035.8,1014.6 1037.2,1014.4 1038.7,1014.2 1040.2,1014.0 1041.6,1013.8 1043.1,1013.6 1044.6,1013.3 1046.0,1013.1 1047.5,1012.8 1048.9,1012.6 1050.4,1012.3 1051.9,1012.1 1053.3,1011.8 1054.8,1011.6 1056.3,1011.3 1057.7,1011.0 1059.2,1010.8 1060.6,1010.5 1062.1,1010.2 1063.6,1009.9 1065.0,1009.6 1066.5,1009.3 1068.0,1008.9 1069.4,1008.6 1070.9,1008.2 1072.3,1007.8 1073.8,1007.3 1075.3,1006.9 1076.7,1006.4 1078.2,1005.9 1079.7,1005.4 1081.1,1004.7 1082.6,1004.0 1084.0,1003.1 1085.5,1002.2 1087.0,1001.2 1088.4,1000.1 1089.9,999.0 1091.3,997.9 1092.8,996.7 1094.3,995.5 1095.7,994.3 1097.2,993.2 1098.7,992.0 1100.1,990.9 1101.6,989.8 1103.0,988.8 1104.5,987.6 1106.0,986.3 1107.4,985.0 1108.9,983.7 1110.4,982.4 1111.8,981.1 1113.3,979.9 1114.7,978.9 1116.2,978.1 1117.7,977.4 1119.1,977.1 1120.6,977.0 1122.1,977.1 1123.5,977.5 1125.0,978.1 1126.4,978.8 1127.9,979.6 1129.4,980.3 1130.8,981.1 1132.3,982.2 1133.8,983.4 1135.2,984.8 1136.7,986.3 1138.1,987.9 1139.6,989.6 1141.1,991.3 1142.5,993.0 1144.0,994.7 1145.5,996.3 1146.9,997.9 1148.4,999.3 1149.8,1000.5 1151.3,1001.6 1152.8,1002.5 1154.2,1003.1 1155.7,1003.6 1157.2,1003.9 1158.6,1004.3 1160.1,1004.6 1161.5,1004.9 1163.0,1005.2 1164.5,1005.4 1165.9,1005.7 1167.4,1005.9 1168.9,1006.1 1170.3,1006.3 1171.8,1006.5 1173.2,1006.7 1174.7,1006.8 1176.2,1007.0 1177.6,1007.2 1179.1,1007.4 1180.6,1007.6 1182.0,1007.8 1183.5,1008.1 1184.9,1008.3 1186.4,1008.6 1187.9,1008.9 1189.3,1009.2 1190.8,1009.5 1192.2,1009.8 1193.7,1010.1 1195.2,1010.3 1196.6,1010.6 1198.1,1010.8 1199.6,1011.0 1201.0,1011.1 1202.5,1011.2 1203.9,1011.3 1205.4,1011.3 1206.9,1011.3 1208.3,1011.3 1209.8,1011.3 1211.3,1011.2 1212.7,1011.2 1214.2,1011.1 1215.6,1011.0 1217.1,1011.0 1218.6,1010.9 1220.0,1010.8 1221.5,1010.7 1223.0,1010.6 1224.4,1010.5 1225.9,1010.3 1227.3,1010.2 1228.8,1010.1 1230.3,1009.9 1231.7,1009.5 1233.2,1009.1 1234.7,1008.7 1236.1,1008.2 1237.6,1007.6 1239.0,1007.0 1240.5,1006.4 1242.0,1005.7 1243.4,1005.1 1244.9,1004.5 1246.4,1003.9 1247.8,1003.3 1249.3,1002.7 1250.7,1002.2 1252.2,1001.7 1253.7,1001.2 1255.1,1000.6 1256.6,1000.1 1258.1,999.5 1259.5,998.9 1261.0,998.3 1262.4,997.8 1263.9,997.2 1265.4,996.8 1266.8,996.3 1268.3,996.0 1269.8,995.7 1271.2,995.4 1272.7,995.3 1274.1,995.3 1275.6,995.3 1277.1,995.3 1278.5,995.3 1280.0,995.3 1281.5,995.3 1282.9,995.3 1284.4,995.3 1285.8,995.3 1287.3,995.3 1288.8,995.3 1290.2,995.3 1291.7,995.3 1293.2,995.3 1294.6,995.3 1296.1,995.3 1297.5,995.3 1299.0,995.3" fill="none" stroke="#737373" stroke-width="7" stroke-linejoin="round" stroke-linecap="butt"/>
<polyline points="860.3,1004.4 861.8,1004.5 863.2,1004.5 864.7,1004.6 866.1,1004.6 867.6,1004.8 869.1,1004.9 870.5,1005.0 872.0,1005.2 873.5,1005.4 874.9,1005.5 876.4,1005.9 877.8,1006.5 879.3,1007.4 880.8,1008.6 882.2,1010.0 883.7,1011.6 885.2,1013.2 886.6,1015.0 888.1,1016.8 889.5,1018.6 891.0,1020.3 892.5,1021.9 893.9,1023.4 895.4,1024.8 896.9,1025.9 898.3,1026.7 899.8,1027.2 901.2,1027.5 902.7,1027.7 904.2,1027.9 905.6,1028.0 907.1,1028.2 908.6,1028.4 910.0,1028.5 911.5,1028.7 912.9,1028.8 914.4,1029.0 915.9,1029.1 917.3,1029.2 918.8,1029.3 920.3,1029.4 921.7,1029.4 923.2,1029.5 924.6,1029.6 926.1,1029.6 927.6,1029.6 929.0,1029.6 930.5,1029.6 932.0,1029.6 933.4,1029.6 934.9,1029.6 936.3,1029.5 937.8,1029.5 939.3,1029.4 940.7,1029.3 942.2,1029.2 943.7,1029.2 945.1,1029.1 946.6,1029.0 948.0,1028.9 949.5,1028.8 951.0,1028.7 952.4,1028.5 953.9,1028.4 955.4,1028.3 956.8,1028.2 958.3,1028.1 959.7,1028.0 961.2,1027.9 962.7,1027.8 964.1,1027.7 965.6,1027.6 967.1,1027.6 968.5,1027.5 970.0,1027.5 971.4,1027.4 972.9,1027.4 974.4,1027.4 975.8,1027.3 977.3,1027.3 978.7,1027.3 980.2,1027.3 981.7,1027.3 983.1,1027.3 984.6,1027.3 986.1,1027.3 987.5,1027.3 989.0,1027.3 990.4,1027.3 991.9,1027.3 993.4,1027.3 994.8,1027.3 996.3,1027.3 997.8,1027.3 999.2,1027.3 1000.7,1027.3 1002.1,1027.3 1003.6,1027.3 1005.1,1027.3 1006.5,1027.3 1008.0,1027.3 1009.5,1027.3 1010.9,1027.3 1012.4,1027.3 1013.8,1027.3 1015.3,1027.3 1016.8,1027.3 1018.2,1027.3 1019.7,1027.3 1021.2,1027.3 1022.6,1027.3 1024.1,1027.3 1025.5,1027.3 1027.0,1027.2 1028.5,1027.2 1029.9,1027.1 1031.4,1027.0 1032.9,1026.9 1034.3,1026.8 1035.8,1026.7 1037.2,1026.5 1038.7,1026.4 1040.2,1026.2 1041.6,1026.0 1043.1,1025.8 1044.6,1025.6 1046.0,1025.5 1047.5,1025.2 1048.9,1025.0 1050.4,1024.8 1051.9,1024.6 1053.3,1024.4 1054.8,1024.1 1056.3,1023.9 1057.7,1023.6 1059.2,1023.3 1060.6,1023.0 1062.1,1022.6 1063.6,1022.1 1065.0,1021.7 1066.5,1021.2 1068.0,1020.6 1069.4,1020.1 1070.9,1019.5 1072.3,1018.9 1073.8,1018.3 1075.3,1017.6 1076.7,1017.0 1078.2,1016.3 1079.7,1015.6 1081.1,1014.9 1082.6,1014.1 1084.0,1013.2 1085.5,1012.2 1087.0,1011.2 1088.4,1010.2 1089.9,1009.1 1091.3,1008.1 1092.8,1007.0 1094.3,1005.9 1095.7,1004.9 1097.2,1003.9 1098.7,1003.0 1100.1,1002.1 1101.6,1001.2 1103.0,1000.4 1104.5,999.6 1106.0,998.8 1107.4,997.9 1108.9,997.0 1110.4,996.2 1111.8,995.3 1113.3,994.6 1114.7,993.9 1116.2,993.2 1117.7,992.7 1119.1,992.3 1120.6,992.0 1122.1,991.9 1123.5,991.9 1125.0,992.1 1126.4,992.4 1127.9,992.8 1129.4,993.3 1130.8,993.9 1132.3,994.6 1133.8,995.3 1135.2,995.9 1136.7,996.6 1138.1,997.3 1139.6,998.1 1141.1,999.1 1142.5,1000.1 1144.0,1001.2 1145.5,1002.2 1146.9,1003.3 1148.4,1004.3 1149.8,1005.3 1151.3,1006.2 1152.8,1007.0 1154.2,1007.7 1155.7,1008.2 1157.2,1008.8 1158.6,1009.2 1160.1,1009.7 1161.5,1010.2 1163.0,1010.6 1164.5,1011.0 1165.9,1011.4 1167.4,1011.8 1168.9,1012.2 1170.3,1012.5 1171.8,1012.9 1173.2,1013.2 1174.7,1013.5 1176.2,1013.8 1177.6,1014.0 1179.1,1014.3 1180.6,1014.5 1182.0,1014.7 1183.5,1014.9 1184.9,1015.1 1186.4,1015.3 1187.9,1015.6 1189.3,1015.8 1190.8,1015.9 1192.2,1016.1 1193.7,1016.3 1195.2,1016.5 1196.6,1016.6 1198.1,1016.7 1199.6,1016.8 1201.0,1016.9 1202.5,1017.0 1203.9,1017.0 1205.4,1017.0 1206.9,1017.0 1208.3,1017.0 1209.8,1017.0 1211.3,1016.9 1212.7,1016.9 1214.2,1016.8 1215.6,1016.8 1217.1,1016.7 1218.6,1016.6 1220.0,1016.5 1221.5,1016.4 1223.0,1016.3 1224.4,1016.2 1225.9,1016.1 1227.3,1015.9 1228.8,1015.8 1230.3,1015.6 1231.7,1015.4 1233.2,1015.2 1234.7,1014.8 1236.1,1014.5 1237.6,1014.1 1239.0,1013.7 1240.5,1013.3 1242.0,1012.9 1243.4,1012.5 1244.9,1012.0 1246.4,1011.5 1247.8,1011.1 1249.3,1010.7 1250.7,1010.2 1252.2,1009.8 1253.7,1009.2 1255.1,1008.6 1256.6,1008.0 1258.1,1007.3 1259.5,1006.6 1261.0,1006.0 1262.4,1005.3 1263.9,1004.6 1265.4,1004.0 1266.8,1003.5 1268.3,1003.0 1269.8,1002.6 1271.2,1002.4 1272.7,1002.2 1274.1,1002.1 1275.6,1002.2 1277.1,1002.2 1278.5,1002.2 1280.0,1002.2 1281.5,1002.3 1282.9,1002.3 1284.4,1002.4 1285.8,1002.6 1287.3,1002.7 1288.8,1002.9 1290.2,1003.2 1291.7,1003.4 1293.2,1003.8 1294.6,1004.1 1296.1,1004.6 1297.5,1005.0 1299.0,1005.6" fill="none" stroke="#f59a3c" stroke-width="7" stroke-linejoin="round" stroke-linecap="butt"/>
<text x="1276.10" y="920.50" font-size="28.84" font-weight="normal" fill="#111" stroke="#111" stroke-width="1.1" textLength="15.53" lengthAdjust="spacingAndGlyphs">K</text>
<text x="803.90" y="895.14" font-size="25.92" font-weight="normal" fill="#5e5e5e" stroke="#5e5e5e" stroke-width="0.4" textLength="27.65" lengthAdjust="spacingAndGlyphs">20</text>
<text x="817.70" y="988.24" font-size="26.06" font-weight="normal" fill="#5e5e5e" stroke="#5e5e5e" stroke-width="0.4" textLength="13.70" lengthAdjust="spacingAndGlyphs">0</text>
<text x="793.70" y="1081.34" font-size="25.92" font-weight="normal" fill="#5e5e5e" stroke="#5e5e5e" stroke-width="0.4" textLength="37.67" lengthAdjust="spacingAndGlyphs">-20</text>
<line x1="1488" y1="240.8" x2="1925" y2="240.8" stroke="#cbcbcb" stroke-width="1.8"/>
<line x1="1488" y1="339.3" x2="1925" y2="339.3" stroke="#cbcbcb" stroke-width="1.8"/>
<rect x="1724.3" y="150" width="30.200000000000045" height="189.3" fill="#e4e4e4"/>
<path d="M1490.0 217.9V233.9M1494.3 217.9V233.9M1498.7 217.9V233.9M1503.0 217.9V233.9M1507.4 217.9V233.9M1511.7 217.9V233.9M1516.0 217.9V233.9M1520.4 217.9V233.9M1524.7 217.9V233.9M1529.1 218.1V234.1M1533.4 218.3V234.3M1537.7 218.5V234.5M1542.1 218.8V234.8M1546.4 219.2V235.2M1550.8 219.6V235.6M1555.1 220.1V236.1M1559.4 220.5V236.5M1563.8 221.0V237.0M1568.1 221.5V237.5M1572.5 222.2V238.2M1576.8 223.0V239.0M1581.1 224.0V240.0M1585.5 225.0V241.0M1589.8 226.0V242.0M1594.2 227.0V243.0M1598.5 228.1V244.1M1602.8 229.3V245.3M1607.2 230.5V246.5M1611.5 231.7V247.7M1615.9 232.9V248.9M1620.2 234.1V250.1M1624.5 235.3V251.3M1628.9 236.4V252.4M1633.2 237.6V253.6M1637.6 238.9V254.9M1641.9 240.1V256.1M1646.2 241.2V257.2M1650.6 242.4V258.4M1654.9 243.5V259.5M1659.3 244.5V260.5M1663.6 245.5V261.5M1667.9 246.5V262.5M1672.3 247.5V263.5M1676.6 248.5V264.5M1681.0 249.3V265.3M1685.3 250.1V266.1M1689.6 250.8V266.8M1694.0 251.3V267.3M1698.3 251.8V267.8M1702.7 252.2V268.2M1707.0 252.6V268.6M1711.3 253.0V269.0M1715.7 253.3V269.3M1720.0 253.4V269.4M1724.4 253.4V269.4M1728.7 253.3V269.3M1733.0 253.2V269.2M1737.4 253.0V269.0M1741.7 252.8V268.8M1746.1 252.5V268.5M1750.4 252.2V268.2M1754.7 251.9V267.9M1759.1 251.6V267.6M1763.4 251.2V267.2M1767.8 250.7V266.7M1772.1 250.2V266.2M1776.4 249.6V265.6M1780.8 249.0V265.0M1785.1 248.3V264.3M1789.5 247.6V263.6M1793.8 246.9V262.9M1798.1 246.1V262.1M1802.5 245.0V261.0M1806.8 243.7V259.7M1811.2 242.2V258.2M1815.5 240.6V256.6M1819.8 238.9V254.9M1824.2 237.2V253.2M1828.5 235.6V251.6M1832.9 234.1V250.1M1837.2 232.8V248.8M1841.5 231.7V247.7M1845.9 230.7V246.7M1850.2 229.8V245.8M1854.6 229.0V245.0M1858.9 228.1V244.1M1863.2 227.4V243.4M1867.6 226.7V242.7M1871.9 226.0V242.0M1876.3 225.3V241.3M1880.6 224.6V240.6M1884.9 224.0V240.0M1889.3 223.4V239.4M1893.6 222.8V238.8M1898.0 222.2V238.2M1902.3 221.6V237.6M1906.6 221.0V237.0M1911.0 220.5V236.5M1915.3 220.0V236.0M1919.7 219.5V235.5M1924.0 219.1V235.1" stroke="#f7d0b0" stroke-width="1.2" fill="none"/>
<path d="M1490.0 207.6V223.6M1494.3 207.6V223.6M1498.7 207.6V223.6M1503.0 207.6V223.6M1507.4 207.6V223.6M1511.7 207.6V223.6M1516.0 207.6V223.6M1520.4 207.6V223.6M1524.7 207.7V223.7M1529.1 208.0V224.0M1533.4 208.4V224.4M1537.7 209.0V225.0M1542.1 209.6V225.6M1546.4 210.4V226.4M1550.8 211.3V227.3M1555.1 212.1V228.1M1559.4 213.0V229.0M1563.8 213.9V229.9M1568.1 214.8V230.8M1572.5 215.7V231.7M1576.8 216.7V232.7M1581.1 217.8V233.8M1585.5 219.0V235.0M1589.8 220.3V236.3M1594.2 221.8V237.8M1598.5 223.6V239.6M1602.8 225.5V241.5M1607.2 227.6V243.6M1611.5 229.7V245.7M1615.9 231.7V247.7M1620.2 233.6V249.6M1624.5 235.3V251.3M1628.9 236.9V252.9M1633.2 238.5V254.5M1637.6 240.0V256.0M1641.9 241.4V257.4M1646.2 242.8V258.8M1650.6 244.2V260.2M1654.9 245.5V261.5M1659.3 246.8V262.8M1663.6 248.2V264.2M1667.9 249.5V265.5M1672.3 250.8V266.8M1676.6 252.0V268.0M1681.0 253.2V269.2M1685.3 254.3V270.3M1689.6 255.2V271.2M1694.0 255.9V271.9M1698.3 256.6V272.6M1702.7 257.3V273.3M1707.0 258.0V274.0M1711.3 258.5V274.5M1715.7 258.9V274.9M1720.0 259.1V275.1M1724.4 259.1V275.1M1728.7 258.9V274.9M1733.0 258.4V274.4M1737.4 257.7V273.7M1741.7 257.0V273.0M1746.1 256.3V272.3M1750.4 255.6V271.6M1754.7 255.0V271.0M1759.1 254.4V270.4M1763.4 253.8V269.8M1767.8 253.1V269.1M1772.1 252.4V268.4M1776.4 251.7V267.7M1780.8 250.9V266.9M1785.1 250.1V266.1M1789.5 249.2V265.2M1793.8 248.2V264.2M1798.1 247.0V263.0M1802.5 245.6V261.6M1806.8 243.9V259.9M1811.2 242.0V258.0M1815.5 239.9V255.9M1819.8 237.7V253.7M1824.2 235.6V251.6M1828.5 233.5V249.5M1832.9 231.5V247.5M1837.2 229.7V245.7M1841.5 228.2V244.2M1845.9 226.9V242.9M1850.2 225.6V241.6M1854.6 224.4V240.4M1858.9 223.3V239.3M1863.2 222.2V238.2M1867.6 221.2V237.2M1871.9 220.2V236.2M1876.3 219.2V235.2M1880.6 218.2V234.2M1884.9 217.3V233.3M1889.3 216.4V232.4M1893.6 215.5V231.5M1898.0 214.6V230.6M1902.3 213.7V229.7M1906.6 212.9V228.9M1911.0 212.1V228.1M1915.3 211.3V227.3M1919.7 210.6V226.6M1924.0 209.9V225.9" stroke="#bdbdbd" stroke-width="1.2" fill="none"/>
<polyline points="1490.0,215.6 1491.4,215.6 1492.9,215.6 1494.3,215.6 1495.8,215.6 1497.2,215.6 1498.7,215.6 1500.1,215.6 1501.6,215.6 1503.0,215.6 1504.5,215.6 1505.9,215.6 1507.4,215.6 1508.8,215.6 1510.3,215.6 1511.7,215.6 1513.1,215.6 1514.6,215.6 1516.0,215.6 1517.5,215.6 1518.9,215.6 1520.4,215.6 1521.8,215.6 1523.3,215.6 1524.7,215.7 1526.2,215.8 1527.6,215.8 1529.1,216.0 1530.5,216.1 1532.0,216.2 1533.4,216.4 1534.8,216.6 1536.3,216.8 1537.7,217.0 1539.2,217.2 1540.6,217.4 1542.1,217.6 1543.5,217.9 1545.0,218.2 1546.4,218.4 1547.9,218.7 1549.3,219.0 1550.8,219.3 1552.2,219.6 1553.7,219.8 1555.1,220.1 1556.5,220.4 1558.0,220.7 1559.4,221.0 1560.9,221.3 1562.3,221.6 1563.8,221.9 1565.2,222.2 1566.7,222.5 1568.1,222.8 1569.6,223.1 1571.0,223.4 1572.5,223.7 1573.9,224.0 1575.4,224.3 1576.8,224.7 1578.2,225.0 1579.7,225.4 1581.1,225.8 1582.6,226.2 1584.0,226.6 1585.5,227.0 1586.9,227.4 1588.4,227.8 1589.8,228.3 1591.3,228.8 1592.7,229.3 1594.2,229.8 1595.6,230.4 1597.1,231.0 1598.5,231.6 1599.9,232.2 1601.4,232.9 1602.8,233.5 1604.3,234.2 1605.7,234.9 1607.2,235.6 1608.6,236.3 1610.1,237.0 1611.5,237.7 1613.0,238.3 1614.4,239.0 1615.9,239.7 1617.3,240.3 1618.8,241.0 1620.2,241.6 1621.6,242.2 1623.1,242.8 1624.5,243.3 1626.0,243.9 1627.4,244.4 1628.9,244.9 1630.3,245.5 1631.8,246.0 1633.2,246.5 1634.7,247.0 1636.1,247.5 1637.6,248.0 1639.0,248.5 1640.5,249.0 1641.9,249.4 1643.3,249.9 1644.8,250.4 1646.2,250.8 1647.7,251.3 1649.1,251.8 1650.6,252.2 1652.0,252.7 1653.5,253.1 1654.9,253.5 1656.4,254.0 1657.8,254.4 1659.3,254.8 1660.7,255.3 1662.2,255.7 1663.6,256.2 1665.0,256.6 1666.5,257.0 1667.9,257.5 1669.4,257.9 1670.8,258.4 1672.3,258.8 1673.7,259.2 1675.2,259.6 1676.6,260.0 1678.1,260.4 1679.5,260.8 1681.0,261.2 1682.4,261.6 1683.9,261.9 1685.3,262.3 1686.7,262.6 1688.2,262.9 1689.6,263.2 1691.1,263.5 1692.5,263.7 1694.0,263.9 1695.4,264.2 1696.9,264.4 1698.3,264.6 1699.8,264.9 1701.2,265.1 1702.7,265.3 1704.1,265.5 1705.6,265.8 1707.0,266.0 1708.4,266.1 1709.9,266.3 1711.3,266.5 1712.8,266.6 1714.2,266.8 1715.7,266.9 1717.1,267.0 1718.6,267.1 1720.0,267.1 1721.5,267.1 1722.9,267.1 1724.4,267.1 1725.8,267.1 1727.3,267.0 1728.7,266.9 1730.1,266.7 1731.6,266.5 1733.0,266.4 1734.5,266.2 1735.9,266.0 1737.4,265.7 1738.8,265.5 1740.3,265.3 1741.7,265.0 1743.2,264.8 1744.6,264.5 1746.1,264.3 1747.5,264.1 1749.0,263.9 1750.4,263.6 1751.8,263.4 1753.3,263.2 1754.7,263.0 1756.2,262.8 1757.6,262.6 1759.1,262.4 1760.5,262.2 1762.0,262.0 1763.4,261.8 1764.9,261.5 1766.3,261.3 1767.8,261.1 1769.2,260.9 1770.7,260.7 1772.1,260.4 1773.5,260.2 1775.0,259.9 1776.4,259.7 1777.9,259.4 1779.3,259.2 1780.8,258.9 1782.2,258.6 1783.7,258.4 1785.1,258.1 1786.6,257.8 1788.0,257.5 1789.5,257.2 1790.9,256.8 1792.4,256.5 1793.8,256.2 1795.2,255.8 1796.7,255.4 1798.1,255.0 1799.6,254.6 1801.0,254.1 1802.5,253.6 1803.9,253.1 1805.4,252.5 1806.8,251.9 1808.3,251.3 1809.7,250.6 1811.2,250.0 1812.6,249.3 1814.1,248.6 1815.5,247.9 1816.9,247.2 1818.4,246.5 1819.8,245.7 1821.3,245.0 1822.7,244.3 1824.2,243.6 1825.6,242.9 1827.1,242.2 1828.5,241.5 1830.0,240.8 1831.4,240.2 1832.9,239.5 1834.3,238.9 1835.8,238.3 1837.2,237.7 1838.6,237.2 1840.1,236.7 1841.5,236.2 1843.0,235.8 1844.4,235.3 1845.9,234.9 1847.3,234.5 1848.8,234.0 1850.2,233.6 1851.7,233.2 1853.1,232.8 1854.6,232.4 1856.0,232.1 1857.5,231.7 1858.9,231.3 1860.3,230.9 1861.8,230.6 1863.2,230.2 1864.7,229.9 1866.1,229.5 1867.6,229.2 1869.0,228.8 1870.5,228.5 1871.9,228.2 1873.4,227.8 1874.8,227.5 1876.3,227.2 1877.7,226.9 1879.2,226.5 1880.6,226.2 1882.0,225.9 1883.5,225.6 1884.9,225.3 1886.4,225.0 1887.8,224.7 1889.3,224.4 1890.7,224.1 1892.2,223.8 1893.6,223.5 1895.1,223.2 1896.5,222.9 1898.0,222.6 1899.4,222.3 1900.9,222.0 1902.3,221.7 1903.7,221.5 1905.2,221.2 1906.6,220.9 1908.1,220.6 1909.5,220.4 1911.0,220.1 1912.4,219.9 1913.9,219.6 1915.3,219.3 1916.8,219.1 1918.2,218.8 1919.7,218.6 1921.1,218.4 1922.6,218.1 1924.0,217.9" fill="none" stroke="#737373" stroke-width="7" stroke-linejoin="round" stroke-linecap="butt"/>
<polyline points="1490.0,225.9 1491.4,225.9 1492.9,225.9 1494.3,225.9 1495.8,225.9 1497.2,225.9 1498.7,225.9 1500.1,225.9 1501.6,225.9 1503.0,225.9 1504.5,225.9 1505.9,225.9 1507.4,225.9 1508.8,225.9 1510.3,225.9 1511.7,225.9 1513.1,225.9 1514.6,225.9 1516.0,225.9 1517.5,225.9 1518.9,225.9 1520.4,225.9 1521.8,225.9 1523.3,225.9 1524.7,225.9 1526.2,226.0 1527.6,226.0 1529.1,226.1 1530.5,226.1 1532.0,226.2 1533.4,226.3 1534.8,226.3 1536.3,226.4 1537.7,226.5 1539.2,226.6 1540.6,226.7 1542.1,226.8 1543.5,227.0 1545.0,227.1 1546.4,227.2 1547.9,227.3 1549.3,227.5 1550.8,227.6 1552.2,227.8 1553.7,227.9 1555.1,228.1 1556.5,228.2 1558.0,228.4 1559.4,228.5 1560.9,228.7 1562.3,228.9 1563.8,229.0 1565.2,229.2 1566.7,229.4 1568.1,229.5 1569.6,229.7 1571.0,230.0 1572.5,230.2 1573.9,230.5 1575.4,230.8 1576.8,231.0 1578.2,231.4 1579.7,231.7 1581.1,232.0 1582.6,232.3 1584.0,232.7 1585.5,233.0 1586.9,233.3 1588.4,233.7 1589.8,234.0 1591.3,234.3 1592.7,234.7 1594.2,235.0 1595.6,235.4 1597.1,235.7 1598.5,236.1 1599.9,236.5 1601.4,236.9 1602.8,237.3 1604.3,237.7 1605.7,238.1 1607.2,238.5 1608.6,238.9 1610.1,239.3 1611.5,239.7 1613.0,240.1 1614.4,240.5 1615.9,240.9 1617.3,241.3 1618.8,241.7 1620.2,242.1 1621.6,242.5 1623.1,242.9 1624.5,243.3 1626.0,243.7 1627.4,244.0 1628.9,244.4 1630.3,244.8 1631.8,245.2 1633.2,245.6 1634.7,246.0 1636.1,246.5 1637.6,246.9 1639.0,247.3 1640.5,247.7 1641.9,248.1 1643.3,248.5 1644.8,248.9 1646.2,249.2 1647.7,249.6 1649.1,250.0 1650.6,250.4 1652.0,250.7 1653.5,251.1 1654.9,251.5 1656.4,251.8 1657.8,252.2 1659.3,252.5 1660.7,252.8 1662.2,253.2 1663.6,253.5 1665.0,253.8 1666.5,254.2 1667.9,254.5 1669.4,254.8 1670.8,255.2 1672.3,255.5 1673.7,255.8 1675.2,256.1 1676.6,256.5 1678.1,256.8 1679.5,257.0 1681.0,257.3 1682.4,257.6 1683.9,257.9 1685.3,258.1 1686.7,258.3 1688.2,258.6 1689.6,258.8 1691.1,258.9 1692.5,259.1 1694.0,259.3 1695.4,259.4 1696.9,259.6 1698.3,259.8 1699.8,259.9 1701.2,260.1 1702.7,260.2 1704.1,260.4 1705.6,260.5 1707.0,260.6 1708.4,260.8 1709.9,260.9 1711.3,261.0 1712.8,261.1 1714.2,261.2 1715.7,261.3 1717.1,261.3 1718.6,261.4 1720.0,261.4 1721.5,261.4 1722.9,261.4 1724.4,261.4 1725.8,261.4 1727.3,261.4 1728.7,261.3 1730.1,261.3 1731.6,261.2 1733.0,261.2 1734.5,261.1 1735.9,261.1 1737.4,261.0 1738.8,260.9 1740.3,260.8 1741.7,260.8 1743.2,260.7 1744.6,260.6 1746.1,260.5 1747.5,260.4 1749.0,260.3 1750.4,260.2 1751.8,260.2 1753.3,260.1 1754.7,259.9 1756.2,259.8 1757.6,259.7 1759.1,259.6 1760.5,259.5 1762.0,259.3 1763.4,259.2 1764.9,259.0 1766.3,258.9 1767.8,258.7 1769.2,258.5 1770.7,258.4 1772.1,258.2 1773.5,258.0 1775.0,257.8 1776.4,257.6 1777.9,257.4 1779.3,257.2 1780.8,257.0 1782.2,256.8 1783.7,256.6 1785.1,256.3 1786.6,256.1 1788.0,255.9 1789.5,255.6 1790.9,255.4 1792.4,255.1 1793.8,254.9 1795.2,254.6 1796.7,254.4 1798.1,254.1 1799.6,253.7 1801.0,253.4 1802.5,253.0 1803.9,252.6 1805.4,252.1 1806.8,251.7 1808.3,251.2 1809.7,250.7 1811.2,250.2 1812.6,249.7 1814.1,249.1 1815.5,248.6 1816.9,248.0 1818.4,247.5 1819.8,246.9 1821.3,246.4 1822.7,245.8 1824.2,245.2 1825.6,244.7 1827.1,244.2 1828.5,243.6 1830.0,243.1 1831.4,242.6 1832.9,242.1 1834.3,241.6 1835.8,241.2 1837.2,240.8 1838.6,240.4 1840.1,240.0 1841.5,239.7 1843.0,239.3 1844.4,239.0 1845.9,238.7 1847.3,238.4 1848.8,238.1 1850.2,237.8 1851.7,237.5 1853.1,237.2 1854.6,237.0 1856.0,236.7 1857.5,236.4 1858.9,236.1 1860.3,235.9 1861.8,235.6 1863.2,235.4 1864.7,235.1 1866.1,234.9 1867.6,234.7 1869.0,234.4 1870.5,234.2 1871.9,234.0 1873.4,233.7 1874.8,233.5 1876.3,233.3 1877.7,233.1 1879.2,232.8 1880.6,232.6 1882.0,232.4 1883.5,232.2 1884.9,232.0 1886.4,231.8 1887.8,231.6 1889.3,231.4 1890.7,231.2 1892.2,231.0 1893.6,230.8 1895.1,230.6 1896.5,230.4 1898.0,230.2 1899.4,230.0 1900.9,229.8 1902.3,229.6 1903.7,229.4 1905.2,229.2 1906.6,229.0 1908.1,228.9 1909.5,228.7 1911.0,228.5 1912.4,228.3 1913.9,228.2 1915.3,228.0 1916.8,227.8 1918.2,227.7 1919.7,227.5 1921.1,227.4 1922.6,227.2 1924.0,227.1" fill="none" stroke="#f59a3c" stroke-width="7" stroke-linejoin="round" stroke-linecap="butt"/>
<text x="1898.00" y="184.30" font-size="29.58" font-weight="normal" fill="#111" stroke="#111" stroke-width="1.1" textLength="17.05" lengthAdjust="spacingAndGlyphs">C</text>
<text x="1432.30" y="150.82" font-size="28.31" font-weight="normal" fill="#5e5e5e" stroke="#5e5e5e" stroke-width="0.4" textLength="27.95" lengthAdjust="spacingAndGlyphs">20</text>
<text x="1445.50" y="249.32" font-size="28.03" font-weight="normal" fill="#5e5e5e" stroke="#5e5e5e" stroke-width="0.4" textLength="14.90" lengthAdjust="spacingAndGlyphs">0</text>
<text x="1422.90" y="345.51" font-size="28.73" font-weight="normal" fill="#5e5e5e" stroke="#5e5e5e" stroke-width="0.4" textLength="40.17" lengthAdjust="spacingAndGlyphs">-20</text>
<line x1="1478" y1="397.2" x2="1916.5" y2="397.2" stroke="#cbcbcb" stroke-width="1.8"/>
<line x1="1478" y1="493" x2="1916.5" y2="493" stroke="#cbcbcb" stroke-width="1.8"/>
<line x1="1478" y1="589.2" x2="1916.5" y2="589.2" stroke="#cbcbcb" stroke-width="1.8"/>
<rect x="1724.3" y="381" width="30.700000000000045" height="190" fill="#e4e4e4"/>
<path d="M1479.0 481.5V547.5M1483.4 479.3V545.3M1487.7 477.0V543.0M1492.1 474.6V540.6M1496.5 472.2V538.2M1500.8 469.5V535.5M1505.2 466.2V532.2M1509.6 463.8V529.8M1514.0 463.7V529.7M1518.3 465.7V531.7M1522.7 468.5V534.5M1527.1 471.1V537.1M1531.4 472.5V538.5M1535.8 472.6V538.6M1540.2 472.6V538.6M1544.5 472.6V538.6M1548.9 472.6V538.6M1553.3 472.2V538.2M1557.7 471.3V537.3M1562.0 470.0V536.0M1566.4 468.7V534.7M1570.8 467.3V533.3M1575.1 466.2V532.2M1579.5 465.5V531.5M1583.9 464.9V530.9M1588.2 464.3V530.3M1592.6 463.7V529.7M1597.0 463.2V529.2M1601.4 462.8V528.8M1605.7 462.5V528.5M1610.1 462.3V528.3M1614.5 462.3V528.3M1618.8 462.3V528.3M1623.2 462.3V528.3M1627.6 462.3V528.3M1632.0 462.3V528.3M1636.3 462.3V528.3M1640.7 462.4V528.4M1645.1 462.7V528.7M1649.4 463.1V529.1M1653.8 463.7V529.7M1658.2 464.2V530.2M1662.5 464.8V530.8M1666.9 465.4V531.4M1671.3 465.9V531.9M1675.7 466.4V532.4M1680.0 466.9V532.9M1684.4 467.4V533.4M1688.8 468.0V534.0M1693.1 468.6V534.6M1697.5 469.2V535.2M1701.9 469.9V535.9M1706.2 470.7V536.7M1710.6 471.7V537.7M1715.0 472.8V538.8M1719.3 474.0V540.0M1723.7 475.2V541.2M1728.1 476.3V542.3M1732.5 477.7V543.7M1736.8 479.1V545.1M1741.2 480.2V546.2M1745.6 480.6V546.6M1749.9 480.4V546.4M1754.3 479.8V545.8M1758.7 479.1V545.1M1763.0 477.4V543.4M1767.4 475.1V541.1M1771.8 472.4V538.4M1776.2 469.9V535.9M1780.5 467.9V533.9M1784.9 466.8V532.8M1789.3 466.1V532.1M1793.6 465.5V531.5M1798.0 465.0V531.0M1802.4 464.7V530.7M1806.8 464.6V530.6M1811.1 464.6V530.6M1815.5 464.6V530.6M1819.9 464.6V530.6M1824.2 464.6V530.6M1828.6 464.6V530.6M1833.0 464.6V530.6M1837.3 464.6V530.6M1841.7 464.9V530.9M1846.1 465.7V531.7M1850.5 466.8V532.8M1854.8 468.2V534.2M1859.2 469.7V535.7M1863.6 471.2V537.2M1867.9 472.8V538.8M1872.3 474.9V540.9M1876.7 477.4V543.4M1881.0 479.9V545.9M1885.4 482.2V548.2M1889.8 484.0V550.0M1894.2 485.0V551.0M1898.5 485.2V551.2M1902.9 485.0V551.0M1907.3 484.6V550.6M1911.6 483.8V549.8M1916.0 482.5V548.5" stroke="#f7d0b0" stroke-width="1.2" fill="none"/>
<path d="M1479.0 485.2V581.2M1483.4 484.7V580.7M1487.7 483.5V579.5M1492.1 481.9V577.9M1496.5 480.1V576.1M1500.8 476.6V572.6M1505.2 472.2V568.2M1509.6 468.4V564.4M1514.0 466.7V562.7M1518.3 467.7V563.7M1522.7 469.9V565.9M1527.1 472.7V568.7M1531.4 475.3V571.3M1535.8 476.9V572.9M1540.2 477.4V573.4M1544.5 477.8V573.8M1548.9 478.0V574.0M1553.3 478.2V574.2M1557.7 478.0V574.0M1562.0 476.9V572.9M1566.4 475.2V571.2M1570.8 473.2V569.2M1575.1 471.3V567.3M1579.5 469.7V565.7M1583.9 468.1V564.1M1588.2 466.4V562.4M1592.6 464.6V560.6M1597.0 463.0V559.0M1601.4 461.6V557.6M1605.7 460.6V556.6M1610.1 460.0V556.0M1614.5 459.9V555.9M1618.8 460.2V556.2M1623.2 460.6V556.6M1627.6 461.2V557.2M1632.0 461.8V557.8M1636.3 462.3V558.3M1640.7 462.7V558.7M1645.1 463.2V559.2M1649.4 463.6V559.6M1653.8 464.1V560.1M1658.2 464.4V560.4M1662.5 464.8V560.8M1666.9 465.0V561.0M1671.3 465.3V561.3M1675.7 465.5V561.5M1680.0 465.7V561.7M1684.4 466.0V562.0M1688.8 466.4V562.4M1693.1 466.8V562.8M1697.5 467.6V563.6M1701.9 468.8V564.8M1706.2 470.3V566.3M1710.6 471.9V567.9M1715.0 473.4V569.4M1719.3 475.1V571.1M1723.7 477.2V573.2M1728.1 479.4V575.4M1732.5 481.6V577.6M1736.8 483.4V579.4M1741.2 484.6V580.6M1745.6 485.1V581.1M1749.9 484.3V580.3M1754.3 482.7V578.7M1758.7 480.8V576.8M1763.0 478.0V574.0M1767.4 474.8V570.8M1771.8 471.9V567.9M1776.2 469.5V565.5M1780.5 467.1V563.1M1784.9 464.7V560.7M1789.3 462.6V558.6M1793.6 460.9V556.9M1798.0 460.0V556.0M1802.4 459.9V555.9M1806.8 459.9V555.9M1811.1 459.9V555.9M1815.5 459.9V555.9M1819.9 459.9V555.9M1824.2 459.9V555.9M1828.6 459.9V555.9M1833.0 459.9V555.9M1837.3 459.9V555.9M1841.7 460.0V556.0M1846.1 460.9V556.9M1850.5 462.4V558.4M1854.8 464.4V560.4M1859.2 466.5V562.5M1863.6 468.6V564.6M1867.9 471.0V567.0M1872.3 474.0V570.0M1876.7 477.3V573.3M1881.0 480.3V576.3M1885.4 482.3V578.3M1889.8 483.1V579.1M1894.2 483.7V579.7M1898.5 484.2V580.2M1902.9 484.6V580.6M1907.3 484.9V580.9M1911.6 485.0V581.0M1916.0 485.1V581.1" stroke="#bdbdbd" stroke-width="1.2" fill="none"/>
<polyline points="1479.0,533.2 1480.5,533.1 1481.9,532.9 1483.4,532.7 1484.8,532.3 1486.3,532.0 1487.7,531.5 1489.2,531.0 1490.7,530.5 1492.1,529.9 1493.6,529.4 1495.0,528.7 1496.5,528.1 1497.9,527.1 1499.4,526.0 1500.8,524.6 1502.3,523.2 1503.8,521.7 1505.2,520.2 1506.7,518.8 1508.1,517.5 1509.6,516.4 1511.0,515.5 1512.5,514.9 1514.0,514.7 1515.4,514.9 1516.9,515.2 1518.3,515.7 1519.8,516.3 1521.2,517.1 1522.7,517.9 1524.2,518.8 1525.6,519.7 1527.1,520.7 1528.5,521.6 1530.0,522.5 1531.4,523.3 1532.9,524.0 1534.4,524.5 1535.8,524.9 1537.3,525.1 1538.7,525.3 1540.2,525.4 1541.6,525.5 1543.1,525.7 1544.5,525.8 1546.0,525.9 1547.5,526.0 1548.9,526.0 1550.4,526.1 1551.8,526.2 1553.3,526.2 1554.7,526.2 1556.2,526.2 1557.7,526.0 1559.1,525.8 1560.6,525.4 1562.0,524.9 1563.5,524.4 1564.9,523.9 1566.4,523.2 1567.9,522.6 1569.3,521.9 1570.8,521.2 1572.2,520.5 1573.7,519.9 1575.1,519.3 1576.6,518.7 1578.1,518.2 1579.5,517.7 1581.0,517.2 1582.4,516.7 1583.9,516.1 1585.3,515.5 1586.8,515.0 1588.2,514.4 1589.7,513.8 1591.2,513.2 1592.6,512.6 1594.1,512.1 1595.5,511.5 1597.0,511.0 1598.4,510.5 1599.9,510.1 1601.4,509.6 1602.8,509.2 1604.3,508.9 1605.7,508.6 1607.2,508.3 1608.6,508.1 1610.1,508.0 1611.6,507.9 1613.0,507.9 1614.5,507.9 1615.9,508.0 1617.4,508.1 1618.8,508.2 1620.3,508.3 1621.8,508.5 1623.2,508.6 1624.7,508.8 1626.1,509.0 1627.6,509.2 1629.0,509.4 1630.5,509.6 1632.0,509.8 1633.4,510.0 1634.9,510.1 1636.3,510.3 1637.8,510.4 1639.2,510.6 1640.7,510.7 1642.1,510.9 1643.6,511.0 1645.1,511.2 1646.5,511.3 1648.0,511.5 1649.4,511.6 1650.9,511.8 1652.3,511.9 1653.8,512.1 1655.3,512.2 1656.7,512.3 1658.2,512.4 1659.6,512.6 1661.1,512.7 1662.5,512.8 1664.0,512.9 1665.5,512.9 1666.9,513.0 1668.4,513.1 1669.8,513.2 1671.3,513.3 1672.7,513.3 1674.2,513.4 1675.7,513.5 1677.1,513.5 1678.6,513.6 1680.0,513.7 1681.5,513.8 1682.9,513.9 1684.4,514.0 1685.8,514.1 1687.3,514.2 1688.8,514.4 1690.2,514.5 1691.7,514.6 1693.1,514.8 1694.6,515.0 1696.0,515.3 1697.5,515.6 1699.0,516.0 1700.4,516.4 1701.9,516.8 1703.3,517.3 1704.8,517.8 1706.2,518.3 1707.7,518.8 1709.2,519.3 1710.6,519.9 1712.1,520.4 1713.5,520.9 1715.0,521.4 1716.4,521.9 1717.9,522.5 1719.3,523.1 1720.8,523.8 1722.3,524.5 1723.7,525.2 1725.2,525.9 1726.6,526.7 1728.1,527.4 1729.5,528.2 1731.0,528.9 1732.5,529.6 1733.9,530.2 1735.4,530.8 1736.8,531.4 1738.3,531.9 1739.7,532.3 1741.2,532.6 1742.7,532.9 1744.1,533.0 1745.6,533.1 1747.0,533.0 1748.5,532.7 1749.9,532.3 1751.4,531.8 1752.9,531.3 1754.3,530.7 1755.8,530.1 1757.2,529.5 1758.7,528.8 1760.1,527.9 1761.6,527.0 1763.0,526.0 1764.5,524.9 1766.0,523.9 1767.4,522.8 1768.9,521.8 1770.3,520.8 1771.8,519.9 1773.2,519.1 1774.7,518.3 1776.2,517.5 1777.6,516.7 1779.1,515.9 1780.5,515.1 1782.0,514.3 1783.4,513.5 1784.9,512.7 1786.4,511.9 1787.8,511.2 1789.3,510.6 1790.7,510.0 1792.2,509.4 1793.6,508.9 1795.1,508.5 1796.6,508.2 1798.0,508.0 1799.5,507.9 1800.9,507.9 1802.4,507.9 1803.8,507.9 1805.3,507.9 1806.8,507.9 1808.2,507.9 1809.7,507.9 1811.1,507.9 1812.6,507.9 1814.0,507.9 1815.5,507.9 1816.9,507.9 1818.4,507.9 1819.9,507.9 1821.3,507.9 1822.8,507.9 1824.2,507.9 1825.7,507.9 1827.1,507.9 1828.6,507.9 1830.1,507.9 1831.5,507.9 1833.0,507.9 1834.4,507.9 1835.9,507.9 1837.3,507.9 1838.8,507.9 1840.3,507.9 1841.7,508.0 1843.2,508.2 1844.6,508.5 1846.1,508.9 1847.5,509.4 1849.0,509.9 1850.5,510.4 1851.9,511.0 1853.4,511.7 1854.8,512.4 1856.3,513.1 1857.7,513.8 1859.2,514.5 1860.6,515.2 1862.1,515.9 1863.6,516.6 1865.0,517.3 1866.5,518.1 1867.9,519.0 1869.4,519.9 1870.8,521.0 1872.3,522.0 1873.8,523.1 1875.2,524.3 1876.7,525.3 1878.1,526.4 1879.6,527.4 1881.0,528.3 1882.5,529.1 1884.0,529.8 1885.4,530.3 1886.9,530.7 1888.3,530.9 1889.8,531.1 1891.2,531.3 1892.7,531.5 1894.2,531.7 1895.6,531.9 1897.1,532.0 1898.5,532.2 1900.0,532.3 1901.4,532.5 1902.9,532.6 1904.3,532.7 1905.8,532.8 1907.3,532.9 1908.7,532.9 1910.2,533.0 1911.6,533.0 1913.1,533.1 1914.5,533.1 1916.0,533.1" fill="none" stroke="#737373" stroke-width="7" stroke-linejoin="round" stroke-linecap="butt"/>
<polyline points="1479.0,514.5 1480.5,513.7 1481.9,513.0 1483.4,512.3 1484.8,511.5 1486.3,510.7 1487.7,510.0 1489.2,509.2 1490.7,508.4 1492.1,507.6 1493.6,506.8 1495.0,506.0 1496.5,505.2 1497.9,504.4 1499.4,503.5 1500.8,502.5 1502.3,501.4 1503.8,500.2 1505.2,499.2 1506.7,498.2 1508.1,497.4 1509.6,496.8 1511.0,496.5 1512.5,496.5 1514.0,496.7 1515.4,497.2 1516.9,497.9 1518.3,498.7 1519.8,499.6 1521.2,500.5 1522.7,501.5 1524.2,502.4 1525.6,503.3 1527.1,504.1 1528.5,504.8 1530.0,505.3 1531.4,505.5 1532.9,505.6 1534.4,505.6 1535.8,505.6 1537.3,505.6 1538.7,505.6 1540.2,505.6 1541.6,505.6 1543.1,505.6 1544.5,505.6 1546.0,505.6 1547.5,505.6 1548.9,505.6 1550.4,505.5 1551.8,505.4 1553.3,505.2 1554.7,504.9 1556.2,504.6 1557.7,504.3 1559.1,503.9 1560.6,503.5 1562.0,503.0 1563.5,502.6 1564.9,502.1 1566.4,501.7 1567.9,501.2 1569.3,500.8 1570.8,500.3 1572.2,499.9 1573.7,499.6 1575.1,499.2 1576.6,499.0 1578.1,498.7 1579.5,498.5 1581.0,498.3 1582.4,498.1 1583.9,497.9 1585.3,497.7 1586.8,497.5 1588.2,497.3 1589.7,497.1 1591.2,496.9 1592.6,496.7 1594.1,496.5 1595.5,496.4 1597.0,496.2 1598.4,496.0 1599.9,495.9 1601.4,495.8 1602.8,495.7 1604.3,495.6 1605.7,495.5 1607.2,495.4 1608.6,495.3 1610.1,495.3 1611.6,495.3 1613.0,495.3 1614.5,495.3 1615.9,495.3 1617.4,495.3 1618.8,495.3 1620.3,495.3 1621.8,495.3 1623.2,495.3 1624.7,495.3 1626.1,495.3 1627.6,495.3 1629.0,495.3 1630.5,495.3 1632.0,495.3 1633.4,495.3 1634.9,495.3 1636.3,495.3 1637.8,495.3 1639.2,495.4 1640.7,495.4 1642.1,495.5 1643.6,495.6 1645.1,495.7 1646.5,495.8 1648.0,496.0 1649.4,496.1 1650.9,496.3 1652.3,496.5 1653.8,496.7 1655.3,496.8 1656.7,497.0 1658.2,497.2 1659.6,497.4 1661.1,497.6 1662.5,497.8 1664.0,498.0 1665.5,498.2 1666.9,498.4 1668.4,498.6 1669.8,498.7 1671.3,498.9 1672.7,499.1 1674.2,499.2 1675.7,499.4 1677.1,499.6 1678.6,499.7 1680.0,499.9 1681.5,500.1 1682.9,500.2 1684.4,500.4 1685.8,500.6 1687.3,500.8 1688.8,501.0 1690.2,501.2 1691.7,501.4 1693.1,501.6 1694.6,501.8 1696.0,502.0 1697.5,502.2 1699.0,502.4 1700.4,502.7 1701.9,502.9 1703.3,503.2 1704.8,503.4 1706.2,503.7 1707.7,504.0 1709.2,504.3 1710.6,504.7 1712.1,505.0 1713.5,505.4 1715.0,505.8 1716.4,506.2 1717.9,506.6 1719.3,507.0 1720.8,507.4 1722.3,507.8 1723.7,508.2 1725.2,508.6 1726.6,508.9 1728.1,509.3 1729.5,509.7 1731.0,510.2 1732.5,510.7 1733.9,511.2 1735.4,511.6 1736.8,512.1 1738.3,512.5 1739.7,512.9 1741.2,513.2 1742.7,513.4 1744.1,513.6 1745.6,513.6 1747.0,513.6 1748.5,513.5 1749.9,513.4 1751.4,513.2 1752.9,513.0 1754.3,512.8 1755.8,512.6 1757.2,512.4 1758.7,512.1 1760.1,511.6 1761.6,511.1 1763.0,510.4 1764.5,509.7 1766.0,508.9 1767.4,508.1 1768.9,507.2 1770.3,506.3 1771.8,505.4 1773.2,504.6 1774.7,503.7 1776.2,502.9 1777.6,502.1 1779.1,501.5 1780.5,500.9 1782.0,500.4 1783.4,500.0 1784.9,499.8 1786.4,499.5 1787.8,499.3 1789.3,499.1 1790.7,498.9 1792.2,498.7 1793.6,498.5 1795.1,498.3 1796.6,498.2 1798.0,498.0 1799.5,497.9 1800.9,497.8 1802.4,497.7 1803.8,497.6 1805.3,497.6 1806.8,497.6 1808.2,497.6 1809.7,497.6 1811.1,497.6 1812.6,497.6 1814.0,497.6 1815.5,497.6 1816.9,497.6 1818.4,497.6 1819.9,497.6 1821.3,497.6 1822.8,497.6 1824.2,497.6 1825.7,497.6 1827.1,497.6 1828.6,497.6 1830.1,497.6 1831.5,497.6 1833.0,497.6 1834.4,497.6 1835.9,497.6 1837.3,497.6 1838.8,497.6 1840.3,497.7 1841.7,497.9 1843.2,498.1 1844.6,498.4 1846.1,498.7 1847.5,499.0 1849.0,499.4 1850.5,499.8 1851.9,500.3 1853.4,500.7 1854.8,501.2 1856.3,501.7 1857.7,502.2 1859.2,502.7 1860.6,503.2 1862.1,503.7 1863.6,504.2 1865.0,504.6 1866.5,505.1 1867.9,505.8 1869.4,506.4 1870.8,507.1 1872.3,507.9 1873.8,508.7 1875.2,509.5 1876.7,510.4 1878.1,511.2 1879.6,512.0 1881.0,512.9 1882.5,513.7 1884.0,514.4 1885.4,515.2 1886.9,515.8 1888.3,516.4 1889.8,517.0 1891.2,517.4 1892.7,517.8 1894.2,518.0 1895.6,518.2 1897.1,518.2 1898.5,518.2 1900.0,518.1 1901.4,518.1 1902.9,518.0 1904.3,517.9 1905.8,517.8 1907.3,517.6 1908.7,517.4 1910.2,517.1 1911.6,516.8 1913.1,516.4 1914.5,516.0 1916.0,515.5" fill="none" stroke="#f59a3c" stroke-width="7" stroke-linejoin="round" stroke-linecap="butt"/>
<text x="1896.10" y="420.90" font-size="28.99" font-weight="normal" fill="#111" stroke="#111" stroke-width="1.1" textLength="13.12" lengthAdjust="spacingAndGlyphs">F</text>
<text x="1421.90" y="405.53" font-size="27.32" font-weight="normal" fill="#5e5e5e" stroke="#5e5e5e" stroke-width="0.4" textLength="28.56" lengthAdjust="spacingAndGlyphs">20</text>
<text x="1436.60" y="501.34" font-size="25.92" font-weight="normal" fill="#5e5e5e" stroke="#5e5e5e" stroke-width="0.4" textLength="13.70" lengthAdjust="spacingAndGlyphs">0</text>
<text x="1413.60" y="595.33" font-size="27.32" font-weight="normal" fill="#5e5e5e" stroke="#5e5e5e" stroke-width="0.4" textLength="37.57" lengthAdjust="spacingAndGlyphs">-20</text>
<line x1="1478" y1="646.7" x2="1916.5" y2="646.7" stroke="#cbcbcb" stroke-width="1.8"/>
<line x1="1478" y1="740.7" x2="1916.5" y2="740.7" stroke="#cbcbcb" stroke-width="1.8"/>
<line x1="1478" y1="833.4" x2="1916.5" y2="833.4" stroke="#cbcbcb" stroke-width="1.8"/>
<rect x="1724.3" y="647" width="30.700000000000045" height="187" fill="#e4e4e4"/>
<path d="M1478.5 765.1V795.1M1482.9 766.4V796.4M1487.2 767.1V797.1M1491.6 767.3V797.3M1496.0 767.3V797.3M1500.4 766.3V796.3M1504.8 763.9V793.9M1509.1 760.9V790.9M1513.5 757.9V787.9M1517.9 755.6V785.6M1522.2 754.5V784.5M1526.6 754.0V784.0M1531.0 753.5V783.5M1535.4 753.2V783.2M1539.8 752.8V782.8M1544.1 752.4V782.4M1548.5 752.0V782.0M1552.9 751.6V781.6M1557.2 751.2V781.2M1561.6 750.8V780.8M1566.0 750.4V780.4M1570.4 750.0V780.0M1574.8 749.6V779.6M1579.1 749.2V779.2M1583.5 748.7V778.7M1587.9 748.1V778.1M1592.2 747.5V777.5M1596.6 746.7V776.7M1601.0 745.9V775.9M1605.4 745.0V775.0M1609.8 744.0V774.0M1614.1 742.9V772.9M1618.5 741.9V771.9M1622.9 740.7V770.7M1627.2 739.6V769.6M1631.6 738.5V768.5M1636.0 737.4V767.4M1640.4 736.3V766.3M1644.8 735.1V765.1M1649.1 733.8V763.8M1653.5 732.6V762.6M1657.9 731.3V761.3M1662.2 730.0V760.0M1666.6 728.7V758.7M1671.0 727.5V757.5M1675.4 726.4V756.4M1679.8 725.3V755.3M1684.1 724.3V754.3M1688.5 723.1V753.1M1692.9 722.0V752.0M1697.2 721.0V751.0M1701.6 720.5V750.5M1706.0 720.5V750.5M1710.4 721.2V751.2M1714.8 722.4V752.4M1719.1 723.8V753.8M1723.5 725.2V755.2M1727.9 726.3V756.3M1732.2 727.2V757.2M1736.6 727.9V757.9M1741.0 728.7V758.7M1745.4 723.6V765.6M1749.8 724.6V766.6M1754.1 726.1V768.1M1758.5 728.1V770.1M1762.9 730.3V772.3M1767.2 732.8V774.8M1771.6 735.2V777.2M1776.0 737.5V779.5M1780.4 739.4V781.4M1784.8 740.9V782.9M1789.1 741.9V783.9M1793.5 742.8V784.8M1797.9 743.6V785.6M1802.2 744.3V786.3M1806.6 745.0V787.0M1811.0 745.8V787.8M1815.4 746.7V788.7M1819.8 748.0V790.0M1824.1 749.9V791.9M1828.5 752.4V794.4M1832.9 754.9V796.9M1837.2 756.9V798.9M1841.6 757.9V799.9M1846.0 758.3V800.3M1850.4 758.6V800.6M1854.8 758.8V800.8M1859.1 759.0V801.0M1863.5 759.1V801.1M1867.9 758.9V800.9M1872.2 758.4V800.4M1876.6 757.8V799.8M1881.0 757.2V799.2M1885.4 756.8V798.8M1889.8 756.8V798.8M1894.1 757.0V799.0M1898.5 757.5V799.5M1902.9 758.1V800.1M1907.2 758.9V800.9M1911.6 760.0V802.0M1916.0 761.1V803.1" stroke="#f7d0b0" stroke-width="1.2" fill="none"/>
<path d="M1478.5 773.1V803.1M1482.9 773.1V803.1M1487.2 773.1V803.1M1491.6 773.1V803.1M1496.0 773.1V803.1M1500.4 772.0V802.0M1504.8 769.6V799.6M1509.1 766.4V796.4M1513.5 763.2V793.2M1517.9 760.5V790.5M1522.2 758.9V788.9M1526.6 757.8V787.8M1531.0 756.9V786.9M1535.4 756.0V786.0M1539.8 755.3V785.3M1544.1 754.7V784.7M1548.5 754.1V784.1M1552.9 753.7V783.7M1557.2 753.3V783.3M1561.6 752.9V782.9M1566.0 752.5V782.5M1570.4 752.2V782.2M1574.8 751.8V781.8M1579.1 751.4V781.4M1583.5 750.9V780.9M1587.9 750.4V780.4M1592.2 749.8V779.8M1596.6 749.0V779.0M1601.0 748.0V778.0M1605.4 747.0V777.0M1609.8 745.9V775.9M1614.1 744.7V774.7M1618.5 743.5V773.5M1622.9 742.2V772.2M1627.2 741.0V771.0M1631.6 739.7V769.7M1636.0 738.5V768.5M1640.4 737.3V767.3M1644.8 736.0V766.0M1649.1 734.7V764.7M1653.5 733.3V763.3M1657.9 731.9V761.9M1662.2 730.6V760.6M1666.6 729.2V759.2M1671.0 727.9V757.9M1675.4 726.6V756.6M1679.8 725.4V755.4M1684.1 724.1V754.1M1688.5 722.7V752.7M1692.9 721.3V751.3M1697.2 720.1V750.1M1701.6 719.4V749.4M1706.0 719.4V749.4M1710.4 720.8V750.8M1714.8 723.1V753.1M1719.1 725.6V755.6M1723.5 727.7V757.7M1727.9 729.4V759.4M1732.2 731.0V761.0M1736.6 732.6V762.6M1741.0 734.3V764.3M1745.4 730.3V772.3M1749.8 732.6V774.6M1754.1 736.3V778.3M1758.5 741.5V783.5M1762.9 747.1V789.1M1767.2 752.1V794.1M1771.6 755.2V797.2M1776.0 756.3V798.3M1780.4 756.9V798.9M1784.8 757.3V799.3M1789.1 757.7V799.7M1793.5 758.1V800.1M1797.9 758.6V800.6M1802.2 759.5V801.5M1806.6 761.0V803.0M1811.0 763.1V805.1M1815.4 765.4V807.4M1819.8 767.8V809.8M1824.1 770.2V812.2M1828.5 772.2V814.2M1832.9 773.9V815.9M1837.2 775.6V817.6M1841.6 777.3V819.3M1846.0 778.7V820.7M1850.4 779.5V821.5M1854.8 779.6V821.6M1859.1 778.5V820.5M1863.5 776.7V818.7M1867.9 774.5V816.5M1872.2 772.3V814.3M1876.6 770.5V812.5M1881.0 769.5V811.5M1885.4 769.4V811.4M1889.8 769.4V811.4M1894.1 769.4V811.4M1898.5 769.5V811.5M1902.9 769.7V811.7M1907.2 770.0V812.0M1911.6 770.4V812.4M1916.0 771.0V813.0" stroke="#bdbdbd" stroke-width="1.2" fill="none"/>
<polyline points="1478.5,788.1 1480.0,788.1 1481.4,788.1 1482.9,788.1 1484.3,788.1 1485.8,788.1 1487.2,788.1 1488.7,788.1 1490.2,788.1 1491.6,788.1 1493.1,788.1 1494.5,788.1 1496.0,788.1 1497.5,787.9 1498.9,787.5 1500.4,787.0 1501.8,786.3 1503.3,785.5 1504.8,784.6 1506.2,783.6 1507.7,782.5 1509.1,781.4 1510.6,780.3 1512.0,779.3 1513.5,778.2 1515.0,777.2 1516.4,776.3 1517.9,775.5 1519.3,774.8 1520.8,774.3 1522.2,773.9 1523.7,773.5 1525.2,773.2 1526.6,772.8 1528.1,772.5 1529.5,772.2 1531.0,771.9 1532.5,771.6 1533.9,771.3 1535.4,771.0 1536.8,770.8 1538.3,770.6 1539.8,770.3 1541.2,770.1 1542.7,769.9 1544.1,769.7 1545.6,769.5 1547.0,769.3 1548.5,769.1 1550.0,769.0 1551.4,768.8 1552.9,768.7 1554.3,768.5 1555.8,768.4 1557.2,768.3 1558.7,768.1 1560.2,768.0 1561.6,767.9 1563.1,767.8 1564.5,767.6 1566.0,767.5 1567.5,767.4 1568.9,767.3 1570.4,767.2 1571.8,767.1 1573.3,766.9 1574.8,766.8 1576.2,766.7 1577.7,766.5 1579.1,766.4 1580.6,766.3 1582.0,766.1 1583.5,765.9 1585.0,765.8 1586.4,765.6 1587.9,765.4 1589.3,765.2 1590.8,765.0 1592.2,764.8 1593.7,764.5 1595.2,764.2 1596.6,764.0 1598.1,763.7 1599.5,763.4 1601.0,763.0 1602.5,762.7 1603.9,762.4 1605.4,762.0 1606.8,761.7 1608.3,761.3 1609.8,760.9 1611.2,760.5 1612.7,760.1 1614.1,759.7 1615.6,759.3 1617.0,758.9 1618.5,758.5 1620.0,758.1 1621.4,757.7 1622.9,757.2 1624.3,756.8 1625.8,756.4 1627.2,756.0 1628.7,755.6 1630.2,755.2 1631.6,754.7 1633.1,754.3 1634.5,753.9 1636.0,753.5 1637.5,753.1 1638.9,752.7 1640.4,752.3 1641.8,751.9 1643.3,751.4 1644.8,751.0 1646.2,750.6 1647.7,750.1 1649.1,749.7 1650.6,749.2 1652.0,748.8 1653.5,748.3 1655.0,747.9 1656.4,747.4 1657.9,746.9 1659.3,746.5 1660.8,746.0 1662.2,745.6 1663.7,745.1 1665.2,744.7 1666.6,744.2 1668.1,743.8 1669.5,743.3 1671.0,742.9 1672.5,742.4 1673.9,742.0 1675.4,741.6 1676.8,741.2 1678.3,740.8 1679.8,740.4 1681.2,740.0 1682.7,739.5 1684.1,739.1 1685.6,738.6 1687.0,738.2 1688.5,737.7 1690.0,737.2 1691.4,736.7 1692.9,736.3 1694.3,735.8 1695.8,735.4 1697.2,735.1 1698.7,734.8 1700.2,734.5 1701.6,734.4 1703.1,734.3 1704.5,734.2 1706.0,734.4 1707.5,734.7 1708.9,735.2 1710.4,735.8 1711.8,736.5 1713.3,737.3 1714.8,738.1 1716.2,739.0 1717.7,739.8 1719.1,740.6 1720.6,741.4 1722.0,742.1 1723.5,742.7 1725.0,743.3 1726.4,743.9 1727.9,744.4 1729.3,744.9 1730.8,745.5 1732.2,746.0 1733.7,746.5 1735.2,747.0 1736.6,747.6 1738.1,748.1 1739.5,748.7 1741.0,749.3 1742.5,749.9 1743.9,750.6 1745.4,751.3 1746.8,752.0 1748.3,752.8 1749.8,753.6 1751.2,754.6 1752.7,755.8 1754.1,757.3 1755.6,758.9 1757.0,760.7 1758.5,762.5 1760.0,764.4 1761.4,766.3 1762.9,768.1 1764.3,769.9 1765.8,771.6 1767.2,773.1 1768.7,774.4 1770.2,775.5 1771.6,776.2 1773.1,776.7 1774.5,777.0 1776.0,777.3 1777.5,777.5 1778.9,777.7 1780.4,777.9 1781.8,778.0 1783.3,778.2 1784.8,778.3 1786.2,778.4 1787.7,778.5 1789.1,778.7 1790.6,778.8 1792.0,778.9 1793.5,779.1 1795.0,779.2 1796.4,779.4 1797.9,779.6 1799.3,779.9 1800.8,780.2 1802.2,780.5 1803.7,780.9 1805.2,781.5 1806.6,782.0 1808.1,782.7 1809.5,783.3 1811.0,784.1 1812.5,784.8 1813.9,785.6 1815.4,786.4 1816.8,787.2 1818.3,788.0 1819.8,788.8 1821.2,789.6 1822.7,790.4 1824.1,791.2 1825.6,791.9 1827.0,792.6 1828.5,793.2 1830.0,793.8 1831.4,794.3 1832.9,794.9 1834.3,795.4 1835.8,796.0 1837.2,796.6 1838.7,797.2 1840.2,797.8 1841.6,798.3 1843.1,798.8 1844.5,799.3 1846.0,799.7 1847.5,800.0 1848.9,800.3 1850.4,800.5 1851.8,800.6 1853.3,800.7 1854.8,800.6 1856.2,800.3 1857.7,800.0 1859.1,799.5 1860.6,799.0 1862.0,798.4 1863.5,797.7 1865.0,797.0 1866.4,796.3 1867.9,795.5 1869.3,794.8 1870.8,794.0 1872.2,793.3 1873.7,792.7 1875.2,792.0 1876.6,791.5 1878.1,791.1 1879.5,790.7 1881.0,790.5 1882.5,790.4 1883.9,790.4 1885.4,790.4 1886.8,790.4 1888.3,790.4 1889.8,790.4 1891.2,790.4 1892.7,790.4 1894.1,790.4 1895.6,790.5 1897.0,790.5 1898.5,790.5 1900.0,790.6 1901.4,790.6 1902.9,790.7 1904.3,790.8 1905.8,790.9 1907.2,791.0 1908.7,791.1 1910.2,791.3 1911.6,791.4 1913.1,791.6 1914.5,791.8 1916.0,792.0" fill="none" stroke="#737373" stroke-width="7" stroke-linejoin="round" stroke-linecap="butt"/>
<polyline points="1478.5,780.1 1480.0,780.6 1481.4,781.0 1482.9,781.4 1484.3,781.7 1485.8,781.9 1487.2,782.1 1488.7,782.2 1490.2,782.3 1491.6,782.3 1493.1,782.3 1494.5,782.3 1496.0,782.3 1497.5,782.2 1498.9,781.8 1500.4,781.3 1501.8,780.6 1503.3,779.8 1504.8,778.9 1506.2,778.0 1507.7,777.0 1509.1,775.9 1510.6,774.9 1512.0,773.9 1513.5,772.9 1515.0,772.0 1516.4,771.3 1517.9,770.6 1519.3,770.1 1520.8,769.8 1522.2,769.5 1523.7,769.3 1525.2,769.1 1526.6,769.0 1528.1,768.8 1529.5,768.7 1531.0,768.5 1532.5,768.4 1533.9,768.3 1535.4,768.2 1536.8,768.1 1538.3,767.9 1539.8,767.8 1541.2,767.7 1542.7,767.6 1544.1,767.4 1545.6,767.3 1547.0,767.1 1548.5,767.0 1550.0,766.9 1551.4,766.7 1552.9,766.6 1554.3,766.5 1555.8,766.3 1557.2,766.2 1558.7,766.1 1560.2,766.0 1561.6,765.8 1563.1,765.7 1564.5,765.6 1566.0,765.4 1567.5,765.3 1568.9,765.2 1570.4,765.0 1571.8,764.9 1573.3,764.8 1574.8,764.6 1576.2,764.5 1577.7,764.3 1579.1,764.2 1580.6,764.0 1582.0,763.8 1583.5,763.7 1585.0,763.5 1586.4,763.3 1587.9,763.1 1589.3,762.9 1590.8,762.7 1592.2,762.5 1593.7,762.2 1595.2,762.0 1596.6,761.7 1598.1,761.5 1599.5,761.2 1601.0,760.9 1602.5,760.6 1603.9,760.3 1605.4,760.0 1606.8,759.7 1608.3,759.3 1609.8,759.0 1611.2,758.6 1612.7,758.3 1614.1,757.9 1615.6,757.6 1617.0,757.2 1618.5,756.9 1620.0,756.5 1621.4,756.1 1622.9,755.7 1624.3,755.4 1625.8,755.0 1627.2,754.6 1628.7,754.2 1630.2,753.9 1631.6,753.5 1633.1,753.1 1634.5,752.8 1636.0,752.4 1637.5,752.0 1638.9,751.7 1640.4,751.3 1641.8,750.9 1643.3,750.5 1644.8,750.1 1646.2,749.7 1647.7,749.2 1649.1,748.8 1650.6,748.4 1652.0,748.0 1653.5,747.6 1655.0,747.1 1656.4,746.7 1657.9,746.3 1659.3,745.8 1660.8,745.4 1662.2,745.0 1663.7,744.6 1665.2,744.1 1666.6,743.7 1668.1,743.3 1669.5,742.9 1671.0,742.5 1672.5,742.1 1673.9,741.7 1675.4,741.4 1676.8,741.0 1678.3,740.6 1679.8,740.3 1681.2,740.0 1682.7,739.6 1684.1,739.3 1685.6,738.9 1687.0,738.5 1688.5,738.1 1690.0,737.7 1691.4,737.3 1692.9,737.0 1694.3,736.6 1695.8,736.3 1697.2,736.0 1698.7,735.8 1700.2,735.6 1701.6,735.5 1703.1,735.4 1704.5,735.4 1706.0,735.5 1707.5,735.6 1708.9,735.9 1710.4,736.2 1711.8,736.5 1713.3,736.9 1714.8,737.4 1716.2,737.8 1717.7,738.3 1719.1,738.8 1720.6,739.3 1722.0,739.7 1723.5,740.2 1725.0,740.6 1726.4,741.0 1727.9,741.3 1729.3,741.6 1730.8,741.9 1732.2,742.2 1733.7,742.4 1735.2,742.7 1736.6,742.9 1738.1,743.2 1739.5,743.4 1741.0,743.7 1742.5,744.0 1743.9,744.3 1745.4,744.6 1746.8,744.9 1748.3,745.3 1749.8,745.6 1751.2,746.1 1752.7,746.6 1754.1,747.1 1755.6,747.7 1757.0,748.4 1758.5,749.1 1760.0,749.8 1761.4,750.6 1762.9,751.3 1764.3,752.1 1765.8,752.9 1767.2,753.8 1768.7,754.6 1770.2,755.4 1771.6,756.2 1773.1,757.0 1774.5,757.7 1776.0,758.5 1777.5,759.2 1778.9,759.8 1780.4,760.4 1781.8,761.0 1783.3,761.4 1784.8,761.9 1786.2,762.2 1787.7,762.6 1789.1,762.9 1790.6,763.2 1792.0,763.5 1793.5,763.8 1795.0,764.1 1796.4,764.3 1797.9,764.6 1799.3,764.8 1800.8,765.0 1802.2,765.3 1803.7,765.5 1805.2,765.7 1806.6,766.0 1808.1,766.2 1809.5,766.5 1811.0,766.8 1812.5,767.1 1813.9,767.4 1815.4,767.7 1816.8,768.1 1818.3,768.5 1819.8,769.0 1821.2,769.5 1822.7,770.2 1824.1,770.9 1825.6,771.7 1827.0,772.5 1828.5,773.4 1830.0,774.2 1831.4,775.1 1832.9,775.9 1834.3,776.6 1835.8,777.3 1837.2,777.9 1838.7,778.4 1840.2,778.7 1841.6,778.9 1843.1,779.0 1844.5,779.2 1846.0,779.3 1847.5,779.4 1848.9,779.5 1850.4,779.6 1851.8,779.7 1853.3,779.8 1854.8,779.8 1856.2,779.9 1857.7,779.9 1859.1,780.0 1860.6,780.0 1862.0,780.0 1863.5,780.1 1865.0,780.1 1866.4,780.0 1867.9,779.9 1869.3,779.8 1870.8,779.6 1872.2,779.4 1873.7,779.2 1875.2,779.0 1876.6,778.8 1878.1,778.6 1879.5,778.4 1881.0,778.2 1882.5,778.0 1883.9,777.9 1885.4,777.8 1886.8,777.8 1888.3,777.8 1889.8,777.8 1891.2,777.9 1892.7,777.9 1894.1,778.0 1895.6,778.2 1897.0,778.3 1898.5,778.5 1900.0,778.7 1901.4,778.9 1902.9,779.1 1904.3,779.4 1905.8,779.6 1907.2,779.9 1908.7,780.3 1910.2,780.6 1911.6,781.0 1913.1,781.3 1914.5,781.7 1916.0,782.1" fill="none" stroke="#f59a3c" stroke-width="7" stroke-linejoin="round" stroke-linecap="butt"/>
<text x="1895.90" y="681.10" font-size="29.28" font-weight="normal" fill="#111" stroke="#111" stroke-width="1.1" textLength="4.96" lengthAdjust="spacingAndGlyphs">I</text>
<text x="1419.00" y="655.13" font-size="27.32" font-weight="normal" fill="#5e5e5e" stroke="#5e5e5e" stroke-width="0.4" textLength="27.75" lengthAdjust="spacingAndGlyphs">20</text>
<text x="1433.80" y="748.23" font-size="27.46" font-weight="normal" fill="#5e5e5e" stroke="#5e5e5e" stroke-width="0.4" textLength="12.81" lengthAdjust="spacingAndGlyphs">0</text>
<text x="1410.80" y="842.12" font-size="28.45" font-weight="normal" fill="#5e5e5e" stroke="#5e5e5e" stroke-width="0.4" textLength="39.47" lengthAdjust="spacingAndGlyphs">-20</text>
<line x1="1485.3" y1="884.2" x2="1921.7" y2="884.2" stroke="#cbcbcb" stroke-width="1.8"/>
<line x1="1485.3" y1="947.2" x2="1921.7" y2="947.2" stroke="#cbcbcb" stroke-width="1.8"/>
<line x1="1485.3" y1="1010.2" x2="1921.7" y2="1010.2" stroke="#cbcbcb" stroke-width="1.8"/>
<line x1="1485.3" y1="1073.4" x2="1921.7" y2="1073.4" stroke="#cbcbcb" stroke-width="1.8"/>
<rect x="1724.3" y="884" width="30.700000000000045" height="190" fill="#e4e4e4"/>
<path d="M1487.0 977.3V1005.3M1491.3 978.0V1006.0M1495.7 978.4V1006.4M1500.0 978.5V1006.5M1504.4 978.6V1006.6M1508.8 978.1V1006.1M1513.1 976.6V1004.6M1517.5 974.6V1002.6M1521.8 972.3V1000.3M1526.2 970.2V998.2M1530.5 968.7V996.7M1534.8 967.8V995.8M1539.2 967.0V995.0M1543.5 966.4V994.4M1547.9 966.0V994.0M1552.2 966.0V994.0M1556.6 966.0V994.0M1561.0 966.0V994.0M1565.3 966.0V994.0M1569.7 966.0V994.0M1574.0 966.0V994.0M1578.3 966.0V994.0M1582.7 966.0V994.0M1587.0 966.0V994.0M1591.4 966.0V994.0M1595.8 966.0V994.0M1600.1 966.0V994.0M1604.5 966.0V994.0M1608.8 966.0V994.0M1613.2 966.0V994.0M1617.5 966.0V994.0M1621.8 966.2V994.2M1626.2 966.5V994.5M1630.5 966.8V994.8M1634.9 967.1V995.1M1639.2 967.4V995.4M1643.6 967.8V995.8M1648.0 968.3V996.3M1652.3 968.9V996.9M1656.7 969.5V997.5M1661.0 970.2V998.2M1665.3 970.9V998.9M1669.7 971.7V999.7M1674.0 972.6V1000.6M1678.4 973.6V1001.6M1682.8 974.8V1002.8M1687.1 976.0V1004.0M1691.5 977.1V1005.1M1695.8 978.3V1006.3M1700.2 979.7V1007.7M1704.5 981.1V1009.1M1708.8 982.3V1010.3M1713.2 983.0V1011.0M1717.5 983.1V1011.1M1721.9 983.1V1011.1M1726.2 983.1V1011.1M1730.6 983.1V1011.1M1735.0 983.1V1011.1M1739.3 983.1V1011.1M1743.7 983.1V1011.1M1748.0 983.1V1011.1M1752.3 983.1V1011.1M1756.7 983.1V1011.1M1761.0 983.1V1011.1M1765.4 983.1V1011.1M1769.8 983.1V1011.1M1774.1 983.1V1011.1M1778.5 982.5V1010.5M1782.8 981.3V1009.3M1787.2 980.0V1008.0M1791.5 979.0V1007.0M1795.8 978.6V1006.6M1800.2 978.6V1006.6M1804.5 978.6V1006.6M1808.9 978.6V1006.6M1813.2 978.6V1006.6M1817.6 978.6V1006.6M1822.0 978.6V1006.6M1826.3 978.6V1006.6M1830.7 978.6V1006.6M1835.0 978.6V1006.6M1839.3 978.6V1006.6M1843.7 978.6V1006.6M1848.0 978.6V1006.6M1852.4 978.6V1006.6M1856.8 978.6V1006.6M1861.1 978.6V1006.6M1865.5 978.6V1006.6M1869.8 978.6V1006.6M1874.2 978.6V1006.6M1878.5 978.6V1006.6M1882.8 978.6V1006.6M1887.2 978.8V1006.8M1891.5 978.9V1006.9M1895.9 979.1V1007.1M1900.2 979.4V1007.4M1904.6 979.6V1007.6M1909.0 979.9V1007.9M1913.3 980.2V1008.2M1917.7 980.6V1008.6M1922.0 980.9V1008.9" stroke="#f7d0b0" stroke-width="1.2" fill="none"/>
<path d="M1487.0 975.1V1003.1M1491.3 975.0V1003.0M1495.7 974.5V1002.5M1500.0 973.8V1001.8M1504.4 972.9V1000.9M1508.8 971.5V999.5M1513.1 969.2V997.2M1517.5 966.4V994.4M1521.8 963.5V991.5M1526.2 961.1V989.1M1530.5 959.4V987.4M1534.8 958.8V986.8M1539.2 958.3V986.3M1543.5 957.9V985.9M1547.9 957.5V985.5M1552.2 957.2V985.2M1556.6 957.0V985.0M1561.0 956.9V984.9M1565.3 956.8V984.8M1569.7 956.8V984.8M1574.0 956.8V984.8M1578.3 956.8V984.8M1582.7 956.8V984.8M1587.0 956.8V984.8M1591.4 956.8V984.8M1595.8 956.8V984.8M1600.1 956.8V984.8M1604.5 956.8V984.8M1608.8 956.8V984.8M1613.2 956.8V984.8M1617.5 957.1V985.1M1621.8 957.8V985.8M1626.2 958.6V986.6M1630.5 959.5V987.5M1634.9 960.2V988.2M1639.2 960.7V988.7M1643.6 961.1V989.1M1648.0 961.4V989.4M1652.3 961.8V989.8M1656.7 962.2V990.2M1661.0 962.6V990.6M1665.3 963.1V991.1M1669.7 963.7V991.7M1674.0 964.6V992.6M1678.4 965.8V993.8M1682.8 967.3V995.3M1687.1 968.8V996.8M1691.5 970.2V998.2M1695.8 971.5V999.5M1700.2 972.9V1000.9M1704.5 974.3V1002.3M1708.8 975.5V1003.5M1713.2 976.2V1004.2M1717.5 976.2V1004.2M1721.9 975.9V1003.9M1726.2 975.2V1003.2M1730.6 974.4V1002.4M1735.0 973.5V1001.5M1739.3 972.7V1000.7M1743.7 972.1V1000.1M1748.0 971.7V999.7M1752.3 971.7V999.7M1756.7 971.9V999.9M1761.0 972.2V1000.2M1765.4 972.6V1000.6M1769.8 972.8V1000.8M1774.1 972.8V1000.8M1778.5 972.3V1000.3M1782.8 971.5V999.5M1787.2 970.5V998.5M1791.5 969.7V997.7M1795.8 969.4V997.4M1800.2 969.4V997.4M1804.5 969.5V997.5M1808.9 969.7V997.7M1813.2 969.8V997.8M1817.6 970.0V998.0M1822.0 970.2V998.2M1826.3 970.4V998.4M1830.7 970.6V998.6M1835.0 970.8V998.8M1839.3 970.9V998.9M1843.7 971.2V999.2M1848.0 971.4V999.4M1852.4 971.6V999.6M1856.8 971.8V999.8M1861.1 972.1V1000.1M1865.5 972.3V1000.3M1869.8 972.5V1000.5M1874.2 972.7V1000.7M1878.5 973.0V1001.0M1882.8 973.2V1001.2M1887.2 973.4V1001.4M1891.5 973.6V1001.6M1895.9 973.8V1001.8M1900.2 974.1V1002.1M1904.6 974.3V1002.3M1909.0 974.5V1002.5M1913.3 974.7V1002.7M1917.7 974.9V1002.9M1922.0 975.1V1003.1" stroke="#bdbdbd" stroke-width="1.2" fill="none"/>
<polyline points="1487.0,989.1 1488.5,989.1 1489.9,989.1 1491.3,989.0 1492.8,988.8 1494.2,988.7 1495.7,988.5 1497.2,988.3 1498.6,988.0 1500.0,987.8 1501.5,987.5 1503.0,987.2 1504.4,986.9 1505.8,986.6 1507.3,986.1 1508.8,985.5 1510.2,984.8 1511.7,984.1 1513.1,983.2 1514.5,982.3 1516.0,981.4 1517.5,980.4 1518.9,979.4 1520.3,978.5 1521.8,977.5 1523.2,976.7 1524.7,975.8 1526.2,975.1 1527.6,974.4 1529.0,973.9 1530.5,973.4 1532.0,973.1 1533.4,973.0 1534.8,972.8 1536.3,972.6 1537.8,972.5 1539.2,972.3 1540.7,972.2 1542.1,972.0 1543.5,971.9 1545.0,971.8 1546.5,971.7 1547.9,971.5 1549.3,971.4 1550.8,971.3 1552.2,971.2 1553.7,971.2 1555.2,971.1 1556.6,971.0 1558.0,971.0 1559.5,970.9 1561.0,970.9 1562.4,970.8 1563.8,970.8 1565.3,970.8 1566.8,970.8 1568.2,970.8 1569.7,970.8 1571.1,970.8 1572.5,970.8 1574.0,970.8 1575.5,970.8 1576.9,970.8 1578.3,970.8 1579.8,970.8 1581.2,970.8 1582.7,970.8 1584.2,970.8 1585.6,970.8 1587.0,970.8 1588.5,970.8 1590.0,970.8 1591.4,970.8 1592.8,970.8 1594.3,970.8 1595.8,970.8 1597.2,970.8 1598.7,970.8 1600.1,970.8 1601.5,970.8 1603.0,970.8 1604.5,970.8 1605.9,970.8 1607.3,970.8 1608.8,970.8 1610.2,970.8 1611.7,970.8 1613.2,970.8 1614.6,970.9 1616.0,971.0 1617.5,971.1 1619.0,971.3 1620.4,971.5 1621.8,971.8 1623.3,972.1 1624.8,972.3 1626.2,972.6 1627.7,972.9 1629.1,973.2 1630.5,973.5 1632.0,973.7 1633.5,974.0 1634.9,974.2 1636.3,974.4 1637.8,974.5 1639.2,974.7 1640.7,974.8 1642.2,975.0 1643.6,975.1 1645.0,975.2 1646.5,975.3 1648.0,975.4 1649.4,975.6 1650.8,975.7 1652.3,975.8 1653.8,975.9 1655.2,976.0 1656.7,976.2 1658.1,976.3 1659.5,976.4 1661.0,976.6 1662.5,976.7 1663.9,976.9 1665.3,977.1 1666.8,977.3 1668.2,977.5 1669.7,977.7 1671.2,977.9 1672.6,978.2 1674.0,978.6 1675.5,979.0 1677.0,979.4 1678.4,979.8 1679.8,980.3 1681.3,980.8 1682.8,981.3 1684.2,981.8 1685.7,982.3 1687.1,982.8 1688.5,983.3 1690.0,983.8 1691.5,984.2 1692.9,984.6 1694.3,985.0 1695.8,985.5 1697.2,986.0 1698.7,986.4 1700.2,986.9 1701.6,987.4 1703.0,987.9 1704.5,988.3 1706.0,988.7 1707.4,989.1 1708.8,989.5 1710.3,989.8 1711.8,990.0 1713.2,990.2 1714.7,990.3 1716.1,990.3 1717.5,990.2 1719.0,990.1 1720.5,990.0 1721.9,989.9 1723.3,989.7 1724.8,989.5 1726.2,989.2 1727.7,989.0 1729.2,988.7 1730.6,988.4 1732.0,988.1 1733.5,987.8 1735.0,987.5 1736.4,987.3 1737.8,987.0 1739.3,986.7 1740.8,986.5 1742.2,986.3 1743.7,986.1 1745.1,985.9 1746.5,985.8 1748.0,985.7 1749.5,985.7 1750.9,985.7 1752.3,985.7 1753.8,985.8 1755.2,985.9 1756.7,985.9 1758.2,986.0 1759.6,986.1 1761.0,986.2 1762.5,986.4 1764.0,986.5 1765.4,986.6 1766.8,986.6 1768.3,986.7 1769.8,986.8 1771.2,986.8 1772.7,986.8 1774.1,986.8 1775.5,986.7 1777.0,986.5 1778.5,986.3 1779.9,986.1 1781.3,985.8 1782.8,985.5 1784.2,985.1 1785.7,984.8 1787.2,984.5 1788.6,984.2 1790.0,983.9 1791.5,983.7 1793.0,983.5 1794.4,983.4 1795.8,983.4 1797.3,983.4 1798.8,983.4 1800.2,983.4 1801.7,983.5 1803.1,983.5 1804.5,983.5 1806.0,983.6 1807.5,983.6 1808.9,983.7 1810.3,983.7 1811.8,983.8 1813.2,983.8 1814.7,983.9 1816.2,983.9 1817.6,984.0 1819.0,984.1 1820.5,984.1 1822.0,984.2 1823.4,984.3 1824.8,984.3 1826.3,984.4 1827.8,984.5 1829.2,984.5 1830.7,984.6 1832.1,984.6 1833.5,984.7 1835.0,984.8 1836.5,984.8 1837.9,984.9 1839.3,984.9 1840.8,985.0 1842.2,985.1 1843.7,985.2 1845.2,985.2 1846.6,985.3 1848.0,985.4 1849.5,985.5 1851.0,985.5 1852.4,985.6 1853.8,985.7 1855.3,985.8 1856.8,985.8 1858.2,985.9 1859.7,986.0 1861.1,986.1 1862.5,986.1 1864.0,986.2 1865.5,986.3 1866.9,986.4 1868.3,986.4 1869.8,986.5 1871.2,986.6 1872.7,986.7 1874.2,986.7 1875.6,986.8 1877.0,986.9 1878.5,987.0 1880.0,987.0 1881.4,987.1 1882.8,987.2 1884.3,987.3 1885.8,987.3 1887.2,987.4 1888.7,987.5 1890.1,987.5 1891.5,987.6 1893.0,987.7 1894.5,987.8 1895.9,987.8 1897.3,987.9 1898.8,988.0 1900.2,988.1 1901.7,988.1 1903.2,988.2 1904.6,988.3 1906.0,988.3 1907.5,988.4 1909.0,988.5 1910.4,988.6 1911.8,988.6 1913.3,988.7 1914.8,988.8 1916.2,988.9 1917.7,988.9 1919.1,989.0 1920.5,989.1 1922.0,989.1" fill="none" stroke="#737373" stroke-width="7" stroke-linejoin="round" stroke-linecap="butt"/>
<polyline points="1487.0,991.3 1488.5,991.6 1489.9,991.8 1491.3,992.0 1492.8,992.2 1494.2,992.3 1495.7,992.4 1497.2,992.5 1498.6,992.5 1500.0,992.5 1501.5,992.6 1503.0,992.6 1504.4,992.6 1505.8,992.5 1507.3,992.4 1508.8,992.1 1510.2,991.7 1511.7,991.2 1513.1,990.6 1514.5,990.0 1516.0,989.3 1517.5,988.6 1518.9,987.8 1520.3,987.1 1521.8,986.3 1523.2,985.6 1524.7,984.9 1526.2,984.2 1527.6,983.6 1529.0,983.1 1530.5,982.7 1532.0,982.3 1533.4,982.1 1534.8,981.8 1536.3,981.5 1537.8,981.3 1539.2,981.0 1540.7,980.8 1542.1,980.6 1543.5,980.4 1545.0,980.3 1546.5,980.1 1547.9,980.0 1549.3,980.0 1550.8,980.0 1552.2,980.0 1553.7,980.0 1555.2,980.0 1556.6,980.0 1558.0,980.0 1559.5,980.0 1561.0,980.0 1562.4,980.0 1563.8,980.0 1565.3,980.0 1566.8,980.0 1568.2,980.0 1569.7,980.0 1571.1,980.0 1572.5,980.0 1574.0,980.0 1575.5,980.0 1576.9,980.0 1578.3,980.0 1579.8,980.0 1581.2,980.0 1582.7,980.0 1584.2,980.0 1585.6,980.0 1587.0,980.0 1588.5,980.0 1590.0,980.0 1591.4,980.0 1592.8,980.0 1594.3,980.0 1595.8,980.0 1597.2,980.0 1598.7,980.0 1600.1,980.0 1601.5,980.0 1603.0,980.0 1604.5,980.0 1605.9,980.0 1607.3,980.0 1608.8,980.0 1610.2,980.0 1611.7,980.0 1613.2,980.0 1614.6,980.0 1616.0,980.0 1617.5,980.0 1619.0,980.1 1620.4,980.2 1621.8,980.2 1623.3,980.3 1624.8,980.4 1626.2,980.5 1627.7,980.6 1629.1,980.7 1630.5,980.8 1632.0,980.9 1633.5,981.0 1634.9,981.1 1636.3,981.2 1637.8,981.3 1639.2,981.4 1640.7,981.6 1642.2,981.7 1643.6,981.8 1645.0,982.0 1646.5,982.2 1648.0,982.3 1649.4,982.5 1650.8,982.7 1652.3,982.9 1653.8,983.1 1655.2,983.3 1656.7,983.5 1658.1,983.8 1659.5,984.0 1661.0,984.2 1662.5,984.4 1663.9,984.7 1665.3,984.9 1666.8,985.2 1668.2,985.4 1669.7,985.7 1671.2,986.0 1672.6,986.3 1674.0,986.6 1675.5,986.9 1677.0,987.3 1678.4,987.6 1679.8,988.0 1681.3,988.4 1682.8,988.8 1684.2,989.2 1685.7,989.6 1687.1,990.0 1688.5,990.4 1690.0,990.7 1691.5,991.1 1692.9,991.5 1694.3,991.9 1695.8,992.3 1697.2,992.8 1698.7,993.2 1700.2,993.7 1701.6,994.2 1703.0,994.7 1704.5,995.1 1706.0,995.6 1707.4,996.0 1708.8,996.3 1710.3,996.6 1711.8,996.9 1713.2,997.0 1714.7,997.1 1716.1,997.1 1717.5,997.1 1719.0,997.1 1720.5,997.1 1721.9,997.1 1723.3,997.1 1724.8,997.1 1726.2,997.1 1727.7,997.1 1729.2,997.1 1730.6,997.1 1732.0,997.1 1733.5,997.1 1735.0,997.1 1736.4,997.1 1737.8,997.1 1739.3,997.1 1740.8,997.1 1742.2,997.1 1743.7,997.1 1745.1,997.1 1746.5,997.1 1748.0,997.1 1749.5,997.1 1750.9,997.1 1752.3,997.1 1753.8,997.1 1755.2,997.1 1756.7,997.1 1758.2,997.1 1759.6,997.1 1761.0,997.1 1762.5,997.1 1764.0,997.1 1765.4,997.1 1766.8,997.1 1768.3,997.1 1769.8,997.1 1771.2,997.1 1772.7,997.1 1774.1,997.1 1775.5,997.0 1777.0,996.7 1778.5,996.5 1779.9,996.1 1781.3,995.7 1782.8,995.3 1784.2,994.9 1785.7,994.4 1787.2,994.0 1788.6,993.6 1790.0,993.3 1791.5,993.0 1793.0,992.8 1794.4,992.6 1795.8,992.6 1797.3,992.6 1798.8,992.6 1800.2,992.6 1801.7,992.6 1803.1,992.6 1804.5,992.6 1806.0,992.6 1807.5,992.6 1808.9,992.6 1810.3,992.6 1811.8,992.6 1813.2,992.6 1814.7,992.6 1816.2,992.6 1817.6,992.6 1819.0,992.6 1820.5,992.6 1822.0,992.6 1823.4,992.6 1824.8,992.6 1826.3,992.6 1827.8,992.6 1829.2,992.6 1830.7,992.6 1832.1,992.6 1833.5,992.6 1835.0,992.6 1836.5,992.6 1837.9,992.6 1839.3,992.6 1840.8,992.6 1842.2,992.6 1843.7,992.6 1845.2,992.6 1846.6,992.6 1848.0,992.6 1849.5,992.6 1851.0,992.6 1852.4,992.6 1853.8,992.6 1855.3,992.6 1856.8,992.6 1858.2,992.6 1859.7,992.6 1861.1,992.6 1862.5,992.6 1864.0,992.6 1865.5,992.6 1866.9,992.6 1868.3,992.6 1869.8,992.6 1871.2,992.6 1872.7,992.6 1874.2,992.6 1875.6,992.6 1877.0,992.6 1878.5,992.6 1880.0,992.6 1881.4,992.6 1882.8,992.6 1884.3,992.7 1885.8,992.7 1887.2,992.8 1888.7,992.8 1890.1,992.9 1891.5,992.9 1893.0,993.0 1894.5,993.1 1895.9,993.1 1897.3,993.2 1898.8,993.3 1900.2,993.4 1901.7,993.4 1903.2,993.5 1904.6,993.6 1906.0,993.7 1907.5,993.8 1909.0,993.9 1910.4,994.0 1911.8,994.1 1913.3,994.2 1914.8,994.3 1916.2,994.4 1917.7,994.6 1919.1,994.7 1920.5,994.8 1922.0,994.9" fill="none" stroke="#f59a3c" stroke-width="7" stroke-linejoin="round" stroke-linecap="butt"/>
<text x="1893.80" y="918.40" font-size="29.42" font-weight="bold" fill="#111" stroke="#111" stroke-width="0.3" textLength="15.62" lengthAdjust="spacingAndGlyphs">L</text>
<text x="1429.20" y="892.33" font-size="27.18" font-weight="normal" fill="#5e5e5e" stroke="#5e5e5e" stroke-width="0.4" textLength="27.75" lengthAdjust="spacingAndGlyphs">20</text>
<text x="1443.00" y="955.94" font-size="25.92" font-weight="normal" fill="#5e5e5e" stroke="#5e5e5e" stroke-width="0.4" textLength="13.80" lengthAdjust="spacingAndGlyphs">0</text>
<text x="1421.90" y="1018.63" font-size="27.32" font-weight="normal" fill="#5e5e5e" stroke="#5e5e5e" stroke-width="0.4" textLength="36.68" lengthAdjust="spacingAndGlyphs">-20</text>
<text x="1421.90" y="1082.13" font-size="27.32" font-weight="normal" fill="#5e5e5e" stroke="#5e5e5e" stroke-width="0.4" textLength="36.68" lengthAdjust="spacingAndGlyphs">-40</text>
<text x="158.00" y="115.30" font-size="25.97" font-weight="normal" fill="#4a4a4a" stroke="#4a4a4a" stroke-width="0.35" textLength="64.02" lengthAdjust="spacingAndGlyphs">(deg)</text>
<text x="398.00" y="105.40" font-size="28.55" font-weight="normal" fill="#1e1e1e" stroke="#1e1e1e" stroke-width="0.55" textLength="85.98" lengthAdjust="spacingAndGlyphs">Sagittal</text>
<text x="1021.00" y="110.20" font-size="26.38" font-weight="normal" fill="#1e1e1e" stroke="#1e1e1e" stroke-width="0.55" textLength="82.25" lengthAdjust="spacingAndGlyphs">Frontal</text>
<text x="1625.90" y="110.00" font-size="26.09" font-weight="normal" fill="#1e1e1e" stroke="#1e1e1e" stroke-width="0.55" textLength="119.95" lengthAdjust="spacingAndGlyphs">Horizontal</text>
<text x="9.30" y="249.90" font-size="28.26" font-weight="normal" fill="#1e1e1e" stroke="#1e1e1e" stroke-width="0.55" textLength="67.64" lengthAdjust="spacingAndGlyphs">Pelvis</text>
<text x="34.30" y="491.70" font-size="28.55" font-weight="normal" fill="#1e1e1e" stroke="#1e1e1e" stroke-width="0.55" textLength="35.91" lengthAdjust="spacingAndGlyphs">Hip</text>
<text x="22.00" y="753.72" font-size="27.57" font-weight="normal" fill="#1e1e1e" stroke="#1e1e1e" stroke-width="0.55" textLength="59.88" lengthAdjust="spacingAndGlyphs">Knee</text>
<text x="17.50" y="999.22" font-size="27.67" font-weight="normal" fill="#1e1e1e" stroke="#1e1e1e" stroke-width="0.55" textLength="68.24" lengthAdjust="spacingAndGlyphs">Ankle</text>
<text x="104.80" y="219.00" font-size="27.54" font-weight="normal" fill="#1e1e1e" stroke="#1e1e1e" stroke-width="0.55" textLength="56.57" lengthAdjust="spacingAndGlyphs">Post.</text>
<text x="108.00" y="285.00" font-size="27.54" font-weight="normal" fill="#1e1e1e" stroke="#1e1e1e" stroke-width="0.55" textLength="47.97" lengthAdjust="spacingAndGlyphs">Ant.</text>
<text x="105.00" y="466.60" font-size="27.97" font-weight="normal" fill="#1e1e1e" stroke="#1e1e1e" stroke-width="0.55" textLength="53.42" lengthAdjust="spacingAndGlyphs">Flex.</text>
<text x="112.40" y="532.00" font-size="26.67" font-weight="normal" fill="#1e1e1e" stroke="#1e1e1e" stroke-width="0.55" textLength="41.56" lengthAdjust="spacingAndGlyphs">Ext.</text>
<text x="112.40" y="706.00" font-size="26.52" font-weight="normal" fill="#1e1e1e" stroke="#1e1e1e" stroke-width="0.55" textLength="41.56" lengthAdjust="spacingAndGlyphs">Ext.</text>
<text x="105.00" y="781.70" font-size="26.81" font-weight="normal" fill="#1e1e1e" stroke="#1e1e1e" stroke-width="0.55" textLength="53.42" lengthAdjust="spacingAndGlyphs">Flex.</text>
<text x="111.50" y="959.00" font-size="28.12" font-weight="normal" fill="#1e1e1e" stroke="#1e1e1e" stroke-width="0.55" textLength="46.04" lengthAdjust="spacingAndGlyphs">D.F.</text>
<text x="115.20" y="1034.60" font-size="28.12" font-weight="normal" fill="#1e1e1e" stroke="#1e1e1e" stroke-width="0.55" textLength="42.50" lengthAdjust="spacingAndGlyphs">P.F.</text>
<text x="735.20" y="219.60" font-size="28.84" font-weight="normal" fill="#1e1e1e" stroke="#1e1e1e" stroke-width="0.55" textLength="54.86" lengthAdjust="spacingAndGlyphs">Hike.</text>
<text x="735.20" y="287.60" font-size="29.42" font-weight="normal" fill="#1e1e1e" stroke="#1e1e1e" stroke-width="0.55" textLength="61.98" lengthAdjust="spacingAndGlyphs">Drop.</text>
<text x="737.50" y="459.30" font-size="27.97" font-weight="normal" fill="#1e1e1e" stroke="#1e1e1e" stroke-width="0.55" textLength="55.22" lengthAdjust="spacingAndGlyphs">Add.</text>
<text x="737.50" y="527.00" font-size="28.26" font-weight="normal" fill="#1e1e1e" stroke="#1e1e1e" stroke-width="0.55" textLength="55.22" lengthAdjust="spacingAndGlyphs">Abd.</text>
<text x="737.50" y="704.30" font-size="27.97" font-weight="normal" fill="#1e1e1e" stroke="#1e1e1e" stroke-width="0.55" textLength="55.22" lengthAdjust="spacingAndGlyphs">Add.</text>
<text x="737.50" y="776.50" font-size="28.26" font-weight="normal" fill="#1e1e1e" stroke="#1e1e1e" stroke-width="0.55" textLength="55.22" lengthAdjust="spacingAndGlyphs">Abd.</text>
<text x="737.50" y="953.50" font-size="28.26" font-weight="normal" fill="#1e1e1e" stroke="#1e1e1e" stroke-width="0.55" textLength="55.22" lengthAdjust="spacingAndGlyphs">Add.</text>
<text x="737.50" y="1024.40" font-size="28.12" font-weight="normal" fill="#1e1e1e" stroke="#1e1e1e" stroke-width="0.55" textLength="55.22" lengthAdjust="spacingAndGlyphs">Abd.</text>
<text x="1373.50" y="212.40" font-size="28.12" font-weight="normal" fill="#1e1e1e" stroke="#1e1e1e" stroke-width="0.55" textLength="34.90" lengthAdjust="spacingAndGlyphs">I.R.</text>
<text x="1368.70" y="282.50" font-size="27.68" font-weight="normal" fill="#1e1e1e" stroke="#1e1e1e" stroke-width="0.55" textLength="44.41" lengthAdjust="spacingAndGlyphs">E.R.</text>
<text x="1373.00" y="443.60" font-size="28.12" font-weight="normal" fill="#1e1e1e" stroke="#1e1e1e" stroke-width="0.55" textLength="34.90" lengthAdjust="spacingAndGlyphs">I.R.</text>
<text x="1368.40" y="517.30" font-size="27.97" font-weight="normal" fill="#1e1e1e" stroke="#1e1e1e" stroke-width="0.55" textLength="44.31" lengthAdjust="spacingAndGlyphs">E.R.</text>
<text x="1373.00" y="719.00" font-size="28.12" font-weight="normal" fill="#1e1e1e" stroke="#1e1e1e" stroke-width="0.55" textLength="34.90" lengthAdjust="spacingAndGlyphs">I.R.</text>
<text x="1368.40" y="778.90" font-size="28.12" font-weight="normal" fill="#1e1e1e" stroke="#1e1e1e" stroke-width="0.55" textLength="44.31" lengthAdjust="spacingAndGlyphs">E.R.</text>
<text x="1361.00" y="956.20" font-size="26.67" font-weight="normal" fill="#1e1e1e" stroke="#1e1e1e" stroke-width="0.55" textLength="59.97" lengthAdjust="spacingAndGlyphs">Ever.</text>
<text x="1371.20" y="1027.00" font-size="27.83" font-weight="normal" fill="#1e1e1e" stroke="#1e1e1e" stroke-width="0.55" textLength="39.54" lengthAdjust="spacingAndGlyphs">Inv.</text>
<path d="M137.5 179.7 L137.5 152.8 M129.0 161.3 L137.5 151.8 L146.0 161.3" fill="none" stroke="#2a2a2a" stroke-width="2.1" stroke-linejoin="miter"/>
<path d="M137.5 428.8 L137.5 402.2 M129.0 410.7 L137.5 401.2 L146.0 410.7" fill="none" stroke="#2a2a2a" stroke-width="2.1" stroke-linejoin="miter"/>
<path d="M137.5 669.2 L137.5 641.7 M129.0 650.2 L137.5 640.7 L146.0 650.2" fill="none" stroke="#2a2a2a" stroke-width="2.1" stroke-linejoin="miter"/>
<path d="M137.5 922 L137.5 894.6 M129.0 903.1 L137.5 893.6 L146.0 903.1" fill="none" stroke="#2a2a2a" stroke-width="2.1" stroke-linejoin="miter"/>
<path d="M137.5 308 L137.5 336.7 M129.0 328.2 L137.5 337.7 L146.0 328.2" fill="none" stroke="#2a2a2a" stroke-width="2.1" stroke-linejoin="miter"/>
<path d="M137.5 553.2 L137.5 580.8 M129.0 572.3 L137.5 581.8 L146.0 572.3" fill="none" stroke="#2a2a2a" stroke-width="2.1" stroke-linejoin="miter"/>
<path d="M137.5 808.4 L137.5 836 M129.0 827.5 L137.5 837 L146.0 827.5" fill="none" stroke="#2a2a2a" stroke-width="2.1" stroke-linejoin="miter"/>
<path d="M137.5 1055.7 L137.5 1083.3 M129.0 1074.8 L137.5 1084.3 L146.0 1074.8" fill="none" stroke="#2a2a2a" stroke-width="2.1" stroke-linejoin="miter"/>
<path d="M765.2 183.7 L765.2 157.7 M756.7 166.2 L765.2 156.7 L773.7 166.2" fill="none" stroke="#2a2a2a" stroke-width="2.1" stroke-linejoin="miter"/>
<path d="M765.2 426 L765.2 399.4 M756.7 407.9 L765.2 398.4 L773.7 407.9" fill="none" stroke="#2a2a2a" stroke-width="2.1" stroke-linejoin="miter"/>
<path d="M765.2 671 L765.2 644.4 M756.7 652.9 L765.2 643.4 L773.7 652.9" fill="none" stroke="#2a2a2a" stroke-width="2.1" stroke-linejoin="miter"/>
<path d="M765.2 919.4 L765.2 891.8 M756.7 900.3 L765.2 890.8 L773.7 900.3" fill="none" stroke="#2a2a2a" stroke-width="2.1" stroke-linejoin="miter"/>
<path d="M765.2 311 L765.2 339 M756.7 330.5 L765.2 340 L773.7 330.5" fill="none" stroke="#2a2a2a" stroke-width="2.1" stroke-linejoin="miter"/>
<path d="M765.2 551.4 L765.2 579 M756.7 570.5 L765.2 580 L773.7 570.5" fill="none" stroke="#2a2a2a" stroke-width="2.1" stroke-linejoin="miter"/>
<path d="M765.2 798.3 L765.2 825.8 M756.7 817.3 L765.2 826.8 L773.7 817.3" fill="none" stroke="#2a2a2a" stroke-width="2.1" stroke-linejoin="miter"/>
<path d="M765.2 1046.6 L765.2 1073.2 M756.7 1064.7 L765.2 1074.2 L773.7 1064.7" fill="none" stroke="#2a2a2a" stroke-width="2.1" stroke-linejoin="miter"/>
<path d="M1393.4 180.5 L1393.4 156 M1384.9 164.5 L1393.4 155 L1401.9 164.5" fill="none" stroke="#2a2a2a" stroke-width="2.1" stroke-linejoin="miter"/>
<path d="M1393.4 414 L1393.4 386.5 M1384.9 395.0 L1393.4 385.5 L1401.9 395.0" fill="none" stroke="#2a2a2a" stroke-width="2.1" stroke-linejoin="miter"/>
<path d="M1393.4 684.9 L1393.4 656.4 M1384.9 664.9 L1393.4 655.4 L1401.9 664.9" fill="none" stroke="#2a2a2a" stroke-width="2.1" stroke-linejoin="miter"/>
<path d="M1393.4 916.6 L1393.4 890 M1384.9 898.5 L1393.4 889 L1401.9 898.5" fill="none" stroke="#2a2a2a" stroke-width="2.1" stroke-linejoin="miter"/>
<path d="M1393.4 308 L1393.4 334 M1384.9 325.5 L1393.4 335 L1401.9 325.5" fill="none" stroke="#2a2a2a" stroke-width="2.1" stroke-linejoin="miter"/>
<path d="M1393.4 538.5 L1393.4 566 M1384.9 557.5 L1393.4 567 L1401.9 557.5" fill="none" stroke="#2a2a2a" stroke-width="2.1" stroke-linejoin="miter"/>
<path d="M1393.4 800 L1393.4 828.5 M1384.9 820.0 L1393.4 829.5 L1401.9 820.0" fill="none" stroke="#2a2a2a" stroke-width="2.1" stroke-linejoin="miter"/>
<path d="M1393.4 1047.4 L1393.4 1076 M1384.9 1067.5 L1393.4 1077 L1401.9 1067.5" fill="none" stroke="#2a2a2a" stroke-width="2.1" stroke-linejoin="miter"/>
<text x="211.00" y="1109.73" font-size="26.76" font-weight="normal" fill="#5e5e5e" stroke="#5e5e5e" stroke-width="0.4" textLength="11.92" lengthAdjust="spacingAndGlyphs">0</text>
<text x="466.40" y="1109.73" font-size="26.76" font-weight="normal" fill="#5e5e5e" stroke="#5e5e5e" stroke-width="0.4" textLength="29.66" lengthAdjust="spacingAndGlyphs">60</text>
<text x="645.00" y="1109.73" font-size="26.76" font-weight="normal" fill="#5e5e5e" stroke="#5e5e5e" stroke-width="0.4" textLength="41.96" lengthAdjust="spacingAndGlyphs">100</text>
<text x="846.40" y="1109.73" font-size="26.76" font-weight="normal" fill="#5e5e5e" stroke="#5e5e5e" stroke-width="0.4" textLength="12.51" lengthAdjust="spacingAndGlyphs">0</text>
<text x="1099.70" y="1109.73" font-size="26.76" font-weight="normal" fill="#5e5e5e" stroke="#5e5e5e" stroke-width="0.4" textLength="29.06" lengthAdjust="spacingAndGlyphs">60</text>
<text x="1275.80" y="1109.73" font-size="26.76" font-weight="normal" fill="#5e5e5e" stroke="#5e5e5e" stroke-width="0.4" textLength="41.66" lengthAdjust="spacingAndGlyphs">100</text>
<text x="1475.40" y="1109.73" font-size="26.76" font-weight="normal" fill="#5e5e5e" stroke="#5e5e5e" stroke-width="0.4" textLength="11.22" lengthAdjust="spacingAndGlyphs">0</text>
<text x="1725.70" y="1109.73" font-size="26.76" font-weight="normal" fill="#5e5e5e" stroke="#5e5e5e" stroke-width="0.4" textLength="28.36" lengthAdjust="spacingAndGlyphs">60</text>
<text x="1904.20" y="1109.73" font-size="26.76" font-weight="normal" fill="#5e5e5e" stroke="#5e5e5e" stroke-width="0.4" textLength="41.06" lengthAdjust="spacingAndGlyphs">100</text>
<text x="1959.30" y="1109.22" font-size="26.56" font-weight="normal" fill="#5e5e5e" stroke="#5e5e5e" stroke-width="0.4" textLength="41.57" lengthAdjust="spacingAndGlyphs">(%)</text>
<text x="970.00" y="1145.00" font-size="27.54" font-weight="bold" fill="#1a1a1a" stroke="#1a1a1a" stroke-width="0.35" textLength="133.02" lengthAdjust="spacingAndGlyphs">Gait Cycle</text>
<text x="1780.40" y="1154.90" font-size="27.68" font-weight="normal" fill="#6a6a6a" stroke="#6a6a6a" stroke-width="0.25" textLength="141.27" lengthAdjust="spacing">(Mean±SD)</text>
<rect x="748.5" y="1190.5" width="597.5" height="94" fill="#fff" stroke="#3c3c3c" stroke-width="2"/>
<line x1="789" y1="1219.4" x2="826" y2="1219.4" stroke="#737373" stroke-width="6.5" stroke-linecap="round"/>
<line x1="789" y1="1260.2" x2="826" y2="1260.2" stroke="#f59a3c" stroke-width="6.5" stroke-linecap="round"/>
<text x="856.90" y="1226.70" font-size="28.99" font-weight="normal" fill="#1e1e1e" stroke="#1e1e1e" stroke-width="0.55" textLength="424.51" lengthAdjust="spacingAndGlyphs">Non-sarcopenic participants (n=23)</text>
<text x="856.90" y="1264.00" font-size="27.54" font-weight="normal" fill="#1e1e1e" stroke="#1e1e1e" stroke-width="0.55" textLength="368.70" lengthAdjust="spacingAndGlyphs">Sarcopenic participants (n=15)</text></g></svg></body></html>
